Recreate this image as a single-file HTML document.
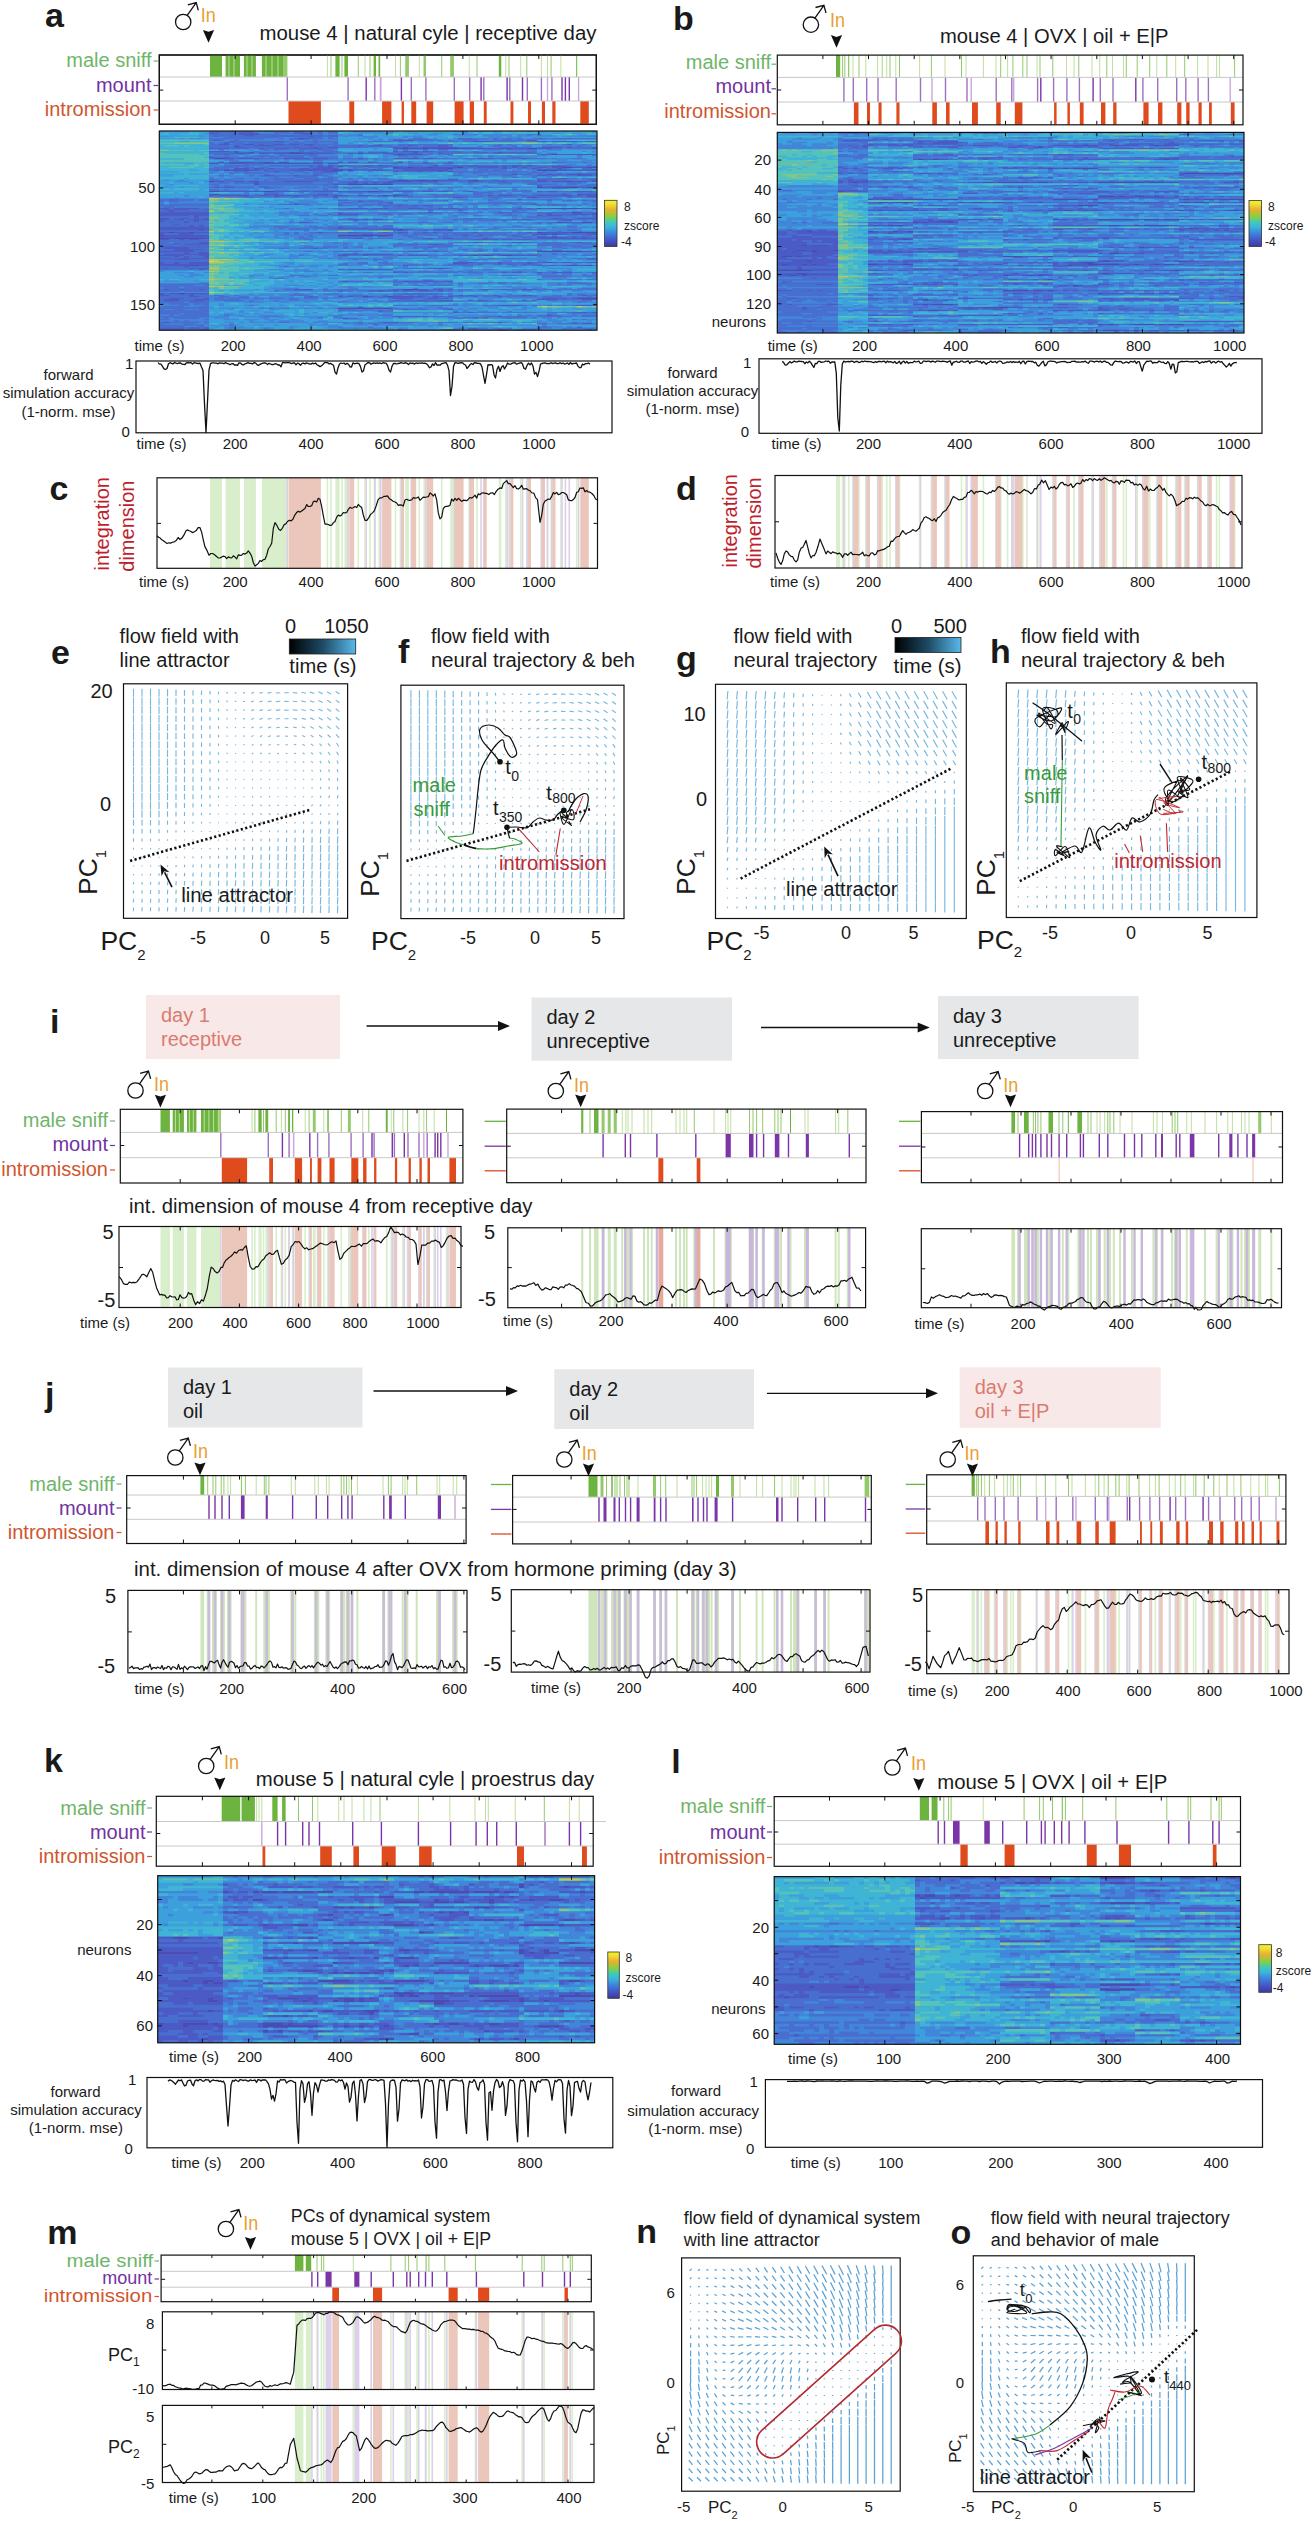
<!DOCTYPE html><html><head><meta charset="utf-8"><style>html,body{margin:0;padding:0;background:#fff;width:1316px;height:2521px;overflow:hidden}
svg{display:block;font-family:"Liberation Sans",sans-serif;fill:#1a1a1a}</style></head><body>
<svg width="1316" height="2521" viewBox="0 0 1316 2521"><defs><linearGradient id="parula" x1="0" y1="1" x2="0" y2="0">
<stop offset="0" stop-color="#3b3ba0"/><stop offset="0.15" stop-color="#4658c8"/><stop offset="0.3" stop-color="#3c88e0"/>
<stop offset="0.42" stop-color="#3cb4dc"/><stop offset="0.52" stop-color="#3ec8c0"/><stop offset="0.65" stop-color="#88d040"/>
<stop offset="0.8" stop-color="#e8b030"/><stop offset="0.92" stop-color="#f0e030"/><stop offset="1" stop-color="#f4f420"/></linearGradient>
<linearGradient id="tgrad" x1="0" y1="0" x2="1" y2="0"><stop offset="0" stop-color="#000"/><stop offset="0.5" stop-color="#1c4a64"/><stop offset="1" stop-color="#5ab8ec"/></linearGradient></defs><text x="45" y="27" font-size="34" font-weight="bold">a</text>
<circle cx="183.2" cy="22" r="7.7" fill="none" stroke="#111" stroke-width="1.3"/>
<path d="M187.2,15.4L196.2,2.6M187.8,4.8L196.2,2.6L198.3,10.3" fill="none" stroke="#111" stroke-width="1.3"/>
<text x="200.8" y="21.7" font-size="20" fill="#e8a030" textLength="15" lengthAdjust="spacingAndGlyphs">In</text>
<path d="M202.9,30L208.5,31.8L214.1,30L208.5,42.7z" fill="#111"/>
<text x="259.5" y="40" font-size="20" textLength="337" lengthAdjust="spacingAndGlyphs">mouse 4 | natural cyle | receptive day</text>
<rect x="159.3" y="55" width="437" height="69.3" fill="none" stroke="#111" stroke-width="1.2"/>
<path fill="#6cb33f" d="M210.0 55.0h12.0v22.0h-12.0zM225.6 55.0h14.4v22.0h-14.4zM243.9 55.0h12.0v22.0h-12.0zM261.9 55.0h25.4v22.0h-25.4zM335.4 55.0h4.2v22.0h-4.2zM344.4 55.0h3.6v22.0h-3.6zM373.6 55.0h2.4v22.0h-2.4zM378.5 55.0h1.7v22.0h-1.7zM498.8 55.0h2.5v22.0h-2.5zM576.2 55.0h1.0v22.0h-1.0z"/>
<path fill="#bfe0a0" d="M228.5 55.0h1.0v22.0h-1.0zM233.5 55.0h1.0v22.0h-1.0zM246.5 55.0h1.0v22.0h-1.0zM251.5 55.0h1.0v22.0h-1.0zM265.5 55.0h1.0v22.0h-1.0zM271.5 55.0h1.0v22.0h-1.0zM277.5 55.0h1.0v22.0h-1.0zM283.5 55.0h1.0v22.0h-1.0zM285.5 55.0h1.0v22.0h-1.0zM326.9 55.0h1.0v22.0h-1.0zM364.5 55.0h1.0v22.0h-1.0zM395.0 55.0h1.0v22.0h-1.0zM418.8 55.0h1.0v22.0h-1.0zM468.7 55.0h1.0v22.0h-1.0zM505.2 55.0h1.0v22.0h-1.0zM520.2 55.0h1.0v22.0h-1.0zM540.9 55.0h1.0v22.0h-1.0zM547.0 55.0h1.0v22.0h-1.0zM560.4 55.0h1.0v22.0h-1.0z"/>
<path fill="#93c96c" d="M330.5 55.0h1.0v22.0h-1.0zM341.5 55.0h1.0v22.0h-1.0zM357.8 55.0h1.0v22.0h-1.0zM369.5 55.0h1.0v22.0h-1.0zM399.9 55.0h1.0v22.0h-1.0zM405.2 55.0h3.7v22.0h-3.7zM423.5 55.0h2.5v22.0h-2.5zM441.2 55.0h1.0v22.0h-1.0zM450.2 55.0h3.7v22.0h-3.7zM476.5 55.0h1.0v22.0h-1.0zM508.5 55.0h1.0v22.0h-1.0zM526.3 55.0h1.0v22.0h-1.0zM550.6 55.0h1.0v22.0h-1.0z"/>
<path fill="#a070c0" d="M286.6 77.0h1.4v24.0h-1.4zM347.4 77.0h1.4v24.0h-1.4zM374.1 77.0h1.4v24.0h-1.4zM410.6 77.0h1.4v24.0h-1.4zM425.2 77.0h1.4v24.0h-1.4zM453.6 77.0h1.4v24.0h-1.4zM469.0 77.0h1.4v24.0h-1.4zM483.1 77.0h1.4v24.0h-1.4zM509.1 77.0h1.4v24.0h-1.4zM526.6 77.0h1.4v24.0h-1.4zM540.7 77.0h1.4v24.0h-1.4zM551.2 77.0h1.4v24.0h-1.4z"/>
<path fill="#7b35a8" d="M365.5 77.0h1.4v24.0h-1.4zM400.7 77.0h1.4v24.0h-1.4zM480.4 77.0h1.4v24.0h-1.4zM506.4 77.0h1.4v24.0h-1.4zM521.8 77.0h1.4v24.0h-1.4zM561.3 77.0h1.4v24.0h-1.4zM564.7 77.0h1.4v24.0h-1.4zM568.6 77.0h1.4v24.0h-1.4z"/>
<path fill="#c9a8dc" d="M379.7 77.0h1.9v24.0h-1.9zM546.8 77.0h1.4v24.0h-1.4zM577.9 77.0h1.4v24.0h-1.4z"/>
<path fill="#e04b1e" d="M288.5 101.0h32.4v23.3h-32.4zM349.3 101.0h4.9v23.3h-4.9zM382.1 101.0h9.3v23.3h-9.3zM401.6 101.0h2.4v23.3h-2.4zM411.3 101.0h4.9v23.3h-4.9zM426.6 101.0h6.6v23.3h-6.6zM454.6 101.0h9.0v23.3h-9.0zM469.7 101.0h4.3v23.3h-4.3zM483.8 101.0h2.9v23.3h-2.9zM510.5 101.0h2.9v23.3h-2.9zM528.0 101.0h3.0v23.3h-3.0zM541.9 101.0h3.1v23.3h-3.1zM552.3 101.0h3.2v23.3h-3.2zM580.3 101.0h8.5v23.3h-8.5z"/>
<line x1="159.3" y1="77" x2="596.3" y2="77" stroke="#c8c8c8" stroke-width="1" />
<line x1="159.3" y1="101" x2="596.3" y2="101" stroke="#c8c8c8" stroke-width="1" />
<rect x="159.3" y="55" width="437" height="69.3" fill="none" stroke="#111" stroke-width="1.2"/>
<path d="M235.2,55v4M235.2,124.3v-4M311.1,55v4M311.1,124.3v-4M387,55v4M387,124.3v-4M462.9,55v4M462.9,124.3v-4M538.8,55v4M538.8,124.3v-4" stroke="#111" stroke-width="1"/>
<path d="M159.3,90.1h4M596.3,90.1h-4" stroke="#111" stroke-width="1"/>
<text x="151.5" y="66.9" font-size="20" text-anchor="end" fill="#6fb56a">male sniff</text>
<text x="151.5" y="91.8" font-size="20" text-anchor="end" fill="#7232a2">mount</text>
<text x="151.5" y="116.4" font-size="20" text-anchor="end" fill="#d0552e">intromission</text>
<line x1="153.5" y1="61" x2="158" y2="61" stroke="#6fb56a" stroke-width="1.2" />
<line x1="153.5" y1="85.5" x2="158" y2="85.5" stroke="#7232a2" stroke-width="1.2" />
<line x1="153.5" y1="110" x2="158" y2="110" stroke="#d0552e" stroke-width="1.2" />
<g><rect x="159.3" y="131" width="437.7" height="199.2" fill="#4286da"/><path stroke="#4a4cb2" stroke-width="1.57" d="M304 133.1h5m283 2.9h5m-298 2.8h5m233 0h5m25 0h5m-174 10h30m10 0h45m19 0h10m15 0h10m-288 4.3h5m35 0h15m5 0h4m185 0h4m25 0h5m-134 1.4h5m149 0h5m25 0h5m-373 4.2h10m-15 4.3h15m5 0h25m5 0h50m4 0h60m5 0h15m5 0h5m-65 2.9h10m15 0h10m5 0h10m80 0h10m34 0h10m5 0h5m-139 1.4h5m10 0h5m15 0h5m25 0h5m99 0h10m15 0h10m-149 1.4h5m-229 1.4h5m5 0h5m5 0h5m60 0h4m20 0h10m5 0h5m20 0h15m149 0h30m5 0h25m-20 4.3h5m-184 5.7h10m5 0h15m5 0h5m35 0h5m-269 1.4h5m353 0h5m-224 2.9h45m144 2.8h5m10 0h30m5 0h5m-383 4.3h10m45 0h10m94 0h10m-164 2.8h5m164 1.4h5m5 0h5m134 1.5h5m0 11.3h5m10 0h30m10 0h5m-25 4.3h5m-20 10h5m20 0h10m-393 7.1h5m194 0h5m45 0h5m-284 2.8h5m15 0h5m343 0h5m30 0h25m-55 1.5h20m-403 1.4h5m174 0h50m159 1.4h10m-398 1.4h10m5 0h30m333 12.8h45m-109 4.3h5m5 0h10m9 0h10m35 7.1h5m-363 2.9h10m368 0h10m10 0h5m-189 24.1h15m-40 1.5h5m-204 2.8h5m179 2.9h5m20 0h5m184 1.4h20m-179 2.8h10m5 0h20m25 0h5m-145 7.1h55"/><path stroke="#4c5ac6" stroke-width="1.57" d="M209 133.1h10m20 0h20m35 0h10m5 0h4m-74 1.5h20m-45 1.4h5m10 0h5m10 0h10m15 0h54m5 0h10m249 0h5m-283 1.4h4m-19 1.4h5m5 0h5m149 0h15m69 0h5m5 0h15m5 0h25m-383 1.4h5m174 0h20m114 0h10m-308 1.5h5m40 0h10m189 0h20m44 0h10m5 0h25m10 0h10m-373 1.4h5m-10 1.4h10m15 0h10m5 0h5m10 0h10m5 0h10m5 0h9m254 0h5m-338 1.4h5m15 0h20m35 0h4m45 0h5m5 0h15m25 0h5m25 0h10m-214 1.5h10m50 0h5m14 0h5m10 0h10m55 0h5m5 0h5m15 0h35m84 0h20m5 0h5m20 0h5m-388 1.4h20m15 0h5m10 0h5m10 0h15m10 0h24m70 0h5m30 0h10m45 0h19m10 0h15m10 0h15m40 0h5m-388 2.8h20m5 0h5m154 0h5m5 0h15m5 0h10m-199 1.5h15m10 0h30m15 0h5m4 0h20m10 0h50m20 0h5m20 0h5m10 0h10m10 0h15m5 0h5m4 0h25m5 0h5m-313 1.4h5m164 0h5m5 0h20m119 0h10m5 0h25m5 0h10m-388 2.8h5m10 0h5m-5 1.4h10m5 0h20m25 0h25m4 0h15m30 0h5m30 0h25m5 0h10m45 0h15m29 0h5m-303 4.3h5m25 0h5m50 0h4m60 0h5m15 0h5m25 0h10m10 0h10m25 0h10m5 0h9m15 0h20m5 0h15m-248 2.9h4m5 0h5m5 0h5m15 0h15m10 0h5m10 0h5m40 0h5m15 0h15m10 0h34m10 0h5m5 0h5m10 0h20m-249 1.4h15m65 0h10m5 0h15m5 0h25m20 0h20m4 0h5m5 0h5m5 0h5m10 0h10m5 0h10m10 0h15m-353 1.4h15m5 0h10m5 0h5m25 0h10m4 0h25m55 0h55m54 0h5m25 0h5m20 0h5m-348 1.4h10m5 0h5m5 0h5m5 0h10m5 0h5m20 0h20m4 0h20m10 0h5m5 0h20m15 0h5m10 0h45m119 0h5m-298 1.5h5m44 0h15m55 0h5m20 0h5m15 0h5m5 0h5m59 2.8h5m30 0h5m5 0h5m5 0h10m5 0h10m-328 1.4h10m20 0h5m14 0h5m219 0h10m5 0h5m20 0h15m-35 2.9h10m-254 1.4h5m75 0h5m10 0h5m15 0h5m5 0h20m10 0h5m20 0h5m39 0h10m45 0h5m-383 1.4h10m10 0h10m5 0h10m25 0h29m40 0h5m30 0h25m5 0h20m30 0h15m15 0h9m30 0h10m5 0h15m5 0h15m5 0h5m-343 1.4h5m89 0h10m5 0h5m5 0h5m5 0h10m-139 1.5h5m74 0h15m189 1.4h5m-328 1.4h5m5 0h10m25 0h10m64 0h5m150 0h5m49 0h10m30 0h5m5 0h5m-378 4.3h45m10 0h35m4 0h55m10 0h35m10 0h10m5 0h10m20 0h5m64 0h5m5 0h10m15 0h20m-383 2.8h5m50 0h15m39 0h10m234 0h5m10 0h20m-388 1.4h5m5 0h30m10 0h10m5 0h30m9 0h5m5 0h5m5 0h15m10 0h15m5 0h5m5 0h5m5 0h10m80 0h5m5 0h14m10 0h5m10 0h35m5 0h5m5 0h10m-353 1.5h15m15 0h5m15 0h5m34 0h5m115 0h10m64 0h5m35 0h10m10 0h10m-428 2.8h5m164 0h10m95 0h5m69 0h10m20 0h5m15 0h5m5 0h10m-229 1.4h5m25 1.5h5m114 0h5m-218 1.4h5m233 0h5m15 0h5m-219 1.4h5m40 0h5m10 0h5m10 0h5m5 0h10m-274 2.8h10m5 0h25m149 0h20m5 0h15m20 0h15m15 0h20m59 0h5m5 0h5m10 0h10m30 0h10m-428 1.5h25m15 0h5m219 0h5m25 0h5m-294 1.4h5m-15 1.4h50m129 0h5m75 0h25m20 0h5m30 0h14m25 0h35m5 0h5m10 0h5m-438 1.4h50m129 0h20m25 0h5m159 0h5m20 0h25m-438 1.5h30m5 0h15m328 0h5m5 0h15m-368 1.4h5m-40 1.4h10m10 0h10m5 0h5m5 0h5m343 0h10m15 0h20m-438 1.4h10m5 0h10m5 0h20m129 0h5m5 0h40m110 0h34m30 0h10m-413 1.5h5m20 0h5m5 0h5m-30 1.4h5m10 0h5m110 0h10m84 0h5m139 0h5m5 0h10m5 0h20m-408 1.4h5m10 1.4h5m5 0h5m-45 1.4h50m129 0h5m-184 1.5h50m129 0h30m15 0h10m-234 1.4h40m5 0h5m159 0h30m5 0h10m10 0h25m-289 2.8h10m5 0h15m5 0h15m109 0h5m25 0h10m25 0h5m10 0h10m15 0h5m5 0h5m35 0h5m49 0h5m10 0h30m-413 1.5h5m15 0h15m169 0h10m15 0h5m139 0h10m20 0h5m20 0h10m-433 1.4h45m179 0h5m70 0h5m10 0h5m29 0h5m-358 1.4h50m328 0h10m10 0h10m5 0h5m5 0h5m-418 1.4h5m30 0h5m144 0h10m60 0h10m10 0h10m30 0h5m49 0h60m-438 1.4h10m10 0h5m5 0h10m274 0h25m4 0h10m5 0h15m-333 2.9h10m264 0h10m29 0h20m45 0h5m-408 1.4h5m5 0h25m199 0h5m15 0h15m-284 2.9h50m219 0h10m-274 1.4h25m124 0h5m-144 1.4h30m-45 1.4h35m214 0h15m10 0h5m144 0h15m-413 1.5h5m10 0h10m-45 1.4h45m134 0h15m5 0h30m100 0h9m-343 1.4h25m15 0h10m129 0h10m15 0h5m30 0h5m5 0h20m30 0h15m5 0h5m15 0h4m10 0h25m-363 1.4h5m5 0h5m15 0h5m-50 1.4h15m5 0h30m378 0h10m-423 1.5h15m-30 2.8h5m10 0h5m10 0h20m244 0h20m25 0h4m25 0h5m10 0h5m5 0h5m5 0h10m5 0h5m5 0h10m-438 1.4h50m244 0h15m10 0h5m15 0h4m5 0h5m10 0h15m-378 1.5h30m10 0h10m194 0h5m129 0h5m5 0h10m5 0h5m10 0h10m-403 1.4h5m-25 1.4h5m20 0h5m5 0h10m219 0h20m-249 1.4h5m134 0h5m5 0h45m0 2.9h5m5 0h5m94 0h5m5 0h10m15 0h5m10 0h20m20 0h5m-254 8.5h5m15 0h5m35 0h35m5 0h10m129 2.9h5m-423 5.6h5m10 0h5m15 0h5m90 0h19m80 0h10m15 0h10m5 0h10m5 0h5m30 0h5m14 0h5m15 0h15m-199 1.5h5m25 0h10m5 0h15m5 0h10m5 0h15m5 0h5m-284 2.8h5m5 0h10m5 0h25m194 0h35m-279 1.4h10m20 0h5m264 0h5m5 0h5m20 0h5m24 0h10m50 0h5m-398 1.5h10m110 0h4m25 0h5m5 0h5m15 0h5m10 0h5m5 0h30m10 0h10m5 0h5m20 0h5m20 0h4m-333 1.4h15m20 0h5m184 0h20m15 0h10m5 0h5m94 0h25m5 0h5m-413 1.4h15m15 0h15m328 0h20m25 0h15m-433 1.4h15m10 0h15m189 0h25m10 0h5m20 0h10m5 0h10m5 0h5m5 0h14m10 0h20m-39 4.3h24m55 0h20m-194 4.3h5m40 0h5m-115 1.4h5m10 0h5m20 0h5m70 1.4h5m10 0h5m99 0h15m5 0h5m-50 2.9h5m-159 1.4h35m70 0h4m-159 1.4h5m110 0h5m10 0h5m5 0h5m19 0h5m-348 4.3h5m214 0h15m100 0h4m70 1.4h5m5 0h10m-433 4.3h25m5 0h10m5 0h5m259 0h10m94 0h10"/><path stroke="#486ed0" stroke-width="1.57" d="M229 131.7h5m-15 1.4h20m35 0h20m19 0h10m5 0h10m50 0h5m-184 1.5h30m20 0h20m20 0h10m9 0h5m130 0h5m15 0h5m49 0h10m-328 1.4h5m5 0h10m5 0h10m10 0h15m54 0h5m15 0h5m10 0h5m174 0h20m10 0h20m-363 1.4h55m20 0h10m4 0h10m5 0h5m-124 1.4h55m15 0h5m5 0h5m15 0h14m5 0h10m75 0h15m45 0h15m5 0h5m4 0h10m5 0h5m25 0h5m-343 1.4h5m5 0h5m10 0h5m50 0h5m19 0h5m95 0h30m5 0h5m10 0h15m15 0h34m-293 1.5h40m10 0h5m5 0h5m5 0h34m30 0h25m5 0h5m45 0h10m5 0h10m20 0h24m10 0h10m10 0h5m25 0h10m-378 1.4h5m5 0h5m10 0h10m5 0h35m5 0h15m9 0h5m15 0h5m-129 1.4h10m10 0h15m10 0h5m5 0h10m10 0h5m10 0h5m9 0h25m40 0h5m15 0h55m45 0h4m5 0h5m35 0h5m10 0h5m15 0h5m-378 1.4h20m10 0h15m20 0h35m4 0h15m5 0h25m5 0h5m15 0h10m5 0h10m5 0h5m5 0h15m10 0h5m40 0h9m10 0h5m60 0h5m-373 1.5h25m10 0h50m5 0h14m5 0h10m10 0h30m20 0h5m5 0h5m5 0h15m35 0h25m15 0h34m5 0h5m20 0h5m5 0h20m-363 1.4h15m10 0h5m5 0h10m15 0h10m24 0h15m214 0h10m5 0h25m-328 1.4h5m5 0h5m20 0h5m14 0h15m-104 1.4h5m20 0h5m40 0h5m5 0h9m5 0h15m60 0h5m15 0h5m10 0h30m10 0h5m49 0h10m-328 1.5h25m20 0h5m74 0h10m50 0h20m5 0h5m5 0h5m10 0h10m10 0h10m15 0h5m-279 1.4h10m5 0h5m5 0h5m35 0h5m20 0h14m105 0h10m10 0h10m84 0h5m-288 1.4h20m5 0h25m5 0h9m80 0h10m65 0h5m10 0h5m14 0h5m-298 1.4h10m5 0h25m5 0h5m5 0h10m5 0h20m9 0h25m75 0h5m94 0h10m-313 1.4h5m20 0h5m20 0h25m25 0h4m15 0h10m5 0h15m5 0h5m5 0h5m40 0h5m10 0h25m5 0h15m15 0h29m5 0h20m5 0h5m15 0h10m-353 1.5h5m79 0h10m60 0h5m-154 1.4h5m164 1.4h20m10 0h10m10 0h25m10 0h5m9 0h15m20 0h5m15 0h10m15 0h5m5 0h5m-353 1.4h20m54 0h5m-99 1.5h25m20 0h40m4 0h5m5 0h5m5 0h5m60 0h5m5 0h15m5 0h5m5 0h15m84 0h10m20 0h5m15 0h5m-378 1.4h25m5 0h10m5 0h10m15 0h5m20 0h9m15 0h5m15 0h10m5 0h20m75 0h15m20 0h4m5 0h5m5 0h5m5 0h10m10 0h5m-343 1.4h20m20 0h5m10 0h5m5 0h25m10 0h4m40 0h5m5 0h5m10 0h5m70 0h15m5 0h29m5 0h5m5 0h15m5 0h5m5 0h10m5 0h5m15 0h10m-383 1.4h5m45 0h5m5 0h20m104 0h10m45 0h5m25 0h10m5 0h9m-268 1.5h15m15 0h10m5 0h10m5 0h10m9 0h10m75 0h20m5 0h15m5 0h5m5 0h74m5 0h5m5 0h5m-338 1.4h5m15 0h10m5 0h20m25 0h5m10 0h5m4 0h20m125 0h5m10 0h10m29 0h5m10 0h15m35 0h5m5 0h10m-333 1.4h5m44 0h10m165 0h24m5 0h15m5 0h10m5 0h5m5 0h5m25 0h5m-378 1.4h10m20 0h5m5 0h5m10 0h20m5 0h14m5 0h10m45 0h5m5 0h10m60 0h10m15 0h10m14 0h10m20 0h5m10 0h5m5 0h20m15 0h5m-323 1.4h5m15 0h24m10 0h10m174 0h5m15 0h5m-328 1.5h5m20 0h10m10 0h5m10 0h25m10 0h29m15 0h5m10 0h5m5 0h15m149 0h20m10 0h10m5 0h15m-388 1.4h10m5 0h10m30 0h5m5 0h39m5 0h20m120 0h10m10 0h15m5 0h34m15 0h20m20 0h5m-368 1.4h10m10 0h5m10 0h25m29 0h20m5 0h15m5 0h30m25 0h5m20 0h30m15 0h15m9 0h30m10 0h5m35 0h5m-373 1.4h10m5 0h20m5 0h54m15 0h5m5 0h10m10 0h5m5 0h5m5 0h5m10 0h30m5 0h10m30 0h5m15 0h24m10 0h15m30 0h15m-373 1.5h10m40 0h74m105 0h5m84 0h30m10 0h10m10 0h10m-383 1.4h5m5 0h5m94 0h5m229 0h5m20 0h15m-388 1.4h5m5 0h5m10 0h20m15 0h15m15 0h19m10 0h5m10 0h5m5 0h10m25 0h5m5 0h5m10 0h10m15 0h25m10 0h5m5 0h5m5 0h39m-268 1.4h10m20 0h5m24 0h5m20 0h5m20 0h5m174 0h15m-358 1.4h10m5 0h5m94 0h5m100 0h5m79 0h5m5 0h5m-218 1.5h4m100 0h10m10 0h5m10 0h5m10 0h5m5 0h5m10 0h19m5 0h20m10 0h5m10 0h15m20 0h5m-328 1.4h10m69 0h15m5 0h15m90 0h20m84 0h5m5 0h10m-378 1.4h30m5 0h5m20 0h5m20 0h14m10 0h10m55 0h15m20 0h10m5 0h15m15 0h10m5 0h5m5 0h24m10 0h30m5 0h5m-358 1.4h5m30 0h10m10 0h5m30 0h9m5 0h5m5 0h5m15 0h10m15 0h5m30 0h5m20 0h35m5 0h15m5 0h5m14 0h10m5 0h10m35 0h5m5 0h5m-373 1.5h5m5 0h20m15 0h15m5 0h15m5 0h10m4 0h20m70 0h50m10 0h20m5 0h29m5 0h5m10 0h20m20 0h10m-413 1.4h5m314 0h5m-339 1.4h10m5 0h20m5 0h10m139 0h5m15 0h10m15 0h30m5 0h15m5 0h5m5 0h15m15 0h5m14 0h10m10 0h20m5 0h15m5 0h5m10 0h10m-438 1.4h5m5 0h10m174 0h5m5 0h20m209 0h5m-259 1.5h15m25 0h10m90 0h29m5 0h20m-373 1.4h5m5 0h40m70 0h15m5 0h10m9 0h5m15 0h5m10 0h5m5 0h20m5 0h20m40 0h15m5 0h10m15 0h5m14 0h5m5 0h10m5 0h15m5 0h10m15 0h5m-428 1.4h50m134 0h10m5 0h15m5 0h5m5 0h10m5 0h10m5 0h5m10 0h20m84 0h5m5 0h20m10 0h5m10 0h5m-433 1.4h10m219 0h25m10 0h5m-264 1.4h5m25 0h10m75 0h5m29 0h10m5 0h15m20 0h5m15 0h20m15 0h15m20 0h59m5 0h5m5 0h5m-378 1.5h5m25 0h15m134 0h20m10 0h40m10 0h10m5 0h25m5 0h5m15 0h5m24 0h25m-378 1.4h10m5 0h35m303 0h5m-238 1.4h5m20 0h5m24 0h5m5 0h75m25 0h20m5 0h15m10 0h5m14 0h25m45 0h10m-279 1.4h5m10 0h5m25 0h5m15 0h5m5 0h5m5 0h15m94 0h5m25 0h10m5 0h20m-383 1.5h5m105 0h10m9 0h10m5 0h25m95 0h5m15 0h10m19 0h15m25 0h5m15 0h15m5 0h5m5 0h5m-438 1.4h35m5 0h10m318 0h10m5 0h5m45 0h5m-428 1.4h10m10 0h5m5 0h5m144 0h5m110 0h25m49 0h5m5 0h5m10 0h5m5 0h5m-408 1.4h5m10 0h5m154 0h5m40 0h5m60 0h45m34 0h5m5 0h20m10 0h15m5 0h5m-433 1.5h20m5 0h5m5 0h10m-50 1.4h10m5 0h10m5 0h20m80 0h10m10 0h9m25 0h10m5 0h10m5 0h20m5 0h35m10 0h10m10 0h5m49 0h10m5 0h5m5 0h5m45 0h5m-438 1.4h15m5 0h30m-50 1.4h30m5 0h5m5 0h5m174 0h10m-144 1.4h5m20 0h15m20 0h14m5 0h10m5 0h15m5 0h30m80 0h10m10 0h44m15 0h5m10 0h10m5 0h5m5 0h5m-318 1.5h5m5 0h20m4 0h25m30 0h15m10 0h5m95 0h5m-209 1.4h20m19 0h20m5 0h15m45 0h10m30 0h5m5 0h5m5 0h5m5 0h10m9 0h5m5 0h35m20 0h10m-418 1.4h50m348 0h5m15 0h5m-298 1.4h5m5 0h5m10 0h9m5 0h25m10 0h15m5 0h5m5 0h10m15 0h10m5 0h5m5 0h35m5 0h34m5 0h10m5 0h5m-373 1.5h15m15 0h15m75 0h5m5 0h5m5 0h5m39 0h15m10 0h15m10 0h10m5 0h20m10 0h5m5 0h20m5 0h29m10 0h10m40 0h20m-278 1.4h4m90 0h15m5 0h15m5 0h20m5 0h10m5 0h15m4 0h10m5 0h5m10 0h5m45 0h10m-333 1.4h5m35 0h5m5 0h4m25 0h15m5 0h5m45 0h5m25 0h10m15 0h5m5 0h5m39 0h15m35 0h5m5 0h5m5 0h10m-298 1.4h10m29 0h15m15 0h25m20 0h10m10 0h10m10 0h20m5 0h5m5 0h29m5 0h15m-368 1.4h10m5 0h5m10 0h10m95 0h9m85 0h5m25 0h5m20 0h20m25 0h4m10 0h5m15 0h5m45 0h5m-428 1.5h50m-50 1.4h10m5 0h25m134 0h5m115 0h20m10 0h15m4 0h10m20 0h5m5 0h20m5 0h10m5 0h10m-433 1.4h15m5 0h5m159 0h5m45 0h15m5 0h15m15 0h10m84 0h30m15 0h15m-438 1.4h15m5 0h30m184 0h25m15 0h25m10 0h5m5 0h5m19 0h10m25 0h45m-278 1.5h9m10 0h15m5 0h5m5 0h10m15 0h5m10 0h5m15 0h15m10 0h15m99 0h10m10 0h25m-438 1.4h5m25 0h20m70 0h10m10 0h14m5 0h10m15 0h5m20 0h5m40 0h5m5 0h5m134 0h5m15 0h5m-428 1.4h15m30 0h5m249 0h10m10 0h10m5 0h5m4 0h5m20 0h10m-343 1.4h15m95 0h9m20 0h30m20 0h5m5 0h15m15 0h10m5 0h10m25 0h10m10 0h5m9 0h20m-368 1.5h25m5 0h10m-40 1.4h5m174 0h5m15 0h5m45 0h5m40 0h10m15 0h15m9 0h20m5 0h15m10 0h5m5 0h5m25 0h5m-413 1.4h15m100 0h5m44 0h15m5 0h30m5 0h5m20 0h30m35 0h5m39 0h5m40 0h10m-433 1.4h15m5 0h5m5 0h15m-30 1.4h5m149 0h5m5 0h5m5 0h20m5 0h5m5 0h10m60 0h5m30 0h10m4 0h25m45 0h15m-428 1.5h15m15 0h20m144 0h5m15 0h10m90 0h15m99 0h10m-438 1.4h50m-45 1.4h10m5 0h10m169 0h10m10 0h10m85 0h25m4 0h25m5 0h10m15 0h5m10 0h5m5 0h5m-249 1.4h10m10 0h10m15 0h10m15 0h10m5 0h10m15 0h5m15 0h10m5 0h15m4 0h5m5 0h10m-184 1.5h10m30 0h5m25 0h20m15 0h10m5 0h15m39 0h5m5 0h5m5 0h5m5 0h5m10 0h5m30 0h5m-438 1.4h25m5 0h20m75 0h5m-130 1.4h5m5 0h20m5 0h5m194 0h5m5 0h25m20 0h5m-294 1.4h40m5 0h5m134 0h5m135 0h10m-189 1.5h9m80 0h10m15 0h15m10 0h10m5 0h5m5 0h5m44 0h5m-174 1.4h5m10 0h10m25 0h5m5 0h50m5 0h20m5 0h14m5 0h5m10 0h5m5 0h5m5 0h10m20 0h10m5 0h5m-55 1.4h5m-253 1.4h15m24 0h10m115 0h10m39 0h15m25 0h30m10 0h15m-293 1.4h5m44 0h5m10 0h5m5 0h15m149 0h25m20 0h5m-318 1.5h10m253 1.4h5m10 0h10m5 0h15m5 0h10m-259 1.4h5m5 0h15m5 0h5m5 0h25m35 0h5m-50 1.4h10m5 0h20m5 0h10m5 0h5m35 0h5m5 0h9m60 0h15m-423 1.5h50m249 0h5m15 0h10m10 0h9m5 0h15m30 0h5m5 0h15m5 0h10m-438 1.4h35m10 0h5m184 0h5m15 0h10m5 0h25m-294 1.4h20m5 0h25m134 0h10m10 0h10m134 0h5m-348 1.4h15m5 0h25m229 0h5m119 0h5m15 0h15m-438 1.4h5m5 0h10m5 0h15m5 0h5m75 0h10m29 0h5m5 0h25m30 0h5m35 0h5m10 0h5m10 0h15m5 0h5m5 0h14m5 0h15m15 0h60m-438 1.5h20m5 0h25m65 0h5m44 0h10m10 0h10m5 0h10m30 0h5m10 0h5m15 0h5m5 0h10m5 0h5m-299 2.8h5m125 0h10m19 0h15m55 0h10m35 0h15m114 0h5m5 0h5m-413 1.4h20m5 0h15m5 0h10m10 0h5m50 0h20m29 0h5m5 0h20m15 0h5m5 0h10m5 0h5m5 0h10m5 0h5m10 0h10m5 0h5m5 0h20m5 0h4m5 0h15m10 0h5m15 0h10m5 0h5m5 0h5m5 0h10m-438 1.5h30m10 0h10m10 0h10m10 0h10m55 0h5m4 0h5m25 0h5m5 0h10m10 0h10m40 0h10m10 0h5m5 0h20m10 0h15m4 0h35m5 0h20m25 0h5m-433 1.4h10m15 0h20m10 0h10m5 0h20m5 0h30m5 0h10m5 0h14m5 0h15m40 0h5m5 0h5m20 0h15m10 0h5m5 0h5m84 0h5m25 0h5m-413 1.4h5m15 0h15m20 0h25m50 0h10m99 0h15m10 0h20m114 0h25m-423 1.4h5m15 0h10m15 0h5m15 0h20m5 0h5m20 0h5m49 0h5m10 0h5m20 0h15m5 0h5m70 0h5m20 0h5m14 0h10m35 0h5m25 0h5m-428 1.5h25m5 0h20m129 0h5m234 0h5m-413 1.4h20m5 0h15m-30 1.4h10m15 0h5m40 0h5m139 0h25m10 0h30m25 0h15m24 0h5m5 0h5m10 0h5m5 0h10m5 0h5m-413 1.4h20m15 0h10m-50 1.4h50m50 0h15m5 0h10m15 0h5m9 0h5m10 0h5m55 0h5m20 0h5m15 0h10m-289 1.5h5m10 0h10m15 0h10m129 0h15m10 0h10m15 0h5m5 0h5m5 0h20m15 0h5m-289 1.4h50m134 0h10m5 0h5m10 0h5m5 0h10m-234 1.4h50m249 0h10m5 0h25m4 0h35m10 0h25m15 0h5m-433 1.4h20m5 0h25m-40 1.5h5m5 0h30m15 0h5m109 0h5m15 0h5m15 0h15m124 0h5m5 0h5m5 0h10m5 0h10m10 0h5m5 0h15m-438 1.4h50m55 0h15m54 0h5m90 0h25m30 0h15m4 0h25m10 0h35m10 0h15m-433 1.4h5m5 0h25m119 0h5m15 0h5m5 0h10m95 0h5m5 0h10m5 0h5m19 0h5m5 0h15m5 0h5m-378 1.4h10m35 0h5m363 0h5m5 0h5m-413 1.5h5m5 0h5m-30 1.4h5m5 0h30m5 0h5m70 0h10m24 0h5m25 0h5m5 0h10m15 0h5m15 0h20m20 0h20m5 0h15m5 0h15m4 0h5m65 0h5m-418 1.4h5m20 0h10m164 0h5m5 0h10m159 0h10m10 0h15m5 0h5m10 0h5m-438 1.4h45m25 0h5m139 0h5m10 0h5m45 0h5m-284 1.4h25m15 0h5m338 0h5m-363 1.5h5m10 0h5m25 0h10m25 0h5m69 0h45m75 0h5m15 0h10m5 0h9m5 0h5m25 0h15m10 0h10m10 0h15m-438 1.4h25m15 0h10m189 0h5m40 0h15m40 0h9m10 0h20m50 0h5"/><path stroke="#3ca0dc" stroke-width="1.57" d="M159 131.7h10m5 0h15m65 0h10m25 0h5m10 0h14m5 0h5m30 0h25m5 0h5m60 0h10m15 0h5m10 0h5m29 0h5m5 0h10m15 0h5m20 0h5m-433 1.4h5m5 0h20m10 0h5m139 0h15m35 0h15m10 0h15m10 0h20m5 0h5m5 0h5m10 0h9m10 0h5m20 0h15m10 0h10m10 0h5m5 0h5m-428 1.5h10m20 0h10m134 0h5m25 0h15m25 0h15m10 0h15m25 0h5m29 0h5m25 0h10m25 0h10m-418 1.4h10m5 0h15m5 0h5m169 0h5m10 0h10m20 0h20m10 0h5m15 0h10m29 0h5m15 0h5m20 0h5m-403 1.4h15m25 0h10m129 0h25m15 0h25m5 0h5m10 0h5m5 0h15m5 0h35m14 0h5m15 0h10m5 0h60m-438 1.4h20m5 0h5m15 0h5m129 0h20m5 0h5m5 0h5m5 0h5m15 0h5m30 0h15m-115 1.4h35m10 0h5m149 0h30m-388 1.5h10m149 0h15m60 0h5m15 0h5m-100 1.4h10m5 0h5m5 0h10m25 0h10m10 0h20m134 0h5m-209 1.4h5m80 0h5m20 0h5m-30 1.4h25m5 0h5m29 0h5m10 0h10m50 0h5m-259 2.9h35m5 0h10m-179 1.4h10m5 0h25m5 0h5m94 0h40m5 0h5m5 0h15m5 0h10m10 0h10m5 0h10m5 0h5m19 0h5m30 0h10m15 0h35m-254 1.4h15m5 0h5m20 0h5m144 0h5m5 0h35m5 0h5m-50 1.5h5m10 0h25m5 0h10m-348 1.4h10m10 0h5m64 0h10m5 0h5m5 0h20m-144 1.4h5m94 0h5m10 0h10m15 0h5m45 0h10m5 0h5m99 0h30m5 0h10m-254 1.4h5m10 0h5m5 0h5m10 0h5m5 0h10m25 0h5m10 0h5m5 0h10m5 0h5m5 0h5m5 0h5m49 0h40m5 0h15m-10 1.4h10m-388 1.5h15m15 0h15m25 0h5m5 0h5m74 0h5m50 0h5m25 0h5m5 0h5m5 0h29m5 0h50m10 0h15m-373 1.4h10m5 0h5m45 0h5m10 0h24m10 0h15m5 0h5m10 0h10m10 0h20m5 0h5m5 0h10m15 0h10m5 0h15m25 0h5m4 0h5m30 0h15m40 0h5m-433 1.4h30m25 1.4h5m99 0h5m50 0h15m5 0h10m30 0h5m10 0h5m5 0h5m5 0h25m4 0h20m5 0h5m25 0h10m10 0h10m5 0h5m-254 2.9h5m35 1.4h10m179 0h10m-393 1.4h10m269 0h5m34 0h5m10 0h5m-368 1.5h20m40 0h5m119 0h5m5 0h5m5 0h5m5 0h20m164 0h25m5 0h10m-254 1.4h35m10 0h15m5 0h25m-274 1.4h25m5 0h30m5 0h5m5 0h10m94 0h5m5 0h10m5 0h20m15 0h50m-289 1.4h15m159 0h5m25 0h5m60 0h10m5 0h5m69 0h5m-308 1.4h5m5 0h5m89 0h5m20 0h15m5 0h25m10 0h5m15 0h45m15 0h5m5 0h14m35 0h10m20 0h10m5 0h5m-403 1.5h5m149 0h5m50 0h10m35 0h10m10 0h10m34 0h5m25 0h5m-378 1.4h5m5 0h10m5 0h25m149 0h5m10 0h5m-219 1.4h15m15 0h15m-45 1.4h10m5 0h15m5 0h5m5 0h5m244 0h5m129 0h10m-438 1.5h10m5 0h35m219 0h5m20 0h10m15 0h20m14 0h15m-363 1.4h10m25 0h10m139 0h15m90 0h10m5 0h5m5 0h5m5 0h34m10 0h5m-378 1.4h5m5 0h10m5 0h25m-40 1.4h5m25 0h10m50 0h5m74 0h5m35 0h10m10 0h5m15 0h10m10 0h10m5 0h20m10 0h5m5 0h5m19 0h20m40 0h5m-383 1.4h5m45 0h5m5 0h15m15 0h10m49 0h30m5 0h10m45 0h5m10 0h5m10 0h30m34 0h5m-378 1.5h50m323 0h5m-363 1.4h5m5 0h30m15 0h15m5 0h15m20 0h5m5 0h5m5 0h5m24 0h5m60 0h5m10 0h5m35 0h20m29 0h5m5 0h10m-363 1.4h50m134 0h15m5 0h30m-234 1.4h25m5 0h20m-50 1.5h40m5 0h5m159 0h5m15 0h5m-104 1.4h5m10 0h9m5 0h15m5 0h10m5 0h15m10 0h10m20 0h15m10 0h5m10 0h5m15 0h15m19 0h15m5 0h5m35 0h10m10 0h15m-343 1.4h10m20 0h5m24 0h15m-59 1.4h10m15 0h5m19 0h5m5 0h10m55 0h10m5 0h10m30 0h5m10 0h10m5 0h10m19 0h15m5 0h20m5 0h10m15 0h5m-418 1.5h5m60 0h5m10 0h45m29 0h20m55 0h25m5 0h10m15 0h5m84 0h10m5 0h30m-348 1.4h10m5 0h10m10 1.4h35m9 0h25m115 0h5m10 0h5m5 0h10m14 0h15m5 0h15m45 0h5m-353 1.4h25m5 0h5m5 0h54m10 0h20m5 0h20m60 0h5m5 0h10m5 0h5m15 0h19m15 0h5m35 0h5m5 0h5m5 0h15m-353 1.4h30m20 0h15m-55 1.5h10m5 0h25m5 0h39m199 0h15m5 0h5m5 0h10m5 0h10m-313 1.4h10m10 0h14m5 0h5m45 0h10m10 0h10m45 0h5m5 0h5m5 0h5m5 0h5m5 0h5m14 0h10m15 0h10m15 0h20m20 0h5m-378 1.4h5m10 0h25m5 0h10m39 0h10m-74 1.4h30m30 0h4m130 0h5m5 0h5m20 0h15m29 0h5m-288 1.5h5m5 0h30m10 0h5m99 0h5m5 0h15m5 0h5m5 0h15m20 0h5m-219 1.4h5m5 0h15m5 0h5m10 0h34m5 0h20m15 0h10m45 0h15m15 0h10m5 0h10m5 0h24m-278 1.4h5m40 0h25m5 0h4m5 0h15m5 0h5m15 0h5m5 0h5m10 0h35m20 0h5m55 0h4m5 0h5m5 0h5m-283 1.4h20m5 0h5m10 0h10m5 0h10m29 0h5m60 0h5m-159 1.5h35m5 0h5m5 0h5m14 0h10m5 0h5m25 0h10m5 0h5m15 0h25m10 0h10m20 0h5m10 0h5m20 0h4m5 0h5m5 0h5m5 0h30m15 0h10m-348 1.4h20m10 0h10m49 0h5m-79 1.4h20m15 0h10m5 0h24m5 0h5m5 0h5m10 0h5m15 0h45m5 0h5m15 0h25m10 0h10m5 0h14m5 0h10m20 0h5m5 0h5m10 0h5m10 0h15m-348 1.4h5m45 0h5m14 0h5m55 0h5m70 0h10m15 0h34m10 0h10m15 0h20m10 0h20m-363 1.4h15m144 0h5m5 0h15m15 0h10m5 0h5m-214 1.5h5m5 0h5m5 0h10m154 0h10m15 0h5m5 0h5m5 0h20m14 0h25m5 0h5m10 0h5m30 0h15m-348 1.4h20m49 0h5m259 0h15m-328 1.4h5m5 0h25m5 0h29m70 0h5m15 0h5m104 0h10m-318 1.4h25m5 0h5m-35 1.5h5m5 0h10m5 0h5m5 0h10m-30 1.4h30m273 0h5m5 0h10m-343 1.4h5m5 0h5m5 0h10m25 0h5m34 0h5m50 0h5m45 0h15m55 0h14m-273 1.4h10m10 0h20m15 0h5m-25 1.4h5m10 0h10m19 0h25m10 0h15m10 0h20m-84 1.5h4m10 0h5m15 0h45m15 0h10m35 0h5m79 0h15m5 0h5m-313 1.4h15m5 0h10m5 0h5m5 0h10m10 0h4m40 0h5m5 0h20m5 0h10m5 0h5m10 0h30m-214 1.4h5m5 0h10m5 0h5m25 0h10m5 0h19m30 0h5m10 0h20m119 0h5m5 0h5m-263 1.4h25m10 0h5m14 0h10m30 0h5m5 0h30m-149 1.5h10m5 0h5m99 0h5m20 0h5m60 0h5m5 0h10m5 0h29m5 0h5m5 0h5m20 0h5m-328 1.4h20m10 0h5m134 0h10m30 0h5m10 0h10m25 0h10m9 0h15m5 0h15m55 0h5m-318 1.4h5m5 0h34m5 0h15m5 0h15m5 0h15m20 0h20m25 0h5m89 0h5m15 0h20m5 0h5m-353 1.4h15m5 0h15m5 0h5m89 0h5m80 0h5m25 0h5m-209 1.5h5m5 0h24m10 0h5m5 0h15m5 0h40m10 0h10m10 0h20m69 0h5m15 0h5m20 0h5m25 0h5m-353 1.4h10m5 0h5m10 0h10m10 0h5m10 0h4m5 0h10m110 0h5m134 0h5m-343 1.4h20m10 0h20m29 0h5m5 0h5m-84 1.4h15m5 0h20m10 0h14m15 0h5m15 0h15m5 0h15m15 0h30m10 0h15m5 0h5m5 0h5m5 0h5m24 0h30m20 0h5m5 0h20m5 0h5m-358 1.4h10m5 0h10m49 0h5m130 0h5m20 0h5m-189 1.5h5m19 0h25m60 0h15m10 0h5m5 0h20m99 0h5m5 0h5m5 0h5m-229 1.4h25m5 0h5m5 0h15m15 0h10m5 0h15m5 0h5m10 0h10m5 0h5m10 0h4m15 0h5m5 0h10m10 0h30m5 0h15m-323 1.4h10m10 0h39m5 0h5m25 0h10m30 0h5m10 0h5m10 0h15m-194 1.4h10m10 0h10m5 0h10m5 0h29m95 0h10m99 0h5m5 0h20m5 0h15m-333 1.5h10m20 0h10m24 0h5m155 0h10m9 0h5m-233 1.4h5m25 0h5m9 0h10m5 0h5m10 0h20m10 0h5m10 0h5m10 0h10m5 0h30m5 0h5m10 0h10m10 0h9m20 0h20m5 0h50m-318 1.4h5m10 0h5m5 0h64m5 0h5m5 0h10m60 0h20m10 0h10m29 0h5m5 0h15m25 0h25m-343 1.4h15m15 0h10m15 0h14m5 0h10m55 0h20m10 0h5m5 0h5m5 0h20m35 0h14m25 0h30m5 0h5m-413 1.5h25m5 0h15m45 0h15m10 0h5m49 0h5m5 0h10m5 0h35m144 0h10m10 0h5m10 0h25m-438 1.4h15m20 0h10m65 0h20m5 0h5m5 0h19m5 0h10m-179 1.4h30m10 0h10m45 0h10m5 0h44m5 0h20m5 0h5m30 0h5m15 0h15m25 0h10m5 0h15m15 0h15m4 0h20m5 0h10m20 0h5m10 0h10m5 0h5m-433 1.4h20m5 0h5m15 0h5m35 0h5m15 0h10m10 0h5m54 0h15m10 0h5m40 0h10m25 0h5m30 0h5m-329 1.4h25m10 0h15m20 0h5m5 0h5m10 0h15m5 0h5m15 0h5m19 0h25m65 0h10m30 0h10m5 0h25m5 0h5m4 0h10m5 0h10m10 0h5m-383 1.5h50m30 0h30m20 0h39m10 0h25m5 0h10m5 0h10m15 0h10m35 0h5m5 0h15m5 0h24m10 0h25m25 0h5m5 0h5m5 0h5m-428 1.4h5m10 0h20m85 0h39m5 0h10m10 0h15m35 0h25m10 0h20m-294 1.4h5m15 0h15m5 0h10m45 0h15m5 0h15m10 0h5m9 0h5m10 0h10m150 0h5m24 0h5m45 0h10m-418 1.4h40m50 0h5m20 0h35m4 0h5m5 0h5m5 0h5m25 0h5m5 0h5m5 0h10m60 0h5m5 0h5m54 0h25m45 0h5m-323 1.5h25m5 0h5m4 0h5m5 0h20m30 0h5m25 0h5m10 0h5m119 0h5m-323 1.4h5m5 0h10m10 0h5m10 0h15m20 0h5m4 0h20m120 0h5m5 0h20m5 0h5m9 0h10m5 0h30m25 0h15m5 0h5m-333 1.4h25m5 0h19m5 0h10m5 0h5m80 0h15m20 0h5m5 0h10m10 0h10m54 0h5m30 0h15m-333 1.4h5m30 0h14m5 0h5m5 0h20m10 0h55m5 0h15m40 0h10m5 0h24m15 0h5m15 0h10m15 0h5m-343 1.4h20m5 0h5m5 0h5m-55 1.5h5m5 0h25m10 0h5m219 0h19m10 0h5m10 0h5m10 0h5m10 0h10m10 0h15m-308 1.4h10m10 0h9m15 0h10m5 0h25m20 0h15m5 0h30m5 0h15m30 0h14m5 0h5m10 0h15m10 0h30m5 0h10m-373 1.4h5m10 0h10m5 0h5m104 0h5m85 0h10m10 0h10m5 0h14m10 0h15m10 0h30m-293 1.4h5m34 0h5m125 0h5m-199 1.5h5m5 0h10m25 0h10m24 0h5m15 1.4h5m100 0h5m5 0h15m24 0h5m-243 1.4h5m49 0h5m5 0h20m20 0h5m5 0h10m75 0h5m5 0h5m15 0h14m5 0h10m5 0h5m-174 1.4h5m174 0h10m45 0h5m-388 1.5h35m20 0h15m10 0h15m5 0h14m10 0h5m30 0h10m15 0h25m5 0h10m5 0h5m20 0h5m15 0h10m5 0h9m30 0h25m5 0h5m-363 1.4h10m5 0h5m10 0h74m10 0h10m10 0h35m5 0h5m10 0h5m5 0h20m20 0h5m5 0h5m10 0h5m5 0h5m5 0h59m10 0h35m-388 1.4h10m5 0h20m15 0h20m5 0h5m29 0h5m-114 1.4h5m5 0h35m5 0h5m5 0h20m10 0h5m5 0h14m5 0h30m5 0h5m5 0h10m5 0h35m20 0h20m5 0h15m15 0h4m15 0h5m5 0h5m-318 1.4h5m20 0h5m209 0h5m5 0h5m15 0h5m10 0h4m5 0h15m10 0h10m5 0h5m5 0h15m5 0h20m-388 1.5h20m10 0h25m15 0h20m5 0h34m140 0h20m9 0h5m15 0h15m5 0h30m5 0h15m-388 1.4h15m10 0h5m5 0h5m10 0h15m20 0h5m5 0h9m5 0h10m5 0h5m120 0h5m5 0h10m10 0h19m5 0h40m10 0h5m20 0h10m-383 1.4h5m5 0h15m5 0h5m5 0h10m10 0h25m5 0h9m15 0h15m5 0h5m5 0h20m-169 1.4h15m10 0h10m5 0h5m5 0h25m10 0h10m5 0h24m5 0h10m30 0h5m10 0h30m5 0h5m10 0h5m5 0h25m5 0h15m4 0h10m5 0h30m15 0h5m-358 1.5h10m25 0h15m25 0h5m5 0h5m5 0h24m65 0h45m5 0h10m49 0h5m5 0h5m-288 1.4h10m50 0h5m34 0h5m10 0h25m10 0h5m75 0h5m-254 1.4h5m15 0h10m5 0h15m10 0h10m5 0h10m5 0h10m14 0h5m35 0h5m25 0h5m5 0h15m5 0h5m5 0h15m89 0h5m10 0h5m5 0h35m-388 1.4h15m15 0h5m15 0h5m15 0h10m10 0h24m5 0h15m30 0h20m55 0h5m84 0h10m10 0h5m5 0h5m-363 1.5h40m5 0h15m5 0h5m25 0h14m10 0h15m15 0h5m10 0h20m70 0h10m25 0h14m20 0h5m5 0h5m20 0h20m5 0h5m-388 1.4h15m10 0h5m5 0h5m60 0h4m204 0h5m25 0h5m10 0h5m25 0h5m-378 1.4h10m5 0h75m4 0h10m15 0h5m70 0h5m10 0h10m5 0h20m35 0h4m10 0h5m-303 1.4h5m20 0h15m10 0h10m5 0h30m29 0h15m15 0h5m75 0h5m84 0h5m5 0h50m-388 1.4h5m5 0h5m10 0h5m5 0h10m5 0h30m10 0h14m5 0h10m15 0h25m5 0h15m5 0h15m5 0h15m5 0h35m10 0h15m24 0h20m25 0h5m5 0h5m5 0h15m-383 1.5h10m30 0h5m15 0h15m5 0h29m70 0h5m10 0h30m74 0h10m-298 1.4h10m30 0h10m5 0h15m59 0h5m15 0h20m15 0h10m15 0h5m104 0h20m10 0h10"/><path stroke="#40b4d4" stroke-width="1.57" d="M169 131.7h5m15 0h20m129 0h5m5 0h5m30 0h5m5 0h5m5 0h50m15 0h10m5 0h10m5 0h4m5 0h5m10 0h5m5 0h5m10 0h15m5 0h20m-423 1.4h5m20 0h10m139 0h5m130 0h5m5 0h10m9 0h10m5 0h20m50 0h5m-433 1.5h10m10 0h20m164 0h10m15 0h5m5 0h15m139 0h15m5 0h5m10 0h10m-154 1.4h10m-279 1.4h25m229 0h5m15 0h5m114 2.8h30m-438 1.5h20m10 0h20m149 1.4h5m10 0h25m10 0h10m20 0h10m5 0h10m5 0h15m59 0h5m5 0h5m10 0h5m5 0h5m-423 1.4h45m-45 1.4h5m15 0h5m5 0h20m-50 1.5h50m-50 1.4h50m179 0h5m-199 1.4h5m139 0h15m105 0h5m10 0h5m-319 1.4h50m-45 1.5h40m378 0h5m-388 1.4h10m254 0h5m5 0h10m5 0h10m19 0h10m5 0h5m-174 1.4h15m-174 1.4h5m159 0h10m90 0h5m-314 1.4h25m224 1.5h15m5 0h25m5 0h5m-35 1.4h10m30 0h25m5 0h4m5 0h15m5 0h10m-378 1.4h5m30 0h15m-25 1.4h10m5 0h5m134 0h40m80 0h5m5 0h5m25 0h4m20 0h5m5 0h15m5 0h5m-398 1.5h30m10 0h10m-50 1.4h10m25 0h10m-45 1.4h50m-50 1.4h30m10 0h10m-30 1.5h30m149 0h5m219 0h5m-428 1.4h50m129 0h5m35 0h10m15 0h5m25 0h20m-269 1.4h5m169 0h5m20 0h10m55 0h5m-279 1.4h35m184 0h10m5 0h20m10 0h5m-284 1.4h50m179 0h10m5 0h15m134 0h5m5 0h5m10 0h5m5 0h10m-438 1.5h25m5 0h20m194 0h35m30 0h10m5 0h19m5 0h25m-363 4.2h5m25 0h5m-45 2.9h5m10 0h25m139 0h10m15 0h60m10 0h20m10 0h5m5 0h5m44 0h10m-373 2.8h10m5 0h25m204 0h10m75 0h5m5 0h14m-353 1.4h40m5 0h5m129 0h10m189 0h25m15 0h15m-433 2.9h15m5 0h5m30 0h15m60 0h5m99 0h5m20 0h30m-249 4.3h5m45 1.4h5m5 0h30m5 0h10m44 0h5m15 0h10m10 0h20m15 0h10m5 0h10m124 0h10m-363 1.4h35m10 0h10m15 0h5m-55 1.4h25m15 0h5m174 0h5m10 0h5m44 0h5m-313 1.5h15m5 0h10m189 0h15m-234 1.4h15m5 1.4h35m-45 1.4h10m94 0h10m140 0h10m19 0h5m15 0h35m5 0h5m5 0h5m-348 1.4h10m0 1.5h10m10 0h5m25 0h5m253 0h5m20 0h5m-343 1.4h40m34 0h5m5 0h45m10 0h10m10 0h30m5 0h10m5 0h5m15 0h5m64 0h15m-343 1.4h10m5 0h10m5 1.4h10m-20 1.5h10m5 0h5m169 0h5m-194 1.4h25m5 0h5m15 0h5m5 0h10m34 0h5m20 0h15m15 0h5m75 0h5m10 0h5m-259 1.4h5m5 0h40m54 0h5m164 0h5m-293 1.4h5m5 0h15m-15 1.5h20m35 0h5m54 0h15m15 0h5m5 0h10m124 0h5m5 0h5m-298 1.4h5m5 1.4h5m25 0h15m10 0h5m44 0h10m15 0h5m184 0h10m-343 1.4h5m10 0h10m144 0h30m10 0h15m15 0h5m5 0h5m54 0h15m-333 1.4h20m164 0h5m15 0h15m-214 1.5h20m-30 1.4h5m15 0h20m-15 1.4h5m5 0h5m15 0h5m84 0h20m80 0h25m5 0h5m5 0h19m5 0h5m-308 1.4h15m-10 1.5h10m5 0h5m-15 1.4h20m-25 1.4h5m5 0h5m5 0h5m-25 1.4h15m10 0h10m-35 1.4h5m5 0h10m20 0h10m5 0h10m54 0h10m-69 1.5h15m19 0h10m5 0h15m45 0h15m10 0h15m5 0h15m5 0h10m5 0h15m10 0h39m15 0h5m5 0h40m-368 1.4h15m30 0h5m104 0h5m20 0h5m-189 1.4h10m5 0h5m10 0h5m40 0h5m149 0h25m10 0h19m5 0h5m5 0h15m-288 1.4h10m30 0h5m-75 1.5h15m5 0h5m229 0h5m39 0h5m5 0h10m-318 1.4h5m20 0h10m263 0h5m-298 1.4h5m10 0h5m15 0h10m5 0h5m5 0h5m34 0h5m15 0h5m15 0h5m15 0h20m144 0h5m30 0h5m5 0h5m-378 1.4h20m35 0h5m-35 1.5h5m15 0h20m5 0h5m104 0h5m15 0h10m25 0h15m20 0h29m5 0h10m-303 1.4h15m10 0h5m25 0h5m24 0h5m-89 1.4h5m0 1.4h15m15 0h5m94 0h5m85 0h5m5 0h5m5 0h5m5 0h10m5 0h9m80 0h5m-378 1.4h25m10 1.5h40m5 0h19m80 0h5m15 0h10m5 0h5m-159 1.4h25m14 0h35m55 0h15m30 0h5m25 0h5m5 0h10m14 0h5m5 0h5m50 0h5m-328 1.4h20m59 0h5m75 0h10m5 0h10m-194 1.4h15m10 0h10m25 0h5m238 0h5m40 0h5m-368 1.5h30m104 0h5m-144 1.4h5m10 0h35m64 0h10m20 0h5m10 0h5m30 0h5m-159 1.4h15m5 0h10m5 0h5m174 0h5m10 0h29m5 0h5m-293 1.4h15m159 0h10m5 0h5m144 0h20m-408 1.5h5m45 0h15m15 0h10m59 0h5m10 0h5m-139 1.4h5m5 0h40m20 0h5m5 0h5m19 0h5m-99 1.4h10m10 0h5m10 0h5m69 0h5m5 0h30m5 0h15m15 0h25m10 0h5m45 0h4m20 0h5m-293 1.4h10m30 0h10m-50 1.4h5m5 0h5m209 0h5m25 0h5m5 0h4m10 0h5m10 0h10m-308 1.5h10m124 0h5m25 0h15m10 0h35m5 0h5m109 0h5m5 0h5m-428 1.4h5m5 0h10m20 0h10m40 0h5m5 0h20m44 0h5m10 0h10m15 0h30m60 0h15m15 0h34m10 0h10m-308 1.4h5m15 0h5m15 0h5m20 0h5m5 0h9m140 0h35m5 0h24m5 0h45m10 0h20m-353 1.4h5m5 0h20m44 0h5m55 0h5m-134 1.5h25m25 0h5m5 0h4m30 0h15m5 0h10m5 0h15m-174 1.4h5m5 0h5m10 0h10m5 0h10m69 0h5m5 0h35m100 0h5m5 0h9m10 0h5m-273 1.4h20m25 0h5m99 0h25m15 0h20m89 0h5m5 0h30m-373 1.4h10m20 0h25m49 0h5m135 0h20m10 0h5m-274 1.4h20m-20 1.5h5m5 0h5m25 0h10m-30 1.4h55m10 0h10m9 0h15m10 0h5m25 0h20m15 0h5m30 0h5m15 0h30m14 0h5m5 0h10m15 0h10m-338 1.4h10m5 0h10m224 0h10m10 0h5m39 0h10m-84 5.7h10m44 0h5m-189 2.9h10m85 0h5m10 0h5m5 0h20m5 0h15m10 0h5m9 0h5m5 0h15m-303 1.4h10m74 0h10m10 0h10m35 0h5m5 0h10m5 0h5m20 0h20m30 0h5m5 0h5m59 0h10m-273 1.4h5m44 0h10m5 0h15m5 0h5m5 0h5m-174 1.4h5m35 0h5m5 0h5m20 0h10m5 0h5m14 0h5m40 0h5m10 0h5m114 1.4h5m35 0h5m5 0h5m-323 1.5h5m25 0h5m30 0h5m238 0h5m-323 1.4h10m40 0h20m5 0h5m9 0h5m10 0h5m70 0h35m5 0h10m99 0h10m5 0h10m5 0h5m-378 1.4h5m5 0h5m25 0h5m45 0h5m14 0h10m15 0h5m5 0h5m-74 1.4h10m39 0h5m140 0h5m15 0h4m10 0h5m40 0h5m-273 1.5h5m5 0h5m134 0h5m-204 2.8h5m50 0h5m29 0h5m85 0h5m5 0h5m-110 1.4h5m65 0h15m15 0h5m5 0h15m5 0h10m5 0h10m15 0h44m-194 1.5h15m5 0h10m20 0h10m45 0h15m10 0h25m14 0h5m5 0h10m-323 2.8h10m109 0h10m125 0h5m5 0h15m5 0h5m4 0h10m5 0h15m-278 2.8h5m54 0h5m70 0h5m15 0h5m55 0h10m15 0h5m4 0h15m-79 1.5h5m-234 1.4h15m10 0h30m10 0h5m15 0h29m5 0h25m5 0h15"/><path stroke="#54c3bc" stroke-width="1.57" d="M343 131.7h5m50 0h5m99 0h5m5 0h10m-129 2.9h5m169 0h5m-413 5.6h50m-50 2.9h15m274 0h5m10 0h5m15 0h39m15 0h5m5 0h5m5 0h10m15 0h15m-393 1.4h5m-45 1.4h15m5 0h5m-20 4.3h25m5 0h10m-50 2.9h5m40 0h5m-50 1.4h40m254 0h10m5 0h5m10 0h5m10 0h19m10 0h5m-373 1.4h50m-50 1.4h45m-20 1.4h25m-50 1.5h50m184 0h15m-249 1.4h50m313 0h5m-368 2.8h25m10 0h5m5 0h5m338 0h5m-363 1.5h10m-30 1.4h25m10 0h5m194 8.5h5m149 1.4h5m-84 1.5h5m-60 7.1h10m-20 2.8h5m144 1.4h15m15 0h5m-149 2.9h5m-214 5.7h10m5 0h5m-45 1.4h5m0 1.4h20m214 0h5m-249 1.5h5m-5 1.4h5m15 0h5m-5 1.4h5m-20 1.4h10m-15 1.4h5m10 0h10m-20 1.5h5m15 0h10m-30 1.4h25m-30 2.8h30m-30 1.5h20m-10 1.4h10m-10 1.4h10m-20 1.4h5m5 0h5m-10 1.5h10m164 0h5m-184 1.4h20m-15 1.4h25m5 0h5m-40 1.4h15m5 0h10m184 0h10m15 0h5m15 0h5m-264 2.9h10m-5 1.4h5m5 0h5m-15 1.4h5m5 0h10m5 0h5m5 0h15m84 0h5m20 0h5m10 0h5m85 0h5m5 0h5m19 0h5m5 0h15m-328 1.4h5m0 1.5h5m-10 1.4h15m-15 1.4h10m-10 1.4h10m-5 1.4h5m5 0h5m10 0h20m-25 1.5h10m5 0h30m15 0h15m119 0h5m30 0h5m15 0h10m-284 1.4h20m-15 1.4h10m254 0h10m-259 1.4h5m5 0h10m-40 1.5h10m15 0h5m-25 1.4h5m-10 1.4h10m15 0h5m5 0h15m10 0h5m-60 1.4h5m20 1.5h5m5 0h15m204 0h20m44 0h5m-328 1.4h20m-20 1.4h20m5 0h5m-25 1.4h20m259 0h5m-289 1.4h5m20 1.5h15m-10 1.4h10m5 0h20m25 0h14m-84 1.4h25m-40 1.4h15m5 0h10m-35 1.5h5m5 0h10m-10 1.4h5m5 0h10m134 0h5m10 0h5m-164 1.4h15m5 0h15m209 0h5m-259 1.4h20m-20 1.5h20m-30 1.4h10m5 0h5m-10 1.4h10m10 0h10m-40 1.4h25m-20 1.4h15m-10 1.5h10m5 1.4h15m5 0h5m20 0h5m184 0h15m34 0h10m-313 1.4h15m5 0h15m-30 1.4h10m5 0h10m-20 1.5h5m5 0h5m5 0h5m109 0h5m-154 1.4h10m124 0h5m35 0h10m-164 1.4h5m5 0h5m-20 1.4h15m-30 1.4h5m-5 1.5h5m10 1.4h10m-25 1.4h5m298 8.6h5m15 0h5m-189 2.8h5m15 0h5m5 0h5m5 0h5m169 1.4h15m10 0h5m-199 4.3h10m35 0h5m134 0h5m-174 8.5h15m5 0h5m30 0h5m10 0h15m-90 1.5h30m5 0h10m69 0h5m-54 2.8h5m15 0h5m39 0h5m-39 2.8h4m-59 1.5h10m-130 1.4h5"/><path stroke="#7dc891" stroke-width="1.57" d="M174 143.1h35m313 0h15m-378 7.1h10m50 48.4h5m5 0h10m-30 1.4h5m-5 1.4h10m-10 4.3h20m-20 1.4h5m0 1.4h10m-15 1.5h5m5 0h15m-25 7.1h10m-10 1.4h10m-10 2.9h5m-5 2.8h5m-5 2.8h5m5 2.9h5m-5 1.4h5m114 0h10m30 0h10m-179 2.9h5m-5 5.6h5m10 1.5h10m10 0h5m-40 2.8h5m-5 1.4h10m5 0h5m5 0h5m-30 2.9h5m5 1.4h5m5 0h5m-25 1.4h5m-5 1.5h10m5 0h15m-30 4.2h5m15 2.9h5m-15 1.4h20m10 0h5m-30 1.4h5m-20 1.4h5m15 0h5m-20 1.5h5m-10 1.4h10m0 1.4h10m15 0h5m-40 1.4h10m-5 1.5h5m-5 2.8h5m-10 2.8h5m-5 1.5h10m-5 1.4h20m-25 1.4h5m-5 1.4h10m10 0h5m-25 1.5h15m5 0h5m5 0h5m-30 2.8h5m5 0h5m5 0h5m-20 1.4h5m-10 4.3h10m313 14.2h5m5 0h15m20 0h5m5 0h5m-164 14.3h5"/><path stroke="#b4cd5a" stroke-width="1.57" d="M209 198.6h10m5 0h5m-20 12.8h5m-5 19.9h5m-5 10h15m-5 4.2h5m-5 7.2h5m-15 7.1h20m-15 1.4h5m-10 1.4h15m-15 5.7h10m-10 2.9h5m-5 2.8h5m-5 5.7h5m-5 7.1h5m5 0h5m-15 5.7h5m328 14.2h5m30 0h5"/><path stroke="#e8d73c" stroke-width="1.57" d="M209 261.2h5"/></g>
<rect x="159.3" y="131" width="437.7" height="199.2" fill="none" stroke="#111" stroke-width="1.2"/>
<path d="M235.2,131v4M235.2,330.2v-4M311.1,131v4M311.1,330.2v-4M387,131v4M387,330.2v-4M462.9,131v4M462.9,330.2v-4M538.8,131v4M538.8,330.2v-4" stroke="#111" stroke-width="1"/>
<path d="M159.3,188h4M597,188h-4M159.3,246.2h4M597,246.2h-4M159.3,304.4h4M597,304.4h-4" stroke="#111" stroke-width="1"/>
<text x="155" y="193.3" font-size="15" text-anchor="end">50</text>
<text x="155" y="251.5" font-size="15" text-anchor="end">100</text>
<text x="155" y="309.7" font-size="15" text-anchor="end">150</text>
<text x="134.6" y="350.8" font-size="15">time (s)</text>
<text x="233.2" y="350.8" font-size="15" text-anchor="middle">200</text>
<text x="309.1" y="350.8" font-size="15" text-anchor="middle">400</text>
<text x="385" y="350.8" font-size="15" text-anchor="middle">600</text>
<text x="460.9" y="350.8" font-size="15" text-anchor="middle">800</text>
<text x="536.8" y="350.8" font-size="15" text-anchor="middle">1000</text>
<rect x="604.6" y="200.3" width="12.4" height="46.2" fill="url(#parula)" stroke="#333" stroke-width="0.8"/>
<text x="624" y="210.7" font-size="12">8</text>
<text x="624" y="229.5" font-size="12">zscore</text>
<text x="621" y="246.2" font-size="12">-4</text>
<rect x="136" y="361" width="476" height="71.8" fill="none" stroke="#111" stroke-width="1.2"/>
<path d="M136,362.5h0M612,362.5h0" stroke="#111" stroke-width="1"/>
<text x="125" y="369" font-size="15">1</text>
<text x="121.5" y="437.4" font-size="15">0</text>
<text x="68.5" y="380" font-size="15" text-anchor="middle">forward</text>
<text x="68.5" y="398" font-size="15" text-anchor="middle">simulation accuracy</text>
<text x="68.5" y="417" font-size="15" text-anchor="middle">(1-norm. mse)</text>
<path d="M158.0 362.6l1.5 1.5 1.5 0.1 1.5 2.1 1.5 2.5 1.5 0.7 1.5-1 1.5-4.8 1.5-1 1.5 0.7 1.5 0.5 1.5-1.4 1.5 0.7 1.5 0.5 1.5-0.8 1.5 0.1 1.5 1.1 1.5 0.2 1.5 0.2 1.5-1.7 1.5-0.1 1.5 0.2 1.5-0.3 1.5 1.5 1.5-1.5 1.5 0.2 1.5 0.6 1.5 0.1 1.5-0.3 1.5 3.8 1.5 3.5 1.5 33.1 1.5 28.9 1.5-30.7 1.5-31.9 1.5-6.3 1.5-0.7 1.5 0 1.5 0.2 1.5 0 1.5 0.7 1.5-1 1.5 0.4 1.5 0 1.5 0.5 1.5-1.1 1.5 0.8 1.5 0.4 1.5 0.9 1.5-0.9 1.5-0.2 1.5 1.4 1.5-0.2 1.5 0.6 1.5-2.6 1.5 0.3 1.5 1.4 1.5 0.4 1.5-1.1 1.5-0.4 1.5-0.7 1.5 0.6 1.5 0 1.5 0.6 1.5-1.3 1.5 0.3 1.5 1.8 1.5 0.7 1.5-1.1 1.5-0.7 1.5-0.5 1.5-0.2 1.5 0.2 1.5 1.5 1.5-1.3 1.5 0.7 1.5 0.7 1.5-0.2 1.5-0.8 1.5 0.2 1.5 1.1 1.5-0.2 1.5 2 1.5-4.2 1.5 0.1 1.5 0.2 1.5-0.2 1.5 0 1.5 0.2 1.5 0.8 1.5-0.7 1.5-0.1 1.5 1.9 1.5-1.7 1.5 0.6 1.5 1.6 1.5-1.9 1.5-0.2 1.5 0.7 1.5-1 1.5 0.6 1.5 0.3 1.5 0.3 1.5-1 1.5 0.7 1.5-0.8 1.5 1.7 1.5 0.9 1.5 1 1.5-0.8 1.5-1.4 1.5-1.7 1.5 0 1.5-0.1 1.5 1.3 1.5-0.6 1.5 1.1 1.5 0.8 1.5 6.9 1.5 2 1.5-6.2 1.5-3.9 1.5-1 1.5 0.5 1.5-0.5 1.5 1.4 1.5-1.2 1.5 1.1 1.5 2.6 1.5 0.1 1.5-4.2 1.5 1 1.5-0.4 1.5-0.3 1.5 0.5 1.5 3 1.5 5.5 1.5-1.4 1.5-5.9 1.5-1 1.5-1.3 1.5 0.3 1.5 1.5 1.5-1 1.5-0.5 1.5 0.5 1.5-0.5 1.5 0.5 1.5-0.3 1.5 0.7 1.5-1 1.5 0.3 1.5 0.1 1.5 2.3 1.5 4.8 1.5 1.9 1.5-5.8 1.5-2.8 1.5-0.1 1.5 0.6 1.5-0.5 1.5-0.1 1.5-0.8 1.5 0.5 1.5 0.2 1.5-0.7 1.5 0.7 1.5 1.3 1.5-1.7 1.5 0.5 1.5-0.3 1.5 1 1.5-1.2 1.5 0.6 1.5-0.3 1.5 0 1.5-0.4 1.5 0.6 1.5-0.2 1.5 0.6 1.5 1.6 1.5 2.4 1.5-0.8 1.5-3.1 1.5 1.6 1.5-2.9 1.5 2.5 1.5-0.2 1.5 0.3 1.5-1.5 1.5-0.4 1.5-0.4 1.5-0.3 1.5 2.5 1.5 5.5 1.5 24.9 1.5-9.1 1.5-19.8 1.5-4 1.5 0.3 1.5 0.4 1.5-0.3 1.5-0.4 1.5 0.2 1.5 1.4 1.5 0.8 1.5 3.5 1.5-1.7 1.5-2.2 1.5-1.1 1.5 1 1.5-1.8 1.5 0.3 1.5 0.4 1.5-0.1 1.5 0.6 1.5 3.1 1.5 8.4 1.5 7.9 1.5-8.7 1.5-10 1.5 0.4 1.5-0.3 1.5 0.4 1.5 9.6 1.5 3.3 1.5-8.5 1.5-3.2 1.5 5.2 1.5-4.2 1.5-1.7 1.5 3.3 1.5-2.5 1.5-3.4 1.5 1.2 1.5 0 1.5-0.8 1.5-0.6 1.5-0.1 1.5 1.3 1.5-0.3 1.5-0.6 1.5-0.5 1.5 1.4 1.5 4.5 1.5 0.8 1.5-3.9 1.5-2.3 1.5 1.7 1.5-1.8 1.5 3.2 1.5 7.9 1.5-1.7 1.5 4.2 1.5-5.3 1.5-7.1 1.5-0.7 1.5-0.4 1.5-0.2 1.5 0.6 1.5 0.1 1.5 0 1.5-0.9 1.5 0.9 1.5-0.4 1.5-0.3 1.5 0.7 1.5 0.1 1.5-1 1.5 0.9 1.5-0.6 1.5 1.1 1.5-0.5 1.5-0.6 1.5 1.4 1.5-1.9 1.5 1.6 1.5-0.7 1.5 0 1.5-0.4 1.5 3.1 1.5 1.5 1.5-0.1 1.5-3.4 1.5 0.7 1.5-1.2 1.5 0 1.5-0.6 1.5 1.2" stroke="#111" stroke-width="1.3" fill="none" stroke-linejoin="round" />
<text x="136.5" y="449" font-size="15">time (s)</text>
<text x="235.2" y="449" font-size="15" text-anchor="middle">200</text>
<text x="311.1" y="449" font-size="15" text-anchor="middle">400</text>
<text x="387" y="449" font-size="15" text-anchor="middle">600</text>
<text x="462.9" y="449" font-size="15" text-anchor="middle">800</text>
<text x="538.8" y="449" font-size="15" text-anchor="middle">1000</text>
<text x="673" y="30" font-size="34" font-weight="bold">b</text>
<circle cx="810.9" cy="24.7" r="7.7" fill="none" stroke="#111" stroke-width="1.3"/>
<path d="M814.9,18.1L823.9,5.3M815.5,7.5L823.9,5.3L826,13" fill="none" stroke="#111" stroke-width="1.3"/>
<text x="829.9" y="26.9" font-size="20" fill="#e8a030" textLength="15" lengthAdjust="spacingAndGlyphs">In</text>
<path d="M830.9,35.1L836.5,36.9L842.1,35.1L836.5,47.8z" fill="#111"/>
<text x="940" y="43" font-size="20" textLength="228.5" lengthAdjust="spacingAndGlyphs">mouse 4 | OVX | oil + E|P</text>
<path fill="#6cb33f" d="M836.0 55.1h4.2v22.3h-4.2z"/>
<path fill="#93c96c" d="M842.1 55.1h1.0v22.3h-1.0zM844.3 55.1h1.0v22.3h-1.0zM848.0 55.1h1.3v22.3h-1.3zM858.5 55.1h1.0v22.3h-1.0zM889.5 55.1h1.0v22.3h-1.0zM899.0 55.1h1.0v22.3h-1.0zM930.9 55.1h1.0v22.3h-1.0zM961.0 55.1h1.0v22.3h-1.0zM1000.2 55.1h1.0v22.3h-1.0zM1012.4 55.1h1.0v22.3h-1.0zM1022.3 55.1h1.0v22.3h-1.0zM1026.5 55.1h1.0v22.3h-1.0zM1039.5 55.1h1.0v22.3h-1.0zM1052.3 55.1h1.0v22.3h-1.0zM1078.3 55.1h1.0v22.3h-1.0zM1106.3 55.1h1.0v22.3h-1.0zM1125.8 55.1h1.0v22.3h-1.0zM1136.7 55.1h1.0v22.3h-1.0zM1149.2 55.1h1.0v22.3h-1.0zM1166.3 55.1h1.0v22.3h-1.0zM1184.2 55.1h1.0v22.3h-1.0zM1234.1 55.1h1.0v22.3h-1.0z"/>
<path fill="#bfe0a0" d="M852.5 55.1h1.0v22.3h-1.0zM865.3 55.1h1.0v22.3h-1.0zM877.1 55.1h1.0v22.3h-1.0zM881.6 55.1h1.4v22.3h-1.4zM886.2 55.1h1.0v22.3h-1.0zM895.3 55.1h1.0v22.3h-1.0zM919.1 55.1h1.0v22.3h-1.0zM944.5 55.1h1.0v22.3h-1.0zM965.5 55.1h1.0v22.3h-1.0zM982.9 55.1h1.0v22.3h-1.0zM995.5 55.1h1.0v22.3h-1.0zM1007.1 55.1h1.0v22.3h-1.0zM1036.5 55.1h1.0v22.3h-1.0zM1066.0 55.1h1.0v22.3h-1.0zM1073.5 55.1h1.0v22.3h-1.0zM1091.5 55.1h1.0v22.3h-1.0zM1099.2 55.1h1.0v22.3h-1.0zM1112.0 55.1h1.0v22.3h-1.0zM1123.0 55.1h1.0v22.3h-1.0zM1156.2 55.1h1.0v22.3h-1.0zM1175.2 55.1h1.0v22.3h-1.0zM1197.1 55.1h1.0v22.3h-1.0zM1207.5 55.1h1.0v22.3h-1.0zM1216.1 55.1h1.0v22.3h-1.0zM1218.9 55.1h1.0v22.3h-1.0z"/>
<path fill="#a070c0" d="M843.2 77.4h1.4v24.6h-1.4zM852.6 77.4h1.4v24.6h-1.4zM866.0 77.4h1.4v24.6h-1.4zM877.3 77.4h1.4v24.6h-1.4zM895.5 77.4h1.4v24.6h-1.4zM919.8 77.4h1.4v24.6h-1.4zM944.8 77.4h1.4v24.6h-1.4zM966.3 77.4h1.4v24.6h-1.4zM995.5 77.4h1.4v24.6h-1.4zM1011.1 77.4h1.4v24.6h-1.4zM1036.9 77.4h1.4v24.6h-1.4zM1052.9 77.4h1.4v24.6h-1.4zM1066.2 77.4h1.4v24.6h-1.4zM1078.7 77.4h1.4v24.6h-1.4zM1099.6 77.4h1.4v24.6h-1.4zM1112.3 77.4h1.4v24.6h-1.4zM1142.2 77.4h1.4v24.6h-1.4zM1157.0 77.4h1.4v24.6h-1.4zM1176.0 77.4h1.4v24.6h-1.4zM1185.1 77.4h1.4v24.6h-1.4zM1197.4 77.4h1.4v24.6h-1.4zM1207.7 77.4h1.4v24.6h-1.4z"/>
<path fill="#c9a8dc" d="M931.3 77.4h1.4v24.6h-1.4zM970.5 77.4h1.4v24.6h-1.4zM1013.0 77.4h1.4v24.6h-1.4zM1229.5 77.4h1.4v24.6h-1.4z"/>
<path fill="#7b35a8" d="M1040.1 77.4h1.4v24.6h-1.4zM1092.4 77.4h1.4v24.6h-1.4zM1135.1 77.4h1.4v24.6h-1.4z"/>
<path fill="#e04b1e" d="M853.9 102.0h4.6v22.8h-4.6zM867.0 102.0h3.0v22.8h-3.0zM878.5 102.0h3.1v22.8h-3.1zM896.4 102.0h3.1v22.8h-3.1zM932.3 102.0h4.6v22.8h-4.6zM946.0 102.0h3.6v22.8h-3.6zM972.0 102.0h5.9v22.8h-5.9zM996.2 102.0h4.5v22.8h-4.5zM1014.8 102.0h7.6v22.8h-7.6zM1054.1 102.0h2.5v22.8h-2.5zM1067.4 102.0h2.5v22.8h-2.5zM1079.8 102.0h3.8v22.8h-3.8zM1101.0 102.0h4.4v22.8h-4.4zM1113.2 102.0h3.3v22.8h-3.3zM1143.4 102.0h5.2v22.8h-5.2zM1158.0 102.0h4.4v22.8h-4.4zM1177.2 102.0h4.2v22.8h-4.2zM1186.2 102.0h3.4v22.8h-3.4zM1198.5 102.0h3.2v22.8h-3.2zM1209.0 102.0h2.8v22.8h-2.8zM1230.8 102.0h3.8v22.8h-3.8z"/>
<line x1="777.3" y1="77.4" x2="1243" y2="77.4" stroke="#c8c8c8" stroke-width="1" />
<line x1="777.3" y1="102" x2="1243" y2="102" stroke="#c8c8c8" stroke-width="1" />
<rect x="777.3" y="55.1" width="465.7" height="69.7" fill="none" stroke="#111" stroke-width="1.2"/>
<path d="M822.9,55.1v4M822.9,124.8v-4M868.5,55.1v4M868.5,124.8v-4M914.2,55.1v4M914.2,124.8v-4M959.8,55.1v4M959.8,124.8v-4M1005.5,55.1v4M1005.5,124.8v-4M1051.1,55.1v4M1051.1,124.8v-4M1096.8,55.1v4M1096.8,124.8v-4M1142.4,55.1v4M1142.4,124.8v-4M1188.1,55.1v4M1188.1,124.8v-4M1233.7,55.1v4M1233.7,124.8v-4" stroke="#111" stroke-width="1"/>
<path d="M777.3,90h4M1243,90h-4" stroke="#111" stroke-width="1"/>
<text x="771" y="68.5" font-size="20" text-anchor="end" fill="#6fb56a">male sniff</text>
<text x="771" y="93" font-size="20" text-anchor="end" fill="#7232a2">mount</text>
<text x="771" y="118" font-size="20" text-anchor="end" fill="#d0552e">intromission</text>
<line x1="771.5" y1="64.2" x2="776" y2="64.2" stroke="#6fb56a" stroke-width="1.2" />
<line x1="771.5" y1="88.8" x2="776" y2="88.8" stroke="#7232a2" stroke-width="1.2" />
<line x1="771.5" y1="113.8" x2="776" y2="113.8" stroke="#d0552e" stroke-width="1.2" />
<g><rect x="777.3" y="132.4" width="466.7" height="200.6" fill="#4286da"/><path stroke="#4a4cb2" stroke-width="1.69" d="M1083 145.5h5m26 0h5m35 0h5m5 0h5m-131 1.6h5m-65 10.8h15m181 0h5m-261 1.5h5m10 0h5m226 0h5m-121 9.3h5m10 0h5m5 0h25m86 4.6h60m-381 7.7h5m-15 1.6h5m125 0h10m5 0h30m10 0h10m50 0h46m5 0h15m5 0h10m-341 9.2h5m255 4.6h16m5 0h5m10 0h10m10 0h5m-136 1.6h5m-160 1.5h5m10 0h15m5 0h55m95 0h25m15 0h5m86 0h5m15 0h10m5 0h25m-366 3.1h10m5 0h20m45 0h5m10 0h10m10 0h10m35 0h5m55 0h11m35 0h5m35 0h5m5 0h15m-131 3.1h20m-220 4.6h5m15 0h5m150 0h5m5 0h10m10 0h5m5 0h5m81 0h5m45 0h10m-186 9.3h5m40 0h36m10 0h15m5 0h15m-241 1.5h15m-40 1.6h5m5 0h5m20 0h5m-80 3.1h5m10 0h15m206 0h10m15 0h5m5 0h25m-116 3h20m15 0h10m86 0h15m10 0h5m-407 3.1h5m56 0h10m10 0h10m10 0h5m-80 3.1h5m265 3.1h6m-206 1.5h5m-106 6.2h5m5 0h15m312 1.6h5m-226 1.5h5m-126 1.5h10m5 0h5m16 0h5m-61 1.6h10m5 0h5m15 0h15m41 0h15m5 0h15m5 0h5m5 0h5m5 0h25m156 1.5h10m-337 3.1h10m5 0h5m201 0h20m25 0h5m-246 4.6h5m291 0h6m70 0h10m-106 1.6h10m-311 1.5h5m15 0h5m5 0h5m51 0h10m25 0h10m175 0h31m15 0h5m15 0h5m5 0h10m-106 1.6h5m-276 3.1h5m111 0h15m25 0h5m-181 1.5h35m362 0h5m-382 3.1h10m296 0h6m-322 1.5h10m5 0h5m196 0h10m15 0h5m5 0h10m161 0h5m-166 4.7h5m-50 3h5m30 0h5m30 3.1h5m-75 4.7h25m5 0h10m5 0h5m45 3.1h5m61 0h5m-246 6.1h5m90 0h5m25 0h5m106 0h5m5 0h10m-256 4.7h5m5 0h20m30 3h25m-40 1.6h5m-45 1.5h10m55 4.7h5m100 9.2h5m6 0h5m20 0h20m5 0h5m5 0h15m-81 6.2h16m15 0h5"/><path stroke="#4c5ac6" stroke-width="1.69" d="M848 133.2h10m125 0h5m5 0h5m50 4.6h5m-200 1.5h5m15 0h5m5 0h5m241 0h15m20 0h5m-326 1.6h30m25 0h5m15 0h15m5 0h20m95 0h5m25 0h10m16 0h5m85 0h25m15 0h5m-326 1.5h5m10 0h30m206 0h5m-306 1.6h30m5 0h55m35 0h5m85 0h5m10 0h16m10 0h30m10 0h20m5 0h5m5 0h20m10 0h15m-396 1.5h5m10 0h10m15 0h25m45 0h5m10 0h20m5 0h5m15 0h10m25 0h30m5 0h10m11 0h5m5 0h20m10 0h5m5 0h5m5 0h10m15 0h5m-346 1.6h5m5 0h5m45 0h10m15 0h20m50 0h15m10 0h5m10 0h5m20 0h10m5 0h10m5 1.5h31m5 0h15m5 0h20m-236 6.2h10m65 0h5m20 0h5m10 0h15m156 1.5h5m5 0h5m-286 1.6h5m5 0h5m20 0h10m80 0h5m46 0h10m15 0h15m-261 1.5h5m5 0h10m5 0h10m35 0h5m65 0h20m5 0h31m45 0h10m5 0h10m-341 7.7h5m25 0h5m15 0h10m5 0h5m10 0h5m80 0h5m5 0h15m10 0h5m96 0h25m-321 1.6h5m5 0h5m25 0h10m5 0h5m100 0h15m15 0h15m5 0h10m5 0h5m-180 3h5m-60 1.6h5m5 0h5m10 0h5m50 0h15m5 0h5m236 0h5m-201 1.5h5m191 0h5m40 0h10m-216 3.1h20m10 0h5m-205 1.6h5m-15 1.5h5m5 0h15m5 0h5m10 0h5m221 0h5m30 0h10m5 0h5m70 0h5m-401 1.6h5m5 0h5m5 0h10m100 0h15m10 0h5m30 0h10m10 0h5m20 0h15m5 0h5m46 0h5m15 0h5m55 0h15m-386 3h5m205 0h5m5 0h5m-210 1.6h5m5 0h10m5 0h5m5 0h10m95 0h5m5 0h5m171 0h5m5 0h5m5 0h15m5 0h5m-176 1.5h5m20 0h5m-255 1.6h20m-15 1.5h25m135 0h10m5 0h5m25 0h10m5 0h5m25 0h16m45 0h25m-216 1.6h15m80 0h5m15 0h15m21 3h5m5 0h10m10 0h10m5 0h5m10 0h5m5 0h5m10 0h5m15 0h5m-351 1.6h20m15 0h5m45 0h5m5 0h10m5 0h5m15 0h20m5 0h15m5 0h5m45 0h36m5 0h40m15 0h5m-326 1.5h10m15 0h5m100 0h10m5 0h5m55 0h15m86 0h5m5 0h15m10 0h5m-351 3.1h10m10 0h5m70 0h10m10 0h10m10 0h10m15 0h10m50 0h10m11 0h15m5 0h15m5 0h15m15 0h5m5 0h5m20 0h10m5 0h15m-316 3.1h20m105 0h25m101 0h5m55 0h5m-361 1.5h5m25 1.6h5m20 0h10m25 0h10m75 0h5m15 0h5m-215 1.5h10m5 0h15m5 0h25m10 0h10m60 0h5m20 0h10m5 0h5m5 0h5m10 0h10m5 0h5m5 0h5m66 0h10m5 0h15m25 0h5m10 0h5m-286 4.7h5m10 0h15m5 0h10m-80 4.6h10m25 0h25m5 0h15m55 0h10m5 0h5m5 0h5m5 0h5m36 0h10m15 0h5m15 0h5m5 0h5m5 0h5m5 0h35m-331 1.5h10m5 0h10m15 0h5m-90 1.6h15m5 0h20m10 0h5m5 0h20m5 0h5m-90 3.1h5m5 0h10m15 0h5m110 0h5m30 0h56m10 0h15m5 0h5m25 0h10m40 0h10m-261 3h5m55 0h5m40 0h15m10 0h5m11 0h25m5 0h5m10 0h25m15 0h10m5 0h30m-457 1.6h5m5 0h15m5 0h10m352 0h5m20 0h5m5 0h5m5 0h5m-452 1.5h10m5 0h15m5 0h26m40 0h10m10 0h10m10 0h10m30 0h55m186 0h5m25 0h10m-462 1.6h10m10 0h41m50 0h5m-116 1.5h20m15 0h21m80 0h15m10 0h15m-161 1.6h20m372 0h5m-412 1.5h61m35 0h5m20 0h15m140 0h5m15 0h30m11 0h15m35 0h15m-402 1.5h15m5 0h41m30 0h5m15 0h15m5 0h5m90 0h5m15 0h5m161 0h55m-467 1.6h25m10 0h5m5 0h16m-61 1.5h30m5 0h26m60 0h5m5 0h5m-136 1.6h30m26 0h5m-61 1.5h25m5 0h5m15 0h11m-61 1.6h61m271 0h5m5 0h10m15 0h35m10 0h5m-417 1.5h5m5 0h51m75 0h5m5 0h15m-161 1.5h20m10 0h5m5 0h16m35 0h15m5 0h5m65 0h10m10 0h5m25 0h5m15 0h10m10 0h55m-316 1.6h5m5 0h15m15 0h11m45 0h5m15 0h5m5 0h5m5 0h5m25 0h15m15 0h20m10 0h10m30 0h5m10 0h30m16 0h5m20 0h15m15 0h10m5 0h10m30 0h10m5 0h5m-467 1.5h25m10 0h26m45 0h5m210 0h5m16 0h10m5 0h10m45 0h5m15 0h5m-437 1.6h56m-56 1.5h5m10 0h5m5 0h25m6 0h5m185 0h25m25 0h5m10 0h10m-321 1.6h10m25 0h5m5 0h5m-50 1.5h61m-46 1.5h15m5 0h26m30 0h5m5 0h5m5 0h10m5 0h20m5 0h10m10 0h10m140 0h5m6 0h15m40 0h5m5 0h5m10 0h10m5 0h10m20 0h10m-467 1.6h61m65 0h5m95 0h5m20 0h10m10 0h10m5 0h20m10 0h5m126 0h5m-452 1.5h5m5 0h15m5 0h5m5 0h10m51 0h25m90 0h10m50 0h5m10 0h20m31 0h15m5 0h5m5 0h5m5 0h5m10 0h10m-407 1.6h61m115 0h15m50 0h5m10 0h5m10 0h20m5 0h25m26 0h5m70 0h10m-412 1.5h5m-25 1.6h20m5 0h36m90 0h25m40 0h5m10 0h30m5 0h15m-246 1.5h26m30 0h15m15 0h10m45 0h5m20 0h5m5 0h5m90 0h5m15 0h6m25 0h5m5 0h10m5 0h15m5 0h5m-407 3.1h20m10 0h31m35 0h5m135 0h5m80 0h5m6 0h25m5 0h5m10 0h5m-382 1.5h10m10 0h5m5 0h31m125 0h5m5 0h5m35 0h15m5 0h5m10 0h5m15 0h5m106 0h10m10 0h10m5 0h30m-432 3.1h5m191 1.6h10m15 0h5m5 0h5m131 0h5m5 0h5m25 0h5m-442 3h5m136 0h5m5 0h10m5 0h5m55 0h25m10 0h10m96 0h5m5 0h5m35 0h5m20 0h5m5 0h10m-427 1.6h16m40 0h45m5 0h15m5 0h5m5 0h5m55 0h5m25 0h5m50 0h11m75 0h5m20 0h5m-156 1.5h10m10 0h20m56 0h5m-382 4.7h15m15 0h5m5 0h5m61 0h15m40 0h10m80 0h5m10 0h5m5 0h5m5 0h5m5 0h5m10 0h10m16 0h10m10 0h5m5 0h5m70 0h5m-211 3.1h10m10 0h5m20 0h5m40 0h51m5 0h5m5 0h10m5 0h5m-321 1.5h5m40 0h30m10 0h5m271 1.5h15m-457 1.6h10m71 0h10m10 0h5m65 0h15m25 0h5m100 0h11m10 0h25m30 0h15m15 0h5m25 0h5m-331 1.5h10m5 0h5m10 0h10m50 0h10m10 0h15m5 0h5m61 0h10m5 0h35m5 0h5m-382 4.7h5m35 0h11m75 0h10m5 0h5m20 0h5m100 0h10m51 1.5h5m-322 1.5h5m10 0h5m136 0h25m25 0h15m15 0h5m5 0h5m5 0h10m30 0h5m-301 1.6h5m156 0h5m5 0h5m5 0h20m95 0h11m10 0h10m-211 1.5h10m10 0h10m5 0h5m95 0h10m5 0h15m5 0h21m25 0h5m10 0h5m10 0h5m-161 3.1h5m25 0h5m55 0h5m-235 1.6h35m35 0h10m10 0h35m5 0h5m-90 1.5h5m-5 3.1h5m155 0h5m10 0h5m-286 1.5h5m61 0h5m190 0h5m111 0h50m5 0h5m-186 1.6h5m25 0h5m-225 1.5h10m5 0h10m10 0h10m45 0h20m5 0h70m50 0h6m5 0h5m10 0h5m20 0h5m5 0h5m-111 3.1h10m-165 3.1h10m206 0h15m5 0h5m5 0h10m10 0h15m5 0h10m5 0h5m5 0h10m5 0h10"/><path stroke="#486ed0" stroke-width="1.69" d="M838 133.2h10m10 0h10m15 0h5m5 0h5m60 0h5m10 0h10m5 0h5m5 0h5m176 1.5h10m40 0h5m-361 3.1h40m5 0h5m90 0h20m5 0h10m-210 1.5h15m5 0h15m5 0h5m5 0h5m5 0h15m65 0h5m120 0h26m15 0h20m5 0h10m10 0h5m40 0h5m-401 1.6h5m30 0h10m5 0h10m5 0h15m15 0h5m85 0h5m10 0h15m5 0h25m10 0h5m5 0h6m5 0h25m5 0h30m5 0h20m25 0h15m-381 1.5h10m45 0h5m5 0h10m30 0h5m15 0h15m100 0h5m11 0h5m40 0h10m5 0h5m-341 1.6h20m5 0h5m30 0h5m55 0h10m5 0h20m5 0h5m5 0h5m40 0h15m5 0h10m5 0h10m16 0h5m35 0h10m20 0h5m5 0h5m20 0h10m-391 1.5h10m5 0h10m10 0h15m25 0h10m5 0h5m20 0h5m5 0h10m20 0h5m5 0h15m10 0h5m15 0h5m45 0h11m30 0h10m40 0h5m5 0h5m5 0h5m20 0h5m-401 1.6h15m5 0h5m45 0h5m10 0h15m40 0h10m15 0h5m15 0h10m10 0h5m10 0h15m10 0h5m10 0h5m11 0h15m65 0h5m10 0h25m5 0h5m-406 1.5h5m5 0h20m90 0h5m65 0h10m60 0h5m31 0h5m15 0h5m-321 3.1h5m5 0h10m225 0h5m-250 3.1h10m10 0h10m45 0h15m5 0h10m10 0h15m5 0h20m15 0h10m5 0h20m5 0h10m15 0h25m-260 1.5h30m45 0h35m5 0h5m95 0h5m10 0h5m106 0h50m5 0h5m-386 1.6h10m15 0h5m10 0h5m5 0h5m5 0h5m45 0h5m5 0h5m25 0h10m5 0h5m5 0h20m5 0h5m5 0h20m5 0h46m10 0h15m20 0h30m5 0h30m-296 1.5h10m5 0h5m10 0h5m5 0h15m5 0h5m5 0h10m5 0h20m20 0h5m31 0h45m25 0h60m-376 4.6h5m220 0h5m91 0h10m10 0h10m-281 1.6h10m-100 1.5h5m5 0h5m5 0h5m5 0h15m10 0h5m5 0h10m5 0h5m5 0h5m20 0h25m15 0h5m5 0h5m15 0h10m5 0h10m20 0h15m5 0h46m25 0h15m-341 1.6h5m5 0h5m5 0h5m10 0h10m10 0h5m5 0h10m35 0h5m35 0h5m25 0h15m166 0h5m-366 1.5h5m10 0h15m230 0h11m20 0h5m5 0h5m15 0h5m5 0h10m-341 1.5h10m10 0h5m20 0h10m5 0h15m105 0h10m20 0h5m-210 1.6h5m5 0h10m50 0h5m15 0h5m5 0h15m35 0h5m55 0h5m10 0h5m25 0h26m-186 1.5h5m10 0h5m5 0h5m5 0h10m5 0h5m65 0h5m121 0h40m10 0h10m-186 1.6h5m15 0h5m101 0h10m-351 1.5h10m120 0h5m15 0h5m5 0h15m20 0h10m131 0h25m-366 1.6h10m5 0h15m100 0h10m5 0h10m5 0h10m15 0h5m-185 1.5h5m25 0h10m5 0h30m15 0h10m50 0h25m5 0h65m5 0h16m5 0h5m5 0h20m10 0h5m5 0h5m10 0h30m10 0h15m5 0h5m-401 1.6h5m20 0h25m10 0h5m10 0h10m30 0h10m85 0h20m15 0h5m86 0h35m5 0h5m15 0h5m-396 1.5h10m5 0h5m326 0h5m5 0h10m-376 1.5h15m5 0h10m185 0h10m5 0h5m-235 1.6h30m5 0h5m10 0h5m5 0h5m10 0h10m15 0h5m5 0h5m40 0h15m5 0h5m5 0h15m5 0h10m45 0h5m6 0h25m45 0h15m5 0h5m5 0h5m15 0h5m-396 1.5h15m10 0h5m45 0h5m15 0h15m5 0h5m95 0h10m5 0h20m5 0h5m86 0h5m5 0h10m15 0h15m-452 1.6h10m66 0h10m50 0h5m5 0h5m15 0h5m25 0h10m5 0h5m85 0h5m41 0h10m5 0h10m15 0h10m35 0h15m-261 1.5h5m15 0h15m10 0h5m5 0h15m5 0h5m10 0h5m5 0h25m16 0h25m5 0h15m-161 1.6h5m55 0h5m10 0h10m15 0h5m11 0h5m10 0h5m50 0h5m5 0h40m-336 1.5h10m10 0h5m85 0h5m106 0h15m-236 1.5h10m85 0h5m5 0h5m15 0h5m15 0h5m121 0h10m5 0h5m10 0h5m5 0h5m5 0h5m5 0h20m-427 1.6h5m71 0h15m55 0h5m10 0h5m5 0h15m40 0h5m15 0h20m51 0h5m45 0h10m5 0h5m10 0h10m5 0h15m-462 1.5h5m20 0h5m21 0h5m120 0h45m10 0h5m5 0h30m56 0h5m125 1.6h5m-457 1.5h10m116 0h15m20 0h10m55 0h15m15 0h45m36 0h5m35 0h15m30 0h5m10 0h5m-151 1.6h5m5 0h5m10 0h11m10 0h5m10 0h35m-261 1.5h15m20 0h10m60 0h20m5 0h10m101 0h10m20 0h10m20 0h25m-366 1.5h10m5 0h10m5 0h10m95 0h5m45 0h5m10 0h5m25 0h31m15 0h25m10 0h5m5 0h5m10 0h15m-351 1.6h40m5 0h20m10 0h10m10 0h5m10 0h20m5 0h5m35 0h10m5 0h15m5 0h15m11 0h5m5 0h5m5 0h5m-206 1.5h10m10 0h10m25 0h15m5 0h5m10 0h15m10 0h5m55 0h66m30 0h25m-216 1.6h5m30 0h5m86 1.5h10m20 0h5m5 0h5m-311 1.6h5m5 0h5m80 0h10m15 0h5m131 0h15m40 1.5h10m-311 3.1h30m5 0h10m10 0h25m25 0h5m80 0h5m5 0h5m5 0h5m91 0h5m5 0h5m5 0h5m-286 1.5h5m145 0h10m31 0h10m30 0h5m-367 1.6h5m5 0h5m15 0h16m45 0h5m20 0h5m55 0h10m15 0h10m15 0h5m30 0h25m5 0h15m-230 1.5h5m5 0h5m5 0h5m10 0h10m10 0h35m95 0h20m5 0h5m-175 1.6h5m75 0h5m15 0h10m5 0h15m10 0h5m126 0h25m5 0h10m10 0h15m-331 1.5h5m10 0h10m256 0h15m-336 1.5h10m5 0h5m5 0h45m5 0h20m5 0h25m15 0h15m5 0h10m60 0h11m25 0h5m5 0h10m-382 1.6h10m5 0h5m15 0h5m10 0h11m60 0h5m105 0h5m10 0h15m45 0h5m66 0h10m20 0h20m5 0h5m5 0h5m5 0h15m-457 1.5h5m121 0h5m10 0h15m70 0h25m5 0h5m5 0h15m5 0h25m11 0h15m50 0h10m5 0h10m5 0h25m10 0h5m-457 1.6h10m71 0h10m5 0h5m5 0h10m115 0h5m-226 1.5h15m116 0h10m15 0h5m45 0h10m45 0h15m10 0h5m10 0h21m10 0h5m15 0h25m5 0h25m10 0h10m5 0h10m-462 1.6h15m20 0h26m75 0h5m5 0h10m5 0h15m50 0h5m15 0h20m15 0h5m35 0h16m55 0h5m5 0h5m30 0h20m5 0h5m-376 1.5h5m5 0h20m15 0h20m25 0h5m95 0h15m36 0h5m15 0h35m15 0h20m20 0h20m-447 1.5h5m76 0h15m120 0h15m5 0h25m15 0h5m10 0h15m81 0h5m-382 1.6h10m5 0h5m46 0h5m55 0h15m5 0h5m125 0h15m116 0h5m-407 1.5h5m56 0h30m5 0h5m100 0h5m15 0h20m86 0h5m40 0h5m5 0h10m-392 1.6h26m35 0h15m5 0h5m216 0h15m15 0h20m5 0h10m5 0h5m20 0h10m10 0h5m-296 1.5h5m165 0h16m-181 1.6h10m90 0h5m55 0h11m5 0h5m10 0h10m55 0h10m-422 1.5h5m111 0h5m5 0h5m25 0h55m5 0h5m50 0h10m5 0h5m106 0h5m30 0h10m5 0h15m-361 1.5h5m5 0h20m10 0h5m10 0h20m10 0h10m5 0h5m5 0h15m5 0h15m10 0h10m55 0h6m5 0h5m20 0h5m10 0h25m-206 1.6h10m20 0h10m25 0h10m10 0h10m30 0h5m6 0h5m5 0h20m15 0h15m10 0h5m10 0h30m10 0h5m-437 1.5h10m56 0h15m5 0h5m65 0h20m125 0h6m20 0h5m10 0h45m5 0h15m5 0h10m15 0h5m-411 1.6h5m65 0h10m45 0h45m171 0h5m-352 1.5h6m125 0h10m15 0h5m10 0h5m50 0h20m5 0h10m10 0h26m5 0h15m20 0h20m15 0h20m-432 1.6h25m5 0h5m5 0h11m271 0h5m50 0h5m10 0h5m15 0h10m30 0h5m-326 1.5h5m5 0h20m5 0h5m45 0h10m25 0h15m101 0h5m-382 1.5h15m81 0h5m5 0h5m10 0h5m20 0h5m10 0h10m10 0h10m156 0h5m5 0h30m5 0h5m25 0h5m10 0h20m-346 1.6h15m5 0h15m35 0h5m10 0h5m5 0h20m5 0h20m10 0h10m10 0h5m35 0h5m26 0h30m20 0h45m5 0h15m-417 1.5h11m120 0h10m5 0h20m65 0h10m76 0h5m35 0h10m10 0h40m-376 1.6h15m25 0h15m15 0h15m15 0h5m5 0h5m20 0h15m5 0h10m5 0h10m50 0h26m5 0h40m15 0h15m10 0h25m-457 1.5h20m5 0h36m35 1.6h5m10 0h5m5 0h15m50 0h30m5 0h10m30 0h5m15 0h40m5 0h6m40 0h10m20 0h15m5 0h10m10 0h10m10 0h5m-361 1.5h15m10 0h25m5 0h15m5 0h5m5 0h10m5 0h5m5 0h10m55 0h5m5 0h15m5 0h5m5 0h5m6 0h5m5 0h5m5 0h5m5 0h5m10 0h5m25 0h20m15 0h25m-467 1.5h61m185 0h10m10 0h5m61 0h5m25 0h5m-276 1.6h5m5 0h10m20 0h5m10 0h10m15 0h20m10 0h35m5 0h5m111 0h5m5 0h10m5 0h20m-311 1.5h15m5 0h5m65 0h5m5 0h5m5 0h25m50 0h15m5 0h5m5 0h15m61 0h10m20 0h10m-422 1.6h61m100 0h5m25 0h5m20 0h10m55 0h5m10 0h5m15 0h5m-296 1.5h10m5 0h21m50 0h5m70 0h5m25 0h5m5 0h5m50 0h5m25 0h10m-321 1.6h61m40 0h5m60 0h15m25 0h10m10 0h5m10 0h15m5 0h5m10 0h5m5 0h10m20 0h16m35 0h10m15 0h10m5 0h5m5 0h25m5 0h20m-462 1.5h10m111 0h5m301 0h5m-437 1.5h5m5 0h51m75 0h10m5 0h5m10 0h5m5 0h5m40 0h5m30 0h5m65 0h6m5 0h10m5 0h5m5 0h10m5 0h5m5 0h20m20 0h20m5 0h5m-457 1.6h40m16 0h5m30 0h5m45 0h5m15 0h5m5 0h5m25 0h5m20 0h10m5 0h15m5 0h5m5 0h5m15 0h5m36 0h5m5 0h5m30 0h30m10 0h15m5 0h10m5 0h15m-467 1.5h5m5 0h51m90 0h15m35 0h15m60 0h5m10 0h5m25 0h16m5 0h15m5 0h5m5 0h5m5 0h5m5 0h10m-296 1.6h5m5 0h5m10 0h5m140 0h5m25 0h15m-321 1.5h10m5 0h46m30 0h5m15 0h5m90 0h20m60 0h15m101 0h30m5 0h30m-452 1.6h15m5 0h5m5 0h16m35 0h10m15 0h10m15 0h15m10 0h10m25 0h10m65 0h5m5 0h5m5 0h10m10 0h16m10 0h10m5 0h5m5 0h30m5 0h5m25 0h5m5 0h5m5 0h5m-462 1.5h61m125 0h5m45 0h30m60 0h6m15 0h5m35 0h5m10 0h10m5 0h10m5 0h5m5 0h25m-467 1.6h50m6 0h5m35 0h5m40 0h5m80 0h10m10 0h10m5 0h20m5 0h20m5 0h10m56 0h5m20 0h5m5 0h35m5 0h15m-467 1.5h5m5 0h51m35 0h10m5 0h10m10 0h5m30 0h10m20 0h5m5 0h10m10 0h5m35 0h10m30 0h5m15 0h6m80 0h10m-417 1.5h5m226 0h10m10 0h5m5 0h10m15 0h5m106 0h20m10 0h5m10 0h5m-452 1.6h10m10 0h41m40 0h10m5 0h5m5 0h10m5 0h5m50 0h25m5 0h20m5 0h25m10 0h20m15 0h5m11 0h10m25 0h30m15 0h15m5 0h25m-462 1.5h15m5 0h10m5 0h26m30 0h15m20 0h5m25 0h10m10 0h5m55 0h5m20 0h5m55 0h11m10 0h5m105 0h10m-462 1.6h10m5 0h10m15 0h10m6 0h5m50 0h5m10 0h5m25 0h10m55 0h5m95 0h5m6 0h5m15 0h5m25 0h5m-387 1.5h10m40 0h6m45 0h5m20 0h5m5 0h5m85 0h45m-271 1.6h10m5 0h35m226 0h5m10 0h15m106 0h15m30 0h5m-462 1.5h20m25 0h11m35 0h5m50 0h5m85 0h5m80 0h11m5 0h5m45 0h15m-402 1.5h25m5 0h10m5 0h16m30 0h15m5 0h40m10 0h5m10 0h5m65 0h15m5 0h5m5 0h5m10 0h10m15 0h5m5 0h31m30 0h15m-402 1.6h25m5 0h10m5 0h16m80 0h5m25 0h5m5 0h5m15 0h5m126 0h10m10 0h25m10 0h15m60 0h5m-467 1.5h61m10 0h70m30 0h5m110 0h5m15 0h5m21 0h5m5 0h15m5 0h10m5 0h10m5 0h20m5 0h5m10 0h5m10 0h10m-452 1.6h45m61 0h10m10 0h5m115 0h5m151 0h5m10 0h15m5 0h10m10 0h5m-467 1.5h25m10 0h26m165 0h5m5 0h15m20 0h5m50 0h21m5 0h5m10 0h35m-402 1.6h61m65 0h35m10 0h10m50 0h10m161 0h5m-382 1.5h15m101 0h15m15 0h10m181 0h5m-327 1.5h5m46 0h5m170 0h10m-271 1.6h25m5 0h5m101 0h20m10 0h10m5 0h15m10 0h5m5 0h5m35 0h5m10 0h20m5 0h10m5 0h5m21 0h15m-357 1.5h30m5 0h26m5 0h10m15 0h5m5 0h5m15 0h25m15 0h20m15 0h5m35 0h5m35 0h15m5 0h5m5 0h15m81 0h5m50 0h5m-462 1.6h5m10 0h10m251 0h5m5 0h25m5 0h5m-321 1.5h61m40 0h5m10 0h10m10 0h10m5 0h10m40 0h5m95 0h5m5 0h5m26 0h10m55 0h35m10 0h15m-467 1.6h10m20 0h5m56 0h40m190 0h5m76 0h5m40 0h15m-462 1.5h61m170 0h5m5 0h5m15 0h20m10 0h30m36 0h5m35 0h5m-402 1.5h25m5 0h31m50 0h10m30 0h5m25 0h10m20 0h5m50 0h5m-271 1.6h5m20 0h5m15 0h11m35 0h5m5 0h10m10 0h5m15 0h25m35 0h30m55 0h10m5 0h25m41 0h5m10 0h10m15 0h5m10 0h5m5 0h5m10 0h5m10 0h5m-467 1.5h10m10 0h5m20 0h16m120 0h5m15 0h20m221 0h5"/><path stroke="#3ca0dc" stroke-width="1.69" d="M777 133.2h5m15 0h10m15 0h5m6 0h5m65 0h5m45 0h5m85 0h5m10 0h15m10 0h15m5 0h6m35 0h10m5 0h5m5 0h15m10 0h10m10 0h25m-462 1.5h35m5 0h21m10 0h5m35 0h5m20 0h10m5 0h25m5 0h5m10 0h5m5 0h15m10 0h15m5 0h10m45 0h5m5 0h5m-260 1.6h5m25 0h20m95 0h5m10 0h5m55 0h5m5 0h5m25 0h11m5 0h10m20 0h5m15 0h15m25 0h15m-442 1.5h20m5 0h15m5 0h16m5 0h25m65 0h10m5 0h5m5 0h15m25 0h5m55 0h15m5 0h20m5 0h6m10 0h10m5 0h30m5 0h5m25 0h5m5 0h5m20 0h10m-467 1.5h15m25 0h16m85 0h20m5 0h5m45 0h5m5 0h10m5 0h30m25 0h5m15 0h5m-321 1.6h10m5 0h46m120 0h45m-226 1.5h10m20 0h20m6 0h5m35 0h10m5 0h5m5 0h5m5 0h5m55 0h5m50 0h25m5 0h5m10 0h5m5 0h20m26 0h5m60 0h5m5 0h20m5 0h5m5 0h5m-457 1.6h10m10 0h10m21 0h5m190 0h5m-226 1.5h5m15 0h11m386 0h5m-361 1.6h5m5 0h10m15 0h5m236 0h5m25 0h5m-346 1.5h5m30 0h5m35 0h40m25 0h35m10 0h5m25 0h5m10 0h35m86 0h10m15 0h5m10 0h20m-326 1.5h5m5 0h5m5 0h5m5 0h10m5 0h10m5 0h30m15 0h5m5 0h20m5 0h10m5 0h10m10 0h5m101 0h5m-326 1.6h25m55 0h5m5 0h5m35 0h5m5 0h5m5 0h15m5 0h5m15 0h5m36 0h5m15 0h20m10 0h10m10 0h20m30 0h10m-401 1.5h15m25 0h5m5 0h10m20 0h5m5 0h5m5 0h5m10 0h5m5 0h5m5 0h20m10 0h10m20 0h15m50 0h11m25 0h35m10 0h5m5 0h5m5 0h15m5 0h25m-341 1.6h5m195 0h6m10 0h40m5 0h15m10 0h35m10 0h10m-371 1.5h25m5 0h10m50 0h10m20 0h5m15 0h15m5 0h20m61 0h5m10 0h20m20 0h10m-226 1.6h5m-95 1.5h5m25 0h20m-55 1.5h10m5 0h10m5 0h5m5 0h15m10 0h5m75 0h5m50 0h5m10 0h5m5 0h15m56 0h25m-336 1.6h25m15 0h5m20 0h5m5 0h40m5 0h25m5 0h5m15 0h5m5 0h5m5 0h35m5 0h5m46 0h10m5 0h10m25 0h20m15 0h5m5 0h5m-376 1.5h10m25 0h5m15 0h10m30 0h15m15 0h5m5 0h5m5 0h30m5 0h5m5 0h10m10 0h5m106 0h10m45 0h5m-341 1.6h15m15 0h10m25 0h5m10 0h30m30 0h10m15 0h20m5 0h15m5 0h81m20 0h5m15 0h5m5 0h5m-286 1.5h5m226 0h30m-296 1.6h5m10 0h15m10 0h5m15 0h10m126 0h25m10 0h5m20 0h30m20 0h10m10 0h5m-376 1.5h10m15 0h10m5 0h35m20 0h5m10 0h5m10 0h15m10 0h5m5 0h5m5 0h10m5 0h5m15 0h10m5 0h10m16 0h10m60 0h5m20 0h5m5 0h10m-316 1.5h5m5 0h5m5 0h20m30 0h5m5 0h10m30 0h5m15 0h20m20 0h5m46 0h5m50 0h35m-276 1.6h10m10 0h5m166 0h5m20 0h5m-331 1.5h10m20 0h5m5 0h10m25 0h5m110 0h10m30 0h5m5 0h5m5 0h5m11 0h5m5 0h5m5 0h40m-336 1.6h10m20 0h5m5 0h20m5 0h5m5 0h15m10 0h5m5 0h35m25 0h10m5 0h10m10 0h5m50 0h11m5 0h10m5 0h5m5 0h10m5 0h10m10 0h5m50 0h10m-371 1.5h45m10 0h5m5 0h15m10 0h5m90 0h5m5 0h5m5 0h5m5 0h15m5 0h6m35 0h5m5 0h5m65 0h5m-306 1.6h10m20 0h5m75 0h25m5 0h15m5 0h15m16 0h5m-156 1.5h30m-60 1.6h5m-161 1.5h10m25 0h15m56 0h20m10 0h5m5 0h10m10 0h10m115 0h5m5 0h10m10 0h16m15 0h5m105 0h5m-467 1.5h10m46 0h5m65 0h5m5 0h20m10 0h25m5 0h15m5 0h10m30 0h5m60 0h11m15 0h15m35 0h10m5 0h10m5 0h15m-261 1.6h5m5 0h5m90 0h5m5 0h15m-311 1.5h61m20 0h5m15 0h5m5 0h20m15 0h10m25 0h10m20 0h30m5 0h30m45 0h21m5 0h35m10 0h10m-286 1.6h15m25 0h5m65 0h15m10 0h5m15 0h10m126 0h15m-402 1.5h15m76 0h5m15 0h20m5 0h20m5 0h5m216 0h10m5 0h10m5 0h5m10 0h10m5 0h5m-467 1.6h35m15 0h11m30 0h20m15 0h10m5 0h5m20 0h5m55 0h5m5 0h5m5 0h10m10 0h5m101 0h5m5 0h5m5 0h5m-397 1.5h5m20 0h31m50 0h5m40 0h5m5 0h5m15 0h45m25 0h15m5 0h10m121 0h5m5 0h30m-422 1.5h5m56 0h5m5 0h5m40 0h20m15 0h10m95 0h10m25 0h10m-245 1.6h10m60 0h35m171 1.5h10m5 0h10m20 0h5m-402 1.6h10m5 0h5m10 0h31m20 0h10m55 0h15m5 0h5m5 0h10m40 0h20m45 0h10m10 0h5m5 0h31m5 0h25m15 0h5m25 0h5m5 0h5m10 0h10m-412 1.5h11m15 0h10m-76 1.6h30m5 0h5m56 0h5m5 0h10m5 0h10m5 0h5m5 0h15m15 0h40m15 0h20m5 0h15m146 0h5m-402 1.5h5m10 0h11m50 0h20m75 0h20m116 0h10m5 0h20m15 0h5m35 0h5m-422 1.5h10m36 0h5m20 0h5m55 0h5m20 0h15m25 0h15m15 0h5m30 0h5m30 0h5m5 0h5m-250 1.6h20m296 0h10m5 0h5m10 0h10m10 0h20m-427 1.5h5m51 0h5m-91 1.6h20m10 0h5m5 0h21m30 0h15m5 0h45m15 0h5m10 0h15m15 0h10m15 0h5m30 0h10m5 0h5m5 0h31m5 0h20m5 0h5m5 0h5m5 0h15m5 0h10m5 0h5m10 0h5m5 0h25m-467 1.5h61m30 0h5m5 0h20m5 0h5m5 0h5m20 0h15m10 0h5m15 0h15m30 0h15m50 0h5m5 0h11m80 0h5m15 0h20m-447 1.6h15m5 0h5m5 0h5m11 0h5m85 0h5m75 0h10m40 0h10m15 0h15m21 0h5m20 0h10m10 0h5m10 0h15m5 0h45m-462 1.5h35m10 0h16m75 0h15m15 0h15m45 0h10m15 0h15m40 0h5m10 0h26m5 0h5m5 0h5m60 0h10m10 0h20m-467 1.5h10m30 0h21m30 0h5m15 0h25m10 0h5m20 0h20m5 0h15m5 0h20m5 0h5m35 0h5m25 0h10m11 0h20m5 0h5m15 0h5m5 0h15m5 0h5m15 0h5m-432 1.6h10m40 0h11m180 0h15m5 0h15m-261 1.5h10m5 0h5m21 0h5m30 0h30m10 0h5m55 0h10m10 0h5m10 0h5m15 0h5m10 0h10m5 0h5m81 0h5m45 0h35m-376 1.6h10m185 0h10m45 0h5m6 0h30m5 0h25m5 0h5m10 0h5m30 0h5m5 0h5m-261 1.5h20m5 0h5m5 0h10m5 0h20m50 0h36m5 0h5m15 0h40m15 0h5m10 0h15m-437 1.6h5m36 0h10m55 0h10m5 0h20m5 0h5m-181 1.5h10m5 0h46m45 0h10m5 0h5m75 0h35m15 0h5m76 0h10m30 0h15m20 0h5m20 0h10m10 0h5m-437 1.5h5m201 0h5m-150 1.6h10m5 0h20m20 0h35m5 0h5m30 0h10m65 0h15m15 0h16m15 0h5m40 0h5m-15 1.5h5m-301 1.6h5m65 0h10m5 0h5m5 0h5m10 0h5m5 0h20m5 0h5m25 0h15m10 0h15m5 0h5m5 0h5m16 0h5m20 0h30m20 0h5m5 0h10m5 0h10m5 0h5m-331 1.5h10m105 0h5m5 0h10m-180 1.6h5m15 0h5m10 0h20m45 0h5m5 0h5m5 0h25m15 0h5m-170 1.5h10m120 0h5m20 0h25m10 0h10m146 0h5m-286 1.5h5m20 0h20m5 0h35m55 0h5m35 0h5m6 0h5m5 0h30m5 0h25m-296 1.6h10m5 0h20m135 0h10m35 0h16m5 0h60m10 0h5m-331 1.5h5m50 0h85m55 0h10m10 0h15m21 0h10m25 0h25m-276 1.6h5m10 0h10m10 0h25m20 0h10m5 0h10m126 0h5m-251 1.5h5m20 0h5m45 0h10m5 0h10m35 0h10m20 0h5m25 0h10m5 0h5m26 0h10m30 0h5m10 0h10m5 0h25m5 0h5m10 0h5m-376 1.6h5m10 0h5m5 0h10m10 0h15m25 0h5m75 0h5m15 0h15m10 0h15m131 0h10m-226 1.5h25m5 0h15m45 0h16m5 0h5m25 0h5m-301 1.5h5m5 0h5m311 0h5m5 0h10m5 0h10m5 0h5m5 0h15m-331 3.1h5m10 0h30m25 0h10m15 0h5m25 0h5m10 0h15m25 0h5m-230 1.6h5m45 0h10m5 0h5m5 0h5m5 0h5m45 0h10m55 0h5m15 0h15m11 0h20m30 0h10m10 0h15m5 0h15m5 0h20m-376 1.5h15m15 0h10m5 0h20m10 0h10m276 0h10m-371 1.6h25m5 0h15m45 0h20m5 0h30m15 0h15m5 0h25m41 0h10m25 0h5m-286 1.5h20m5 0h10m55 0h5m20 0h5m141 0h15m35 0h10m10 0h5m10 0h10m-361 1.5h5m160 0h5m5 0h5m5 0h5m5 0h10m5 0h5m-215 1.6h5m70 0h20m206 0h15m-316 1.5h5m45 0h15m5 0h5m10 0h5m55 0h10m15 0h5m5 0h10m-180 3.1h5m5 0h5m10 0h5m25 0h5m10 0h15m10 0h5m5 0h10m5 0h10m5 0h5m15 0h5m35 0h15m5 0h15m11 0h5m5 0h25m15 0h15m35 0h5m10 0h5m5 0h5m-146 1.6h5m16 0h5m10 0h5m-126 1.5h20m5 0h5m5 0h5m156 0h5m-331 1.5h25m10 0h5m5 0h15m10 0h5m5 0h15m10 0h10m156 0h15m10 0h5m10 0h5m-346 1.6h15m30 0h5m125 0h5m20 0h35m96 0h35m5 0h10m5 0h5m-351 1.5h10m5 0h15m5 0h10m176 0h20m-236 1.6h5m5 0h5m45 0h5m45 0h15m20 0h5m55 0h16m5 0h5m30 0h5m15 0h5m-316 1.5h10m20 0h10m25 0h5m10 0h5m75 0h10m30 0h5m25 0h16m15 0h5m5 0h5m25 0h10m15 0h5m20 0h5m15 0h5m-381 1.6h5m35 0h5m226 0h5m20 0h5m-286 1.5h20m15 0h15m20 0h25m5 0h25m50 0h5m5 0h10m5 0h20m11 0h5m5 0h10m5 0h5m10 0h15m10 0h5m40 0h15m-351 1.5h15m10 0h5m45 0h10m5 0h10m70 0h10m10 0h10m5 0h5m-10 1.6h10m41 0h5m5 0h5m-291 1.5h10m25 0h5m5 0h10m30 0h10m5 0h5m35 0h5m5 0h20m10 0h5m146 0h10m10 0h15m5 0h5m5 0h5m-226 1.6h5m86 0h10m5 0h5m15 0h5m5 0h10m15 0h40m20 0h5m-366 1.5h5m35 0h5m5 0h5m10 0h15m50 0h5m15 0h5m65 0h11m10 0h10m5 0h5m10 0h5m5 0h20m-266 1.6h5m55 0h5m-110 1.5h30m5 0h5m10 0h30m20 0h20m5 0h5m121 0h5m10 0h10m10 0h5m10 0h5m-336 1.6h5m50 0h5m10 0h5m20 0h10m15 0h15m10 0h20m-165 1.5h10m5 0h5m150 0h5m40 0h10m10 0h5m46 0h15m25 0h5m30 0h5m10 0h5m-346 1.5h20m5 0h5m10 0h10m15 0h10m5 0h10m5 0h35m25 0h5m20 0h10m15 0h5m10 0h5m-255 1.6h25m45 0h5m10 0h5m5 0h15m-110 1.5h10m105 0h5m5 0h35m85 0h5m86 0h10m5 0h15m-371 1.6h10m30 0h5m35 0h5m25 0h10m10 0h25m10 0h5m5 0h20m5 0h5m5 0h5m91 0h5m20 0h5m25 0h5m10 0h5m-376 1.5h15m85 0h15m5 0h5m5 0h30m75 0h10m5 0h5m31 0h5m35 0h5m-331 1.6h10m5 0h10m5 0h25m10 0h5m45 0h15m15 0h10m5 0h10m10 0h30m45 0h16m5 0h30m10 0h5m5 0h10m50 0h5m-396 1.5h15m10 0h5m10 0h5m85 0h5m20 0h5m25 0h10m5 0h15m40 0h5m61 0h5m15 0h10m5 0h5m5 0h5m5 0h20m5 0h5m-391 1.5h10m321 0h5m10 0h10m5 0h25m-401 1.6h5m5 0h5m30 0h10m5 0h10m100 0h10m5 0h5m55 0h5m91 0h5m5 0h5m5 0h5m-246 1.5h35m45 0h5m161 0h5m-371 1.6h10m5 0h5m5 0h5m45 0h5m10 0h10m20 0h35m15 0h15m25 0h5m5 0h10m5 0h15m5 0h21m5 0h5m5 0h20m5 0h15m60 0h5m-396 1.5h10m5 0h10m15 0h5m5 0h15m35 0h5m35 0h15m5 0h5m50 0h30m5 0h5m91 0h10m5 0h5m20 0h20m-406 1.6h30m150 0h5m50 0h20m10 0h6m15 0h30m5 0h15m35 0h15m10 0h10m-336 1.5h5m50 0h5m5 0h45m15 0h60m5 0h11m5 0h5m10 0h10m10 0h30m30 0h15m-371 1.5h5m25 0h30m5 0h10m10 0h25m30 0h15m5 0h25m15 0h5m5 0h20m61 0h5m40 0h10m20 0h5m-376 1.6h20m10 0h5m5 0h20m95 0h20m80 0h6m45 0h10m5 0h10m20 0h20m15 0h10m-406 1.5h5m20 0h5m261 0h30m-321 1.6h10m5 0h15m25 0h10m5 0h35m5 0h10m60 0h5m10 0h20m45 0h16m10 0h10m5 0h5m50 0h15m5 0h5m5 0h5m-386 1.5h10m205 0h5m5 0h10m5 0h5m-250 1.6h15m60 0h5m5 0h10m5 0h20m20 0h40m30 0h5m20 0h5m41 0h35m50 0h10m25 0h5m-406 1.5h10m5 0h5m10 0h20m5 0h10m5 0h5m20 0h10m5 0h5m5 0h40m5 0h5m136 0h5m5 0h5m10 0h5m5 0h45m5 0h10m-396 1.5h5m10 0h20m90 0h5m5 0h5m20 0h35m20 0h10m10 0h10m5 0h5m31 0h5m5 0h20m10 0h10m5 0h5m10 0h20m5 0h5m5 0h10m-406 1.6h5m5 0h5m10 0h5m85 0h5m55 0h35m-210 1.5h15m20 0h10m25 0h5m90 0h15m5 0h5m10 0h20m5 0h5m5 0h10m10 0h21m5 0h5m5 0h5m5 0h5m15 0h5m5 0h30m5 0h10"/><path stroke="#40b4d4" stroke-width="1.69" d="M1053 133.2h5m15 0h10m46 0h15m-266 1.5h10m5 0h20m10 0h5m25 0h5m5 0h10m5 0h5m15 0h10m30 0h40m10 0h5m5 0h5m41 0h10m-377 1.6h61m50 0h25m15 0h5m20 0h30m5 0h10m10 0h5m5 0h35m10 0h5m5 0h25m11 0h5m70 0h5m5 0h10m15 0h10m5 0h10m-271 1.5h25m75 0h5m20 0h5m6 0h10m10 0h5m30 0h5m35 0h5m-271 1.5h5m5 0h10m55 0h5m35 0h5m10 0h5m5 0h15m-225 3.1h5m10 0h5m5 0h5m5 0h5m145 6.2h10m116 0h5m10 0h15m5 0h10m-336 1.5h5m20 0h5m25 0h5m10 0h5m10 0h5m75 0h5m25 0h10m10 0h6m80 0h10m5 0h25m5 0h10m-442 1.6h10m56 0h10m95 0h15m5 0h10m50 0h15m81 0h10m40 0h30m10 0h5m-371 1.5h5m5 0h5m10 0h10m5 0h5m95 0h5m5 0h10m15 0h5m5 0h5m5 0h15m5 0h5m76 0h10m-387 1.6h5m10 0h5m56 0h35m5 0h5m185 0h5m6 0h10m40 0h5m-387 1.5h10m15 0h5m5 0h5m10 0h11m120 0h5m10 0h20m10 0h10m15 0h5m65 0h16m5 0h10m20 0h20m-387 1.6h51m-46 1.5h30m10 0h11m35 0h20m-25 1.5h5m10 0h5m5 0h5m15 0h10m5 0h35m15 0h5m5 0h15m50 0h5m40 0h21m10 0h5m15 0h5m25 0h5m5 0h10m15 0h10m15 0h5m-437 1.6h10m96 0h5m80 0h15m5 0h5m5 0h5m35 0h5m5 0h15m5 0h11m-196 1.5h10m5 0h15m155 0h21m10 0h5m5 0h30m-347 1.6h5m41 0h20m15 0h5m5 0h5m80 0h30m10 0h15m20 0h5m101 0h5m10 0h5m5 0h15m5 0h5m5 0h10m-462 1.5h15m5 0h5m26 0h5m-61 1.6h10m10 0h5m20 0h11m-56 1.5h5m5 0h5m111 0h5m100 0h10m15 0h5m20 0h15m106 0h5m5 0h10m5 0h5m5 0h5m10 0h15m-326 1.5h5m5 0h5m35 0h15m90 0h20m21 0h15m5 0h10m5 0h5m5 0h20m-362 1.6h21m30 1.5h10m5 0h5m10 0h5m5 0h5m90 0h20m25 0h5m66 0h5m5 0h5m-236 1.6h5m5 0h5m70 0h20m-90 1.5h10m5 0h5m15 0h10m100 0h5m15 0h5m15 0h5m6 0h10m5 0h20m5 0h5m5 0h10m-301 1.6h10m5 0h5m5 0h10m195 0h16m5 0h15m5 0h5m10 0h10m10 0h5m25 0h5m5 0h25m-462 1.5h56m125 0h5m-171 1.6h25m5 0h16m-51 1.5h25m15 0h11m80 0h5m10 0h10m10 0h5m5 0h20m20 0h60m10 0h5m10 0h10m16 0h5m5 0h5m5 0h40m-206 1.5h5m15 0h5m226 0h15m-366 3.1h10m90 0h5m5 0h10m131 0h5m-196 3.1h5m20 0h5m256 0h10m10 0h5m-381 1.6h10m45 0h5m30 0h10m50 0h5m5 0h5m20 1.5h5m136 0h5m30 0h25m-401 1.5h15m5 0h5m-25 1.6h10m10 0h5m-30 1.5h30m-20 1.6h10m60 0h5m25 0h5m10 0h25m5 0h10m166 0h5m-326 1.5h5m-10 1.6h15m5 0h5m90 0h5m75 0h5m136 0h25m15 0h25m-396 1.5h35m20 0h10m211 0h5m-286 1.5h15m5 0h5m45 0h5m5 0h20m-100 1.6h5m5 1.5h10m0 1.6h5m15 0h5m45 0h15m5 0h10m100 0h5m5 0h5m31 0h5m20 0h5m5 0h5m5 0h5m15 0h5m-321 1.5h10m5 0h5m20 0h5m5 0h5m85 0h30m20 0h15m-205 1.6h10m45 0h10m5 0h10m5 0h5m5 0h5m65 0h30m40 0h5m141 0h5m-381 1.5h5m30 0h15m50 0h20m70 0h30m5 0h5m-235 1.5h10m70 0h10m20 0h5m125 0h11m20 0h5m5 0h15m5 0h5m15 0h5m5 0h15m5 0h5m15 0h10m-236 1.6h5m-165 1.5h25m30 0h10m120 0h10m10 0h5m126 0h10m35 0h15m-396 1.6h5m255 0h6m60 0h5m55 0h5m-226 1.5h5m186 0h15m-371 1.6h5m100 0h5m-95 1.5h5m5 0h15m10 0h5m5 0h10m45 0h20m35 0h5m5 0h5m5 0h10m5 0h5m45 0h11m10 0h5m15 0h10m15 0h5m5 0h5m-331 1.5h20m-20 1.6h10m100 0h30m10 0h5m-160 1.5h25m-15 1.6h10m55 0h15m10 0h5m5 0h5m95 0h5m30 0h5m26 0h5m45 0h20m5 0h5m10 0h5m10 0h5m5 0h10m-396 1.5h5m10 0h40m-50 1.6h5m5 0h5m-25 1.5h10m150 0h5m-165 1.5h25m45 0h5m5 0h20m171 0h5m30 0h5m-301 1.6h15m90 0h10m20 0h15m111 0h5m-266 1.5h10m230 0h10m-80 1.6h10m50 0h10m-230 1.5h5m100 0h5m10 0h35m10 0h20m40 0h5m126 0h5m5 0h10m-146 1.6h5m-245 1.5h10m-25 1.5h15m5 0h5m321 0h5m25 0h5m-376 1.6h25m-10 1.5h10m50 0h10m75 0h5m5 0h10m5 0h10m5 0h10m-125 1.6h5m5 0h5m5 0h5m60 0h25m5 0h10m-200 1.5h15m15 0h15m35 0h10m-85 1.6h10m45 0h20m140 0h25m-135 1.5h20m5 0h15m50 0h15m10 0h20m96 0h5m5 0h10m10 0h5m-391 1.5h25m-25 1.6h10m5 0h10m-10 1.5h10m65 0h5m-85 1.6h5m5 0h10m-10 1.5h10m45 0h15m5 0h10m15 0h10m35 0h5m5 0h15m5 0h20m126 0h35m5 0h10m5 0h5m-391 1.6h5m5 0h5m-15 1.5h20m165 0h5m-165 1.5h10m30 0h5m5 0h5m70 0h5m181 0h10m5 0h5m10 0h10m5 0h15m-401 1.6h10m326 0h5m-326 1.5h10m0 1.6h10m5 0h15m5 0h5m45 0h5m161 0h5m5 0h5m50 0h5m20 0h5m15 0h15m-391 1.5h15m246 0h15m15 0h25m10 0h15m5 0h20m5 0h15m-396 1.6h5m10 0h5m-15 1.5h5m10 0h5m75 0h5m25 0h5m45 0h15m35 0h5m20 0h5m11 0h5m20 0h10m-306 1.5h40m210 0h5m-235 1.6h5m271 0h5m-296 1.5h10m40 0h5m10 1.6h10m5 0h10m5 0h40m15 0h20m5 0h30m76 0h15m5 0h5m10 0h15m-326 1.5h15m45 0h5m5 0h5m5 0h10m166 0h10m10 0h5m5 0h10m5 0h5m-311 1.6h10m0 1.5h10m40 0h10m30 0h5m20 1.6h10m-135 1.5h5m70 1.5h15m160 0h21m15 0h5m20 0h10m-216 1.6h5m-120 1.5h5m5 1.6h10m100 0h5m45 0h5m-175 1.5h5m15 0h10m90 0h5m5 0h5m115 0h5m5 0h31m5 0h20m5 0h10m5 0h35m25 0h10m-391 1.6h5m40 0h10m206 0h5m-161 1.5h10m5 0h20m40 0h5m151 0h5m40 0h5m-60 1.5h5m55 0h5m-386 4.7h5m55 0h10m10 0h10m5 0h5m35 0h15m80 0h5m-245 1.5h5m10 0h5m45 0h25m5 0h5m5 0h25m15 0h5m181 0h5m10 0h5m5 0h20m-126 1.6h5m6 0h15m30 0h5m-301 1.5h15m30 0h5m60 0h5m136 0h5m5 0h10m60 0h10m5 0h5m15 0h20m-406 1.5h15m5 0h10m45 0h5m10 0h10m25 0h30m15 0h5m45 0h5m20 0h15m11 0h10m5 0h20m5 0h40m10 0h20m5 0h20m-406 1.6h10m331 0h20m20 0h15m-125 1.5h20m-261 1.6h15m5 0h5m10 0h5m50 0h15m15 0h5m5 0h20m5 0h10m81 0h10m10 0h5m5 0h10m10 0h30m15 0h5m5 0h5m5 0h5m-381 3.1h15m50 0h5m10 0h5m80 0h30m5 0h20m5 0h20m-100 1.5h5m236 0h5m-396 1.5h10m195 0h5m121 0h5m-341 1.6h5m5 1.5h10m50 0h10m15 0h20m60 0h5m5 0h10m20 0h5"/><path stroke="#54c3bc" stroke-width="1.69" d="M868 134.7h10m200 0h5m20 0h11m5 0h5m5 0h15m10 0h5m10 0h10m-266 1.6h15m5 0h20m50 0h5m5 0h5m161 0h5m5 0h5m35 0h5m-176 3h10m-291 10.8h5m5 0h5m5 0h25m46 0h20m5 0h20m185 0h5m6 0h30m10 0h15m5 0h20m40 0h5m-457 1.6h25m10 0h26m75 0h45m30 0h5m-216 1.5h56m75 0h5m105 0h5m30 0h5m5 0h5m15 0h5m5 0h5m-321 1.6h15m5 0h10m5 0h26m-51 1.5h15m5 0h5m5 0h10m-50 1.6h5m51 0h5m-61 1.5h10m30 0h10m41 0h5m-96 1.5h30m5 0h26m125 0h15m5 0h5m131 0h10m5 0h15m35 0h5m10 0h15m10 0h15m-462 1.6h30m10 0h21m255 0h5m-281 1.5h21m85 0h5m191 0h10m5 0h5m-362 1.6h15m5 0h25m5 0h11m70 0h5m271 0h10m-417 1.5h5m15 0h5m5 0h26m-46 1.6h10m5 0h20m11 0h5m-56 1.5h5m5 0h46m361 0h5m-427 1.5h61m260 0h16m15 0h5m20 0h5m-382 1.6h40m-40 1.5h5m35 0h16m70 0h5m115 0h15m-261 1.6h10m10 0h30m6 0h5m-61 1.5h15m15 0h31m281 0h5m-347 1.6h45m5 0h11m40 0h5m5 0h5m10 0h10m221 0h5m5 0h10m10 0h10m5 0h25m5 0h5m-381 1.5h5m-61 1.6h15m25 0h5m136 1.5h5m20 0h20m60 0h5m51 0h5m50 0h5m-206 4.6h5m-125 4.7h5m0 1.5h10m-30 1.5h5m-5 1.6h5m-5 3.1h10m20 0h50m70 0h5m-155 1.5h10m-10 1.6h5m15 0h5m346 0h10m-376 1.5h5m-10 1.5h5m-5 1.6h5m-5 1.5h5m5 0h5m-10 1.6h20m-20 1.5h15m205 0h30m-155 1.6h5m5 0h5m-115 1.5h5m10 0h5m10 0h30m60 0h5m20 0h10m5 0h5m90 0h5m-255 1.5h15m356 0h15m10 0h5m-396 1.6h20m371 1.5h5m-406 1.6h5m15 1.5h10m-30 1.6h5m10 1.5h5m5 0h5m150 0h5m20 0h5m5 0h45m26 0h15m30 0h5m-336 1.5h10m-10 3.1h5m-5 1.6h15m60 0h5m-75 1.5h5m5 0h10m-20 1.6h10m-15 1.5h5m-5 3.1h5m5 0h5m115 0h20m-150 1.5h15m-5 1.6h20m135 0h20m10 0h50m10 0h5m-250 1.5h15m95 1.6h45m-155 1.5h5m10 0h5m-30 3.1h5m-5 1.5h20m165 0h5m-185 1.6h5m5 0h15m170 0h5m-195 1.5h5m0 1.6h5m75 0h25m-110 1.5h20m200 0h10m151 0h15m-396 3.1h5m-10 1.5h10m-10 1.6h5m5 0h5m-15 1.5h15m-20 1.6h10m5 0h5m5 0h5m-30 1.5h10m0 1.5h15m5 0h5m180 0h45m106 0h10m10 0h5m-391 1.6h5m-5 1.5h20m5 1.6h5m10 0h5m306 0h20m5 0h15m-386 1.5h10m-15 1.6h5m5 0h10m-15 1.5h5m5 0h10m140 0h20m15 0h15m-215 1.5h5m-5 1.6h25m-25 1.5h10m15 1.6h5m55 0h5m55 0h15m-160 1.5h15m-15 1.6h10m10 0h10m-30 1.5h5m5 0h10m-20 4.6h30m251 0h15m5 0h20m10 0h10m-321 4.7h10m185 0h25m15 0h5m56 1.5h5m50 0h10m10 0h5m-286 9.3h5m-5 1.5h5m-115 3.1h20m15 0h30m276 0h10m10 0h5m-106 1.5h11m10 0h5m-241 4.7h5m85 0h15m5 0h5m156 0h10m70 0h10m-381 9.2h5m55 0h15"/><path stroke="#7dc891" stroke-width="1.69" d="M1114 134.7h5m5 0h5m30 0h10m-387 15.4h5m5 0h5m25 0h16m301 0h10m15 0h5m-336 3.1h5m-31 7.7h5m-35 3.1h40m-25 1.6h5m-15 9.2h35m16 0h5m-51 1.6h10m30 0h6m-41 1.5h15m15 1.6h5m412 0h5m-406 13.9h15m-15 1.5h20m-20 10.8h5m0 4.6h5m-10 1.6h5m-5 1.5h5m0 1.6h15m-15 1.5h10m5 0h5m130 0h5m-160 1.5h5m-5 1.6h10m-10 1.5h5m5 3.1h10m-20 3.1h15m-15 3.1h10m-10 4.6h5m-5 1.6h5m-5 3h5m0 1.6h5m-10 3.1h10m-10 1.5h10m-10 1.6h30m-30 1.5h10m-10 6.2h5m5 0h5m-15 1.5h10m-5 1.6h10m-15 1.5h10m-10 4.6h5m-5 1.6h5m-5 1.5h5m-5 4.6h10m15 0h5m-20 4.7h15m-25 1.5h5m-5 3.1h5m-5 6.2h25m75 0h5m-100 4.6h5m230 9.3h15m126 1.5h10"/><path stroke="#b4cd5a" stroke-width="1.69" d="M838 215h5m-5 9.2h10m-10 34h5m-5 18.5h10"/></g>
<rect x="777.3" y="132.4" width="466.7" height="200.6" fill="none" stroke="#111" stroke-width="1.2"/>
<path d="M822.9,132.4v4M822.9,333v-4M868.5,132.4v4M868.5,333v-4M914.2,132.4v4M914.2,333v-4M959.8,132.4v4M959.8,333v-4M1005.5,132.4v4M1005.5,333v-4M1051.1,132.4v4M1051.1,333v-4M1096.8,132.4v4M1096.8,333v-4M1142.4,132.4v4M1142.4,333v-4M1188.1,132.4v4M1188.1,333v-4M1233.7,132.4v4M1233.7,333v-4" stroke="#111" stroke-width="1"/>
<path d="M777.3,160.1h4M1244,160.1h-4M777.3,189.3h4M1244,189.3h-4M777.3,217.4h4M1244,217.4h-4M777.3,246.5h4M1244,246.5h-4M777.3,274.6h4M1244,274.6h-4M777.3,303.8h4M1244,303.8h-4" stroke="#111" stroke-width="1"/>
<text x="771" y="165.4" font-size="15" text-anchor="end">20</text>
<text x="771" y="194.6" font-size="15" text-anchor="end">40</text>
<text x="771" y="222.7" font-size="15" text-anchor="end">60</text>
<text x="771" y="251.8" font-size="15" text-anchor="end">90</text>
<text x="771" y="279.9" font-size="15" text-anchor="end">100</text>
<text x="771" y="309.1" font-size="15" text-anchor="end">120</text>
<text x="766" y="326.9" font-size="15" text-anchor="end">neurons</text>
<rect x="1249" y="200.5" width="12.5" height="46" fill="url(#parula)" stroke="#333" stroke-width="0.8"/>
<text x="1268" y="210.7" font-size="12">8</text>
<text x="1268" y="229.5" font-size="12">zscore</text>
<text x="1265" y="246.2" font-size="12">-4</text>
<text x="767.7" y="351.3" font-size="15">time (s)</text>
<text x="864.5" y="351.3" font-size="15" text-anchor="middle">200</text>
<text x="955.8" y="351.3" font-size="15" text-anchor="middle">400</text>
<text x="1047.1" y="351.3" font-size="15" text-anchor="middle">600</text>
<text x="1138.4" y="351.3" font-size="15" text-anchor="middle">800</text>
<text x="1229.7" y="351.3" font-size="15" text-anchor="middle">1000</text>
<rect x="759" y="358.8" width="503" height="74.5" fill="none" stroke="#111" stroke-width="1.2"/>
<text x="743" y="368.4" font-size="15">1</text>
<text x="740.8" y="436.8" font-size="15">0</text>
<text x="692.5" y="377.5" font-size="15" text-anchor="middle">forward</text>
<text x="692.5" y="395.7" font-size="15" text-anchor="middle">simulation accuracy</text>
<text x="692.5" y="414" font-size="15" text-anchor="middle">(1-norm. mse)</text>
<path d="M782.3 361.2l1.5 1.6 1.5 2.3 1.5-0.3 1.5-1.6 1.5-1.6 1.5 1.3 1.5-0.8 1.5-1 1.5 0.7 1.5 0.1 1.5-0.7 1.5 0.1 1.5 0.2 1.5 0.1 1.5 2.1 1.5-1.7 1.5 0.9 1.5-1.6 1.5 1.3 1.5 2.5 1.5 2.4 1.5-4 1.5 0.2 1.5-2.3 1.5 0 1.5 1 1.5-0.3 1.5-0.3 1.5-0.8 1.5 0.5 1.5-0.4 1.5 2.1 1.5-1.2 1.5 0 1.5-0.2 1.5 11.6 1.5 44.3 1.5 13.3 1.5-46.3 1.5-20.7 1.5-2.9 1.5 0.9 1.5-0.3 1.5-0.2 1.5 0.4 1.5-0.8 1.5 0.2 1.5 1.3 1.5-1.1 1.5-0.2 1.5 1.2 1.5-0.4 1.5-0.9 1.5 0.6 1.5-0.8 1.5 0.7 1.5-0.3 1.5 0.2 1.5 0.1 1.5 0.5 1.5 0.4 1.5-0.9 1.5 0.7 1.5-0.9 1.5-0.2 1.5 0.5 1.5-0.5 1.5-0.1 1.5 1.5 1.5-1.6 1.5 1 1.5-0.5 1.5 0.6 1.5 0.6 1.5-1.3 1.5 1.9 1.5-0.6 1.5-1.5 1.5 2.7 1.5-2 1.5-0.9 1.5 1.9 1.5-1.6 1.5 2 1.5-0.9 1.5 0.1 1.5-0.1 1.5-1.3 1.5 0.6 1.5-0.2 1.5-0.4 1.5 2.1 1.5-0.2 1.5-2 1.5 0 1.5 0.6 1.5-0.5 1.5 0 1.5 0.9 1.5-1 1.5 0.4 1.5 0.8 1.5-1.2 1.5 0 1.5 0.3 1.5 0.3 1.5-0.5 1.5 0.1 1.5 0.3 1.5 0.7 1.5-0.9 1.5-0.4 1.5 4.2 1.5-3.1 1.5-0.1 1.5-0.8 1.5 1 1.5 0.2 1.5-1.3 1.5 0 1.5 1.1 1.5 0 1.5-0.9 1.5-0.3 1.5 2.5 1.5-1.8 1.5 0.5 1.5-0.3 1.5-0.7 1.5-0.2 1.5 0.8 1.5-0.5 1.5 2.1 1.5-1.8 1.5 1.1 1.5 1.6 1.5-1.7 1.5-0.3 1.5-1.2 1.5 1.3 1.5-0.4 1.5-0.5 1.5 1.4 1.5-1.4 1.5-0.5 1.5 0.6 1.5 1.8 1.5-0.2 1.5-0.6 1.5-0.7 1.5 0.6 1.5-1 1.5 1.1 1.5-1 1.5 0.8 1.5-0.4 1.5 0.5 1.5-1.2 1.5 2.4 1.5-2.2 1.5-0.4 1.5 2.9 1.5-2.4 1.5-0.4 1.5 0.1 1.5 0.2 1.5-0.1 1.5 1.4 1.5-0.6 1.5 3 1.5 1 1.5-1.9 1.5-1.8 1.5-1.3 1.5 4.7 1.5-1 1.5-2.9 1.5-0.8 1.5-0.1 1.5 0.3 1.5 0 1.5 0.4 1.5 1.2 1.5-0.9 1.5 0 1.5-0.5 1.5 0 1.5-0.1 1.5 0.4 1.5 0.7 1.5-0.3 1.5 0.1 1.5-1.1 1.5 0 1.5-0.2 1.5 1.1 1.5-0.4 1.5 0.3 1.5 0.1 1.5-0.5 1.5 0.2 1.5-0.7 1.5 1.3 1.5 0.8 1.5-2.1 1.5 0 1.5 0.2 1.5 0.7 1.5-0.8 1.5-0.1 1.5 0.8 1.5-0.9 1.5 1.3 1.5-0.9 1.5-0.4 1.5 1.2 1.5 0 1.5 1.2 1.5 1.4 1.5 0.2 1.5-2.7 1.5-1.3 1.5 0.3 1.5 0.2 1.5-0.1 1.5 0.2 1.5 1.5 1.5-0.3 1.5-0.9 1.5 0.2 1.5 0.9 1.5-1.8 1.5 0.3 1.5 0.5 1.5-1.1 1.5 2.5 1.5-1.8 1.5-0.1 1.5 5.2 1.5 4.4 1.5-6 1.5-2.2 1.5-1.8 1.5 0.3 1.5-0.5 1.5 0.1 1.5 2.2 1.5-1 1.5 0.3 1.5 0.1 1.5-1.5 1.5 0.5 1.5 0.8 1.5-0.5 1.5 1.4 1.5 0.2 1.5-2 1.5 1.9 1.5 5.7 1.5-5 1.5 0.2 1.5 8.5 1.5-1.1 1.5-9.3 1.5-0.3 1.5-0.9 1.5 0.2 1.5 0.1 1.5-0.3 1.5 0 1.5 0.4 1.5 0.2 1.5-0.2 1.5 0.3 1.5-0.5 1.5-0.1 1.5 0 1.5 1.9 1.5-0.7 1.5-0.9 1.5 0.9 1.5-1.1 1.5 0.4 1.5-0.7 1.5-0.2 1.5 2.1 1.5-1.4 1.5 0 1.5 1.4 1.5-1.4 1.5-0.5 1.5 1 1.5-0.5 1.5 2.1 1.5 1.6 1.5 1.6 1.5-1.4 1.5-2.2 1.5 2.7 1.5-2.3 1.5-0.9 1.5-0.2 1.5-0.2" stroke="#111" stroke-width="1.3" fill="none" stroke-linejoin="round" />
<text x="771.6" y="449.3" font-size="15">time (s)</text>
<text x="868.5" y="449.3" font-size="15" text-anchor="middle">200</text>
<text x="959.8" y="449.3" font-size="15" text-anchor="middle">400</text>
<text x="1051.1" y="449.3" font-size="15" text-anchor="middle">600</text>
<text x="1142.4" y="449.3" font-size="15" text-anchor="middle">800</text>
<text x="1233.7" y="449.3" font-size="15" text-anchor="middle">1000</text>
<text x="49.5" y="499.5" font-size="34" font-weight="bold">c</text>
<text x="109.3" y="570.5" font-size="20" fill="#be1e2d" transform="rotate(-90 109.3 570.5)">integration</text>
<text x="133.6" y="571.7" font-size="20" fill="#be1e2d" transform="rotate(-90 133.6 571.7)">dimension</text>
<path fill="#d9eecb" d="M210.0 477.8h12.0v90.5h-12.0zM225.6 477.8h14.4v90.5h-14.4zM243.9 477.8h12.0v90.5h-12.0zM261.9 477.8h25.4v90.5h-25.4zM228.2 477.8h1.6v90.5h-1.6zM233.2 477.8h1.6v90.5h-1.6zM246.2 477.8h1.6v90.5h-1.6zM251.2 477.8h1.6v90.5h-1.6zM265.2 477.8h1.6v90.5h-1.6zM271.2 477.8h1.6v90.5h-1.6zM277.2 477.8h1.6v90.5h-1.6zM283.2 477.8h1.6v90.5h-1.6zM285.2 477.8h1.6v90.5h-1.6zM326.6 477.8h1.6v90.5h-1.6zM330.2 477.8h1.6v90.5h-1.6zM335.4 477.8h4.2v90.5h-4.2zM341.2 477.8h1.6v90.5h-1.6zM344.4 477.8h3.6v90.5h-3.6zM357.5 477.8h1.6v90.5h-1.6zM364.2 477.8h1.6v90.5h-1.6zM369.2 477.8h1.6v90.5h-1.6zM373.6 477.8h2.4v90.5h-2.4zM378.5 477.8h1.7v90.5h-1.7zM394.7 477.8h1.6v90.5h-1.6zM399.6 477.8h1.6v90.5h-1.6zM405.2 477.8h3.7v90.5h-3.7zM418.5 477.8h1.6v90.5h-1.6zM423.5 477.8h2.5v90.5h-2.5zM440.9 477.8h1.6v90.5h-1.6zM450.2 477.8h3.7v90.5h-3.7zM468.4 477.8h1.6v90.5h-1.6zM476.2 477.8h1.6v90.5h-1.6zM498.8 477.8h2.5v90.5h-2.5zM504.9 477.8h1.6v90.5h-1.6zM508.2 477.8h1.6v90.5h-1.6zM519.9 477.8h1.6v90.5h-1.6zM526.0 477.8h1.6v90.5h-1.6zM540.6 477.8h1.6v90.5h-1.6zM546.7 477.8h1.6v90.5h-1.6zM550.3 477.8h1.6v90.5h-1.6zM560.1 477.8h1.6v90.5h-1.6zM575.9 477.8h1.6v90.5h-1.6z"/>
<path fill="#dccfe9" d="M286.5 477.8h1.6v90.5h-1.6zM347.3 477.8h1.6v90.5h-1.6zM365.4 477.8h1.6v90.5h-1.6zM374.0 477.8h1.6v90.5h-1.6zM379.7 477.8h1.9v90.5h-1.9zM400.6 477.8h1.6v90.5h-1.6zM410.5 477.8h1.6v90.5h-1.6zM425.1 477.8h1.6v90.5h-1.6zM453.5 477.8h1.6v90.5h-1.6zM468.9 477.8h1.6v90.5h-1.6zM480.3 477.8h1.6v90.5h-1.6zM483.0 477.8h1.6v90.5h-1.6zM506.3 477.8h1.6v90.5h-1.6zM509.0 477.8h1.6v90.5h-1.6zM521.7 477.8h1.6v90.5h-1.6zM526.5 477.8h1.6v90.5h-1.6zM540.6 477.8h1.6v90.5h-1.6zM546.7 477.8h1.6v90.5h-1.6zM551.1 477.8h1.6v90.5h-1.6zM561.2 477.8h1.6v90.5h-1.6zM564.6 477.8h1.6v90.5h-1.6zM568.5 477.8h1.6v90.5h-1.6zM577.8 477.8h1.6v90.5h-1.6z"/>
<path fill="#ebc7bb" d="M288.5 477.8h32.4v90.5h-32.4zM349.3 477.8h4.9v90.5h-4.9zM382.1 477.8h9.3v90.5h-9.3zM401.6 477.8h2.4v90.5h-2.4zM411.3 477.8h4.9v90.5h-4.9zM426.6 477.8h6.6v90.5h-6.6zM454.6 477.8h9.0v90.5h-9.0zM469.7 477.8h4.3v90.5h-4.3zM483.8 477.8h2.9v90.5h-2.9zM510.5 477.8h2.9v90.5h-2.9zM528.0 477.8h3.0v90.5h-3.0zM541.9 477.8h3.1v90.5h-3.1zM552.3 477.8h3.2v90.5h-3.2zM580.3 477.8h8.5v90.5h-8.5z"/>
<path d="M157.0 535.7l1.6 1.5 1.6 0.9 1.6 1.7 1.6 0.9 1.6 1.2 1.9 1.6 1.9-0.7 1.8 0.3 1.9-0.9 1.9-0.4 1.8-1.2 1.9-3.1 1.9 2.1 2-1.5 2-3.2 2-4.2 1.6-0.8 1.6 0.9 1.7 0.7 1.6 1.1 1.9-0.9 1.8-1.1 1.9-3 1.9 0.1 1.7 4.7 1.6 7.6 1.7 6.9 2 3.5 2 4.8 1.8-1.7 1.9 0 1.8 1.3 1.8 1.4 1.9 1.7 1.8 0.1 1.7-0.9 1.6-0.9 1.7 0.4 1.7 2.1 1.6-1.9 1.7 0.8 1.7 0.4 1.6-2.2 1.7 1.3 1.7 1.7 1.6-3.9 1.7 0.5 1.7-0.3 1.6-1.6 1.7 0.6 1.7-1 1.6-2.2 1.7 2.2 1.7 3.2 1.6 6.2 1.7 3.6 1.7-1.4 1.6-1.3 1.7-2.9 1.7 0.9 1.6-1.8 1.7-0.3 1.7-4.1 1.6-6.2 1.7-2.5 1.7-3.3 1.6-14.7 1.7-5.8 1.9 2.7 1.9 3.8 1.8 1.2 1.9-2.4 1.7-3.4 1.6-0.7 1.7-2.4 1.8-1.2 1.8 0.6 1.8-1.7 1.7-3.8 1.8-2.6 1.8-1.6 1.8 0.9 1.7-1.2 1.6-1.2 1.7-1.3 1.7-3.8 1.6 1.9 1.7-0.1 1.7-0.7 1.6-4.1 1.7-0.4 1.7 0.7 1.6-3.6 1.7 1 1.7 7.4 1.6 8.9 1.7 8.5 1.7 0.1 1.6 0.3 1.7 0.9 1.7-0.2 1.6-2.3 1.7-1.4 1.7-4.4 1.6-2 1.7 1 1.7-1.2 1.6-2.4 1.7 0.4 1.7-0.4 1.6-3.1 1.7-2.1 1.7 0.9 1.6-0.5 1.7-1.1 1.7 1 1.6-3.2 1.7 1.9 1.7 1.3 1.6 7.4 1.7 5.4 1.9 0 1.9-2.8 1.8-3.2 1.9-1.5 1.9-2.3 1.8-4.8 1.9-6.1 1.9-1.9 1.9 0.1 1.9-1.5 1.8-0.1 1.9-0.4 1.9 2.8 1.8 1.1 1.9 1.4 1.9 0.8 1.7 1 1.6 2.4 1.7-0.5 1.7 0.2 1.6 1 1.7-6.1 1.7-0.7 1.6 0.8 1.7 0.3 1.7-0.6 1.6-2.1 1.7 0.5 1.7-0.2 1.6-1 1.7 3.3 1.7-1.7 1.6-1.5 1.7 0.2 1.7-0.3 1.6-0.3 1.7-3.8 1.7 1.3 1.6 1.8 1.7-2.2 1.7 6.4 1.6 12.7 1.7 5.9 1.7-1.7 1.6-8.6 1.7-1.8 1.7-0.3 1.6-0.2 1.7-1 1.7-6.2 1.6 2.1 1.7-2.7 1.7 2 1.6-2.1 1.7 1.5 1.7 1.6 1.6-1.2 1.7 0.1 1.7 0.4 1.6-1.5 1.7-1.7 1.7 0.6 1.6-1 1.7-2 1.7 3 1.6-4.3 1.7 0.9 1.7-1.7 1.6-0.2 1.7 0.6 1.9 0 1.9 1.2 1.8-1.6 1.9-0.2 1.9 1.7 1.8-3.1 1.9-2.2 1.9-1.3 1.7 0.6 1.6-4.9 1.7-1.5 1.7-1.5 1.6 3 1.7 0 1.7 2.1 1.6 2 1.7-2 1.7 2.9 1.6 0.4 1.7-1.3 1.7-2.4 1.6 3.9 1.7-0.3 1.7-0.2 1.6 1.4 1.7 0.5 1.9 2.4 1.9 0 1.8 4.6 1.9 2 2.5 22.7 1.7-7 1.6-11.1 1.7-3.2 1.7-0.9 1.6-1.1 1.7 0.3 1.7-2.9 1.6-3.8 1.7 1.3 1.7-1.6 1.6 2.4 1.7-0.5 1.7-1.7 1.6 0 1.7 1 1.7 1.2 1.6 5.1 1.7 0.5 1.7 0.4 1.6-1.1 1.7-2.1 1.7-5.2 1.6-0.6 1.7-3.7 1.7 0.4 1.6-0.6 1.7 4 1.7-1.3 1.6 1.5 1.7 0.2 1.9 1.3 1.9 2 1.8 3.5 1.9 1" stroke="#111" stroke-width="1.2" fill="none" stroke-linejoin="round" />
<rect x="157" y="477.8" width="440.5" height="90.5" fill="none" stroke="#111" stroke-width="1.2"/>
<path d="M157,523.4h4M597.5,523.4h-4" stroke="#111" stroke-width="1"/>
<path d="M235.2,477.8v0M235.2,568.3v0M311.1,477.8v0M311.1,568.3v0M387,477.8v0M387,568.3v0M462.9,477.8v0M462.9,568.3v0M538.8,477.8v0M538.8,568.3v0" stroke="#111" stroke-width="1"/>
<text x="139.1" y="586.6" font-size="15">time (s)</text>
<text x="235.2" y="586.6" font-size="15" text-anchor="middle">200</text>
<text x="311.1" y="586.6" font-size="15" text-anchor="middle">400</text>
<text x="387" y="586.6" font-size="15" text-anchor="middle">600</text>
<text x="462.9" y="586.6" font-size="15" text-anchor="middle">800</text>
<text x="538.8" y="586.6" font-size="15" text-anchor="middle">1000</text>
<text x="676" y="499.5" font-size="34" font-weight="bold">d</text>
<text x="737" y="567.5" font-size="20" fill="#be1e2d" transform="rotate(-90 737 567.5)">integration</text>
<text x="761" y="568.5" font-size="20" fill="#be1e2d" transform="rotate(-90 761 568.5)">dimension</text>
<path fill="#d9eecb" d="M836.0 475.5h4.2v92.5h-4.2zM841.8 475.5h1.6v92.5h-1.6zM844.0 475.5h1.6v92.5h-1.6zM847.9 475.5h1.6v92.5h-1.6zM852.2 475.5h1.6v92.5h-1.6zM858.2 475.5h1.6v92.5h-1.6zM865.0 475.5h1.6v92.5h-1.6zM876.8 475.5h1.6v92.5h-1.6zM881.5 475.5h1.6v92.5h-1.6zM885.9 475.5h1.6v92.5h-1.6zM889.2 475.5h1.6v92.5h-1.6zM895.0 475.5h1.6v92.5h-1.6zM898.7 475.5h1.6v92.5h-1.6zM918.8 475.5h1.6v92.5h-1.6zM930.6 475.5h1.6v92.5h-1.6zM944.2 475.5h1.6v92.5h-1.6zM960.7 475.5h1.6v92.5h-1.6zM965.2 475.5h1.6v92.5h-1.6zM982.6 475.5h1.6v92.5h-1.6zM995.2 475.5h1.6v92.5h-1.6zM999.9 475.5h1.6v92.5h-1.6zM1006.8 475.5h1.6v92.5h-1.6zM1012.1 475.5h1.6v92.5h-1.6zM1022.0 475.5h1.6v92.5h-1.6zM1026.2 475.5h1.6v92.5h-1.6zM1036.2 475.5h1.6v92.5h-1.6zM1039.2 475.5h1.6v92.5h-1.6zM1052.0 475.5h1.6v92.5h-1.6zM1065.7 475.5h1.6v92.5h-1.6zM1073.2 475.5h1.6v92.5h-1.6zM1078.0 475.5h1.6v92.5h-1.6zM1091.2 475.5h1.6v92.5h-1.6zM1098.9 475.5h1.6v92.5h-1.6zM1106.0 475.5h1.6v92.5h-1.6zM1111.7 475.5h1.6v92.5h-1.6zM1122.7 475.5h1.6v92.5h-1.6zM1125.5 475.5h1.6v92.5h-1.6zM1136.4 475.5h1.6v92.5h-1.6zM1148.9 475.5h1.6v92.5h-1.6zM1155.9 475.5h1.6v92.5h-1.6zM1166.0 475.5h1.6v92.5h-1.6zM1174.9 475.5h1.6v92.5h-1.6zM1183.9 475.5h1.6v92.5h-1.6zM1196.8 475.5h1.6v92.5h-1.6zM1207.2 475.5h1.6v92.5h-1.6zM1215.8 475.5h1.6v92.5h-1.6zM1218.6 475.5h1.6v92.5h-1.6zM1233.8 475.5h1.6v92.5h-1.6z"/>
<path fill="#dccfe9" d="M843.1 475.5h1.6v92.5h-1.6zM852.5 475.5h1.6v92.5h-1.6zM865.9 475.5h1.6v92.5h-1.6zM877.2 475.5h1.6v92.5h-1.6zM895.4 475.5h1.6v92.5h-1.6zM919.7 475.5h1.6v92.5h-1.6zM931.2 475.5h1.6v92.5h-1.6zM944.7 475.5h1.6v92.5h-1.6zM966.2 475.5h1.6v92.5h-1.6zM970.4 475.5h1.6v92.5h-1.6zM995.4 475.5h1.6v92.5h-1.6zM1011.0 475.5h1.6v92.5h-1.6zM1012.9 475.5h1.6v92.5h-1.6zM1036.8 475.5h1.6v92.5h-1.6zM1040.0 475.5h1.6v92.5h-1.6zM1052.8 475.5h1.6v92.5h-1.6zM1066.1 475.5h1.6v92.5h-1.6zM1078.6 475.5h1.6v92.5h-1.6zM1092.3 475.5h1.6v92.5h-1.6zM1099.5 475.5h1.6v92.5h-1.6zM1112.2 475.5h1.6v92.5h-1.6zM1135.0 475.5h1.6v92.5h-1.6zM1142.1 475.5h1.6v92.5h-1.6zM1156.9 475.5h1.6v92.5h-1.6zM1175.9 475.5h1.6v92.5h-1.6zM1185.0 475.5h1.6v92.5h-1.6zM1197.3 475.5h1.6v92.5h-1.6zM1207.6 475.5h1.6v92.5h-1.6zM1229.4 475.5h1.6v92.5h-1.6z"/>
<path fill="#ebc7bb" d="M853.9 475.5h4.6v92.5h-4.6zM867.0 475.5h3.0v92.5h-3.0zM878.5 475.5h3.1v92.5h-3.1zM896.4 475.5h3.1v92.5h-3.1zM932.3 475.5h4.6v92.5h-4.6zM946.0 475.5h3.6v92.5h-3.6zM972.0 475.5h5.9v92.5h-5.9zM996.2 475.5h4.5v92.5h-4.5zM1014.8 475.5h7.6v92.5h-7.6zM1054.1 475.5h2.5v92.5h-2.5zM1067.4 475.5h2.5v92.5h-2.5zM1079.8 475.5h3.8v92.5h-3.8zM1101.0 475.5h4.4v92.5h-4.4zM1113.2 475.5h3.3v92.5h-3.3zM1143.4 475.5h5.2v92.5h-5.2zM1158.0 475.5h4.4v92.5h-4.4zM1177.2 475.5h4.2v92.5h-4.2zM1186.2 475.5h3.4v92.5h-3.4zM1198.5 475.5h3.2v92.5h-3.2zM1209.0 475.5h2.8v92.5h-2.8zM1230.8 475.5h3.8v92.5h-3.8z"/>
<path d="M776.0 552.9l1.7 5.3 1.6 3.9 1.7 2.3 1.7-3.8 1.6-6.7 1.7-2.9 1.7 1.1 1.6 2.8 1.7 1.4 1.7 0.4 1.6 3.4 1.7 1.7 1.7-1.9 1.6-7.7 1.7-3.9 1.7-0.9 1.6-3.2 1.7-3.8 1.7 6.8 1.6 6.3 1.7 4.4 1.7-2.4 1.6 0.1 1.7-3.1 2-6.2 2-7.3 2 5.1 2 4.6 2 5.2 1.7-2.8 1.6 1.1 1.7 1.5 1.7-1.8 1.6 0.7 1.7 0.3 1.7 1.2 1.6-1.1 1.7 1.7 1.7 2.6 1.6-3.4 1.7-0.1 1.7 1.5 1.6-1.5 1.7-1.7 1.7 2.5 1.6-0.2 1.7 0.1 1.7 0.2 1.6 0.2 1.7-1.1 1.7-1.6 1.6 3.6 1.7-1 1.7 0.9 1.6 0.1 1.7-2.8 1.7-0.2 1.6 2.1 1.7-0.7 1.7-3.5 1.6 0.1 1.7-0.7 1.7-0.5 1.6-0.4 1.7-1.3 1.7-1.1 1.6-0.6 1.7-5 1.7 0.1 1.6-2.2 1.7-1.8 1.7-0.8 1.6 0 1.7-3.1 1.7-2.8 1.6 2 1.7 1.8 1.7-1.7 1.6-0.5 1.7-0.8 1.7-1.8 1.6 0.9 1.7 0.7 1.7-1.6 1.6-1.4 1.7-5.3 1.7-2.1 1.6-3.3 1.7-0.7 1.7 1.1 1.6 0.6 1.7 1.5 1.7 0.6 1.6-1.9 1.7 2.7 1.7-3.6 1.6-0.7 1.7-1.8 1.7-2.8 1.6-1.2 1.7-1.1 1.9-3.2 1.9-2.5 1.8-5 1.9-3.1 1.9 1.3 1.8 1 1.9 1.3 1.9-0.6 1.7 0 1.6-2.1 1.7-0.4 1.7-4.4 1.6-0.2 1.7-2 1.7 1.3 1.6 2.2 1.7-2.2 1.7 0.5 1.6-0.8 1.7 0.1 1.7 0.1 1.6 0.9 1.7 1.2 1.7 0.3 1.6-1.7 1.7 0.4 1.7-2.2 1.6 1.1 1.7-1.7 1.7-2.4 1.6-0.8 1.7 1.3 1.7 0.3 1.6 2 1.7 0.7 1.7 2.3 1.6 1 1.7-1.1 1.7 0.9 1.6-0.6 1.7-1.8 1.7 0.4 1.6 1.1 1.7-0.7 1.7-1.6 1.6-1.4 1.7 1.3 1.7 0.3 1.6 1.3 1.7 1.6 1.8-1.7 1.8-3.7 1.8 0.4 1.7-3.7 1.8-1.1 1.8-4.1 1.8 2.9 1.9-2.2 1.8 4.3 1.9 4.5 1.9-2.4 1.7 0.9 1.6-1.6 1.7 2.6 1.7-1.5 1.6-3 1.7-1.8 1.7-0.3 1.6 2.4 1.7-0.4 1.7 1.5 1.6-0.6 1.7-1.5 1.7 3.7 1.6-1.2 1.7-2.4 1.7-0.9 1.6 0.9 1.7-1 1.7-3.4 1.6 2.2 1.7-2.1 1.7 1 1.6-1.9 1.7 0.1 1.7 1.9 1.6-2 1.7 1.1 1.7 0.5 1.6-1.6 1.7 1.6 1.7-1 1.6-1.5 1.7 1 1.7 1 1.6 1 1.7-0.4 1.7 1.9 1.6 0.6 1.7-1.6 1.7 0.3 1.6 2.6 1.7-3.3 1.7 0.2 1.6 1.3 1.7-2.3 1.7 0.2 1.6 0 1.7 2.6 1.7-0.5 1.6 2.5 1.7-0.9 1.8 1.4 1.8-1.5 1.8 1.2 1.7 3.6 1.8 1.2 1.8-3.6 1.8 4.7 1.8-1.9 1.8 1.3 1.8 0.1 1.7-1.9 1.8-1.1 1.8-2.3 1.8 2.2 1.7 2.9 1.6-1.9 1.7 4 1.7 1.9 1.6 1.6 1.7-1.8 1.9 2 1.9 4.1 1.8 5.5 1.9-1.3 1.9-0.9 1.8-2.1 1.9 0.1 1.9-3.3 1.7 0.9 1.6-1.5 1.7 0.3 1.7 0.9 1.6-1.6 1.7 1 1.7-0.6 1.6 1.6 1.7 1.8 1.7 1 1.6 2.7 1.7 1.1 1.7-1.6 1.6 1.4 1.7-0.3 1.7-0.8 1.6 0.6 1.7 0.9 1.7 0.8 1.6 2.8 1.7 1.2 1.7 2.1 1.6-0.3 1.7 1.3 1.9 1.2 1.9-2.6 1.8-1.1 1.9 2.9 1.9 0.4 1.8 2.8 1.9 2.8 1.9 4.7" stroke="#111" stroke-width="1.2" fill="none" stroke-linejoin="round" />
<rect x="775" y="475.5" width="467" height="92.5" fill="none" stroke="#111" stroke-width="1.2"/>
<path d="M775,521.8h4M1242,521.8h-4" stroke="#111" stroke-width="1"/>
<text x="770" y="586.6" font-size="15">time (s)</text>
<text x="868.5" y="586.6" font-size="15" text-anchor="middle">200</text>
<text x="959.8" y="586.6" font-size="15" text-anchor="middle">400</text>
<text x="1051.1" y="586.6" font-size="15" text-anchor="middle">600</text>
<text x="1142.4" y="586.6" font-size="15" text-anchor="middle">800</text>
<text x="1233.7" y="586.6" font-size="15" text-anchor="middle">1000</text>
<text x="50.9" y="664" font-size="34" font-weight="bold">e</text>
<text x="119.6" y="643.1" font-size="20" textLength="119.4" lengthAdjust="spacingAndGlyphs">flow field with</text>
<text x="119.6" y="667.4" font-size="20">line attractor</text>
<text x="285" y="632.7" font-size="20">0</text>
<text x="324.2" y="632.7" font-size="20">1050</text>
<rect x="289.3" y="639" width="66.4" height="15" fill="url(#tgrad)" stroke="#222" stroke-width="0.8"/>
<text x="289.3" y="673.3" font-size="20" textLength="67.2" lengthAdjust="spacingAndGlyphs">time (s)</text>
<path d="M133.5 688.8l0.0 8.0M133.5 697.5l0.0 8.0M133.5 706.1l0.0 8.0M133.5 714.8l0.0 8.0M133.5 723.4l0.0 8.0M133.5 732.1l0.0 8.0M133.5 740.8l0.0 8.0M133.5 749.4l0.0 8.0M133.5 758.1l0.0 8.0M133.5 766.7l0.0 8.0M133.5 775.4l0.0 8.0M133.5 784.1l0.0 8.0M133.5 792.7l0.0 8.0M133.5 801.4l0.0 8.0M133.5 810.1l0.0 7.8M133.5 819.5l0.0 6.3M133.5 828.9l0.0 4.9M133.5 838.3l0.0 3.4M133.5 847.7l0.0 1.9M133.5 856.5l0.0 1.6M133.5 865.5v1M133.3 875.4l0.3-1.4M133.3 884.4l0.3-2.2M133.3 893.5l0.3-3.0M133.3 902.5l0.3-3.7M133.3 911.2l0.3-3.7M142.0 688.8l0.0 8.0M142.0 697.5l0.0 8.0M142.0 706.1l0.0 8.0M142.0 714.8l0.0 8.0M142.0 723.4l0.0 8.0M142.0 732.1l0.0 8.0M142.0 740.8l0.0 8.0M142.0 749.4l0.0 8.0M142.0 758.1l0.0 8.0M142.0 766.7l0.0 8.0M142.0 775.4l0.0 8.0M142.0 784.1l0.0 8.0M142.0 792.7l0.0 8.0M142.0 801.4l0.0 8.0M142.0 810.3l0.0 7.4M142.0 819.7l0.0 5.9M142.0 829.1l0.0 4.5M142.0 838.5l0.0 3.0M142.0 847.9l0.0 1.6M142.0 856.5l0.0 1.6M142.0 865.5v1M141.9 875.5l0.3-1.7M141.9 884.6l0.3-2.6M141.9 893.7l0.3-3.4M141.9 902.6l0.3-3.9M141.9 911.2l0.3-3.9M150.5 688.8l0.0 8.0M150.5 697.5l0.0 8.0M150.5 706.1l0.0 8.0M150.5 714.8l0.0 8.0M150.5 723.4l0.0 8.0M150.5 732.1l0.0 8.0M150.5 740.8l0.0 8.0M150.5 749.4l0.0 8.0M150.5 758.1l0.0 8.0M150.5 766.7l0.0 8.0M150.5 775.4l0.0 8.0M150.5 784.1l0.0 8.0M150.5 792.7l0.0 8.0M150.5 801.4l0.0 8.0M150.5 810.5l0.0 7.0M150.5 819.9l0.0 5.5M150.5 829.3l0.0 4.0M150.5 838.7l0.0 2.6M150.5 847.9l0.0 1.6M150.5 856.8v1M150.4 866.6l0.3-1.1M150.4 875.7l0.3-2.0M150.4 884.8l0.3-2.9M150.4 893.9l0.3-3.8M150.4 902.7l0.3-4.0M150.4 911.3l0.3-4.0M159.0 688.9l0.0 7.8M159.0 697.5l0.0 7.8M159.0 706.2l0.0 7.8M159.0 714.9l0.0 7.8M159.0 723.5l0.0 7.8M159.0 732.2l0.0 7.8M159.0 740.8l0.0 7.8M159.0 749.5l0.0 7.8M159.0 758.2l0.0 7.8M159.0 766.8l0.0 7.8M159.0 775.5l0.0 7.8M159.0 784.1l0.0 7.8M159.0 792.8l0.0 7.8M159.0 801.5l0.0 7.8M159.0 810.8l0.0 6.5M159.0 820.2l0.0 5.0M159.0 829.6l0.0 3.6M159.0 839.0l0.0 2.1M159.0 847.9l0.0 1.6M159.0 856.8v1M158.9 866.7l0.3-1.4M158.9 875.8l0.3-2.4M158.9 885.0l0.3-3.3M158.9 894.1l0.3-4.2M158.9 902.7l0.3-4.2M158.9 911.4l0.3-4.2M167.5 689.2l0.0 7.2M167.5 697.9l0.0 7.2M167.5 706.5l0.0 7.2M167.5 715.2l0.0 7.2M167.5 723.9l0.0 7.2M167.5 732.5l0.0 7.2M167.5 741.2l0.0 7.2M167.5 749.8l0.0 7.2M167.5 758.5l0.0 7.2M167.5 767.2l0.0 7.2M167.5 775.8l0.0 7.2M167.5 784.5l0.0 7.2M167.5 793.1l0.0 7.2M167.5 801.9l0.0 6.9M167.5 811.3l0.0 5.5M167.5 820.6l0.0 4.2M167.5 829.9l0.0 2.9M167.5 839.2l0.0 1.6M167.5 848.0l0.0 1.4M167.5 856.8v1M167.4 866.9l0.3-1.8M167.4 876.0l0.3-2.7M167.4 885.2l0.3-3.7M167.4 894.2l0.3-4.4M167.4 902.8l0.3-4.4M167.4 911.5l0.3-4.4M176.0 689.5l0.0 6.5M176.0 698.2l0.0 6.5M176.0 706.9l0.0 6.5M176.0 715.5l0.0 6.5M176.0 724.2l0.0 6.5M176.0 732.8l0.0 6.5M176.0 741.5l0.0 6.5M176.0 750.2l0.0 6.5M176.0 758.8l0.0 6.5M176.0 767.5l0.0 6.5M176.0 776.1l0.0 6.5M176.0 784.8l0.0 6.5M176.0 793.5l0.0 6.5M176.0 802.4l0.0 5.9M176.0 811.7l0.0 4.7M176.0 821.0l0.0 3.5M176.0 830.2l0.0 2.3M176.0 839.4l0.0 1.3M176.0 848.2v1M175.9 857.9l0.3-1.1M175.9 867.1l0.3-2.1M175.9 876.2l0.3-3.1M175.9 885.4l0.3-4.1M175.9 894.3l0.3-4.6M175.9 902.9l0.3-4.6M175.9 911.6l0.3-4.6M184.5 689.9l0.0 5.8M184.5 698.5l0.0 5.8M184.5 707.2l0.0 5.8M184.5 715.9l0.0 5.8M184.5 724.5l0.0 5.8M184.5 733.2l0.0 5.8M184.5 741.8l0.0 5.8M184.5 750.5l0.0 5.8M184.5 759.2l0.0 5.8M184.5 767.8l0.0 5.8M184.5 776.5l0.0 5.8M184.5 785.1l0.0 5.8M184.5 793.8l0.0 5.8M184.5 802.9l0.0 5.0M184.5 812.1l0.0 3.9M184.5 821.3l0.0 2.8M184.5 830.5l0.0 1.7M184.5 839.4l0.0 1.2M184.5 848.2v1M184.4 858.1l0.3-1.4M184.4 867.2l0.3-2.5M184.4 876.4l0.3-3.5M184.4 885.6l0.3-4.6M184.4 894.3l0.3-4.7M184.4 903.0l0.3-4.7M184.4 911.7l0.3-4.7M193.0 690.2l0.0 5.2M193.0 698.9l0.0 5.2M193.0 707.5l0.0 5.2M193.0 716.2l0.0 5.2M193.0 724.9l0.0 5.2M193.0 733.5l0.0 5.2M193.0 742.2l0.0 5.2M193.0 750.8l0.0 5.2M193.0 759.5l0.0 5.2M193.0 768.2l0.0 5.2M193.0 776.8l0.0 5.2M193.0 785.5l0.0 5.2M193.0 794.2l0.0 5.1M193.0 803.3l0.0 4.1M193.0 812.5l0.0 3.2M193.0 821.6l0.0 2.2M193.0 830.7l0.0 1.3M193.0 839.5l0.0 1.0M192.9 849.2l0.3-1.0M192.9 858.2l0.3-1.8M192.9 867.4l0.3-2.9M192.9 876.6l0.3-4.0M192.9 885.8l0.3-4.9M192.9 894.4l0.3-4.9M192.9 903.1l0.3-4.9M192.9 911.7l0.3-4.9M201.5 690.6l0.0 4.5M201.5 699.2l0.0 4.5M201.5 707.9l0.0 4.5M201.5 716.5l0.0 4.5M201.5 725.2l0.0 4.5M201.5 733.9l0.0 4.5M201.5 742.5l0.0 4.5M201.5 751.2l0.0 4.5M201.5 759.8l0.0 4.5M201.5 768.5l0.0 4.5M201.5 777.2l0.0 4.5M201.5 785.8l0.0 4.5M201.5 794.6l0.0 4.2M201.5 803.7l0.0 3.4M201.5 812.8l0.0 2.5M201.5 821.8l0.0 1.7M201.5 830.9v1M201.5 839.5v1M201.4 849.2l0.3-1.1M201.4 858.4l0.3-2.2M201.4 867.6l0.3-3.3M201.4 876.9l0.3-4.4M201.4 885.9l0.3-5.1M201.4 894.5l0.3-5.1M201.4 903.2l0.3-5.1M201.4 911.8l0.3-5.1M210.0 690.9l0.1 3.7M210.0 699.6l0.1 3.7M210.0 708.3l0.1 3.7M210.0 716.9l0.1 3.7M210.0 725.6l0.0 3.7M210.0 734.2l0.0 3.7M210.0 742.9l0.0 3.7M210.0 751.6l0.0 3.7M210.0 760.2l0.0 3.7M210.0 768.9l0.0 3.7M210.0 777.5l0.0 3.7M210.0 786.2l-0.0 3.7M210.0 795.1l-0.0 3.3M210.0 804.1l-0.0 2.6M210.1 813.1l-0.0 1.9M210.1 822.1l-0.0 1.2M210.0 830.9v1M209.9 840.5l0.3-1.0M209.9 849.4l0.3-1.4M209.9 858.6l0.3-2.6M209.9 867.9l0.3-3.7M209.9 877.1l0.3-4.9M209.9 885.9l0.3-5.2M209.9 894.6l0.3-5.2M209.9 903.3l0.3-5.2M209.9 911.9l0.3-5.2M218.3 691.5l0.5 2.7M218.3 700.1l0.5 2.7M218.3 708.8l0.5 2.6M218.3 717.5l0.4 2.6M218.3 726.1l0.4 2.6M218.4 734.8l0.3 2.6M218.4 743.5l0.3 2.5M218.4 752.2l0.2 2.5M218.5 760.8l0.2 2.5M218.5 769.5l0.1 2.5M218.5 778.2l0.0 2.5M218.6 786.8l-0.0 2.5M218.6 795.7l-0.1 1.9M218.6 804.7l-0.2 1.4M218.5 813.5v1M218.5 822.2v1M218.5 830.9v1M218.4 840.6l0.3-1.1M218.4 849.6l0.3-1.8M218.4 858.8l0.3-3.0M218.4 868.1l0.3-4.2M218.4 877.4l0.3-5.4M218.4 886.0l0.3-5.4M218.4 894.7l0.3-5.4M218.4 903.3l0.3-5.4M218.4 912.0l0.3-5.4M226.6 691.9l1.0 1.7M226.6 700.6l0.9 1.7M226.6 709.3l0.9 1.6M226.6 718.0l0.8 1.6M226.7 726.7l0.8 1.5M226.7 735.4l0.7 1.4M226.7 744.1l0.6 1.4M226.8 752.8l0.5 1.3M226.9 761.4l0.4 1.3M226.9 770.1l0.2 1.3M227.0 778.8l0.1 1.3M227.1 787.5l-0.1 1.2M227.0 796.2v1M227.0 804.9v1M227.0 813.5v1M227.0 822.2v1M227.0 830.9v1M226.9 840.6l0.3-1.1M226.9 849.8l0.3-2.2M226.9 859.1l0.3-3.4M226.9 868.3l0.3-4.7M226.9 877.4l0.3-5.6M226.9 886.1l0.3-5.6M226.9 894.8l0.3-5.6M226.9 903.4l0.3-5.6M226.9 912.1l0.3-5.6M234.8 692.4l1.5 0.8M234.8 701.1l1.5 0.7M234.9 709.8l1.4 0.6M234.9 718.5l1.3 0.6M234.9 727.2l1.2 0.5M235.0 735.9l1.1 0.4M235.6 744.3v1M235.6 752.9v1M235.6 761.6v1M235.6 770.2v1M235.6 778.9v1M235.6 787.6v1M235.6 796.2v1M235.6 804.9v1M236.0 814.5l-0.8-0.9M236.1 823.3l-1.0-1.1M235.4 831.9l0.3-1.2M235.4 840.7l0.3-1.3M235.4 850.0l0.3-2.6M235.4 859.3l0.3-3.9M235.4 868.6l0.3-5.2M235.4 877.5l0.3-5.8M235.4 886.2l0.3-5.8M235.4 894.9l0.3-5.8M235.4 903.5l0.3-5.8M235.4 912.2l0.3-5.8M243.0 692.8l2.1-0.0M243.0 701.5l2.0-0.1M243.1 710.2l2.0-0.2M243.1 719.0l1.9-0.4M243.2 727.7l1.8-0.5M243.3 736.4l1.6-0.6M243.4 745.0l1.3-0.6M243.6 753.7l1.0-0.6M244.1 761.6v1M244.1 770.2v1M244.1 778.9v1M244.1 787.6v1M244.3 797.2l-0.5-0.9M244.4 805.9l-0.8-1.1M244.6 814.7l-1.1-1.3M244.7 823.4l-1.4-1.5M243.9 832.0l0.3-1.2M243.9 840.9l0.3-1.8M243.9 850.2l0.3-3.1M243.9 859.5l0.3-4.4M243.9 868.8l0.3-5.7M243.9 877.6l0.3-5.9M243.9 886.3l0.3-5.9M243.9 894.9l0.3-5.9M243.9 903.6l0.3-5.9M243.9 912.3l0.3-5.9M251.2 693.2l2.7-0.8M251.2 701.9l2.6-0.9M251.3 710.6l2.6-1.0M251.3 719.4l2.5-1.2M251.4 728.1l2.3-1.3M251.6 736.7l1.9-1.3M251.8 745.4l1.6-1.3M252.0 754.1l1.2-1.3M252.1 762.7l0.8-1.3M252.3 771.4l0.5-1.3M252.5 780.0l0.1-1.3M252.7 788.7l-0.2-1.4M252.9 797.4l-0.6-1.4M253.0 806.1l-1.0-1.5M253.2 814.8l-1.3-1.6M253.4 823.5l-1.7-1.6M252.4 832.0l0.3-1.2M252.4 841.1l0.3-2.2M252.4 850.4l0.3-3.5M252.4 859.8l0.3-4.9M252.4 869.0l0.3-6.1M252.4 877.7l0.3-6.1M252.4 886.4l0.3-6.1M252.4 895.0l0.3-6.1M252.4 903.7l0.3-6.1M252.4 912.3l0.3-6.1M259.4 693.2l3.3-0.8M259.4 701.9l3.3-0.9M259.5 710.6l3.2-1.0M259.5 719.4l3.1-1.2M259.7 728.0l2.7-1.2M259.9 736.7l2.3-1.2M260.1 745.4l1.9-1.2M260.3 754.0l1.4-1.2M260.6 762.7l1.0-1.2M260.8 771.3l0.6-1.2M261.0 780.0l0.1-1.2M261.2 788.7l-0.3-1.3M261.4 797.4l-0.7-1.4M261.6 806.1l-1.2-1.4M261.9 814.8l-1.6-1.5M262.1 823.5l-2.0-1.5M260.9 832.0l0.3-1.3M260.9 841.3l0.3-2.6M260.9 850.7l0.3-4.0M260.9 860.0l0.3-5.4M260.9 869.1l0.3-6.3M260.9 877.8l0.3-6.3M260.9 886.5l0.3-6.3M260.9 895.1l0.3-6.3M260.9 903.8l0.3-6.3M260.9 912.4l0.3-6.3M267.6 693.1l3.9-0.6M267.6 701.8l3.9-0.7M267.6 710.5l3.9-0.8M267.7 719.2l3.7-0.9M268.0 727.9l3.2-0.9M268.2 736.6l2.7-0.9M268.5 745.2l2.2-0.9M268.7 753.9l1.7-0.9M269.0 762.5l1.2-0.9M269.2 771.2l0.7-0.9M269.6 778.9v1M269.7 788.6l-0.3-1.1M270.0 797.3l-0.8-1.1M270.2 806.0l-1.3-1.2M270.5 814.7l-1.8-1.3M269.4 823.3l0.3-1.3M269.4 832.2l0.3-1.7M269.4 841.6l0.3-3.1M269.4 850.9l0.3-4.5M269.4 860.3l0.3-6.0M269.4 869.2l0.3-6.4M269.4 877.9l0.3-6.4M269.4 886.5l0.3-6.4M269.4 895.2l0.3-6.4M269.4 903.9l0.3-6.4M269.4 912.5l0.3-6.4M275.8 693.0l4.4-0.3M275.9 701.6l4.4-0.4M275.9 710.4l4.4-0.5M276.0 719.0l4.1-0.5M276.3 727.7l3.5-0.5M276.6 736.4l3.0-0.5M276.9 745.0l2.4-0.5M277.1 753.7l1.8-0.5M277.4 762.3l1.3-0.5M278.1 770.2v1M278.1 778.9v1M278.1 787.6v1M278.5 797.1l-0.9-0.7M278.8 805.8l-1.5-0.8M279.1 814.5l-2.0-0.8M277.9 823.4l0.3-1.3M277.9 832.4l0.3-2.1M277.9 841.8l0.3-3.6M277.9 851.2l0.3-5.1M277.9 860.6l0.3-6.5M277.9 869.3l0.3-6.6M277.9 878.0l0.3-6.6M277.9 886.6l0.3-6.6M277.9 895.3l0.3-6.6M277.9 903.9l0.3-6.6M277.9 912.6l0.3-6.6M284.3 692.7l4.5 0.1M284.3 701.4l4.5 0.1M284.3 710.1l4.5 0.1M284.5 718.7l4.1 0.1M284.8 727.4l3.5 0.1M285.1 736.1l3.0 0.1M285.4 744.7l2.4 0.1M285.7 753.4l1.8 0.1M285.9 762.0l1.3 0.1M286.6 770.2v1M286.6 778.9v1M286.6 787.6v1M286.6 796.2v1M287.3 805.5l-1.5-0.2M287.6 814.2l-2.0-0.3M286.4 823.4l0.3-1.4M286.4 832.7l0.3-2.6M286.4 842.1l0.3-4.1M286.4 851.5l0.3-5.6M286.4 860.7l0.3-6.8M286.4 869.4l0.3-6.8M286.4 878.0l0.3-6.8M286.4 886.7l0.3-6.8M286.4 895.4l0.3-6.8M286.4 904.0l0.3-6.8M286.4 912.7l0.3-6.8M292.8 692.5l4.5 0.6M292.8 701.2l4.5 0.6M292.8 709.8l4.5 0.6M293.0 718.5l4.1 0.6M293.3 727.1l3.5 0.6M293.6 735.8l3.0 0.6M293.9 744.4l2.4 0.6M294.2 753.1l1.8 0.6M294.4 761.8l1.3 0.6M295.1 770.2v1M295.1 778.9v1M295.1 787.6v1M295.1 796.2v1M295.8 805.2l-1.5 0.3M294.9 814.7l0.3-1.4M294.9 823.5l0.3-1.6M294.9 832.9l0.3-3.1M294.9 842.3l0.3-4.6M294.9 851.8l0.3-6.2M294.9 860.8l0.3-6.9M294.9 869.5l0.3-6.9M294.9 878.1l0.3-6.9M294.9 886.8l0.3-6.9M294.9 895.5l0.3-6.9M294.9 904.1l0.3-6.9M294.9 912.8l0.3-6.9M301.4 692.3l4.5 1.0M301.4 700.9l4.4 1.1M301.4 709.5l4.4 1.2M301.6 718.2l4.1 1.2M301.8 726.8l3.5 1.2M302.1 735.5l3.0 1.2M302.4 744.2l2.4 1.2M302.7 752.8l1.8 1.2M302.9 761.5l1.3 1.2M303.2 770.2l0.7 1.2M303.5 778.9l0.2 1.1M303.8 787.6l-0.4 1.0M304.0 796.3l-0.9 0.9M304.3 804.9l-1.5 0.9M303.4 814.8l0.3-1.4M303.4 823.7l0.3-2.0M303.4 833.2l0.3-3.6M303.4 842.6l0.3-5.2M303.4 852.1l0.3-6.8M303.4 860.9l0.3-7.1M303.4 869.6l0.3-7.1M303.4 878.2l0.3-7.1M303.4 886.9l0.3-7.1M303.4 895.5l0.3-7.1M303.4 904.2l0.3-7.1M303.4 912.9l0.3-7.1M309.9 692.1l4.4 1.4M309.9 700.7l4.3 1.6M309.9 709.3l4.3 1.7M310.1 717.9l4.1 1.8M310.3 726.6l3.5 1.8M310.6 735.2l3.0 1.8M310.9 743.9l2.4 1.8M311.2 752.5l1.8 1.8M311.4 761.2l1.3 1.8M311.7 769.9l0.7 1.7M312.0 778.6l0.2 1.6M312.3 787.3l-0.4 1.6M312.5 796.0l-0.9 1.5M312.8 804.7l-1.5 1.5M311.9 814.8l0.3-1.5M311.9 824.0l0.3-2.5M311.9 833.4l0.3-4.2M311.9 842.9l0.3-5.8M311.9 852.3l0.3-7.3M311.9 861.0l0.3-7.3M311.9 869.6l0.3-7.3M311.9 878.3l0.3-7.3M311.9 887.0l0.3-7.3M311.9 895.6l0.3-7.3M311.9 904.3l0.3-7.3M311.9 912.9l0.3-7.3M318.5 691.9l4.3 1.8M318.5 700.5l4.2 2.0M318.5 709.0l4.1 2.1M318.6 717.6l4.1 2.3M318.8 726.3l3.5 2.3M319.1 734.9l3.0 2.3M319.4 743.6l2.4 2.3M319.7 752.2l1.8 2.3M319.9 760.9l1.3 2.3M320.2 769.6l0.7 2.2M320.5 778.3l0.2 2.2M320.8 787.0l-0.4 2.1M321.1 795.7l-0.9 2.0M321.3 804.4l-1.5 2.0M320.4 814.8l0.3-1.5M320.4 824.2l0.3-3.1M320.4 833.7l0.3-4.7M320.4 843.2l0.3-6.4M320.4 852.4l0.3-7.5M320.4 861.1l0.3-7.5M320.4 869.7l0.3-7.5M320.4 878.4l0.3-7.5M320.4 887.0l0.3-7.5M320.4 895.7l0.3-7.5M320.4 904.4l0.3-7.5M320.4 913.0l0.3-7.5M327.0 691.7l4.1 2.2M327.1 700.3l4.0 2.4M327.1 708.8l4.0 2.6M327.2 717.4l3.8 2.8M327.3 726.0l3.5 2.9M327.6 734.6l3.0 2.9M327.9 743.3l2.4 2.9M328.2 752.0l1.8 2.9M328.4 760.6l1.3 2.9M328.7 769.3l0.7 2.8M329.0 778.0l0.2 2.7M329.3 786.7l-0.4 2.6M329.6 795.4l-0.9 2.6M328.9 806.1l0.3-1.5M328.9 815.0l0.3-1.9M328.9 824.5l0.3-3.6M328.9 834.0l0.3-5.3M328.9 843.5l0.3-7.0M328.9 852.5l0.3-7.6M328.9 861.2l0.3-7.6M328.9 869.8l0.3-7.6M328.9 878.5l0.3-7.6M328.9 887.1l0.3-7.6M328.9 895.8l0.3-7.6M328.9 904.5l0.3-7.6M328.9 913.1l0.3-7.6M335.6 691.5l4.0 2.5M335.7 700.1l3.9 2.7M335.7 708.7l3.7 2.9M335.8 717.2l3.6 3.1M335.9 725.8l3.4 3.4M336.1 734.4l3.0 3.5M336.4 743.0l2.4 3.5M336.7 751.7l1.8 3.5M337.0 760.4l1.3 3.4M337.2 769.1l0.7 3.3M337.5 777.8l0.2 3.3M337.8 786.5l-0.4 3.2M338.1 795.1l-0.9 3.2M337.5 806.2l0.3-1.6M337.5 815.3l0.3-2.4M337.5 824.8l0.3-4.2M337.5 834.3l0.3-5.9M337.5 843.8l0.3-7.6M337.5 852.6l0.3-7.8M337.5 861.2l0.3-7.8M337.5 869.9l0.3-7.8M337.5 878.6l0.3-7.8M337.5 887.2l0.3-7.8M337.5 895.9l0.3-7.8M337.5 904.5l0.3-7.8M337.5 913.2l0.3-7.8" stroke="#78b8e0" stroke-width="1.15" fill="none"/>
<rect x="123.5" y="683.8" width="224.1" height="234.5" fill="none" stroke="#111" stroke-width="1.2"/>
<line x1="130.1" y1="860.9" x2="310.5" y2="809.7" stroke="#111" stroke-width="2.6" stroke-dasharray="2.2 2.4"/>
<line x1="172" y1="887.1" x2="164.6" y2="872.4" stroke="#111" stroke-width="1.6"/>
<path d="M160.5,864.4L169.5,872.2L164,871.3L161.5,876.2z" fill="#111"/>
<text x="181.2" y="902" font-size="20" textLength="111.8" lengthAdjust="spacingAndGlyphs">line attractor</text>
<text x="90.4" y="697.8" font-size="20">20</text>
<text x="100" y="811" font-size="20">0</text>
<text x="96.7" y="895" font-size="15" transform="rotate(-90 96.7 895)"><tspan dy="0" font-size="26.5">PC</tspan><tspan dy="9.3" font-size="15">1</tspan></text>
<text x="100.4" y="950.4" font-size="15"><tspan dy="0" font-size="26.5">PC</tspan><tspan dy="9.2" font-size="15">2</tspan></text>
<text x="190.1" y="943.6" font-size="18">-5</text>
<text x="260" y="943.6" font-size="18">0</text>
<text x="320.1" y="943.6" font-size="18">5</text>
<text x="398" y="662.5" font-size="34" font-weight="bold">f</text>
<text x="431" y="643.1" font-size="20">flow field with</text>
<text x="431" y="667.4" font-size="20" textLength="204" lengthAdjust="spacingAndGlyphs">neural trajectory &amp; beh</text>
<path d="M410.9 690.2l0.0 8.0M410.9 698.8l0.0 8.0M410.9 707.4l0.0 8.0M410.9 716.0l0.0 8.0M410.9 724.7l0.0 8.0M410.9 733.3l0.0 8.0M410.9 741.9l0.0 8.0M410.9 750.5l0.0 8.0M410.9 759.1l0.0 8.0M410.9 767.7l0.0 8.0M410.9 776.4l0.0 8.0M410.9 785.0l0.0 8.0M410.9 793.6l0.0 8.0M410.9 802.2l0.0 8.0M410.9 810.9l0.0 7.8M410.9 820.3l0.0 6.3M410.9 829.6l0.0 4.8M410.9 839.0l0.0 3.3M410.9 848.4l0.0 1.9M410.9 857.1l0.0 1.6M410.9 866.0v1M410.8 875.8l0.3-1.4M410.8 884.9l0.3-2.2M410.8 893.9l0.3-3.1M410.8 902.8l0.3-3.7M410.8 911.5l0.3-3.7M419.4 690.2l0.0 8.0M419.4 698.8l0.0 8.0M419.4 707.4l0.0 8.0M419.4 716.0l0.0 8.0M419.4 724.7l0.0 8.0M419.4 733.3l0.0 8.0M419.4 741.9l0.0 8.0M419.4 750.5l0.0 8.0M419.4 759.1l0.0 8.0M419.4 767.7l0.0 8.0M419.4 776.4l0.0 8.0M419.4 785.0l0.0 8.0M419.4 793.6l0.0 8.0M419.4 802.2l0.0 8.0M419.4 811.1l0.0 7.4M419.4 820.5l0.0 5.9M419.4 829.9l0.0 4.4M419.4 839.2l0.0 2.9M419.4 848.5l0.0 1.6M419.4 857.4v1M419.4 866.0v1M419.2 876.0l0.3-1.7M419.2 885.0l0.3-2.6M419.2 894.1l0.3-3.4M419.2 902.9l0.3-3.9M419.2 911.5l0.3-3.9M427.8 690.2l0.0 8.0M427.8 698.8l0.0 8.0M427.8 707.4l0.0 8.0M427.8 716.0l0.0 8.0M427.8 724.7l0.0 8.0M427.8 733.3l0.0 8.0M427.8 741.9l0.0 8.0M427.8 750.5l0.0 8.0M427.8 759.1l0.0 8.0M427.8 767.7l0.0 8.0M427.8 776.4l0.0 8.0M427.8 785.0l0.0 8.0M427.8 793.6l0.0 8.0M427.8 802.2l0.0 8.0M427.8 811.3l0.0 7.0M427.8 820.7l0.0 5.5M427.8 830.1l0.0 4.0M427.8 839.4l0.0 2.5M427.8 848.5l0.0 1.6M427.8 857.4v1M427.7 867.1l0.3-1.2M427.7 876.2l0.3-2.1M427.7 885.2l0.3-2.9M427.7 894.3l0.3-3.8M427.7 903.0l0.3-4.0M427.7 911.6l0.3-4.0M436.3 690.3l0.0 7.8M436.3 698.9l0.0 7.8M436.3 707.5l0.0 7.8M436.3 716.1l0.0 7.8M436.3 724.7l0.0 7.8M436.3 733.4l0.0 7.8M436.3 742.0l0.0 7.8M436.3 750.6l0.0 7.8M436.3 759.2l0.0 7.8M436.3 767.8l0.0 7.8M436.3 776.4l0.0 7.8M436.3 785.1l0.0 7.8M436.3 793.7l0.0 7.8M436.3 802.3l0.0 7.8M436.3 811.6l0.0 6.4M436.3 821.0l0.0 5.0M436.3 830.3l0.0 3.5M436.3 839.6l0.0 2.1M436.3 848.5l0.0 1.6M436.3 857.4v1M436.1 867.3l0.3-1.5M436.1 876.3l0.3-2.4M436.1 885.4l0.3-3.3M436.1 894.5l0.3-4.2M436.1 903.1l0.3-4.2M436.1 911.7l0.3-4.2M444.8 690.6l0.0 7.2M444.8 699.2l0.0 7.2M444.8 707.8l0.0 7.2M444.8 716.5l0.0 7.2M444.8 725.1l0.0 7.2M444.8 733.7l0.0 7.2M444.8 742.3l0.0 7.2M444.8 750.9l0.0 7.2M444.8 759.5l0.0 7.2M444.8 768.2l0.0 7.2M444.8 776.8l0.0 7.2M444.8 785.4l0.0 7.2M444.8 794.0l0.0 7.2M444.8 802.8l0.0 6.8M444.8 812.1l0.0 5.5M444.8 821.4l0.0 4.2M444.8 830.6l0.0 2.8M444.8 839.9l0.0 1.5M444.8 848.6l0.0 1.4M444.8 857.4v1M444.6 867.4l0.3-1.8M444.6 876.5l0.3-2.8M444.6 885.6l0.3-3.7M444.6 894.6l0.3-4.4M444.6 903.2l0.3-4.4M444.6 911.8l0.3-4.4M453.2 691.0l0.0 6.5M453.2 699.6l0.0 6.5M453.2 708.2l0.0 6.5M453.2 716.8l0.0 6.5M453.2 725.4l0.0 6.5M453.2 734.0l0.0 6.5M453.2 742.6l0.0 6.5M453.2 751.3l0.0 6.5M453.2 759.9l0.0 6.5M453.2 768.5l0.0 6.5M453.2 777.1l0.0 6.5M453.2 785.7l0.0 6.5M453.2 794.3l0.0 6.5M453.2 803.3l0.0 5.8M453.2 812.5l0.0 4.6M453.2 821.7l0.0 3.4M453.2 830.9l0.0 2.2M453.2 840.0l0.0 1.3M453.2 848.8v1M453.1 858.5l0.3-1.1M453.1 867.6l0.3-2.1M453.1 876.7l0.3-3.2M453.1 885.8l0.3-4.2M453.1 894.6l0.3-4.6M453.1 903.3l0.3-4.6M453.1 911.9l0.3-4.6M461.7 691.3l0.0 5.8M461.7 699.9l0.0 5.8M461.7 708.5l0.0 5.8M461.7 717.1l0.0 5.8M461.7 725.8l0.0 5.8M461.7 734.4l0.0 5.8M461.7 743.0l0.0 5.8M461.7 751.6l0.0 5.8M461.7 760.2l0.0 5.8M461.7 768.8l0.0 5.8M461.7 777.4l0.0 5.8M461.7 786.1l0.0 5.8M461.7 794.7l0.0 5.8M461.7 803.7l0.0 4.9M461.7 812.9l0.0 3.9M461.7 822.0l0.0 2.8M461.7 831.2l0.0 1.7M461.7 840.1l0.0 1.2M461.7 848.8v1M461.5 858.6l0.3-1.5M461.5 867.8l0.3-2.5M461.5 876.9l0.3-3.6M461.5 886.1l0.3-4.6M461.5 894.7l0.3-4.7M461.5 903.3l0.3-4.7M461.5 912.0l0.3-4.7M470.1 691.6l0.0 5.1M470.1 700.2l0.0 5.1M470.1 708.9l0.0 5.1M470.1 717.5l0.0 5.1M470.1 726.1l0.0 5.1M470.1 734.7l0.0 5.1M470.1 743.3l0.0 5.1M470.1 751.9l0.0 5.1M470.1 760.6l0.0 5.1M470.1 769.2l0.0 5.1M470.1 777.8l0.0 5.1M470.1 786.4l0.0 5.1M470.1 795.1l0.0 5.1M470.1 804.2l0.0 4.1M470.1 813.2l0.0 3.2M470.1 822.3l0.0 2.2M470.1 831.4l0.0 1.3M470.1 840.2l0.0 1.0M470.0 849.8l0.3-1.0M470.0 858.8l0.3-1.8M470.0 868.0l0.3-2.9M470.0 877.1l0.3-4.0M470.0 886.2l0.3-4.9M470.0 894.8l0.3-4.9M470.0 903.4l0.3-4.9M470.0 912.0l0.3-4.9M478.6 692.0l0.0 4.5M478.6 700.6l0.0 4.5M478.6 709.2l0.0 4.5M478.6 717.8l0.0 4.5M478.6 726.4l0.0 4.5M478.6 735.0l0.0 4.5M478.6 743.7l0.0 4.5M478.6 752.3l0.0 4.5M478.6 760.9l0.0 4.5M478.6 769.5l0.0 4.5M478.6 778.1l0.0 4.5M478.6 786.7l0.0 4.5M478.6 795.5l0.0 4.2M478.6 804.5l0.0 3.3M478.6 813.6l0.0 2.5M478.6 822.6l0.0 1.7M478.6 831.6v1M478.6 840.2v1M478.4 849.8l0.3-1.1M478.4 859.0l0.3-2.2M478.4 868.2l0.3-3.3M478.4 877.4l0.3-4.4M478.4 886.3l0.3-5.1M478.4 894.9l0.3-5.1M478.4 903.5l0.3-5.1M478.4 912.1l0.3-5.1M487.0 692.3l0.1 3.7M487.0 700.9l0.1 3.7M487.0 709.6l0.1 3.7M487.0 718.2l0.1 3.7M487.0 726.8l0.1 3.7M487.0 735.4l0.0 3.7M487.0 744.0l0.0 3.7M487.0 752.7l0.0 3.7M487.1 761.3l0.0 3.7M487.1 769.9l0.0 3.7M487.1 778.5l0.0 3.7M487.1 787.1l-0.0 3.7M487.1 796.0l-0.0 3.2M487.1 804.9l-0.0 2.5M487.1 813.9l-0.0 1.9M487.1 822.9l-0.0 1.2M487.1 831.6v1M486.9 841.2l0.3-1.0M486.9 850.0l0.3-1.4M486.9 859.2l0.3-2.6M486.9 868.4l0.3-3.8M486.9 877.6l0.3-4.9M486.9 886.4l0.3-5.2M486.9 895.0l0.3-5.2M486.9 903.6l0.3-5.2M486.9 912.2l0.3-5.2M495.3 692.9l0.5 2.7M495.3 701.5l0.5 2.7M495.3 710.1l0.5 2.6M495.3 718.7l0.4 2.6M495.3 727.4l0.4 2.6M495.4 736.0l0.3 2.6M495.4 744.6l0.3 2.5M495.4 753.3l0.2 2.5M495.4 761.9l0.2 2.5M495.5 770.5l0.1 2.5M495.5 779.1l0.0 2.5M495.5 787.7l-0.0 2.5M495.6 796.6l-0.1 1.9M495.6 805.5l-0.2 1.4M495.5 814.3v1M495.5 822.9v1M495.5 831.6v1M495.4 841.2l0.3-1.1M495.4 850.2l0.3-1.8M495.4 859.4l0.3-3.0M495.4 868.6l0.3-4.2M495.4 877.8l0.3-5.4M495.4 886.5l0.3-5.4M495.4 895.1l0.3-5.4M495.4 903.7l0.3-5.4M495.4 912.3l0.3-5.4M503.5 693.3l1.0 1.7M503.5 702.0l0.9 1.7M503.5 710.6l0.9 1.6M503.6 719.3l0.8 1.6M503.6 727.9l0.8 1.5M503.6 736.6l0.7 1.4M503.7 745.2l0.6 1.4M503.7 753.9l0.5 1.3M503.8 762.5l0.4 1.3M503.9 771.1l0.2 1.3M504.0 779.7l0.1 1.3M504.0 788.4l-0.1 1.2M504.0 797.1v1M504.0 805.7v1M504.0 814.3v1M504.0 822.9v1M504.0 831.6v1M503.8 841.2l0.3-1.1M503.8 850.4l0.3-2.2M503.8 859.6l0.3-3.5M503.8 868.9l0.3-4.7M503.8 877.9l0.3-5.6M503.8 886.5l0.3-5.6M503.8 895.2l0.3-5.6M503.8 903.8l0.3-5.6M503.8 912.4l0.3-5.6M511.7 693.8l1.5 0.8M511.7 702.5l1.5 0.7M511.8 711.1l1.4 0.6M511.8 719.8l1.3 0.6M511.8 728.4l1.2 0.5M511.9 737.1l1.1 0.4M512.5 745.4v1M512.5 754.0v1M512.5 762.6v1M512.5 771.2v1M512.5 779.9v1M512.5 788.5v1M512.5 797.1v1M512.5 805.7v1M512.9 815.3l-0.8-0.9M513.0 824.0l-1.0-1.1M512.3 832.6l0.3-1.2M512.3 841.4l0.3-1.4M512.3 850.6l0.3-2.6M512.3 859.9l0.3-3.9M512.3 869.1l0.3-5.2M512.3 878.0l0.3-5.8M512.3 886.6l0.3-5.8M512.3 895.2l0.3-5.8M512.3 903.9l0.3-5.8M512.3 912.5l0.3-5.8M519.9 694.2l2.1-0.0M519.9 702.9l2.0-0.1M519.9 711.6l2.0-0.2M520.0 720.2l1.9-0.4M520.0 728.9l1.8-0.5M520.1 737.6l1.6-0.6M520.3 746.2l1.3-0.6M520.4 754.8l1.0-0.6M520.9 762.6v1M520.9 771.2v1M520.9 779.9v1M520.9 788.5v1M521.2 798.1l-0.5-0.9M521.3 806.8l-0.8-1.1M521.4 815.5l-1.1-1.3M521.6 824.2l-1.4-1.5M520.8 832.6l0.3-1.2M520.8 841.6l0.3-1.8M520.8 850.8l0.3-3.1M520.8 860.1l0.3-4.4M520.8 869.4l0.3-5.7M520.8 878.1l0.3-5.9M520.8 886.7l0.3-5.9M520.8 895.3l0.3-5.9M520.8 903.9l0.3-5.9M520.8 912.6l0.3-5.9M528.0 694.6l2.7-0.8M528.1 703.3l2.6-0.9M528.1 711.9l2.6-1.0M528.1 720.6l2.5-1.2M528.2 729.3l2.3-1.3M528.4 737.9l1.9-1.3M528.6 746.5l1.6-1.3M528.8 755.2l1.2-1.3M529.0 763.8l0.8-1.3M529.1 772.4l0.5-1.3M529.3 781.0l0.1-1.3M529.5 789.7l-0.2-1.4M529.7 798.3l-0.6-1.4M529.9 807.0l-1.0-1.5M530.0 815.6l-1.3-1.6M530.2 824.2l-1.7-1.6M529.2 832.7l0.3-1.2M529.2 841.8l0.3-2.2M529.2 851.1l0.3-3.5M529.2 860.3l0.3-4.9M529.2 869.6l0.3-6.1M529.2 878.2l0.3-6.1M529.2 886.8l0.3-6.1M529.2 895.4l0.3-6.1M529.2 904.0l0.3-6.1M529.2 912.6l0.3-6.1M536.2 694.6l3.3-0.8M536.2 703.3l3.3-0.9M536.2 711.9l3.2-1.0M536.3 720.6l3.1-1.2M536.5 729.3l2.7-1.2M536.7 737.9l2.3-1.2M536.9 746.5l1.9-1.2M537.1 755.1l1.4-1.2M537.3 763.7l1.0-1.2M537.5 772.3l0.6-1.2M537.8 781.0l0.1-1.2M538.0 789.6l-0.3-1.3M538.2 798.3l-0.7-1.4M538.4 806.9l-1.2-1.4M538.6 815.6l-1.6-1.5M538.8 824.2l-2.0-1.5M537.7 832.7l0.3-1.3M537.7 842.0l0.3-2.6M537.7 851.3l0.3-4.0M537.7 860.6l0.3-5.4M537.7 869.7l0.3-6.3M537.7 878.3l0.3-6.3M537.7 886.9l0.3-6.3M537.7 895.5l0.3-6.3M537.7 904.1l0.3-6.3M537.7 912.7l0.3-6.3M544.3 694.5l3.9-0.6M544.3 703.2l3.9-0.7M544.4 711.9l3.9-0.8M544.5 720.5l3.7-0.9M544.7 729.1l3.2-0.9M545.0 737.7l2.7-0.9M545.2 746.4l2.2-0.9M545.5 755.0l1.7-0.9M545.7 763.6l1.2-0.9M546.0 772.2l0.7-0.9M546.3 779.9v1M546.5 789.5l-0.3-1.1M546.7 798.2l-0.8-1.1M547.0 806.8l-1.3-1.2M547.2 815.5l-1.8-1.3M546.1 824.1l0.3-1.3M546.1 832.9l0.3-1.7M546.1 842.2l0.3-3.1M546.1 851.6l0.3-4.5M546.1 860.9l0.3-6.0M546.1 869.7l0.3-6.4M546.1 878.4l0.3-6.4M546.1 887.0l0.3-6.4M546.1 895.6l0.3-6.4M546.1 904.2l0.3-6.4M546.1 912.8l0.3-6.4M552.5 694.4l4.4-0.3M552.5 703.0l4.4-0.4M552.6 711.7l4.4-0.5M552.7 720.3l4.1-0.5M553.0 728.9l3.5-0.5M553.3 737.5l3.0-0.5M553.6 746.1l2.4-0.5M553.8 754.8l1.8-0.5M554.1 763.4l1.3-0.5M554.8 771.2v1M554.8 779.9v1M554.8 788.5v1M555.2 798.0l-0.9-0.7M555.5 806.6l-1.5-0.8M555.8 815.2l-2.0-0.8M554.6 824.1l0.3-1.3M554.6 833.1l0.3-2.1M554.6 842.5l0.3-3.6M554.6 851.8l0.3-5.1M554.6 861.2l0.3-6.5M554.6 869.8l0.3-6.6M554.6 878.4l0.3-6.6M554.6 887.1l0.3-6.6M554.6 895.7l0.3-6.6M554.6 904.3l0.3-6.6M554.6 912.9l0.3-6.6M561.0 694.1l4.5 0.1M561.0 702.8l4.5 0.1M561.0 711.4l4.5 0.1M561.2 720.0l4.1 0.1M561.5 728.6l3.5 0.1M561.7 737.2l3.0 0.1M562.0 745.9l2.4 0.1M562.3 754.5l1.8 0.1M562.6 763.1l1.3 0.1M563.2 771.2v1M563.2 779.9v1M563.2 788.5v1M563.2 797.1v1M564.0 806.3l-1.5-0.2M564.2 815.0l-2.0-0.3M563.1 824.1l0.3-1.4M563.1 833.4l0.3-2.6M563.1 842.7l0.3-4.1M563.1 852.1l0.3-5.6M563.1 861.3l0.3-6.8M563.1 869.9l0.3-6.8M563.1 878.5l0.3-6.8M563.1 887.1l0.3-6.8M563.1 895.8l0.3-6.8M563.1 904.4l0.3-6.8M563.1 913.0l0.3-6.8M569.4 693.9l4.5 0.6M569.4 702.5l4.5 0.6M569.4 711.1l4.5 0.6M569.7 719.7l4.1 0.6M569.9 728.3l3.5 0.6M570.2 737.0l3.0 0.6M570.5 745.6l2.4 0.6M570.8 754.2l1.8 0.6M571.0 762.8l1.3 0.6M571.7 771.2v1M571.7 779.9v1M571.7 788.5v1M571.7 797.1v1M572.4 806.1l-1.5 0.3M571.5 815.5l0.3-1.4M571.5 824.2l0.3-1.6M571.5 833.6l0.3-3.1M571.5 843.0l0.3-4.6M571.5 852.4l0.3-6.2M571.5 861.4l0.3-6.9M571.5 870.0l0.3-6.9M571.5 878.6l0.3-6.9M571.5 887.2l0.3-6.9M571.5 895.8l0.3-6.9M571.5 904.5l0.3-6.9M571.5 913.1l0.3-6.9M577.9 693.7l4.5 1.0M577.9 702.3l4.4 1.1M577.9 710.8l4.4 1.2M578.1 719.4l4.1 1.2M578.4 728.1l3.5 1.2M578.7 736.7l3.0 1.2M579.0 745.3l2.4 1.2M579.2 753.9l1.8 1.2M579.5 762.5l1.3 1.2M579.8 771.2l0.7 1.1M580.1 779.8l0.2 1.1M580.3 788.5l-0.4 1.0M580.6 797.1l-0.9 0.9M580.9 805.8l-1.5 0.9M580.0 815.5l0.3-1.4M580.0 824.5l0.3-2.0M580.0 833.9l0.3-3.6M580.0 843.3l0.3-5.2M580.0 852.7l0.3-6.8M580.0 861.5l0.3-7.1M580.0 870.1l0.3-7.1M580.0 878.7l0.3-7.1M580.0 887.3l0.3-7.1M580.0 895.9l0.3-7.1M580.0 904.5l0.3-7.1M580.0 913.2l0.3-7.1M586.4 693.5l4.4 1.4M586.4 702.0l4.3 1.6M586.5 710.6l4.3 1.7M586.6 719.2l4.1 1.8M586.9 727.8l3.5 1.8M587.1 736.4l3.0 1.8M587.4 745.0l2.4 1.8M587.7 753.6l1.8 1.8M588.0 762.2l1.3 1.8M588.2 770.9l0.7 1.7M588.5 779.5l0.2 1.6M588.8 788.2l-0.4 1.6M589.1 796.9l-0.9 1.5M589.4 805.5l-1.5 1.5M588.5 815.6l0.3-1.5M588.5 824.7l0.3-2.5M588.5 834.1l0.3-4.1M588.5 843.6l0.3-5.8M588.5 852.9l0.3-7.3M588.5 861.5l0.3-7.3M588.5 870.2l0.3-7.3M588.5 878.8l0.3-7.3M588.5 887.4l0.3-7.3M588.5 896.0l0.3-7.3M588.5 904.6l0.3-7.3M588.5 913.2l0.3-7.3M594.9 693.3l4.3 1.8M595.0 701.8l4.2 2.0M595.0 710.4l4.1 2.1M595.0 718.9l4.1 2.3M595.3 727.5l3.5 2.3M595.6 736.1l3.0 2.3M595.9 744.7l2.4 2.3M596.2 753.3l1.8 2.3M596.4 762.0l1.3 2.3M596.7 770.6l0.7 2.2M597.0 779.3l0.2 2.2M597.3 787.9l-0.4 2.1M597.5 796.6l-0.9 2.0M597.8 805.2l-1.5 2.0M596.9 815.6l0.3-1.5M596.9 825.0l0.3-3.1M596.9 834.4l0.3-4.7M596.9 843.8l0.3-6.4M596.9 853.0l0.3-7.5M596.9 861.6l0.3-7.5M596.9 870.2l0.3-7.5M596.9 878.9l0.3-7.5M596.9 887.5l0.3-7.5M596.9 896.1l0.3-7.5M596.9 904.7l0.3-7.5M596.9 913.3l0.3-7.5M603.5 693.1l4.1 2.2M603.5 701.6l4.0 2.4M603.6 710.2l4.0 2.5M603.6 718.7l3.8 2.8M603.8 727.2l3.5 2.9M604.1 735.8l3.0 2.9M604.3 744.4l2.4 2.9M604.6 753.1l1.8 2.9M604.9 761.7l1.3 2.9M605.2 770.3l0.7 2.8M605.4 779.0l0.2 2.7M605.7 787.7l-0.4 2.6M606.0 796.3l-0.9 2.6M605.4 807.0l0.3-1.5M605.4 815.8l0.3-1.9M605.4 825.2l0.3-3.6M605.4 834.7l0.3-5.3M605.4 844.2l0.3-7.0M605.4 853.1l0.3-7.6M605.4 861.7l0.3-7.6M605.4 870.3l0.3-7.6M605.4 878.9l0.3-7.6M605.4 887.6l0.3-7.6M605.4 896.2l0.3-7.6M605.4 904.8l0.3-7.6M605.4 913.4l0.3-7.6M612.0 692.9l4.0 2.5M612.1 701.5l3.9 2.7M612.1 710.0l3.7 2.9M612.2 718.5l3.6 3.1M612.3 727.0l3.4 3.4M612.5 735.5l3.0 3.5M612.8 744.2l2.4 3.5M613.1 752.8l1.8 3.5M613.4 761.4l1.3 3.4M613.6 770.1l0.7 3.3M613.9 778.7l0.2 3.3M614.2 787.4l-0.4 3.2M614.5 796.0l-0.9 3.2M613.9 807.0l0.3-1.6M613.9 816.0l0.3-2.4M613.9 825.5l0.3-4.2M613.9 835.0l0.3-5.9M613.9 844.5l0.3-7.6M613.9 853.2l0.3-7.8M613.9 861.8l0.3-7.8M613.9 870.4l0.3-7.8M613.9 879.0l0.3-7.8M613.9 887.7l0.3-7.8M613.9 896.3l0.3-7.8M613.9 904.9l0.3-7.8M613.9 913.5l0.3-7.8" stroke="#78b8e0" stroke-width="1.15" fill="none"/>
<rect x="400.9" y="685.2" width="223.1" height="233.4" fill="none" stroke="#111" stroke-width="1.2"/>
<line x1="406.5" y1="860.9" x2="590" y2="809.3" stroke="#111" stroke-width="2.6" stroke-dasharray="2.2 2.4"/>
<path d="M500,761.8C498.7,760.2 495,755.6 492,752C489,748.4 484,743.8 482,740C480,736.2 478.9,731.5 480,729C481.1,726.5 485.6,725.2 488.6,725C491.6,724.8 495.3,726.3 498,728C500.7,729.7 503.1,733.5 505,735C506.9,736.5 508.1,735.3 509.6,737C511.1,738.7 512.8,742.2 514,745C515.2,747.8 517.1,752 516.6,754C516.1,756 512.9,758 511,757C509.1,756 506.3,750.8 505,748C503.7,745.2 504.5,740.5 503,740C501.5,739.5 498.5,742.2 496,745C493.5,747.8 490.3,752.7 487.8,756.9C485.3,761.1 482.6,764.5 481,770C479.4,775.5 478.8,783.3 478,790C477.2,796.7 476.7,803.7 476,810C475.3,816.3 474.5,824 474,828C473.5,832 473.2,832.8 473,833.8" stroke="#111" stroke-width="1.2" fill="none" stroke-linejoin="round"/>
<path d="M473,833.8C471.2,834.2 466.1,835.4 462,836C457.9,836.6 449.6,836.3 448.4,837.3C447.2,838.3 452.4,840.7 455,842C457.6,843.3 462.5,844.5 464,845" stroke="#3a9a3a" stroke-width="1.2" fill="none" stroke-linejoin="round"/>
<path d="M464,845C465,845.3 467.9,846.4 470,847C472.1,847.6 475.3,848.3 476.4,848.6" stroke="#111" stroke-width="1.8" fill="none" stroke-linejoin="round"/>
<path d="M476.4,848.6C477.8,848.7 482.1,849 485,849C487.9,849 490.1,849.1 493.9,848.6C497.7,848.1 503.4,846.9 508,846C512.6,845.1 520.6,844.6 521.8,843.4C523,842.2 517,839.9 515,839C513,838.1 510.5,838.3 509.6,838.2" stroke="#3a9a3a" stroke-width="1.2" fill="none" stroke-linejoin="round"/>
<path d="M509.6,838.2C509.3,837.2 508.4,833.8 508,832C507.6,830.2 507.2,828.1 507,827.3" stroke="#111" stroke-width="1.2" fill="none" stroke-linejoin="round"/>
<path d="M507,827.3C508.7,827.2 513.7,826.9 517,827C520.3,827.1 524.3,828.5 527,827.7C529.7,826.9 531,823.6 533,822C535,820.4 537.1,818.3 539.3,818C541.5,817.7 543.7,819.7 546,820C548.3,820.3 551.3,820.8 553.3,819.8C555.3,818.8 556.2,815.6 558,814C559.8,812.4 562.8,810.8 563.8,810.2" stroke="#111" stroke-width="1.2" fill="none" stroke-linejoin="round"/>
<path d="M568.7,821.4C569.1,822 570.9,824.4 571.1,825C571.4,825.5 572.1,826 570.4,824.6C568.6,823.2 559.9,817.2 560.4,816.4C560.9,815.6 571.2,820.7 573.2,819.7C575.2,818.6 573.7,811.2 572.6,810C571.5,808.8 567.4,811.1 566.6,812.4C565.7,813.8 568.7,818.4 567.6,818.3C566.5,818.2 560.8,810.9 560.2,811.9C559.6,812.9 562.2,824.7 563.9,824.5C565.7,824.3 569.5,813.2 570.7,810.9C571.9,808.5 571.1,810.6 571.2,810.5" stroke="#111" stroke-width="1.1" fill="none" stroke-linejoin="round"/>
<path d="M568,812C569.2,810 572.3,803.1 575,800C577.7,796.9 581.8,794.1 584,793.6C586.2,793.1 587.9,794.3 588.2,797C588.5,799.7 587.4,805.8 586,810C584.6,814.2 581,820 580,822" stroke="#111" stroke-width="1.2" fill="none" stroke-linejoin="round"/>
<path d="M583,796C582.3,797.7 580.3,802.8 579,806C577.7,809.2 575.7,813.5 575,815" stroke="#c0282e" stroke-width="1.0" fill="none" stroke-linejoin="round"/>
<circle cx="500" cy="761.8" r="2.8" fill="#111"/>
<circle cx="507" cy="827.3" r="2.8" fill="#111"/>
<circle cx="563.8" cy="810.2" r="2.8" fill="#111"/>
<text x="505.2" y="773.5" font-size="20">t</text>
<text x="511.2" y="781.4" font-size="14">0</text>
<text x="493" y="815.4" font-size="20">t</text>
<text x="499" y="822.4" font-size="14">350</text>
<text x="546.3" y="800.2" font-size="20">t</text>
<text x="552.3" y="802.7" font-size="14">800</text>
<text x="412.6" y="791.8" font-size="20" fill="#3a9a3a">male</text>
<text x="413.5" y="816.3" font-size="20" fill="#3a9a3a">sniff</text>
<line x1="438" y1="826" x2="445" y2="835.5" stroke="#3a9a3a" stroke-width="1.1" />
<text x="499.1" y="869.6" font-size="20" fill="#c0282e" textLength="107.5" lengthAdjust="spacingAndGlyphs">intromission</text>
<line x1="539.3" y1="852" x2="519.2" y2="829.4" stroke="#c0282e" stroke-width="1.1" />
<line x1="555.9" y1="854.8" x2="560.3" y2="828.5" stroke="#c0282e" stroke-width="1.1" />
<text x="379.2" y="897" font-size="15" transform="rotate(-90 379.2 897)"><tspan dy="0" font-size="26.5">PC</tspan><tspan dy="9.3" font-size="15">1</tspan></text>
<text x="371" y="950.4" font-size="15"><tspan dy="0" font-size="26.5">PC</tspan><tspan dy="9.2" font-size="15">2</tspan></text>
<text x="460" y="943.6" font-size="18">-5</text>
<text x="530" y="943.6" font-size="18">0</text>
<text x="591" y="943.6" font-size="18">5</text>
<text x="676" y="670" font-size="34" font-weight="bold">g</text>
<text x="733.5" y="643.1" font-size="20">flow field with</text>
<text x="733.5" y="667.4" font-size="20">neural trajectory</text>
<text x="891" y="632.7" font-size="20">0</text>
<text x="933.5" y="632.7" font-size="20">500</text>
<rect x="895" y="637.5" width="66" height="15" fill="url(#tgrad)" stroke="#222" stroke-width="0.8"/>
<text x="893.5" y="673.3" font-size="20" textLength="68" lengthAdjust="spacingAndGlyphs">time (s)</text>
<path d="M727.9 691.0l-0.8 8.5M727.9 700.7l-0.8 8.5M727.9 710.3l-0.8 8.5M727.9 720.0l-0.8 8.5M727.9 729.6l-0.8 8.5M727.9 739.3l-0.8 8.5M727.9 748.9l-0.8 8.5M727.9 758.6l-0.8 8.5M727.9 768.2l-0.8 8.5M727.9 777.9l-0.8 8.5M727.9 787.5l-0.8 8.5M727.9 797.1l-0.8 8.5M727.9 806.8l-0.8 8.5M727.9 816.4l-0.8 8.5M727.9 826.3l-0.8 8.1M727.9 836.6l-0.8 6.7M727.9 847.0l-0.8 5.3M727.9 857.3l-0.8 3.9M727.9 867.7l-0.8 2.5M727.9 877.7l-0.8 1.7M727.5 887.7v1M727.5 897.4v1M727.5 908.3l0.0-1.5M737.4 691.0l-0.8 8.5M737.4 700.7l-0.8 8.5M737.4 710.3l-0.8 8.5M737.4 720.0l-0.8 8.5M737.4 729.6l-0.8 8.5M737.4 739.3l-0.8 8.5M737.4 748.9l-0.8 8.5M737.4 758.6l-0.8 8.5M737.4 768.2l-0.8 8.5M737.4 777.9l-0.8 8.5M737.4 787.5l-0.8 8.5M737.4 797.1l-0.8 8.5M737.4 806.8l-0.8 8.5M737.4 816.4l-0.8 8.5M737.4 826.6l-0.8 7.4M737.4 837.0l-0.8 6.0M737.4 847.3l-0.8 4.6M737.4 857.7l-0.8 3.2M737.4 868.0l-0.8 1.8M737.4 877.7l-0.8 1.7M737.0 887.7v1M737.0 898.5l0.0-1.3M737.0 908.5l0.0-2.0M746.8 691.0l-0.8 8.5M746.8 700.7l-0.8 8.5M746.8 710.3l-0.8 8.5M746.8 720.0l-0.8 8.5M746.8 729.6l-0.8 8.5M746.8 739.3l-0.8 8.5M746.8 748.9l-0.8 8.5M746.8 758.6l-0.8 8.5M746.8 768.2l-0.8 8.5M746.8 777.9l-0.8 8.5M746.8 787.5l-0.8 8.5M746.8 797.1l-0.8 8.5M746.8 806.8l-0.8 8.5M746.8 816.7l-0.8 8.1M746.8 827.0l-0.8 6.7M746.8 837.3l-0.8 5.3M746.8 847.7l-0.8 3.9M746.8 858.0l-0.8 2.5M746.8 868.1l-0.8 1.7M746.4 878.1v1M746.4 887.7v1M746.4 898.8l0.0-1.8M746.4 908.8l0.0-2.6M756.2 691.0l-0.8 8.5M756.2 700.7l-0.8 8.5M756.2 710.3l-0.8 8.5M756.2 720.0l-0.8 8.5M756.2 729.6l-0.8 8.5M756.2 739.3l-0.8 8.5M756.2 748.9l-0.8 8.5M756.2 758.6l-0.8 8.5M756.2 768.2l-0.8 8.5M756.2 777.9l-0.8 8.5M756.2 787.5l-0.8 8.5M756.2 797.1l-0.8 8.5M756.2 806.8l-0.8 8.5M756.2 817.0l-0.8 7.4M756.2 827.4l-0.8 6.0M756.2 837.7l-0.8 4.6M756.2 848.0l-0.8 3.2M756.2 858.4l-0.8 1.8M756.2 868.1l-0.8 1.7M755.9 878.1v1M755.9 889.0l0.0-1.5M755.9 899.0l0.0-2.4M755.9 909.1l0.0-3.2M765.7 691.0l-0.8 8.5M765.7 700.7l-0.8 8.5M765.7 710.3l-0.8 8.5M765.7 720.0l-0.8 8.5M765.7 729.6l-0.8 8.5M765.7 739.3l-0.8 8.5M765.7 748.9l-0.8 8.5M765.7 758.6l-0.8 8.5M765.7 768.2l-0.8 8.5M765.7 777.9l-0.8 8.5M765.7 787.5l-0.8 8.5M765.7 797.1l-0.8 8.5M765.7 807.0l-0.8 8.0M765.7 817.4l-0.8 6.6M765.7 827.7l-0.8 5.2M765.7 838.1l-0.8 3.8M765.7 848.4l-0.8 2.4M765.7 858.4l-0.8 1.7M765.3 868.4v1M765.3 879.1l0.0-1.2M765.3 889.3l0.0-2.1M765.3 899.4l0.0-3.0M765.3 909.5l0.0-3.9M775.1 691.7l-0.7 7.3M775.1 701.3l-0.7 7.3M775.1 711.0l-0.7 7.3M775.1 720.6l-0.7 7.3M775.1 730.2l-0.7 7.3M775.1 739.9l-0.7 7.3M775.1 749.5l-0.7 7.3M775.1 759.2l-0.7 7.3M775.1 768.8l-0.7 7.3M775.1 778.5l-0.7 7.3M775.1 788.1l-0.7 7.3M775.1 797.8l-0.7 7.3M775.1 807.9l-0.7 6.3M775.1 818.2l-0.7 5.1M775.1 828.4l-0.7 3.9M775.1 838.6l-0.7 2.7M775.1 848.9l-0.7 1.5M775.1 858.5l-0.7 1.5M774.8 868.4v1M774.8 879.4l0.0-1.7M774.8 889.6l0.0-2.7M774.8 899.7l0.0-3.7M774.8 909.8l0.0-4.7M784.5 692.3l-0.6 6.0M784.5 702.0l-0.6 6.0M784.5 711.6l-0.6 6.0M784.5 721.2l-0.6 6.0M784.5 730.9l-0.6 6.0M784.5 740.5l-0.6 6.0M784.5 750.2l-0.6 6.0M784.5 759.8l-0.6 6.0M784.5 769.5l-0.6 6.0M784.5 779.1l-0.6 6.0M784.5 788.8l-0.6 6.0M784.5 798.6l-0.6 5.6M784.5 808.7l-0.6 4.7M784.5 818.9l-0.6 3.7M784.5 829.0l-0.6 2.7M784.5 839.1l-0.6 1.7M784.5 849.0l-0.6 1.2M784.2 858.8v1M784.2 869.6l0.0-1.3M784.2 879.8l0.0-2.4M784.2 889.9l0.0-3.4M784.2 900.1l0.0-4.5M784.2 910.0l0.0-5.1M793.9 692.9l-0.4 4.7M793.9 702.6l-0.4 4.7M793.9 712.2l-0.4 4.7M793.9 721.9l-0.4 4.7M793.9 731.5l-0.4 4.7M793.9 741.2l-0.4 4.7M793.9 750.8l-0.4 4.7M793.9 760.5l-0.4 4.7M793.9 770.1l-0.4 4.7M793.9 779.8l-0.4 4.7M793.9 789.4l-0.4 4.7M793.9 799.4l-0.4 4.0M793.9 809.4l-0.4 3.3M793.9 819.4l-0.4 2.5M793.9 829.5l-0.4 1.7M793.6 839.5v1M793.6 849.1v1M793.6 858.8v1M793.6 869.9l0.0-2.0M793.6 880.1l0.0-3.1M793.6 890.3l0.0-4.2M793.6 900.5l0.0-5.3M793.6 910.2l0.0-5.3M803.3 693.6l-0.3 3.4M803.3 703.2l-0.3 3.4M803.3 712.9l-0.3 3.4M803.3 722.5l-0.3 3.4M803.3 732.2l-0.3 3.4M803.3 741.8l-0.3 3.4M803.3 751.5l-0.3 3.4M803.3 761.1l-0.3 3.4M803.3 770.8l-0.3 3.4M803.3 780.4l-0.3 3.4M803.3 790.1l-0.3 3.2M803.3 800.1l-0.3 2.6M803.3 810.0l-0.3 2.1M803.3 819.9l-0.3 1.5M803.1 829.8v1M803.1 839.5v1M803.1 849.1v1M803.1 860.0l0.0-1.5M803.1 870.3l0.0-2.7M803.1 880.5l0.0-3.8M803.1 890.7l0.0-5.0M803.1 900.7l0.0-5.6M803.1 910.3l0.0-5.6M812.7 694.2l-0.2 2.1M812.7 703.9l-0.2 2.1M812.7 713.5l-0.2 2.1M812.7 723.2l-0.2 2.1M812.7 732.8l-0.2 2.1M812.7 742.5l-0.2 2.1M812.7 752.1l-0.2 2.1M812.7 761.7l-0.2 2.1M812.7 771.4l-0.2 2.1M812.7 781.0l-0.2 2.1M812.7 790.8l-0.2 1.8M812.7 800.7l-0.2 1.5M812.7 810.5l-0.2 1.1M812.5 820.2v1M812.5 829.8v1M812.5 839.5v1M812.5 849.1v1M812.5 860.4l0.0-2.2M812.5 870.6l0.0-3.4M812.5 880.9l0.0-4.6M812.5 891.1l0.0-5.9M812.5 900.8l0.0-5.9M812.5 910.5l0.0-5.9M822.0 694.8v1M822.0 704.4v1M822.0 714.1v1M822.0 723.7v1M822.0 733.4v1M822.0 743.0v1M822.0 752.7v1M822.0 762.3v1M822.0 772.0v1M822.0 781.6v1M822.0 791.3v1M822.0 800.9v1M822.0 810.5v1M822.0 820.2v1M822.0 829.8v1M822.0 839.5v1M822.0 850.5l0.0-1.7M822.0 860.8l0.0-3.0M822.0 871.0l0.0-4.2M822.0 881.3l0.0-5.5M822.0 891.3l0.0-6.2M822.0 900.9l0.0-6.2M822.0 910.6l0.0-6.2M831.4 694.8v1M831.4 704.4v1M831.4 714.1v1M831.4 723.7v1M831.4 733.4v1M831.4 743.0v1M831.4 752.7v1M831.4 762.3v1M831.4 772.0v1M831.4 781.6v1M831.4 791.3v1M831.4 800.9v1M831.4 810.5v1M831.4 820.2v1M831.4 829.8v1M831.4 840.5l0.0-1.1M831.4 850.9l0.0-2.5M831.4 861.2l0.0-3.8M831.4 871.5l0.0-5.1M831.4 881.8l0.0-6.5M831.4 891.4l0.0-6.5M831.4 901.1l0.0-6.5M831.4 910.7l0.0-6.5M840.3 694.3l1.1 2.0M840.3 703.9l1.1 2.0M840.3 713.6l1.1 2.0M840.3 723.2l1.1 2.0M840.3 732.9l1.1 2.0M840.3 742.5l1.1 2.0M840.5 752.4l0.9 1.6M840.6 762.2l0.6 1.1M840.9 772.0v1M840.9 781.6v1M840.9 791.3v1M840.9 800.9v1M840.9 810.5v1M840.9 820.2v1M840.9 830.8l0.0-1.0M840.9 840.9l0.0-1.9M840.9 851.3l0.0-3.3M840.9 861.6l0.0-4.7M840.9 871.9l0.0-6.1M840.9 881.9l0.0-6.8M840.9 891.6l0.0-6.8M840.9 901.2l0.0-6.8M840.9 910.9l0.0-6.8M849.4 693.5l2.0 3.5M849.4 703.2l2.0 3.5M849.4 712.8l2.0 3.5M849.4 722.5l2.0 3.5M849.4 732.1l2.0 3.5M849.4 741.8l1.9 3.5M849.6 751.8l1.5 2.7M849.8 761.8l1.1 2.0M850.0 771.8l0.7 1.3M850.4 781.6v1M850.4 791.3v1M850.4 800.9v1M850.4 810.5v1M850.4 820.2v1M850.4 831.0l0.0-1.3M850.4 841.3l0.0-2.7M850.4 851.7l0.0-4.2M850.4 862.1l0.0-5.6M850.4 872.4l0.0-7.0M850.4 882.1l0.0-7.0M850.4 891.7l0.0-7.0M850.4 901.4l0.0-7.0M850.4 911.0l0.0-7.0M858.4 692.8l2.8 5.0M858.4 702.4l2.8 5.0M858.4 712.1l2.8 5.0M858.4 721.7l2.8 5.0M858.4 731.4l2.8 5.0M858.4 741.1l2.8 4.9M858.7 751.2l2.2 3.9M859.0 761.4l1.6 2.9M859.3 771.5l1.0 1.8M859.8 781.6v1M859.8 791.3v1M859.8 800.9v1M859.8 810.5v1M859.8 821.2l0.0-1.1M859.8 831.4l0.0-2.1M859.8 841.8l0.0-3.6M859.8 852.2l0.0-5.1M859.8 862.6l0.0-6.6M859.8 872.6l0.0-7.3M859.8 882.2l0.0-7.3M859.8 891.9l0.0-7.3M859.8 901.5l0.0-7.3M859.8 911.2l0.0-7.3M867.4 692.0l3.7 6.5M867.4 701.7l3.7 6.5M867.4 711.3l3.7 6.5M867.4 721.0l3.7 6.5M867.4 730.6l3.7 6.5M867.4 740.3l3.6 6.4M867.8 750.6l2.9 5.1M868.2 760.9l2.1 3.7M868.6 771.3l1.3 2.4M869.0 781.6l0.6 1.1M869.2 791.3v1M869.2 800.9v1M869.2 810.5v1M869.2 821.4l0.0-1.4M869.2 831.8l0.0-3.0M869.2 842.2l0.0-4.5M869.2 852.7l0.0-6.1M869.2 863.1l0.0-7.6M869.2 872.7l0.0-7.6M869.2 882.4l0.0-7.6M869.2 892.0l0.0-7.6M869.2 901.7l0.0-7.6M869.2 911.3l0.0-7.6M876.4 691.3l4.5 8.0M876.4 700.9l4.5 8.0M876.4 710.6l4.5 8.0M876.4 720.2l4.5 8.0M876.4 729.9l4.5 8.0M876.5 739.6l4.4 7.9M876.9 750.1l3.5 6.2M877.4 760.5l2.6 4.6M877.9 771.0l1.7 2.9M878.3 781.5l0.7 1.3M878.7 791.3v1M878.7 800.9v1M878.7 811.6l0.0-1.2M878.7 821.8l0.0-2.3M878.7 832.3l0.0-3.9M878.7 842.8l0.0-5.5M878.7 853.2l0.0-7.2M878.7 863.2l0.0-7.9M878.7 872.9l0.0-7.9M878.7 882.5l0.0-7.9M878.7 892.1l0.0-7.9M878.7 901.8l0.0-7.9M878.7 911.4l0.0-7.9M885.9 691.3l4.5 8.0M885.9 700.9l4.5 8.0M885.9 710.6l4.5 8.0M885.9 720.2l4.5 8.0M885.9 729.9l4.5 8.0M885.9 739.6l4.4 7.9M886.4 750.1l3.5 6.2M886.9 760.5l2.6 4.6M887.3 771.0l1.7 2.9M887.8 781.5l0.7 1.3M888.1 791.3v1M888.1 800.9v1M888.1 811.8l0.0-1.6M888.1 822.3l0.0-3.2M888.1 832.8l0.0-4.9M888.1 843.3l0.0-6.6M888.1 853.7l0.0-8.2M888.1 863.4l0.0-8.2M888.1 873.0l0.0-8.2M888.1 882.6l0.0-8.2M888.1 892.3l0.0-8.2M888.1 901.9l0.0-8.2M888.1 911.6l0.0-8.2M895.3 691.3l4.5 8.0M895.3 700.9l4.5 8.0M895.3 710.6l4.5 8.0M895.3 720.2l4.5 8.0M895.3 729.9l4.5 8.0M895.4 739.6l4.4 7.9M895.8 750.1l3.5 6.2M896.3 760.5l2.6 4.6M896.8 771.0l1.7 2.9M897.2 781.5l0.7 1.3M897.6 791.3v1M897.6 802.0l0.0-1.3M897.6 812.3l0.0-2.5M897.6 822.8l0.0-4.2M897.6 833.3l0.0-6.0M897.6 843.8l0.0-7.7M897.6 853.9l0.0-8.4M897.6 863.5l0.0-8.4M897.6 873.1l0.0-8.4M897.6 882.8l0.0-8.4M897.6 892.4l0.0-8.4M897.6 902.1l0.0-8.4M897.6 911.7l0.0-8.4M904.8 691.3l4.5 8.0M904.8 700.9l4.5 8.0M904.8 710.6l4.5 8.0M904.8 720.2l4.5 8.0M904.8 729.9l4.5 8.0M904.8 739.6l4.4 7.9M905.3 750.1l3.5 6.2M905.8 760.5l2.6 4.6M906.2 771.0l1.7 2.9M906.7 781.5l0.7 1.3M907.0 791.3v1M907.0 802.3l0.0-1.7M907.0 812.8l0.0-3.5M907.0 823.3l0.0-5.3M907.0 833.9l0.0-7.1M907.0 844.3l0.0-8.7M907.0 854.0l0.0-8.7M907.0 863.6l0.0-8.7M907.0 873.3l0.0-8.7M907.0 882.9l0.0-8.7M907.0 892.6l0.0-8.7M907.0 902.2l0.0-8.7M907.0 911.9l0.0-8.7M914.2 691.3l4.5 8.0M914.2 700.9l4.5 8.0M914.2 710.6l4.5 8.0M914.2 720.2l4.5 8.0M914.2 729.9l4.5 8.0M914.3 739.6l4.4 7.9M914.7 750.1l3.5 6.2M915.2 760.5l2.6 4.6M915.7 771.0l1.7 2.9M916.1 781.5l0.7 1.3M916.5 792.4l0.0-1.4M916.5 802.8l0.0-2.7M916.5 813.3l0.0-4.6M916.5 823.9l0.0-6.4M916.5 834.5l0.0-8.3M916.5 844.5l0.0-9.0M916.5 854.1l0.0-9.0M916.5 863.8l0.0-9.0M916.5 873.4l0.0-9.0M916.5 883.1l0.0-9.0M916.5 892.7l0.0-9.0M916.5 902.4l0.0-9.0M916.5 912.0l0.0-9.0M923.7 691.3l4.5 8.0M923.7 700.9l4.5 8.0M923.7 710.6l4.5 8.0M923.7 720.2l4.5 8.0M923.7 729.9l4.5 8.0M923.7 739.6l4.4 7.9M924.2 750.1l3.5 6.2M924.7 760.5l2.6 4.6M925.1 771.0l1.7 2.9M925.6 781.5l0.7 1.3M925.9 792.7l0.0-1.9M925.9 803.3l0.0-3.8M925.9 813.9l0.0-5.7M925.9 824.5l0.0-7.6M925.9 835.0l0.0-9.3M925.9 844.6l0.0-9.3M925.9 854.3l0.0-9.3M925.9 863.9l0.0-9.3M925.9 873.6l0.0-9.3M925.9 883.2l0.0-9.3M925.9 892.9l0.0-9.3M925.9 902.5l0.0-9.3M925.9 912.1l0.0-9.3M933.1 691.3l4.5 8.0M933.1 700.9l4.5 8.0M933.1 710.6l4.5 8.0M933.1 720.2l4.5 8.0M933.1 729.9l4.5 8.0M933.2 739.6l4.4 7.9M933.6 750.1l3.5 6.2M934.1 760.5l2.6 4.6M934.6 771.0l1.7 2.9M935.4 782.8l0.0-1.4M935.4 793.2l0.0-2.9M935.4 803.9l0.0-4.9M935.4 814.5l0.0-6.9M935.4 825.1l0.0-8.9M935.4 835.1l0.0-9.6M935.4 844.8l0.0-9.6M935.4 854.4l0.0-9.6M935.4 864.1l0.0-9.6M935.4 873.7l0.0-9.6M935.4 883.4l0.0-9.6M935.4 893.0l0.0-9.6M935.4 902.6l0.0-9.6M935.4 912.3l0.0-9.6M942.6 691.3l4.5 8.0M942.6 700.9l4.5 8.0M942.6 710.6l4.5 8.0M942.6 720.2l4.5 8.0M942.6 729.9l4.5 8.0M942.6 739.6l4.4 7.9M943.1 750.1l3.5 6.2M943.6 760.5l2.6 4.6M944.8 773.2l0.0-1.5M944.8 783.1l0.0-2.0M944.8 793.8l0.0-4.1M944.8 804.4l0.0-6.1M944.8 815.1l0.0-8.1M944.8 825.6l0.0-9.9M944.8 835.3l0.0-9.9M944.8 844.9l0.0-9.9M944.8 854.6l0.0-9.9M944.8 864.2l0.0-9.9M944.8 873.8l0.0-9.9M944.8 883.5l0.0-9.9M944.8 893.1l0.0-9.9M944.8 902.8l0.0-9.9M944.8 912.4l0.0-9.9M952.0 691.3l4.5 8.0M952.0 700.9l4.5 8.0M952.0 710.6l4.5 8.0M952.0 720.2l4.5 8.0M952.0 729.9l4.5 8.0M952.1 739.6l4.4 7.9M952.5 750.1l3.5 6.2M953.0 760.5l2.6 4.6M954.3 773.2l0.0-1.5M954.3 783.7l0.0-3.2M954.3 794.4l0.0-5.3M954.3 805.1l0.0-7.3M954.3 815.8l0.0-9.4M954.3 825.8l0.0-10.1M954.3 835.4l0.0-10.1M954.3 845.1l0.0-10.1M954.3 854.7l0.0-10.1M954.3 864.3l0.0-10.1M954.3 874.0l0.0-10.1M954.3 883.6l0.0-10.1M954.3 893.3l0.0-10.1M954.3 902.9l0.0-10.1M954.3 912.6l0.0-10.1" stroke="#78b8e0" stroke-width="1.15" fill="none"/>
<rect x="715.5" y="684.3" width="250.8" height="234.2" fill="none" stroke="#111" stroke-width="1.2"/>
<line x1="740.6" y1="878.6" x2="951.1" y2="768.5" stroke="#111" stroke-width="2.6" stroke-dasharray="2.2 2.4"/>
<line x1="838" y1="876.2" x2="828" y2="854.6" stroke="#111" stroke-width="1.6"/>
<path d="M824.2,846.4L832.9,854.5L827.4,853.4L824.7,858.3z" fill="#111"/>
<text x="786" y="896.4" font-size="20" textLength="111.4" lengthAdjust="spacingAndGlyphs">line attractor</text>
<text x="683.5" y="721" font-size="20">10</text>
<text x="696" y="806" font-size="20">0</text>
<text x="695.2" y="895" font-size="15" transform="rotate(-90 695.2 895)"><tspan dy="0" font-size="26.5">PC</tspan><tspan dy="9.3" font-size="15">1</tspan></text>
<text x="706.5" y="950.4" font-size="15"><tspan dy="0" font-size="26.5">PC</tspan><tspan dy="9.2" font-size="15">2</tspan></text>
<text x="753.5" y="939" font-size="18">-5</text>
<text x="841" y="939" font-size="18">0</text>
<text x="908.5" y="939" font-size="18">5</text>
<text x="990" y="662.5" font-size="34" font-weight="bold">h</text>
<text x="1021" y="643.1" font-size="20">flow field with</text>
<text x="1021" y="667.4" font-size="20" textLength="204" lengthAdjust="spacingAndGlyphs">neural trajectory &amp; beh</text>
<path d="M1018.7 689.6l-0.8 8.5M1018.7 699.3l-0.8 8.5M1018.7 709.0l-0.8 8.5M1018.7 718.6l-0.8 8.5M1018.7 728.3l-0.8 8.5M1018.7 738.0l-0.8 8.5M1018.7 747.6l-0.8 8.5M1018.7 757.3l-0.8 8.5M1018.7 767.0l-0.8 8.5M1018.7 776.6l-0.8 8.5M1018.7 786.3l-0.8 8.5M1018.7 796.0l-0.8 8.5M1018.7 805.6l-0.8 8.5M1018.7 815.3l-0.8 8.5M1018.7 825.4l-0.8 7.5M1018.7 835.8l-0.8 6.1M1018.7 846.1l-0.8 4.7M1018.7 856.5l-0.8 3.3M1018.7 866.9l-0.8 1.9M1018.7 876.7l-0.8 1.7M1018.3 886.7v1M1018.3 897.4l0.0-1.1M1018.3 907.4l0.0-1.8M1028.1 689.6l-0.8 8.5M1028.1 699.3l-0.8 8.5M1028.1 709.0l-0.8 8.5M1028.1 718.6l-0.8 8.5M1028.1 728.3l-0.8 8.5M1028.1 738.0l-0.8 8.5M1028.1 747.6l-0.8 8.5M1028.1 757.3l-0.8 8.5M1028.1 767.0l-0.8 8.5M1028.1 776.6l-0.8 8.5M1028.1 786.3l-0.8 8.5M1028.1 796.0l-0.8 8.5M1028.1 805.6l-0.8 8.5M1028.1 815.4l-0.8 8.2M1028.1 825.8l-0.8 6.8M1028.1 836.1l-0.8 5.4M1028.1 846.5l-0.8 4.0M1028.1 856.9l-0.8 2.6M1028.1 867.0l-0.8 1.7M1027.7 877.0v1M1027.7 886.7v1M1027.7 897.6l0.0-1.6M1027.7 907.7l0.0-2.3M1037.6 689.6l-0.8 8.5M1037.6 699.3l-0.8 8.5M1037.6 709.0l-0.8 8.5M1037.6 718.6l-0.8 8.5M1037.6 728.3l-0.8 8.5M1037.6 738.0l-0.8 8.5M1037.6 747.6l-0.8 8.5M1037.6 757.3l-0.8 8.5M1037.6 767.0l-0.8 8.5M1037.6 776.6l-0.8 8.5M1037.6 786.3l-0.8 8.5M1037.6 796.0l-0.8 8.5M1037.6 805.6l-0.8 8.5M1037.6 815.8l-0.8 7.5M1037.6 826.1l-0.8 6.1M1037.6 836.5l-0.8 4.7M1037.6 846.9l-0.8 3.3M1037.6 857.2l-0.8 1.9M1037.6 867.0l-0.8 1.7M1037.2 877.0v1M1037.2 887.8l0.0-1.3M1037.2 897.9l0.0-2.1M1037.2 908.0l0.0-2.9M1047.0 689.6l-0.8 8.5M1047.0 699.3l-0.8 8.5M1047.0 709.0l-0.8 8.5M1047.0 718.6l-0.8 8.5M1047.0 728.3l-0.8 8.5M1047.0 738.0l-0.8 8.5M1047.0 747.6l-0.8 8.5M1047.0 757.3l-0.8 8.5M1047.0 767.0l-0.8 8.5M1047.0 776.6l-0.8 8.5M1047.0 786.3l-0.8 8.5M1047.0 796.0l-0.8 8.5M1047.0 805.8l-0.8 8.2M1047.0 816.1l-0.8 6.8M1047.0 826.5l-0.8 5.4M1047.0 836.8l-0.8 4.0M1047.0 847.2l-0.8 2.6M1047.0 857.3l-0.8 1.7M1046.6 867.3v1M1046.6 877.0v1M1046.6 888.1l0.0-1.8M1046.6 898.2l0.0-2.7M1046.6 908.3l0.0-3.6M1056.5 689.6l-0.8 8.5M1056.5 699.3l-0.8 8.5M1056.5 709.0l-0.8 8.5M1056.5 718.6l-0.8 8.5M1056.5 728.3l-0.8 8.5M1056.5 738.0l-0.8 8.5M1056.5 747.6l-0.8 8.5M1056.5 757.3l-0.8 8.5M1056.5 767.0l-0.8 8.5M1056.5 776.6l-0.8 8.5M1056.5 786.3l-0.8 8.5M1056.5 796.0l-0.8 8.5M1056.5 806.1l-0.8 7.5M1056.5 816.5l-0.8 6.1M1056.5 826.8l-0.8 4.7M1056.5 837.2l-0.8 3.3M1056.5 847.6l-0.8 1.9M1056.5 857.3l-0.8 1.7M1056.1 867.3v1M1056.1 878.3l0.0-1.5M1056.1 888.4l0.0-2.4M1056.1 898.5l0.0-3.4M1056.1 908.6l0.0-4.3M1065.9 690.3l-0.7 7.3M1065.9 699.9l-0.7 7.3M1065.9 709.6l-0.7 7.3M1065.9 719.3l-0.7 7.3M1065.9 728.9l-0.7 7.3M1065.9 738.6l-0.7 7.3M1065.9 748.2l-0.7 7.3M1065.9 757.9l-0.7 7.3M1065.9 767.6l-0.7 7.3M1065.9 777.2l-0.7 7.3M1065.9 786.9l-0.7 7.3M1065.9 796.7l-0.7 7.0M1065.9 807.0l-0.7 5.8M1065.9 817.2l-0.7 4.6M1065.9 827.5l-0.7 3.4M1065.9 837.7l-0.7 2.2M1065.9 847.8l-0.7 1.5M1065.5 857.7v1M1065.5 868.4l0.0-1.1M1065.5 878.6l0.0-2.1M1065.5 888.7l0.0-3.1M1065.5 898.9l0.0-4.1M1065.5 908.9l0.0-4.8M1075.2 690.9l-0.6 6.0M1075.2 700.6l-0.6 6.0M1075.2 710.2l-0.6 6.0M1075.2 719.9l-0.6 6.0M1075.2 729.6l-0.6 6.0M1075.2 739.2l-0.6 6.0M1075.2 748.9l-0.6 6.0M1075.2 758.6l-0.6 6.0M1075.2 768.2l-0.6 6.0M1075.2 777.9l-0.6 6.0M1075.2 787.5l-0.6 6.0M1075.2 797.6l-0.6 5.3M1075.2 807.7l-0.6 4.3M1075.2 817.9l-0.6 3.3M1075.2 828.0l-0.6 2.3M1075.2 838.2l-0.6 1.3M1075.2 847.9l-0.6 1.2M1075.0 857.7v1M1075.0 868.7l0.0-1.7M1075.0 878.9l0.0-2.8M1075.0 889.1l0.0-3.8M1075.0 899.3l0.0-4.8M1075.0 909.0l0.0-5.1M1084.6 691.5l-0.4 4.7M1084.6 701.2l-0.4 4.7M1084.6 710.9l-0.4 4.7M1084.6 720.5l-0.4 4.7M1084.6 730.2l-0.4 4.7M1084.6 739.9l-0.4 4.7M1084.6 749.5l-0.4 4.7M1084.6 759.2l-0.4 4.7M1084.6 768.9l-0.4 4.7M1084.6 778.5l-0.4 4.7M1084.6 788.3l-0.4 4.5M1084.6 798.3l-0.4 3.8M1084.6 808.4l-0.4 3.0M1084.6 818.4l-0.4 2.2M1084.6 828.5l-0.4 1.4M1084.4 838.4v1M1084.4 848.0v1M1084.4 858.8l0.0-1.3M1084.4 869.0l0.0-2.4M1084.4 879.2l0.0-3.5M1084.4 889.5l0.0-4.6M1084.4 899.5l0.0-5.3M1084.4 909.2l0.0-5.3M1094.0 692.2l-0.3 3.4M1094.0 701.9l-0.3 3.4M1094.0 711.5l-0.3 3.4M1094.0 721.2l-0.3 3.4M1094.0 730.8l-0.3 3.4M1094.0 740.5l-0.3 3.4M1094.0 750.2l-0.3 3.4M1094.0 759.8l-0.3 3.4M1094.0 769.5l-0.3 3.4M1094.0 779.2l-0.3 3.4M1094.0 789.0l-0.3 3.0M1094.0 799.0l-0.3 2.4M1094.0 808.9l-0.3 1.9M1094.0 818.9l-0.3 1.3M1093.8 828.7v1M1093.8 838.4v1M1093.8 848.0v1M1093.8 859.1l0.0-1.9M1093.8 869.4l0.0-3.1M1093.8 879.6l0.0-4.2M1093.8 889.9l0.0-5.4M1093.8 899.6l0.0-5.6M1093.8 909.3l0.0-5.6M1103.4 692.8l-0.2 2.1M1103.4 702.5l-0.2 2.1M1103.4 712.2l-0.2 2.1M1103.4 721.8l-0.2 2.1M1103.4 731.5l-0.2 2.1M1103.4 741.1l-0.2 2.1M1103.4 750.8l-0.2 2.1M1103.4 760.5l-0.2 2.1M1103.4 770.1l-0.2 2.1M1103.4 779.8l-0.2 2.1M1103.4 789.7l-0.2 1.7M1103.4 799.5l-0.2 1.4M1103.3 809.4v1M1103.3 819.0v1M1103.3 828.7v1M1103.3 838.4v1M1103.3 849.2l0.0-1.4M1103.3 859.5l0.0-2.6M1103.3 869.8l0.0-3.9M1103.3 880.0l0.0-5.1M1103.3 890.1l0.0-5.9M1103.3 899.8l0.0-5.9M1103.3 909.5l0.0-5.9M1112.7 693.4v1M1112.7 703.1v1M1112.7 712.7v1M1112.7 722.4v1M1112.7 732.1v1M1112.7 741.7v1M1112.7 751.4v1M1112.7 761.0v1M1112.7 770.7v1M1112.7 780.4v1M1112.7 790.0v1M1112.7 799.7v1M1112.7 809.4v1M1112.7 819.0v1M1112.7 828.7v1M1112.7 838.4v1M1112.7 849.6l0.0-2.1M1112.7 859.9l0.0-3.4M1112.7 870.2l0.0-4.7M1112.7 880.5l0.0-6.0M1112.7 890.3l0.0-6.2M1112.7 899.9l0.0-6.2M1112.7 909.6l0.0-6.2M1122.2 693.4v1M1122.2 703.1v1M1122.2 712.7v1M1122.2 722.4v1M1122.2 732.1v1M1122.2 741.7v1M1122.2 751.4v1M1122.2 761.0v1M1122.2 770.7v1M1122.2 780.4v1M1122.2 790.0v1M1122.2 799.7v1M1122.2 809.4v1M1122.2 819.0v1M1122.2 828.7v1M1122.2 839.6l0.0-1.6M1122.2 850.0l0.0-2.9M1122.2 860.3l0.0-4.2M1122.2 870.6l0.0-5.6M1122.2 880.7l0.0-6.5M1122.2 890.4l0.0-6.5M1122.2 900.1l0.0-6.5M1122.2 909.7l0.0-6.5M1131.0 692.9l1.1 2.0M1131.0 702.6l1.1 2.0M1131.0 712.2l1.1 2.0M1131.0 721.9l1.1 2.0M1131.0 731.6l1.1 2.0M1131.0 741.2l1.1 2.0M1131.2 751.1l0.9 1.6M1131.3 761.0l0.6 1.1M1131.6 770.7v1M1131.6 780.4v1M1131.6 790.0v1M1131.6 799.7v1M1131.6 809.4v1M1131.6 819.0v1M1131.6 829.7l0.0-1.0M1131.6 840.0l0.0-2.4M1131.6 850.4l0.0-3.7M1131.6 860.7l0.0-5.1M1131.6 871.1l0.0-6.5M1131.6 880.9l0.0-6.7M1131.6 890.5l0.0-6.7M1131.6 900.2l0.0-6.7M1131.6 909.9l0.0-6.7M1140.1 692.1l2.0 3.5M1140.1 701.8l2.0 3.5M1140.1 711.5l2.0 3.5M1140.1 721.1l2.0 3.5M1140.1 730.8l2.0 3.5M1140.1 740.5l1.9 3.5M1140.3 750.5l1.5 2.7M1140.5 760.5l1.1 2.0M1140.7 770.6l0.7 1.3M1141.0 780.4v1M1141.0 790.0v1M1141.0 799.7v1M1141.0 809.4v1M1141.0 820.1l0.0-1.1M1141.0 830.1l0.0-1.7M1141.0 840.4l0.0-3.2M1141.0 850.8l0.0-4.6M1141.0 861.2l0.0-6.1M1141.0 871.4l0.0-7.0M1141.0 881.0l0.0-7.0M1141.0 890.7l0.0-7.0M1141.0 900.4l0.0-7.0M1141.0 910.0l0.0-7.0M1149.1 691.4l2.8 5.0M1149.1 701.1l2.8 5.0M1149.1 710.7l2.8 5.0M1149.1 720.4l2.8 5.0M1149.1 730.0l2.8 5.0M1149.1 739.7l2.8 4.9M1149.4 749.9l2.2 3.9M1149.7 760.1l1.6 2.9M1150.0 770.3l1.0 1.8M1150.5 780.4v1M1150.5 790.0v1M1150.5 799.7v1M1150.5 809.4v1M1150.5 820.1l0.0-1.1M1150.5 830.5l0.0-2.6M1150.5 840.9l0.0-4.1M1150.5 851.3l0.0-5.6M1150.5 861.7l0.0-7.1M1150.5 871.5l0.0-7.3M1150.5 881.2l0.0-7.3M1150.5 890.8l0.0-7.3M1150.5 900.5l0.0-7.3M1150.5 910.2l0.0-7.3M1158.1 690.6l3.7 6.5M1158.1 700.3l3.7 6.5M1158.1 710.0l3.7 6.5M1158.1 719.6l3.7 6.5M1158.1 729.3l3.7 6.5M1158.1 739.0l3.6 6.4M1158.5 749.3l2.9 5.1M1158.9 759.7l2.1 3.7M1159.3 770.0l1.3 2.4M1159.6 780.3l0.6 1.1M1159.9 790.0v1M1159.9 799.7v1M1159.9 810.4l0.0-1.1M1159.9 820.5l0.0-1.9M1159.9 830.9l0.0-3.5M1159.9 841.4l0.0-5.0M1159.9 851.8l0.0-6.6M1159.9 862.0l0.0-7.6M1159.9 871.6l0.0-7.6M1159.9 881.3l0.0-7.6M1159.9 891.0l0.0-7.6M1159.9 900.6l0.0-7.6M1159.9 910.3l0.0-7.6M1167.1 689.9l4.5 8.0M1167.1 699.6l4.5 8.0M1167.1 709.2l4.5 8.0M1167.1 718.9l4.5 8.0M1167.1 728.6l4.5 8.0M1167.1 738.3l4.4 7.9M1167.6 748.8l3.5 6.2M1168.1 759.3l2.6 4.6M1168.5 769.7l1.7 2.9M1169.0 780.2l0.7 1.3M1169.4 790.0v1M1169.4 799.7v1M1169.4 810.5l0.0-1.2M1169.4 820.9l0.0-2.8M1169.4 831.4l0.0-4.4M1169.4 841.9l0.0-6.0M1169.4 852.3l0.0-7.7M1169.4 862.1l0.0-7.9M1169.4 871.8l0.0-7.9M1169.4 881.4l0.0-7.9M1169.4 891.1l0.0-7.9M1169.4 900.8l0.0-7.9M1169.4 910.4l0.0-7.9M1176.6 689.9l4.5 8.0M1176.6 699.6l4.5 8.0M1176.6 709.2l4.5 8.0M1176.6 718.9l4.5 8.0M1176.6 728.6l4.5 8.0M1176.6 738.3l4.4 7.9M1177.1 748.8l3.5 6.2M1177.5 759.3l2.6 4.6M1178.0 769.7l1.7 2.9M1178.4 780.2l0.7 1.3M1178.8 790.0v1M1178.8 800.8l0.0-1.2M1178.8 810.9l0.0-2.1M1178.8 821.4l0.0-3.7M1178.8 831.9l0.0-5.4M1178.8 842.4l0.0-7.1M1178.8 852.6l0.0-8.2M1178.8 862.3l0.0-8.2M1178.8 871.9l0.0-8.2M1178.8 881.6l0.0-8.2M1178.8 891.3l0.0-8.2M1178.8 900.9l0.0-8.2M1178.8 910.6l0.0-8.2M1186.0 689.9l4.5 8.0M1186.0 699.6l4.5 8.0M1186.0 709.2l4.5 8.0M1186.0 718.9l4.5 8.0M1186.0 728.6l4.5 8.0M1186.0 738.3l4.4 7.9M1186.5 748.8l3.5 6.2M1187.0 759.3l2.6 4.6M1187.4 769.7l1.7 2.9M1187.9 780.2l0.7 1.3M1188.2 790.0v1M1188.2 800.8l0.0-1.3M1188.2 811.4l0.0-3.0M1188.2 821.9l0.0-4.7M1188.2 832.4l0.0-6.5M1188.2 843.0l0.0-8.2M1188.2 852.7l0.0-8.4M1188.2 862.4l0.0-8.4M1188.2 872.1l0.0-8.4M1188.2 881.7l0.0-8.4M1188.2 891.4l0.0-8.4M1188.2 901.1l0.0-8.4M1188.2 910.7l0.0-8.4M1195.4 689.9l4.5 8.0M1195.4 699.6l4.5 8.0M1195.4 709.2l4.5 8.0M1195.4 718.9l4.5 8.0M1195.4 728.6l4.5 8.0M1195.5 738.3l4.4 7.9M1195.9 748.8l3.5 6.2M1196.4 759.3l2.6 4.6M1196.9 769.7l1.7 2.9M1197.3 780.2l0.7 1.3M1197.7 791.2l0.0-1.3M1197.7 801.3l0.0-2.2M1197.7 811.9l0.0-4.0M1197.7 822.4l0.0-5.8M1197.7 833.0l0.0-7.6M1197.7 843.2l0.0-8.7M1197.7 852.9l0.0-8.7M1197.7 862.5l0.0-8.7M1197.7 872.2l0.0-8.7M1197.7 881.9l0.0-8.7M1197.7 891.5l0.0-8.7M1197.7 901.2l0.0-8.7M1197.7 910.9l0.0-8.7M1204.9 689.9l4.5 8.0M1204.9 699.6l4.5 8.0M1204.9 709.2l4.5 8.0M1204.9 718.9l4.5 8.0M1204.9 728.6l4.5 8.0M1204.9 738.3l4.4 7.9M1205.4 748.8l3.5 6.2M1205.8 759.3l2.6 4.6M1206.3 769.7l1.7 2.9M1206.8 780.2l0.7 1.3M1207.1 791.2l0.0-1.4M1207.1 801.8l0.0-3.2M1207.1 812.4l0.0-5.1M1207.1 823.0l0.0-6.9M1207.1 833.6l0.0-8.8M1207.1 843.4l0.0-9.0M1207.1 853.0l0.0-9.0M1207.1 862.7l0.0-9.0M1207.1 872.4l0.0-9.0M1207.1 882.0l0.0-9.0M1207.1 891.7l0.0-9.0M1207.1 901.3l0.0-9.0M1207.1 911.0l0.0-9.0M1214.3 689.9l4.5 8.0M1214.3 699.6l4.5 8.0M1214.3 709.2l4.5 8.0M1214.3 718.9l4.5 8.0M1214.3 728.6l4.5 8.0M1214.4 738.3l4.4 7.9M1214.8 748.8l3.5 6.2M1215.3 759.3l2.6 4.6M1215.7 769.7l1.7 2.9M1216.6 781.6l0.0-1.4M1216.6 791.7l0.0-2.4M1216.6 802.4l0.0-4.3M1216.6 813.0l0.0-6.2M1216.6 823.6l0.0-8.1M1216.6 833.8l0.0-9.3M1216.6 843.5l0.0-9.3M1216.6 853.2l0.0-9.3M1216.6 862.8l0.0-9.3M1216.6 872.5l0.0-9.3M1216.6 882.2l0.0-9.3M1216.6 891.8l0.0-9.3M1216.6 901.5l0.0-9.3M1216.6 911.1l0.0-9.3M1223.8 689.9l4.5 8.0M1223.8 699.6l4.5 8.0M1223.8 709.2l4.5 8.0M1223.8 718.9l4.5 8.0M1223.8 728.6l4.5 8.0M1223.8 738.3l4.4 7.9M1224.3 748.8l3.5 6.2M1224.7 759.3l2.6 4.6M1225.2 769.7l1.7 2.9M1226.0 781.6l0.0-1.5M1226.0 792.3l0.0-3.5M1226.0 802.9l0.0-5.4M1226.0 813.6l0.0-7.4M1226.0 824.2l0.0-9.4M1226.0 834.0l0.0-9.6M1226.0 843.6l0.0-9.6M1226.0 853.3l0.0-9.6M1226.0 863.0l0.0-9.6M1226.0 872.6l0.0-9.6M1226.0 882.3l0.0-9.6M1226.0 892.0l0.0-9.6M1226.0 901.6l0.0-9.6M1226.0 911.3l0.0-9.6M1233.2 689.9l4.5 8.0M1233.2 699.6l4.5 8.0M1233.2 709.2l4.5 8.0M1233.2 718.9l4.5 8.0M1233.2 728.6l4.5 8.0M1233.2 738.3l4.4 7.9M1233.7 748.8l3.5 6.2M1234.2 759.3l2.6 4.6M1235.5 771.9l0.0-1.5M1235.5 782.2l0.0-2.6M1235.5 792.8l0.0-4.6M1235.5 803.5l0.0-6.6M1235.5 814.2l0.0-8.7M1235.5 824.5l0.0-9.9M1235.5 834.1l0.0-9.9M1235.5 843.8l0.0-9.9M1235.5 853.4l0.0-9.9M1235.5 863.1l0.0-9.9M1235.5 872.8l0.0-9.9M1235.5 882.4l0.0-9.9M1235.5 892.1l0.0-9.9M1235.5 901.8l0.0-9.9M1235.5 911.4l0.0-9.9M1242.7 689.9l4.5 8.0M1242.7 699.6l4.5 8.0M1242.7 709.2l4.5 8.0M1242.7 718.9l4.5 8.0M1242.7 728.6l4.5 8.0M1242.7 738.3l4.4 7.9M1243.1 748.8l3.5 6.2M1243.6 759.3l2.6 4.6M1244.9 772.0l0.0-1.6M1244.9 782.7l0.0-3.7M1244.9 793.4l0.0-5.8M1244.9 804.1l0.0-7.9M1244.9 814.8l0.0-10.0M1244.9 824.6l0.0-10.1M1244.9 834.3l0.0-10.1M1244.9 843.9l0.0-10.1M1244.9 853.6l0.0-10.1M1244.9 863.3l0.0-10.1M1244.9 872.9l0.0-10.1M1244.9 882.6l0.0-10.1M1244.9 892.2l0.0-10.1M1244.9 901.9l0.0-10.1M1244.9 911.6l0.0-10.1" stroke="#78b8e0" stroke-width="1.15" fill="none"/>
<rect x="1006.3" y="682.9" width="250.6" height="234.6" fill="none" stroke="#111" stroke-width="1.2"/>
<line x1="1019.8" y1="881.1" x2="1230.2" y2="771.8" stroke="#111" stroke-width="2.6" stroke-dasharray="2.2 2.4"/>
<path d="M1032.6,702.7C1035.5,704.8 1041.8,708.6 1050,715C1058.2,721.4 1076.7,736.8 1082,741.2" stroke="#111" stroke-width="1.3" fill="none" stroke-linejoin="round"/>
<path d="M1049,715C1047.5,716.9 1042,726.3 1039.9,726.8C1037.7,727.3 1032.6,721.2 1036.2,718.1C1039.7,714.9 1058.6,707.5 1061.2,707.9C1063.7,708.4 1055.5,719.6 1051.5,720.8C1047.5,722 1036.4,715.8 1037.1,715.1C1037.8,714.4 1052.5,717.7 1055.7,716.8C1058.9,716 1058.5,711.1 1056.3,709.8C1054.1,708.4 1043.7,705.6 1042.7,708.7C1041.6,711.7 1048.5,725.5 1050.2,728.2C1051.8,730.8 1053.1,725.3 1052.5,724.6C1052,723.9 1049,725.8 1046.7,723.9C1044.5,722 1037.5,713.1 1038.8,713C1040.2,712.9 1053.4,724.2 1054.9,723.4C1056.4,722.6 1049.7,710.2 1047.8,708.1C1045.9,706 1044.2,710.5 1043.5,711" stroke="#111" stroke-width="1.1" fill="none" stroke-linejoin="round"/>
<path d="M1061.1,727C1061.2,726.5 1060.6,723 1061.2,723.9C1061.9,724.8 1064.8,732.6 1065,732.5C1065.2,732.4 1063.2,724.4 1062.5,723.2C1061.7,722.1 1061.4,723.7 1060.3,725.6C1059.3,727.4 1054.7,735 1056,734.3C1057.3,733.7 1066.3,722.4 1067.9,721.6C1069.6,720.8 1066.1,728.1 1065.8,729.4" stroke="#111" stroke-width="1.1" fill="none" stroke-linejoin="round"/>
<path d="M1062.0 735.0l0.3 25" stroke="#111" stroke-width="1.2" fill="none" stroke-linejoin="round" />
<path d="M1062.3 760.0l-1.3 86" stroke="#3a9a3a" stroke-width="1.1" fill="none" stroke-linejoin="round" />
<path d="M1061.2,852.7C1062.5,852.5 1068.6,851.5 1068.8,851.6C1068.9,851.6 1064.1,853 1062.1,853C1060.2,853.1 1056.6,851.7 1057,852.1C1057.3,852.6 1064.3,855.9 1064.1,855.5C1063.8,855.1 1056.9,849.6 1055.5,849.6C1054.1,849.7 1053.9,856.2 1055.5,855.7C1057,855.2 1062.7,846.2 1065.1,846.5C1067.5,846.8 1069.8,856.4 1069.7,857.6C1069.6,858.7 1066.7,855.3 1064.5,853.4C1062.3,851.5 1056.9,847.3 1056.5,846.2C1056.2,845.1 1061.5,846.6 1062.5,846.7" stroke="#111" stroke-width="1.1" fill="none" stroke-linejoin="round"/>
<path d="M1062,852C1064.2,851 1071.7,846 1075,846C1078.3,846 1079.7,855 1082,852C1084.3,849 1086.8,829.7 1089,828C1091.2,826.3 1093,838.3 1095,842C1097,845.7 1100.6,851.2 1100.8,850C1101,848.8 1095.7,839 1096,835C1096.3,831 1100.5,827 1102.8,826.2C1105.1,825.4 1107.4,830.5 1110,830C1112.6,829.5 1115.8,823.2 1118.6,823.2C1121.3,823.2 1124.3,831.1 1126.5,830.2C1128.7,829.3 1129.8,819.4 1132,818C1134.2,816.6 1137,822.6 1140,822C1143,821.4 1147.9,818 1150.2,814.3C1152.5,810.6 1152.7,803.3 1154,800C1155.3,796.7 1157.4,795.5 1158.1,794.6" stroke="#111" stroke-width="1.2" fill="none" stroke-linejoin="round"/>
<path d="M1177.3,797C1178.2,794.3 1184.8,782.1 1182.7,780.6C1180.5,779.1 1166.1,784.4 1164.3,788C1162.5,791.6 1168.5,800.7 1171.7,801.9C1174.8,803.1 1182,796 1183.3,795.2C1184.7,794.5 1182.2,798 1179.6,797.2C1177.1,796.3 1169.9,788.8 1168.1,790.1C1166.2,791.4 1168.9,803 1168.5,805C1168.1,807 1166.1,803.4 1165.6,802.2C1165.2,801 1164.8,800.2 1166.1,798C1167.4,795.8 1169.9,792.5 1173.4,788.9C1177,785.4 1188.9,773.9 1187.6,776.6C1186.3,779.3 1167.3,804.9 1165.7,805.3C1164.1,805.7 1176.2,783.3 1178.2,778.9" stroke="#111" stroke-width="1.1" fill="none" stroke-linejoin="round"/>
<path d="M1163.3,809.4C1165.2,810.1 1175.5,815.2 1175.2,813.4C1174.8,811.6 1163.7,801 1161.2,798.5C1158.7,796 1157.6,798.8 1160.1,798.4C1162.7,798 1174.8,796.2 1176.6,796.1C1178.3,796.1 1172.9,796.9 1170.9,798.1C1168.8,799.3 1162.8,801.8 1164.3,803.4C1165.7,804.9 1180.8,808.2 1179.5,807.6C1178.1,807 1159.6,798.6 1156.4,799.6C1153.2,800.7 1156.4,811.8 1160.1,813.9C1163.8,816 1175.5,812.9 1178.7,812.3C1181.8,811.8 1178.5,810.9 1179.1,810.9C1179.8,810.8 1185.2,811.6 1182.6,812.1C1179.9,812.5 1166.4,813.2 1163.2,813.4" stroke="#c0282e" stroke-width="1.0" fill="none" stroke-linejoin="round"/>
<path d="M1177.1,790.7C1179,791.8 1187.5,799.4 1188,797.3C1188.6,795.2 1180.1,779.5 1180.4,778.2C1180.7,776.8 1189.6,787.4 1189.7,789.4C1189.8,791.4 1182.2,789.6 1181.1,790.2C1179.9,790.7 1183.5,794.9 1182.9,792.8C1182.3,790.6 1175.7,779.2 1177.4,777.3C1179.1,775.3 1192.6,778.3 1193,781C1193.5,783.7 1181.1,794.5 1180.2,793.5C1179.3,792.5 1186.4,778.2 1187.6,775.2" stroke="#111" stroke-width="1.1" fill="none" stroke-linejoin="round"/>
<line x1="1160" y1="764" x2="1172" y2="782.7" stroke="#111" stroke-width="1.4" />
<circle cx="1198.6" cy="779.2" r="2.8" fill="#111"/>
<text x="1067.2" y="717.5" font-size="20">t</text>
<text x="1073.2" y="724.4" font-size="14">0</text>
<text x="1201.6" y="768.9" font-size="20">t</text>
<text x="1207.6" y="772.8" font-size="14">800</text>
<text x="1024.1" y="779.8" font-size="20" fill="#3a9a3a">male</text>
<text x="1024.1" y="802.5" font-size="20" fill="#3a9a3a">sniff</text>
<text x="1114.2" y="867.7" font-size="20" fill="#c0282e" textLength="107.5" lengthAdjust="spacingAndGlyphs">intromission</text>
<line x1="1129.4" y1="852.9" x2="1124.5" y2="844" stroke="#c0282e" stroke-width="1.1" />
<line x1="1142.7" y1="851.9" x2="1140.3" y2="835.7" stroke="#c0282e" stroke-width="1.1" />
<line x1="1167.6" y1="851.9" x2="1166.4" y2="823.2" stroke="#c0282e" stroke-width="1.1" />
<text x="994.8" y="896" font-size="15" transform="rotate(-90 994.8 896)"><tspan dy="0" font-size="26.5">PC</tspan><tspan dy="9.3" font-size="15">1</tspan></text>
<text x="977" y="949" font-size="15"><tspan dy="0" font-size="26.5">PC</tspan><tspan dy="8" font-size="15">2</tspan></text>
<text x="1042" y="939" font-size="18">-5</text>
<text x="1126" y="939" font-size="18">0</text>
<text x="1202.5" y="939" font-size="18">5</text>
<text x="50" y="1032.5" font-size="34" font-weight="bold">i</text>
<rect x="146" y="995" width="194" height="64" fill="#f8e9e8"/>
<text x="161" y="1021.8" font-size="20" fill="#da7b70">day 1</text>
<text x="161" y="1045.8" font-size="20" fill="#da7b70">receptive</text>
<line x1="366.5" y1="1026" x2="500" y2="1026" stroke="#111" stroke-width="1.3" />
<path d="M510,1026L498,1021L498,1031z" fill="#111"/>
<rect x="531.5" y="997.5" width="200.5" height="63.2" fill="#e6e7e8"/>
<text x="546.5" y="1024.3" font-size="20" fill="#1a1a1a">day 2</text>
<text x="546.5" y="1048.3" font-size="20" fill="#1a1a1a">unreceptive</text>
<line x1="761" y1="1027.5" x2="919.7" y2="1027.5" stroke="#111" stroke-width="1.3" />
<path d="M929.7,1027.5L917.7,1022.5L917.7,1032.5z" fill="#111"/>
<rect x="938" y="996" width="200.6" height="63" fill="#e6e7e8"/>
<text x="953" y="1022.8" font-size="20" fill="#1a1a1a">day 3</text>
<text x="953" y="1046.8" font-size="20" fill="#1a1a1a">unreceptive</text>
<path fill="#6cb33f" d="M160.5 1109.3h9.4v23.1h-9.4zM172.7 1109.3h11.2v23.1h-11.2zM187.0 1109.3h9.4v23.1h-9.4zM201.0 1109.3h19.8v23.1h-19.8zM258.4 1109.3h3.3v23.1h-3.3zM265.4 1109.3h2.8v23.1h-2.8zM288.1 1109.3h1.9v23.1h-1.9zM292.0 1109.3h1.3v23.1h-1.3zM385.8 1109.3h1.9v23.1h-1.9zM446.0 1109.3h1.0v23.1h-1.0z"/>
<path fill="#bfe0a0" d="M174.9 1109.3h1.0v23.1h-1.0zM178.8 1109.3h1.0v23.1h-1.0zM188.9 1109.3h1.0v23.1h-1.0zM192.8 1109.3h1.0v23.1h-1.0zM203.7 1109.3h1.0v23.1h-1.0zM208.4 1109.3h1.0v23.1h-1.0zM213.1 1109.3h1.0v23.1h-1.0zM217.8 1109.3h1.0v23.1h-1.0zM219.3 1109.3h1.0v23.1h-1.0zM251.6 1109.3h1.0v23.1h-1.0zM280.9 1109.3h1.0v23.1h-1.0zM304.7 1109.3h1.0v23.1h-1.0zM323.3 1109.3h1.0v23.1h-1.0zM362.2 1109.3h1.0v23.1h-1.0zM390.7 1109.3h1.0v23.1h-1.0zM402.4 1109.3h1.0v23.1h-1.0zM418.5 1109.3h1.0v23.1h-1.0zM423.3 1109.3h1.0v23.1h-1.0zM433.7 1109.3h1.0v23.1h-1.0z"/>
<path fill="#93c96c" d="M254.4 1109.3h1.0v23.1h-1.0zM263.0 1109.3h1.0v23.1h-1.0zM275.7 1109.3h1.0v23.1h-1.0zM284.8 1109.3h1.0v23.1h-1.0zM308.6 1109.3h1.0v23.1h-1.0zM312.8 1109.3h2.9v23.1h-2.9zM327.1 1109.3h1.9v23.1h-1.9zM340.8 1109.3h1.0v23.1h-1.0zM347.9 1109.3h2.9v23.1h-2.9zM368.3 1109.3h1.0v23.1h-1.0zM393.3 1109.3h1.0v23.1h-1.0zM407.1 1109.3h1.0v23.1h-1.0zM426.1 1109.3h1.0v23.1h-1.0z"/>
<path fill="#a070c0" d="M220.1 1132.4h1.4v25.3h-1.4zM267.6 1132.4h1.4v25.3h-1.4zM288.4 1132.4h1.4v25.3h-1.4zM316.9 1132.4h1.4v25.3h-1.4zM328.2 1132.4h1.4v25.3h-1.4zM350.4 1132.4h1.4v25.3h-1.4zM362.4 1132.4h1.4v25.3h-1.4zM373.4 1132.4h1.4v25.3h-1.4zM393.7 1132.4h1.4v25.3h-1.4zM407.3 1132.4h1.4v25.3h-1.4zM418.3 1132.4h1.4v25.3h-1.4zM426.5 1132.4h1.4v25.3h-1.4z"/>
<path fill="#7b35a8" d="M281.7 1132.4h1.4v25.3h-1.4zM309.1 1132.4h1.4v25.3h-1.4zM371.3 1132.4h1.4v25.3h-1.4zM391.6 1132.4h1.4v25.3h-1.4zM403.6 1132.4h1.4v25.3h-1.4zM434.4 1132.4h1.4v25.3h-1.4zM437.0 1132.4h1.4v25.3h-1.4zM440.1 1132.4h1.4v25.3h-1.4z"/>
<path fill="#c9a8dc" d="M292.9 1132.4h1.5v25.3h-1.5zM423.1 1132.4h1.4v25.3h-1.4zM447.3 1132.4h1.4v25.3h-1.4z"/>
<path fill="#e04b1e" d="M221.8 1157.7h25.3v25.3h-25.3zM269.2 1157.7h3.8v25.3h-3.8zM294.8 1157.7h7.3v25.3h-7.3zM310.0 1157.7h1.9v25.3h-1.9zM317.6 1157.7h3.8v25.3h-3.8zM329.5 1157.7h5.1v25.3h-5.1zM351.3 1157.7h7.0v25.3h-7.0zM363.1 1157.7h3.4v25.3h-3.4zM374.1 1157.7h2.3v25.3h-2.3zM394.9 1157.7h2.3v25.3h-2.3zM408.6 1157.7h2.3v25.3h-2.3zM419.4 1157.7h2.4v25.3h-2.4zM427.5 1157.7h2.5v25.3h-2.5zM449.4 1157.7h6.6v25.3h-6.6z"/>
<line x1="120.3" y1="1132.4" x2="462.9" y2="1132.4" stroke="#c8c8c8" stroke-width="1" />
<line x1="120.3" y1="1157.7" x2="462.9" y2="1157.7" stroke="#c8c8c8" stroke-width="1" />
<rect x="120.3" y="1109.3" width="342.6" height="73.7" fill="none" stroke="#111" stroke-width="1.2"/>
<path d="M180.2,1109.3v4M180.2,1183v-4M239.4,1109.3v4M239.4,1183v-4M298.6,1109.3v4M298.6,1183v-4M357.8,1109.3v4M357.8,1183v-4M417,1109.3v4M417,1183v-4" stroke="#111" stroke-width="1"/>
<path d="M120.3,1145.5h4M462.9,1145.5h-4" stroke="#111" stroke-width="1"/>
<circle cx="135.5" cy="1090.5" r="7.7" fill="none" stroke="#111" stroke-width="1.3"/>
<path d="M139.5,1083.9L148.5,1071.1M140.1,1073.3L148.5,1071.1L150.6,1078.8" fill="none" stroke="#111" stroke-width="1.3"/>
<text x="154" y="1091.1" font-size="20" fill="#e8a030" textLength="15" lengthAdjust="spacingAndGlyphs">In</text>
<path d="M154.8,1094.8L160.4,1096.6L166,1094.8L160.4,1107.5z" fill="#111"/>
<text x="108" y="1126.5" font-size="20" text-anchor="end" fill="#6fb56a">male sniff</text>
<text x="108" y="1151" font-size="20" text-anchor="end" fill="#7232a2">mount</text>
<text x="108" y="1175.5" font-size="20" text-anchor="end" fill="#d0552e">intromission</text>
<line x1="110" y1="1121" x2="115" y2="1121" stroke="#6fb56a" stroke-width="1.2" />
<line x1="110" y1="1145.5" x2="115" y2="1145.5" stroke="#7232a2" stroke-width="1.2" />
<line x1="110" y1="1170" x2="115" y2="1170" stroke="#d0552e" stroke-width="1.2" />
<text x="129" y="1213" font-size="20" textLength="403.5" lengthAdjust="spacingAndGlyphs">int. dimension of mouse 4 from receptive day</text>
<path fill="#d9eecb" d="M160.5 1226.5h9.4v81.0h-9.4zM172.7 1226.5h11.2v81.0h-11.2zM187.0 1226.5h9.4v81.0h-9.4zM201.0 1226.5h19.8v81.0h-19.8zM174.6 1226.5h1.6v81.0h-1.6zM178.5 1226.5h1.6v81.0h-1.6zM188.6 1226.5h1.6v81.0h-1.6zM192.5 1226.5h1.6v81.0h-1.6zM203.4 1226.5h1.6v81.0h-1.6zM208.1 1226.5h1.6v81.0h-1.6zM212.8 1226.5h1.6v81.0h-1.6zM217.5 1226.5h1.6v81.0h-1.6zM219.0 1226.5h1.6v81.0h-1.6zM251.3 1226.5h1.6v81.0h-1.6zM254.1 1226.5h1.6v81.0h-1.6zM258.4 1226.5h3.3v81.0h-3.3zM262.7 1226.5h1.6v81.0h-1.6zM265.4 1226.5h2.8v81.0h-2.8zM275.4 1226.5h1.6v81.0h-1.6zM280.6 1226.5h1.6v81.0h-1.6zM284.5 1226.5h1.6v81.0h-1.6zM288.1 1226.5h1.9v81.0h-1.9zM291.8 1226.5h1.6v81.0h-1.6zM304.4 1226.5h1.6v81.0h-1.6zM308.3 1226.5h1.6v81.0h-1.6zM312.8 1226.5h2.9v81.0h-2.9zM323.0 1226.5h1.6v81.0h-1.6zM327.1 1226.5h1.9v81.0h-1.9zM340.5 1226.5h1.6v81.0h-1.6zM347.9 1226.5h2.9v81.0h-2.9zM361.9 1226.5h1.6v81.0h-1.6zM368.0 1226.5h1.6v81.0h-1.6zM385.8 1226.5h1.9v81.0h-1.9zM390.4 1226.5h1.6v81.0h-1.6zM393.0 1226.5h1.6v81.0h-1.6zM402.1 1226.5h1.6v81.0h-1.6zM406.8 1226.5h1.6v81.0h-1.6zM418.2 1226.5h1.6v81.0h-1.6zM423.0 1226.5h1.6v81.0h-1.6zM425.8 1226.5h1.6v81.0h-1.6zM433.4 1226.5h1.6v81.0h-1.6zM445.7 1226.5h1.6v81.0h-1.6z"/>
<path fill="#dccfe9" d="M220.0 1226.5h1.6v81.0h-1.6zM267.5 1226.5h1.6v81.0h-1.6zM281.6 1226.5h1.6v81.0h-1.6zM288.3 1226.5h1.6v81.0h-1.6zM292.8 1226.5h1.6v81.0h-1.6zM309.0 1226.5h1.6v81.0h-1.6zM316.8 1226.5h1.6v81.0h-1.6zM328.1 1226.5h1.6v81.0h-1.6zM350.3 1226.5h1.6v81.0h-1.6zM362.3 1226.5h1.6v81.0h-1.6zM371.2 1226.5h1.6v81.0h-1.6zM373.3 1226.5h1.6v81.0h-1.6zM391.5 1226.5h1.6v81.0h-1.6zM393.6 1226.5h1.6v81.0h-1.6zM403.5 1226.5h1.6v81.0h-1.6zM407.2 1226.5h1.6v81.0h-1.6zM418.2 1226.5h1.6v81.0h-1.6zM423.0 1226.5h1.6v81.0h-1.6zM426.4 1226.5h1.6v81.0h-1.6zM434.3 1226.5h1.6v81.0h-1.6zM436.9 1226.5h1.6v81.0h-1.6zM440.0 1226.5h1.6v81.0h-1.6zM447.2 1226.5h1.6v81.0h-1.6z"/>
<path fill="#ebc7bb" d="M221.8 1226.5h25.3v81.0h-25.3zM269.2 1226.5h3.8v81.0h-3.8zM294.8 1226.5h7.3v81.0h-7.3zM310.0 1226.5h1.9v81.0h-1.9zM317.6 1226.5h3.8v81.0h-3.8zM329.5 1226.5h5.1v81.0h-5.1zM351.3 1226.5h7.0v81.0h-7.0zM363.1 1226.5h3.4v81.0h-3.4zM374.1 1226.5h2.3v81.0h-2.3zM394.9 1226.5h2.3v81.0h-2.3zM408.6 1226.5h2.3v81.0h-2.3zM419.4 1226.5h2.4v81.0h-2.4zM427.5 1226.5h2.5v81.0h-2.5zM449.4 1226.5h6.6v81.0h-6.6z"/>
<path d="M119.2 1276.7l2.1 2.6 2.1 4.3 2 0.8 2-0.1 1.9-2.2 2 0.7 1.9-0.4 2 0.3 1.9-1 2.4-3.3 2.3-3.7 1.7-0.4 1.7 0.9 1.7 1.6 1.9-4.2 2-4 1.9 3.7 2 8.6 1.9 7 3.2 7.1 1.7-0.6 1.7 0.7 1.7 0.1 1.7 2.6 1.7-0.1 1.7-2 1.7 1.1 1.7 0.2 1.6-0.1 1.7 2.9 1.7-0.3 1.6-4.7 1.7 2.6 1.7 0.8 1.7-0.3 1.6-1.4 1.7-4.1 1.7 1.7 1.6-0.5 2 6.6 1.9 4.4 2-2.9 1.9 1.9 2-3.8 1.9 1.3 2-5.8 1.9-6.8 2-12.3 1.9-9 2 1.3 1.9 3.1 2 1.3 1.9-1.3 2-4.2 1.6-0.1 1.6-4.4 1.7-2.7 1.6-1.2 1.6-1.6 1.6-0.9 2-2 1.9-2.6 2 1.3 1.9-2.7 2-0.8 1.9 0.5 2-2.7 1.9-1.7 2 11.5 1.9 9.2 2 2.6 1.9-0.1 2-2.4 1.9 0.2 2-3.7 1.9-2.6 2-1.4 1.9-3.4 2-1.5 1.9-1.4 2 1.7 1.9-0.4 2-2.7 1.9-1.1 2 7.6 1.9 6.4 2-1.1 1.9-3.3 2-1.7 1.9-3.1 2-8.5 1.9-1.9 2-3.2 1.9 0.6 2-0.6 1.9 2.4 2 2.9 1.9 2 2-1 1.9 2 2-0.8 1.9-0.3 2-1.4 1.9-1.4 2-1.4 1.9-1.4 2 0.6 1.9 0.8 2 0.5 1.9-0.8 2-1.6 1.9-0.8 2 0.9 1.9-1.9 2 10.5 1.9 8 2-1.5 1.9-4.6 2-1.8 1.9-2.1 2-1.4 1.9-1.6 2 0.2 1.9-0.1 2-1.4 1.9-0.9 2 2.1 1.9-2.6 2 0 1.9-0.2 2-2 1.9-1.4 2-0.9 1.9 2.1 2-0.6 1.9 0.5 2 1.7 1.9-2.9 2-2.3 1.9-1.1 2-3.9 1.9-5.7 2 2.7 1.9 3.2 2-0.7 1.9 0.5 2 2.3 1.9-0.9 2 1 1.9 2 2 0.3 1.9 2.1 2 0.1 1.9 1.3 2 3.3 1.9 20.4 2-8.3 1.9-11.2 2 0.2 1.9 0 2-2.2 1.9 0.2 2-2.1 1.9 0 2-1 1.9 1.3 2 1 1.9 5.1 2-1.9 1.9-3.5 2-4.1 1.9-2 2-0.3 1.9 2.6 2-0.1 1.9 2.4 2 1.4 1.9 3.4 2 1" stroke="#111" stroke-width="1.2" fill="none" stroke-linejoin="round" />
<rect x="119" y="1226.5" width="342" height="81" fill="none" stroke="#111" stroke-width="1.2"/>
<path d="M119,1267.5h4M461,1267.5h-4" stroke="#111" stroke-width="1"/>
<path d="M180.2,1226.5v4M180.2,1307.5v-4M239.4,1226.5v4M239.4,1307.5v-4M298.6,1226.5v4M298.6,1307.5v-4M357.8,1226.5v4M357.8,1307.5v-4M417,1226.5v4M417,1307.5v-4" stroke="#111" stroke-width="1"/>
<text x="102.5" y="1238.5" font-size="20">5</text>
<text x="97.5" y="1306.5" font-size="20">-5</text>
<text x="80" y="1327.5" font-size="15">time (s)</text>
<text x="180.5" y="1327.5" font-size="15" text-anchor="middle">200</text>
<text x="235" y="1327.5" font-size="15" text-anchor="middle">400</text>
<text x="298.5" y="1327.5" font-size="15" text-anchor="middle">600</text>
<text x="355" y="1327.5" font-size="15" text-anchor="middle">800</text>
<text x="423" y="1327.5" font-size="15" text-anchor="middle">1000</text>
<path fill="#6cb33f" d="M581.2 1109.1h2.1v24.3h-2.1zM594.0 1109.1h4.5v24.3h-4.5zM790.0 1109.1h1.0v24.3h-1.0z"/>
<path fill="#93c96c" d="M589.5 1109.1h1.0v24.3h-1.0zM601.6 1109.1h3.0v24.3h-3.0zM607.7 1109.1h3.0v24.3h-3.0zM613.7 1109.1h3.1v24.3h-3.1zM693.8 1109.1h1.0v24.3h-1.0zM749.0 1109.1h1.0v24.3h-1.0zM752.5 1109.1h1.0v24.3h-1.0zM756.1 1109.1h1.0v24.3h-1.0zM762.2 1109.1h1.0v24.3h-1.0zM774.3 1109.1h1.0v24.3h-1.0zM777.5 1109.1h1.0v24.3h-1.0zM780.5 1109.1h1.0v24.3h-1.0zM847.3 1109.1h1.0v24.3h-1.0z"/>
<path fill="#bfe0a0" d="M621.7 1109.1h1.0v24.3h-1.0zM625.4 1109.1h1.0v24.3h-1.0zM627.5 1109.1h1.0v24.3h-1.0zM631.5 1109.1h1.0v24.3h-1.0zM643.5 1109.1h1.0v24.3h-1.0zM647.5 1109.1h1.0v24.3h-1.0zM651.2 1109.1h1.0v24.3h-1.0zM675.5 1109.1h1.0v24.3h-1.0zM679.5 1109.1h1.0v24.3h-1.0zM683.5 1109.1h1.0v24.3h-1.0zM686.2 1109.1h1.0v24.3h-1.0zM713.5 1109.1h1.0v24.3h-1.0zM725.1 1109.1h1.0v24.3h-1.0zM727.5 1109.1h1.0v24.3h-1.0zM730.3 1109.1h1.0v24.3h-1.0zM804.5 1109.1h1.0v24.3h-1.0zM807.5 1109.1h1.0v24.3h-1.0zM835.1 1109.1h1.0v24.3h-1.0zM838.2 1109.1h1.0v24.3h-1.0z"/>
<path fill="#7b35a8" d="M602.4 1133.4h1.4v24.4h-1.4zM624.6 1133.4h1.4v24.4h-1.4zM629.8 1133.4h1.4v24.4h-1.4zM656.2 1133.4h1.4v24.4h-1.4zM695.1 1133.4h1.4v24.4h-1.4zM725.6 1133.4h5.2v24.4h-5.2zM749.0 1133.4h4.5v24.4h-4.5zM755.9 1133.4h1.4v24.4h-1.4zM762.9 1133.4h1.4v24.4h-1.4zM774.8 1133.4h4.6v24.4h-4.6zM787.8 1133.4h1.4v24.4h-1.4zM805.8 1133.4h3.1v24.4h-3.1zM848.6 1133.4h1.4v24.4h-1.4z"/>
<path fill="#e04b1e" d="M658.4 1157.8h4.9v24.9h-4.9zM696.7 1157.8h3.7v24.9h-3.7z"/>
<line x1="506.7" y1="1133.4" x2="866" y2="1133.4" stroke="#c8c8c8" stroke-width="1" />
<line x1="506.7" y1="1157.8" x2="866" y2="1157.8" stroke="#c8c8c8" stroke-width="1" />
<rect x="506.7" y="1109.1" width="359.3" height="73.6" fill="none" stroke="#111" stroke-width="1.2"/>
<path d="M561.6,1109.1v4M561.6,1182.7v-4M616.8,1109.1v4M616.8,1182.7v-4M672,1109.1v4M672,1182.7v-4M727.2,1109.1v4M727.2,1182.7v-4M782.4,1109.1v4M782.4,1182.7v-4M837.6,1109.1v4M837.6,1182.7v-4" stroke="#111" stroke-width="1"/>
<path d="M506.7,1146.2h4M866,1146.2h-4" stroke="#111" stroke-width="1"/>
<line x1="484.6" y1="1121.3" x2="505.8" y2="1121.3" stroke="#6cb33f" stroke-width="1.3" />
<line x1="484.6" y1="1146.2" x2="505.8" y2="1146.2" stroke="#7b35a8" stroke-width="1.3" />
<line x1="484.6" y1="1170.8" x2="505.8" y2="1170.8" stroke="#e04b1e" stroke-width="1.3" />
<circle cx="555.8" cy="1091" r="7.7" fill="none" stroke="#111" stroke-width="1.3"/>
<path d="M559.8,1084.4L568.8,1071.6M560.4,1073.8L568.8,1071.6L570.9,1079.3" fill="none" stroke="#111" stroke-width="1.3"/>
<text x="574" y="1091.5" font-size="20" fill="#e8a030" textLength="15" lengthAdjust="spacingAndGlyphs">In</text>
<path d="M575.1,1094.5L580.7,1096.3L586.3,1094.5L580.7,1107.2z" fill="#111"/>
<path fill="#cfe6bd" d="M581.2 1227.8h2.1v79.9h-2.1zM589.0 1227.8h2.0v79.9h-2.0zM594.0 1227.8h4.5v79.9h-4.5zM601.6 1227.8h3.0v79.9h-3.0zM607.7 1227.8h3.0v79.9h-3.0zM613.7 1227.8h3.1v79.9h-3.1zM621.2 1227.8h2.0v79.9h-2.0zM624.9 1227.8h2.0v79.9h-2.0zM627.0 1227.8h2.0v79.9h-2.0zM631.0 1227.8h2.0v79.9h-2.0zM643.0 1227.8h2.0v79.9h-2.0zM647.0 1227.8h2.0v79.9h-2.0zM650.7 1227.8h2.0v79.9h-2.0zM675.0 1227.8h2.0v79.9h-2.0zM679.0 1227.8h2.0v79.9h-2.0zM683.0 1227.8h2.0v79.9h-2.0zM685.7 1227.8h2.0v79.9h-2.0zM693.3 1227.8h2.0v79.9h-2.0zM713.0 1227.8h2.0v79.9h-2.0zM724.6 1227.8h2.0v79.9h-2.0zM727.0 1227.8h2.0v79.9h-2.0zM729.8 1227.8h2.0v79.9h-2.0zM748.5 1227.8h2.0v79.9h-2.0zM752.0 1227.8h2.0v79.9h-2.0zM755.6 1227.8h2.0v79.9h-2.0zM761.7 1227.8h2.0v79.9h-2.0zM773.8 1227.8h2.0v79.9h-2.0zM777.0 1227.8h2.0v79.9h-2.0zM780.0 1227.8h2.0v79.9h-2.0zM789.5 1227.8h2.0v79.9h-2.0zM804.0 1227.8h2.0v79.9h-2.0zM807.0 1227.8h2.0v79.9h-2.0zM834.6 1227.8h2.0v79.9h-2.0zM837.7 1227.8h2.0v79.9h-2.0zM846.8 1227.8h2.0v79.9h-2.0z"/>
<path fill="#c9b6dc" d="M601.9 1227.8h2.4v79.9h-2.4zM624.1 1227.8h2.4v79.9h-2.4zM629.3 1227.8h2.4v79.9h-2.4zM655.7 1227.8h2.4v79.9h-2.4zM694.6 1227.8h2.4v79.9h-2.4zM725.6 1227.8h5.2v79.9h-5.2zM749.0 1227.8h4.5v79.9h-4.5zM755.4 1227.8h2.4v79.9h-2.4zM762.4 1227.8h2.4v79.9h-2.4zM774.8 1227.8h4.6v79.9h-4.6zM787.3 1227.8h2.4v79.9h-2.4zM805.8 1227.8h3.1v79.9h-3.1zM848.1 1227.8h2.4v79.9h-2.4z"/>
<path fill="#e6aa9a" d="M658.4 1227.8h4.9v79.9h-4.9zM696.7 1227.8h3.7v79.9h-3.7z"/>
<path d="M510.0 1288.6l1.8 0.7 1.7-1.7 1.8 0.2 1.8-2 1.7 0.5 1.8-1 1.8 0.8 1.8-0.3 1.9 0.3 1.8-1.2 1.8-0.8 2-0.3 2.1-1.1 2 2.7 2-1.3 2.1 3.8 2 2.2 1.8-0.7 1.8-1.7 1.9 0.9 1.8 1 1.8 0.1 1.8-2.8 1.8 0.5 1.9 0.3 1.8 1.7 1.8-2.2 1.8-0.4 1.8 1 1.9-2.8 1.8 0.1 1.8-1.5 1.8 1.4 1.8 0.5 1.9 0.9 1.8 2 1.8 0.5 3.1 2.8 2.2 5.3 2.3 5.5 2.3 0.7 2.3 3 2-0.2 2.1-2.4 2-1.5 1.8-0.9 1.8-0.4 1.9-1.4 1.8-1.9 1.8-2.7 2-0.3 2.1-0.8 2 2.1 2 1.4 2.1 1.8 2 2.8 1.8-0.1 1.8-0.8 1.9-0.9 1.8-1.7 1.8-0.8 2 0.9 2.1 0.8 2-3.4 1.9 0.5 1.9 4.6 1.9 1.3 1.9-0.6 1.8 1.7 1.7 1.7 1.8 0.2 1.8-0.5 1.7-1.9 1.8 0.4 2-1.4 2.1-1.8 2 0.3 2.2-8.7 2.3-5.5 2.3 1.4 2.3 1.4 2 1.7 2.1 2.5 2 4.5 3-5.3 1.7-2.2 1.8-0.2 1.7-0.3 1.8 0.5 1.7 1.4 1.8 1 1.7-1.7 1.9-0.9 1.9-1.1 1.9 0.4 1.9-0.3 2.2-4.8 2.3-5.1 2.3 1.2 2.3 3.4 2.3 6.7 2.2 4.4 1.8-0.5 1.9-2.2 1.8 1.1 1.9-1.1 1.8-1.2 1.8 0.5 1.8-0.2 1.9-1.2 1.8-3 1.8-0.6 2.3-2.1 2.2-1.8 3.1 8.4 1.9 1.8 1.9-0.3 1.9 3.5 1.9-0.3 1.8 0.1 1.8-2.3 1.9-0.1 1.8-1.9 1.8-2 2 0.4 2.1 5.6 2 2.4 1.8-1 1.8-0.9 1.9-1.4 1.8 0.9 1.8 0.4 1.8-2.7 1.7-2.7 1.8-1.7 1.8-4.7 1.7-1.1 1.8-0.3 2.3 4.3 2.3 5.8 1.8-1.6 1.8 2.2 1.9 1.1 1.8 0.8 1.8 1.1 2-0.6 2.1-0.7 2-1.2 1.8-1.2 1.7 0.8 1.8-1.6 1.8-2.6 1.7-2.7 1.8 0.7 2 0 2.1 4.7 2 2.5 1.9-0.8 1.9-2.8 1.9 2.1 1.9-3 2.3-1.1 2.2-1.9 1.8-0.7 1.9 0.3 1.8-0.8 1.9 1.4 1.8-1.2 1.9 0.4 1.9-1.2 1.9-4.1 1.9 0 1.8-0.6 1.8 1.1 1.9-2.1 1.8-0.9 1.8-1.2 2.3 5.6 2.3 5.2 2.3 0.2 2.2 2.8" stroke="#111" stroke-width="1.2" fill="none" stroke-linejoin="round" />
<rect x="507.8" y="1227.8" width="357.8" height="79.9" fill="none" stroke="#111" stroke-width="1.2"/>
<path d="M507.8,1267.6h4M865.6,1267.6h-4" stroke="#111" stroke-width="1"/>
<path d="M561.6,1227.8v4M561.6,1307.7v-4M616.8,1227.8v4M616.8,1307.7v-4M672,1227.8v4M672,1307.7v-4M727.2,1227.8v4M727.2,1307.7v-4M782.4,1227.8v4M782.4,1307.7v-4M837.6,1227.8v4M837.6,1307.7v-4" stroke="#111" stroke-width="1"/>
<text x="484" y="1238.7" font-size="20">5</text>
<text x="478" y="1306.2" font-size="20">-5</text>
<text x="503" y="1326" font-size="15">time (s)</text>
<text x="611" y="1326" font-size="15" text-anchor="middle">200</text>
<text x="726" y="1326" font-size="15" text-anchor="middle">400</text>
<text x="836" y="1326" font-size="15" text-anchor="middle">600</text>
<path fill="#6cb33f" d="M1011.4 1111.6h3.6v21.8h-3.6zM1024.0 1111.6h4.7v21.8h-4.7zM1048.5 1111.6h4.5v21.8h-4.5zM1067.8 1111.6h1.0v21.8h-1.0zM1077.4 1111.6h4.6v21.8h-4.6z"/>
<path fill="#93c96c" d="M1017.5 1111.6h1.0v21.8h-1.0zM1032.8 1111.6h1.0v21.8h-1.0zM1035.0 1111.6h1.0v21.8h-1.0zM1037.4 1111.6h1.0v21.8h-1.0zM1040.4 1111.6h1.0v21.8h-1.0zM1058.5 1111.6h1.0v21.8h-1.0zM1062.3 1111.6h1.0v21.8h-1.0zM1087.5 1111.6h1.0v21.8h-1.0zM1090.5 1111.6h1.0v21.8h-1.0zM1107.3 1111.6h1.0v21.8h-1.0zM1109.5 1111.6h1.0v21.8h-1.0zM1113.3 1111.6h1.0v21.8h-1.0zM1171.7 1111.6h1.0v21.8h-1.0zM1174.5 1111.6h1.0v21.8h-1.0zM1177.2 1111.6h1.0v21.8h-1.0zM1258.2 1111.6h3.1v21.8h-3.1z"/>
<path fill="#bfe0a0" d="M1096.5 1111.6h1.0v21.8h-1.0zM1099.5 1111.6h1.0v21.8h-1.0zM1104.2 1111.6h1.0v21.8h-1.0zM1119.5 1111.6h1.0v21.8h-1.0zM1131.5 1111.6h1.0v21.8h-1.0zM1152.9 1111.6h1.0v21.8h-1.0zM1156.5 1111.6h1.0v21.8h-1.0zM1162.0 1111.6h1.0v21.8h-1.0zM1186.3 1111.6h1.0v21.8h-1.0zM1190.8 1111.6h1.0v21.8h-1.0zM1204.5 1111.6h1.0v21.8h-1.0zM1216.1 1111.6h1.0v21.8h-1.0zM1227.3 1111.6h1.0v21.8h-1.0zM1231.9 1111.6h1.0v21.8h-1.0zM1241.0 1111.6h1.0v21.8h-1.0zM1244.5 1111.6h1.0v21.8h-1.0zM1248.5 1111.6h1.0v21.8h-1.0zM1270.8 1111.6h1.0v21.8h-1.0z"/>
<path fill="#7b35a8" d="M1018.9 1133.4h1.4v24.4h-1.4zM1028.0 1133.4h1.4v24.4h-1.4zM1031.7 1133.4h1.4v24.4h-1.4zM1035.0 1133.4h1.4v24.4h-1.4zM1040.2 1133.4h1.4v24.4h-1.4zM1046.3 1133.4h1.4v24.4h-1.4zM1050.8 1133.4h1.4v24.4h-1.4zM1058.4 1133.4h1.4v24.4h-1.4zM1066.0 1133.4h1.4v24.4h-1.4zM1079.7 1133.4h1.4v24.4h-1.4zM1082.7 1133.4h1.4v24.4h-1.4zM1098.6 1133.4h1.4v24.4h-1.4zM1107.1 1133.4h1.4v24.4h-1.4zM1123.8 1133.4h1.4v24.4h-1.4zM1133.8 1133.4h1.4v24.4h-1.4zM1141.1 1133.4h1.4v24.4h-1.4zM1155.1 1133.4h1.4v24.4h-1.4zM1161.0 1133.4h2.0v24.4h-2.0zM1175.5 1133.4h1.4v24.4h-1.4zM1179.1 1133.4h1.4v24.4h-1.4zM1189.8 1133.4h4.6v24.4h-4.6zM1218.0 1133.4h1.4v24.4h-1.4zM1229.3 1133.4h3.1v24.4h-3.1zM1237.2 1133.4h1.4v24.4h-1.4zM1246.3 1133.4h1.4v24.4h-1.4zM1252.1 1133.4h3.1v24.4h-3.1z"/>
<line x1="921.4" y1="1133.4" x2="1282.5" y2="1133.4" stroke="#c8c8c8" stroke-width="1" />
<line x1="921.4" y1="1157.8" x2="1282.5" y2="1157.8" stroke="#c8c8c8" stroke-width="1" />
<rect x="1058.6" y="1157.8" width="1" height="24.9" fill="#f2b8a0"/>
<rect x="1252.5" y="1157.8" width="1" height="24.9" fill="#f2b8a0"/>
<rect x="921.4" y="1111.6" width="361.1" height="71.1" fill="none" stroke="#111" stroke-width="1.2"/>
<path d="M971,1111.6v4M971,1182.7v-4M1021,1111.6v4M1021,1182.7v-4M1071,1111.6v4M1071,1182.7v-4M1121,1111.6v4M1121,1182.7v-4M1171,1111.6v4M1171,1182.7v-4M1221,1111.6v4M1221,1182.7v-4M1271,1111.6v4M1271,1182.7v-4" stroke="#111" stroke-width="1"/>
<path d="M921.4,1147h4M1282.5,1147h-4" stroke="#111" stroke-width="1"/>
<line x1="899" y1="1121.3" x2="920.6" y2="1121.3" stroke="#6cb33f" stroke-width="1.3" />
<line x1="899" y1="1146.2" x2="920.6" y2="1146.2" stroke="#7b35a8" stroke-width="1.3" />
<line x1="899" y1="1170.8" x2="920.6" y2="1170.8" stroke="#e04b1e" stroke-width="1.3" />
<circle cx="985.2" cy="1091" r="7.7" fill="none" stroke="#111" stroke-width="1.3"/>
<path d="M989.2,1084.4L998.2,1071.6M989.8,1073.8L998.2,1071.6L1000.3,1079.3" fill="none" stroke="#111" stroke-width="1.3"/>
<text x="1003.3" y="1091.5" font-size="20" fill="#e8a030" textLength="15" lengthAdjust="spacingAndGlyphs">In</text>
<path d="M1004.9,1094.5L1010.5,1096.3L1016.1,1094.5L1010.5,1107.2z" fill="#111"/>
<path fill="#cfe6bd" d="M1011.4 1228.7h3.6v79.0h-3.6zM1017.0 1228.7h2.0v79.0h-2.0zM1024.0 1228.7h4.7v79.0h-4.7zM1032.3 1228.7h2.0v79.0h-2.0zM1034.5 1228.7h2.0v79.0h-2.0zM1036.9 1228.7h2.0v79.0h-2.0zM1039.9 1228.7h2.0v79.0h-2.0zM1048.5 1228.7h4.5v79.0h-4.5zM1058.0 1228.7h2.0v79.0h-2.0zM1061.8 1228.7h2.0v79.0h-2.0zM1067.3 1228.7h2.0v79.0h-2.0zM1077.4 1228.7h4.6v79.0h-4.6zM1087.0 1228.7h2.0v79.0h-2.0zM1090.0 1228.7h2.0v79.0h-2.0zM1096.0 1228.7h2.0v79.0h-2.0zM1099.0 1228.7h2.0v79.0h-2.0zM1103.7 1228.7h2.0v79.0h-2.0zM1106.8 1228.7h2.0v79.0h-2.0zM1109.0 1228.7h2.0v79.0h-2.0zM1112.8 1228.7h2.0v79.0h-2.0zM1119.0 1228.7h2.0v79.0h-2.0zM1131.0 1228.7h2.0v79.0h-2.0zM1152.4 1228.7h2.0v79.0h-2.0zM1156.0 1228.7h2.0v79.0h-2.0zM1161.5 1228.7h2.0v79.0h-2.0zM1171.2 1228.7h2.0v79.0h-2.0zM1174.0 1228.7h2.0v79.0h-2.0zM1176.7 1228.7h2.0v79.0h-2.0zM1185.8 1228.7h2.0v79.0h-2.0zM1190.3 1228.7h2.0v79.0h-2.0zM1204.0 1228.7h2.0v79.0h-2.0zM1215.6 1228.7h2.0v79.0h-2.0zM1226.8 1228.7h2.0v79.0h-2.0zM1231.4 1228.7h2.0v79.0h-2.0zM1240.5 1228.7h2.0v79.0h-2.0zM1244.0 1228.7h2.0v79.0h-2.0zM1248.0 1228.7h2.0v79.0h-2.0zM1258.2 1228.7h3.1v79.0h-3.1zM1270.3 1228.7h2.0v79.0h-2.0z"/>
<path fill="#c9b6dc" d="M1018.4 1228.7h2.4v79.0h-2.4zM1027.5 1228.7h2.4v79.0h-2.4zM1031.2 1228.7h2.4v79.0h-2.4zM1034.5 1228.7h2.4v79.0h-2.4zM1039.7 1228.7h2.4v79.0h-2.4zM1045.8 1228.7h2.4v79.0h-2.4zM1050.3 1228.7h2.4v79.0h-2.4zM1057.9 1228.7h2.4v79.0h-2.4zM1065.5 1228.7h2.4v79.0h-2.4zM1079.2 1228.7h2.4v79.0h-2.4zM1082.2 1228.7h2.4v79.0h-2.4zM1098.1 1228.7h2.4v79.0h-2.4zM1106.6 1228.7h2.4v79.0h-2.4zM1123.3 1228.7h2.4v79.0h-2.4zM1133.3 1228.7h2.4v79.0h-2.4zM1140.6 1228.7h2.4v79.0h-2.4zM1154.6 1228.7h2.4v79.0h-2.4zM1160.8 1228.7h2.4v79.0h-2.4zM1175.0 1228.7h2.4v79.0h-2.4zM1178.6 1228.7h2.4v79.0h-2.4zM1189.8 1228.7h4.6v79.0h-4.6zM1217.5 1228.7h2.4v79.0h-2.4zM1229.3 1228.7h3.1v79.0h-3.1zM1236.7 1228.7h2.4v79.0h-2.4zM1245.8 1228.7h2.4v79.0h-2.4zM1252.1 1228.7h3.1v79.0h-3.1z"/>
<path d="M922.8 1302.5l2.3 0.1 2.3 0.9 2-1.1 2-5.5 2 1.3 2-1.6 2.1-0.9 2-1 2 1.1 2.1 0.5 2 1.3 1.9-0.1 1.9-0.6 1.9-1.4 1.9 0.8 1.9-0.3 1.9 0.6 1.9 0.6 1.9 0.9 1.9-2.2 1.9 0 1.9-1.6 1.9-1.5 1.9 1.7 1.9 0.9 1.9 0 1.9-0.6 1.9 0 1.9-0.7 1.9 1.2 1.9-1.8 1.9 1.2 1.9-1.2 1.9 2.3 1.9 1.6 1.8-0.9 1.8-1.7 1.9 0.4 1.8 0.5 1.8-0.4 2 0.3 2.1 1 2 0.4 3 8.3 1.8 1 1.8 0.7 1.9 0.3 1.8-1.1 1.8 0.5 2 0.7 2.1-2.8 2 0.4 2-1.4 2.1-0.6 2-1.1 1.8 1.1 1.8 1.2 1.9 0.6 1.8 1.4 1.8 0 2.3 2.6 2.3 1.3 1.9-1.7 1.9-1.6 1.9-0.4 1.9-1 1.8 0.1 1.8 0.4 1.9 0.5 1.8 2.3 1.8 0.6 1.8-1.7 1.8-0.8 1.9-0.9 1.8-2 1.8-0.8 1.8 0 1.8-0.8 1.8-0.8 1.7-2 1.8-0.6 1.8-1.4 1.9 0.4 1.8 2.5 1.9 1.7 1.9 0.3 1.9 0.6 1.9 3.9 1.9 2.1 1.9-0.2 1.9-1.7 1.9-0.2 1.9-3.1 1.9-2.4 1.8 0.6 1.9 2.2 1.8 2.2 1.9 1.5 1.8-0.3 1.7-1 1.8-0.6 1.7 0.2 1.7 0.2 1.7-1.1 1.8-0.8 1.7-0.3 1.8 0.9 1.8-1.4 1.9 0.5 1.8-2.2 1.8-2.2 1.8 0.4 1.9-0.5 1.8 0 1.9 0.7 1.8-1.5 1.8 1.2 1.8 2.3 1.9 0.8 1.8 0.9 1.8 0.6 1.8-0.1 1.8-1.7 1.9-0.2 1.8-1.2 1.8-0.7 1.7 0.6 1.8-0.5 1.7 0.4 1.8-2.2 1.7 1 1.8-0.1 1.7-0.5 1.7-0.3 1.8 0.1 1.7 1.2 1.7 1.2 1.7 0.3 1.8 1.3 1.7-0.8 1.7 1.4 1.7-0.2 1.7 1.7 1.8 0.5 1.7 3.4 1.7-2.1 1.7 2.8 1.7 0 1.9-0.5 1.9-4.2 1.9-1.9 1.9-2 1.7 1.3 1.8 0.6 1.7 0.8 1.7 0.4 1.7 0.1 1.8 1.2 1.7 1.6 1.7-1 1.8-2 1.7-0.9 1.8-1.4 1.7-2.6 1.8-1.1 1.7 0.8 1.8-0.3 1.8-1.8 1.9-0.4 1.8-0.9 1.8 1.5 1.8-0.6 1.8 0.3 1.9 0.4 1.8 2.9 1.8-0.4 1.7 0.7 1.8-0.5 1.7 1.7 1.8 0.2 1.7 0.1 1.8 0.8 1.7 0.5 1.8 0.1 1.8-0.6 1.9-3.4 1.8 0.6 1.8-0.9 1.9 1.4 1.9 1.5 1.9 0.8 1.9 0.2" stroke="#111" stroke-width="1.2" fill="none" stroke-linejoin="round" />
<rect x="921.3" y="1228.7" width="360.2" height="79" fill="none" stroke="#111" stroke-width="1.2"/>
<path d="M921.3,1268.8h4M1281.5,1268.8h-4" stroke="#111" stroke-width="1"/>
<path d="M971,1228.7v4M971,1307.7v-4M1021,1228.7v4M1021,1307.7v-4M1071,1228.7v4M1071,1307.7v-4M1121,1228.7v4M1121,1307.7v-4M1171,1228.7v4M1171,1307.7v-4M1221,1228.7v4M1221,1307.7v-4M1271,1228.7v4M1271,1307.7v-4" stroke="#111" stroke-width="1"/>
<text x="914.6" y="1329" font-size="15">time (s)</text>
<text x="1023.1" y="1329" font-size="15" text-anchor="middle">200</text>
<text x="1121.3" y="1329" font-size="15" text-anchor="middle">400</text>
<text x="1219.1" y="1329" font-size="15" text-anchor="middle">600</text>
<text x="45" y="1406" font-size="34" font-weight="bold">j</text>
<rect x="168" y="1367.5" width="194.5" height="60" fill="#e6e7e8"/>
<text x="183" y="1394.3" font-size="20" fill="#1a1a1a">day 1</text>
<text x="183" y="1418.3" font-size="20" fill="#1a1a1a">oil</text>
<line x1="373.5" y1="1391" x2="508" y2="1391" stroke="#111" stroke-width="1.3" />
<path d="M518,1391L506,1386L506,1396z" fill="#111"/>
<rect x="554.3" y="1369.3" width="199.7" height="59.7" fill="#e6e7e8"/>
<text x="569.3" y="1396.1" font-size="20" fill="#1a1a1a">day 2</text>
<text x="569.3" y="1420.1" font-size="20" fill="#1a1a1a">oil</text>
<line x1="767" y1="1393.3" x2="928" y2="1393.3" stroke="#111" stroke-width="1.3" />
<path d="M938,1393.3L926,1388.3L926,1398.3z" fill="#111"/>
<rect x="959.7" y="1367.3" width="201" height="60.5" fill="#f8e9e8"/>
<text x="974.7" y="1394.1" font-size="20" fill="#da7b70">day 3</text>
<text x="974.7" y="1418.1" font-size="20" fill="#da7b70">oil + E|P</text>
<path fill="#6cb33f" d="M200.4 1475.6h3.8v19.4h-3.8z"/>
<path fill="#93c96c" d="M207.2 1475.6h1.0v19.4h-1.0zM212.5 1475.6h1.0v19.4h-1.0zM215.3 1475.6h1.0v19.4h-1.0zM220.7 1475.6h1.0v19.4h-1.0zM223.4 1475.6h1.0v19.4h-1.0zM240.9 1475.6h1.1v19.4h-1.1zM244.9 1475.6h1.0v19.4h-1.0zM263.8 1475.6h1.0v19.4h-1.0zM265.5 1475.6h1.0v19.4h-1.0zM268.4 1475.6h1.0v19.4h-1.0zM340.7 1475.6h1.0v19.4h-1.0zM343.4 1475.6h1.0v19.4h-1.0zM346.1 1475.6h1.0v19.4h-1.0zM351.0 1475.6h1.0v19.4h-1.0zM387.9 1475.6h1.0v19.4h-1.0zM390.6 1475.6h1.0v19.4h-1.0zM416.2 1475.6h1.0v19.4h-1.0z"/>
<path fill="#bfe0a0" d="M227.4 1475.6h1.0v19.4h-1.0zM230.1 1475.6h1.0v19.4h-1.0zM255.7 1475.6h1.0v19.4h-1.0zM290.8 1475.6h1.0v19.4h-1.0zM294.8 1475.6h1.0v19.4h-1.0zM314.3 1475.6h1.0v19.4h-1.0zM317.8 1475.6h1.0v19.4h-1.0zM325.9 1475.6h1.0v19.4h-1.0zM328.6 1475.6h1.0v19.4h-1.0zM348.5 1475.6h1.0v19.4h-1.0zM356.9 1475.6h1.0v19.4h-1.0zM382.5 1475.6h1.0v19.4h-1.0zM402.2 1475.6h1.0v19.4h-1.0zM404.5 1475.6h1.0v19.4h-1.0zM406.8 1475.6h1.0v19.4h-1.0zM436.5 1475.6h1.0v19.4h-1.0zM439.2 1475.6h1.0v19.4h-1.0zM452.7 1475.6h1.0v19.4h-1.0zM456.2 1475.6h1.0v19.4h-1.0z"/>
<path fill="#7b35a8" d="M208.3 1495.0h1.4v24.3h-1.4zM214.3 1495.0h1.4v24.3h-1.4zM221.3 1495.0h1.4v24.3h-1.4zM228.6 1495.0h1.4v24.3h-1.4zM240.9 1495.0h3.7v24.3h-3.7zM265.7 1495.0h2.1v24.3h-2.1zM291.9 1495.0h1.4v24.3h-1.4zM315.6 1495.0h1.4v24.3h-1.4zM327.0 1495.0h1.4v24.3h-1.4zM341.0 1495.0h1.4v24.3h-1.4zM347.2 1495.0h1.4v24.3h-1.4zM351.4 1495.0h1.4v24.3h-1.4zM383.1 1495.0h1.4v24.3h-1.4zM389.1 1495.0h1.4v24.3h-1.4zM390.4 1495.0h1.4v24.3h-1.4zM404.6 1495.0h1.4v24.3h-1.4zM437.8 1495.0h3.2v24.3h-3.2z"/>
<path fill="#c9a8dc" d="M454.3 1495.0h1.4v24.3h-1.4z"/>
<line x1="126.7" y1="1495" x2="466.1" y2="1495" stroke="#c8c8c8" stroke-width="1" />
<line x1="126.7" y1="1519.3" x2="466.1" y2="1519.3" stroke="#c8c8c8" stroke-width="1" />
<rect x="126.7" y="1475.6" width="339.4" height="67.9" fill="none" stroke="#111" stroke-width="1.2"/>
<path d="M183.4,1475.6v4M183.4,1543.5v-4M239.5,1475.6v4M239.5,1543.5v-4M295.6,1475.6v4M295.6,1543.5v-4M351.7,1475.6v4M351.7,1543.5v-4M407.8,1475.6v4M407.8,1543.5v-4M463.9,1475.6v4M463.9,1543.5v-4" stroke="#111" stroke-width="1"/>
<path d="M126.7,1508h4M466.1,1508h-4" stroke="#111" stroke-width="1"/>
<circle cx="175.3" cy="1457.5" r="7.7" fill="none" stroke="#111" stroke-width="1.3"/>
<path d="M179.3,1450.9L188.3,1438.1M179.9,1440.3L188.3,1438.1L190.4,1445.8" fill="none" stroke="#111" stroke-width="1.3"/>
<text x="193" y="1458" font-size="20" fill="#e8a030" textLength="15" lengthAdjust="spacingAndGlyphs">In</text>
<path d="M194.4,1462.5L200,1464.3L205.6,1462.5L200,1475.2z" fill="#111"/>
<text x="114.5" y="1490.5" font-size="20" text-anchor="end" fill="#6fb56a">male sniff</text>
<text x="114.5" y="1514.5" font-size="20" text-anchor="end" fill="#7232a2">mount</text>
<text x="114.5" y="1539" font-size="20" text-anchor="end" fill="#d0552e">intromission</text>
<line x1="116.5" y1="1484" x2="121.5" y2="1484" stroke="#6fb56a" stroke-width="1.2" />
<line x1="116.5" y1="1508" x2="121.5" y2="1508" stroke="#7232a2" stroke-width="1.2" />
<line x1="116.5" y1="1532.5" x2="121.5" y2="1532.5" stroke="#d0552e" stroke-width="1.2" />
<text x="134" y="1576" font-size="20" textLength="602.5" lengthAdjust="spacingAndGlyphs">int. dimension of mouse 4 after OVX from hormone priming (day 3)</text>
<path fill="#cfe6bd" d="M200.4 1590.4h3.8v82.4h-3.8zM206.7 1590.4h2.0v82.4h-2.0zM212.0 1590.4h2.0v82.4h-2.0zM214.8 1590.4h2.0v82.4h-2.0zM220.2 1590.4h2.0v82.4h-2.0zM222.9 1590.4h2.0v82.4h-2.0zM226.9 1590.4h2.0v82.4h-2.0zM229.6 1590.4h2.0v82.4h-2.0zM240.4 1590.4h2.0v82.4h-2.0zM244.4 1590.4h2.0v82.4h-2.0zM255.2 1590.4h2.0v82.4h-2.0zM263.3 1590.4h2.0v82.4h-2.0zM265.0 1590.4h2.0v82.4h-2.0zM267.9 1590.4h2.0v82.4h-2.0zM290.3 1590.4h2.0v82.4h-2.0zM294.3 1590.4h2.0v82.4h-2.0zM313.8 1590.4h2.0v82.4h-2.0zM317.3 1590.4h2.0v82.4h-2.0zM325.4 1590.4h2.0v82.4h-2.0zM328.1 1590.4h2.0v82.4h-2.0zM340.2 1590.4h2.0v82.4h-2.0zM342.9 1590.4h2.0v82.4h-2.0zM345.6 1590.4h2.0v82.4h-2.0zM348.0 1590.4h2.0v82.4h-2.0zM350.5 1590.4h2.0v82.4h-2.0zM356.4 1590.4h2.0v82.4h-2.0zM382.0 1590.4h2.0v82.4h-2.0zM387.4 1590.4h2.0v82.4h-2.0zM390.1 1590.4h2.0v82.4h-2.0zM401.7 1590.4h2.0v82.4h-2.0zM404.0 1590.4h2.0v82.4h-2.0zM406.3 1590.4h2.0v82.4h-2.0zM415.7 1590.4h2.0v82.4h-2.0zM436.0 1590.4h2.0v82.4h-2.0zM438.7 1590.4h2.0v82.4h-2.0zM452.2 1590.4h2.0v82.4h-2.0zM455.7 1590.4h2.0v82.4h-2.0z"/>
<path fill="#c8bcd6" d="M207.7 1590.4h2.6v82.4h-2.6zM213.7 1590.4h2.6v82.4h-2.6zM220.7 1590.4h2.6v82.4h-2.6zM228.0 1590.4h2.6v82.4h-2.6zM240.9 1590.4h3.7v82.4h-3.7zM265.4 1590.4h2.6v82.4h-2.6zM291.3 1590.4h2.6v82.4h-2.6zM315.0 1590.4h2.6v82.4h-2.6zM326.4 1590.4h2.6v82.4h-2.6zM340.4 1590.4h2.6v82.4h-2.6zM346.6 1590.4h2.6v82.4h-2.6zM350.8 1590.4h2.6v82.4h-2.6zM382.5 1590.4h2.6v82.4h-2.6zM388.5 1590.4h2.6v82.4h-2.6zM389.8 1590.4h2.6v82.4h-2.6zM404.0 1590.4h2.6v82.4h-2.6zM437.8 1590.4h3.2v82.4h-3.2zM453.7 1590.4h2.6v82.4h-2.6z"/>
<path d="M129.0 1668.1l1.5-0.6 1.5-1.4 1.5 2.5 1.5-0.7 1.5 0 1.5-0.2 1.5 1.8 1.5-0.8 1.5 0.4 1.5-1.9 1.5-0.3 1.5-0.7 1.5 1 1.5-3.1 1.5 5.5 1.5-1.9 1.5-0.1 1.5 1 1.5-1.6 1.5 0.8 1.5 0.7 1.5-3 1.5 4.2 1.5-2 1.5 0.6 1.5-2.1 1.5 0.5 1.5 3 1.5-2.9 1.5 0.2 1.5 1.1 1.5 1.3 1.5-5 1.5 5 1.5-1.5 1.5 0.8 1.5-2.5 1.5 1.7 1.5 1.7 1.5-2.2 1.5-0.7 1.5 0.3 1.5-0.2 1.5 1.7 1.5-0.7 1.5-0.9 1.5 1.6 1.5-2.4 1.5-0.4 1.5 5 1.5-4 1.5 2.4 1.5-4.3 1.5-3.5 1.5 0.1 1.5 0.8 1.5 0.7 1.5-1.7 1.5-0.9 1.5 4.3 1.5 3.5 1.5-5.9 1.5-2.5 1.5 2.8 1.5 2.9 1.5 1.8 1.5-4.9 1.5-0.9 1.5 0.5 1.5 1.4 1.5 4.4 1.5-2.2 1.5 2.7 1.5-1.4 1.5-0.8 1.5 0 1.5-3.4 1.5 0 1.5 3.3 1.5 0.2 1.5 3 1.5-0.8 1.5-1.9 1.5-1 1.5 2.1 1.5-0.2 1.5 1.3 1.5-2.4 1.5 0.2 1.5 1.5 1.5-1.6 1.5-1.8 1.5-2.5 1.5-1.1 1.5 1.5 1.5 4.8 1.5-0.6 1.5 1.2 1.5-3.8 1.5 3.4 1.5 0.2 1.5-0.8 1.5 1.4 1.5-0.5 1.5 0.1 1.5 1.4 1.5-0.1 1.5-0.9 1.5-3.6 1.5-3.5 1.5 1 1.5 3 1.5 0.9 1.5 2 1.5 0.7 1.5-1.7 1.5-0.9 1.5 2.2 1.5-1.7 1.5-1 1.5 1.6 1.5-1.6 1.5 2.2 1.5-2.2 1.5-2.1 1.5-1.4 1.5 1.3 1.5 1.8 1.5-1 1.5 2.6 1.5-1.2 1.5 0.9 1.5-2.5 1.5-2.5 1.5 2.7 1.5 2.8 1.5 1.2 1.5-1.2 1.5 1.7 1.5-1.8 1.5-2.2 1.5-1.5 1.5-0.6 1.5-0.8 1.5 0.4 1.5 2.6 1.5-4 1.5 0.2 1.5-1 1.5 0.7 1.5 3.6 1.5 0.5 1.5 3.3 1.5-0.1 1.5-1.6 1.5 1.4 1.5 0.5 1.5-1.8 1.5 2.5 1.5-2.9 1.5 2.9 1.5-0.7 1.5-0.4 1.5-1.4 1.5 0 1.5-1.8 1.5 2.8 1.5-0.3 1.5-0.2 1.5-2.3 1.5-3.8 1.5 0.4 1.5 3.9 1.5-3.8 1.5-5.5 1.5-2.4 1.5 8.1 1.5 2.8 1.5 5.3 1.5-3.3 1.5 0.5 1.5 0.7 1.5-1.7 1.5-3.2 1.5-2.9 1.5 0.2 1.5 4 1.5 4 1.5 0.3 1.5-0.4 1.5 0.7 1.5-3.9 1.5 2 1.5 0.1 1.5-0.6 1.5 1.9 1.5-1.4 1.5-0.6 1.5 2.6 1.5-2 1.5 0.5 1.5-1.6 1.5 3.1 1.5-1.1 1.5 1.6 1.5 0 1.5-4.7 1.5-4.3 1.5 0.6 1.5 6.5 1.5-0.5 1.5 1.5 1.5-0.5 1.5-4.6 1.5 4.5 1.5-0.5 1.5-2 1.5-3.8 1.5-0.3 1.5 1.5 1.5 4.7 1.5-0.5 1.5 0.9 1.5 1.9" stroke="#111" stroke-width="1.2" fill="none" stroke-linejoin="round" />
<rect x="127.9" y="1590.4" width="339.1" height="82.4" fill="none" stroke="#111" stroke-width="1.2"/>
<path d="M127.9,1631.9h4M467,1631.9h-4" stroke="#111" stroke-width="1"/>
<path d="M183.4,1590.4v4M183.4,1672.8v-4M239.5,1590.4v4M239.5,1672.8v-4M295.6,1590.4v4M295.6,1672.8v-4M351.7,1590.4v4M351.7,1672.8v-4M407.8,1590.4v4M407.8,1672.8v-4M463.9,1590.4v4M463.9,1672.8v-4" stroke="#111" stroke-width="1"/>
<text x="105" y="1603.1" font-size="20">5</text>
<text x="97.4" y="1672.5" font-size="20">-5</text>
<text x="134.5" y="1694.1" font-size="15">time (s)</text>
<text x="231.7" y="1694.1" font-size="15" text-anchor="middle">200</text>
<text x="342.5" y="1694.1" font-size="15" text-anchor="middle">400</text>
<text x="454.6" y="1694.1" font-size="15" text-anchor="middle">600</text>
<path fill="#6cb33f" d="M588.5 1475.5h9.0v21.6h-9.0zM716.0 1475.5h3.0v21.6h-3.0z"/>
<path fill="#93c96c" d="M600.5 1475.5h3.0v21.6h-3.0zM606.0 1475.5h1.0v21.6h-1.0zM611.0 1475.5h2.0v21.6h-2.0zM614.5 1475.5h1.0v21.6h-1.0zM616.5 1475.5h1.0v21.6h-1.0zM619.5 1475.5h1.0v21.6h-1.0zM624.0 1475.5h1.0v21.6h-1.0zM626.5 1475.5h1.0v21.6h-1.0zM628.5 1475.5h1.0v21.6h-1.0zM653.0 1475.5h3.0v21.6h-3.0zM660.1 1475.5h1.0v21.6h-1.0zM665.2 1475.5h1.0v21.6h-1.0zM691.5 1475.5h1.0v21.6h-1.0zM693.5 1475.5h1.0v21.6h-1.0zM696.1 1475.5h1.0v21.6h-1.0zM731.0 1475.5h3.0v21.6h-3.0zM774.1 1475.5h1.0v21.6h-1.0zM864.6 1475.5h4.6v21.6h-4.6z"/>
<path fill="#bfe0a0" d="M637.5 1475.5h1.0v21.6h-1.0zM676.5 1475.5h1.0v21.6h-1.0zM702.1 1475.5h1.0v21.6h-1.0zM705.5 1475.5h1.0v21.6h-1.0zM708.5 1475.5h1.0v21.6h-1.0zM711.1 1475.5h1.0v21.6h-1.0zM739.5 1475.5h1.0v21.6h-1.0zM756.1 1475.5h1.0v21.6h-1.0zM762.1 1475.5h1.0v21.6h-1.0zM781.5 1475.5h1.0v21.6h-1.0zM790.5 1475.5h1.0v21.6h-1.0zM793.5 1475.5h1.0v21.6h-1.0zM795.5 1475.5h1.0v21.6h-1.0zM798.1 1475.5h1.0v21.6h-1.0zM814.5 1475.5h1.0v21.6h-1.0zM823.5 1475.5h1.0v21.6h-1.0zM828.1 1475.5h1.0v21.6h-1.0z"/>
<path fill="#7b35a8" d="M598.3 1497.1h1.4v24.9h-1.4zM603.5 1497.1h3.0v24.9h-3.0zM613.5 1497.1h2.0v24.9h-2.0zM618.6 1497.1h1.4v24.9h-1.4zM624.8 1497.1h1.4v24.9h-1.4zM629.9 1497.1h1.4v24.9h-1.4zM636.6 1497.1h3.0v24.9h-3.0zM653.7 1497.1h1.8v24.9h-1.8zM659.9 1497.1h1.4v24.9h-1.4zM665.3 1497.1h1.4v24.9h-1.4zM692.0 1497.1h1.6v24.9h-1.6zM697.3 1497.1h1.4v24.9h-1.4zM702.8 1497.1h1.4v24.9h-1.4zM706.3 1497.1h1.4v24.9h-1.4zM714.6 1497.1h3.0v24.9h-3.0zM731.9 1497.1h1.4v24.9h-1.4zM776.0 1497.1h2.5v24.9h-2.5zM781.3 1497.1h1.4v24.9h-1.4zM797.0 1497.1h1.4v24.9h-1.4zM815.0 1497.1h1.4v24.9h-1.4zM824.0 1497.1h1.4v24.9h-1.4zM864.8 1497.1h1.4v24.9h-1.4z"/>
<line x1="512.6" y1="1497.1" x2="871.3" y2="1497.1" stroke="#c8c8c8" stroke-width="1" />
<line x1="512.6" y1="1522" x2="871.3" y2="1522" stroke="#c8c8c8" stroke-width="1" />
<rect x="512.6" y="1475.5" width="358.7" height="68.4" fill="none" stroke="#111" stroke-width="1.2"/>
<path d="M571.1,1475.5v4M571.1,1543.9v-4M629.1,1475.5v4M629.1,1543.9v-4M687.1,1475.5v4M687.1,1543.9v-4M745.1,1475.5v4M745.1,1543.9v-4M803.1,1475.5v4M803.1,1543.9v-4M861.1,1475.5v4M861.1,1543.9v-4" stroke="#111" stroke-width="1"/>
<path d="M512.6,1509.4h4M871.3,1509.4h-4" stroke="#111" stroke-width="1"/>
<line x1="491" y1="1484.5" x2="511.4" y2="1484.5" stroke="#6cb33f" stroke-width="1.3" />
<line x1="491" y1="1509.4" x2="511.4" y2="1509.4" stroke="#7b35a8" stroke-width="1.3" />
<line x1="491" y1="1534" x2="511.4" y2="1534" stroke="#e04b1e" stroke-width="1.3" />
<circle cx="564.3" cy="1459.5" r="7.7" fill="none" stroke="#111" stroke-width="1.3"/>
<path d="M568.3,1452.9L577.3,1440.1M568.9,1442.3L577.3,1440.1L579.4,1447.8" fill="none" stroke="#111" stroke-width="1.3"/>
<text x="581.7" y="1460" font-size="20" fill="#e8a030" textLength="15" lengthAdjust="spacingAndGlyphs">In</text>
<path d="M582.9,1463.6L588.5,1465.4L594.1,1463.6L588.5,1476.3z" fill="#111"/>
<path fill="#cfe6bd" d="M588.5 1589.7h9.0v82.4h-9.0zM600.5 1589.7h3.0v82.4h-3.0zM605.5 1589.7h2.0v82.4h-2.0zM611.0 1589.7h2.0v82.4h-2.0zM614.0 1589.7h2.0v82.4h-2.0zM616.0 1589.7h2.0v82.4h-2.0zM619.0 1589.7h2.0v82.4h-2.0zM623.5 1589.7h2.0v82.4h-2.0zM626.0 1589.7h2.0v82.4h-2.0zM628.0 1589.7h2.0v82.4h-2.0zM637.0 1589.7h2.0v82.4h-2.0zM653.0 1589.7h3.0v82.4h-3.0zM659.6 1589.7h2.0v82.4h-2.0zM664.7 1589.7h2.0v82.4h-2.0zM676.0 1589.7h2.0v82.4h-2.0zM691.0 1589.7h2.0v82.4h-2.0zM693.0 1589.7h2.0v82.4h-2.0zM695.6 1589.7h2.0v82.4h-2.0zM701.6 1589.7h2.0v82.4h-2.0zM705.0 1589.7h2.0v82.4h-2.0zM708.0 1589.7h2.0v82.4h-2.0zM710.6 1589.7h2.0v82.4h-2.0zM716.0 1589.7h3.0v82.4h-3.0zM731.0 1589.7h3.0v82.4h-3.0zM739.0 1589.7h2.0v82.4h-2.0zM755.6 1589.7h2.0v82.4h-2.0zM761.6 1589.7h2.0v82.4h-2.0zM773.6 1589.7h2.0v82.4h-2.0zM781.0 1589.7h2.0v82.4h-2.0zM790.0 1589.7h2.0v82.4h-2.0zM793.0 1589.7h2.0v82.4h-2.0zM795.0 1589.7h2.0v82.4h-2.0zM797.6 1589.7h2.0v82.4h-2.0zM814.0 1589.7h2.0v82.4h-2.0zM823.0 1589.7h2.0v82.4h-2.0zM827.6 1589.7h2.0v82.4h-2.0zM864.6 1589.7h4.6v82.4h-4.6z"/>
<path fill="#c8bcd6" d="M597.7 1589.7h2.6v82.4h-2.6zM603.5 1589.7h3.0v82.4h-3.0zM613.2 1589.7h2.6v82.4h-2.6zM618.0 1589.7h2.6v82.4h-2.6zM624.2 1589.7h2.6v82.4h-2.6zM629.3 1589.7h2.6v82.4h-2.6zM636.6 1589.7h3.0v82.4h-3.0zM653.3 1589.7h2.6v82.4h-2.6zM659.3 1589.7h2.6v82.4h-2.6zM664.7 1589.7h2.6v82.4h-2.6zM691.5 1589.7h2.6v82.4h-2.6zM696.7 1589.7h2.6v82.4h-2.6zM702.2 1589.7h2.6v82.4h-2.6zM705.7 1589.7h2.6v82.4h-2.6zM714.6 1589.7h3.0v82.4h-3.0zM731.3 1589.7h2.6v82.4h-2.6zM776.0 1589.7h2.6v82.4h-2.6zM780.7 1589.7h2.6v82.4h-2.6zM796.4 1589.7h2.6v82.4h-2.6zM814.4 1589.7h2.6v82.4h-2.6zM823.4 1589.7h2.6v82.4h-2.6zM864.2 1589.7h2.6v82.4h-2.6z"/>
<path d="M512.8 1662.6l1.7-0.3 1.7 4 1.6-1.5 1.7-0.7 1.8 0.2 1.8-0.6 1.9 0.1 1.8 1.5 1.8-0.6 1.9 0.8 1.9-1.6 1.9-2.7 1.9-0.3 1.9 1 1.9 0.4 1.9 3.1 1.9 0.7 1.8 1.5 1.9-1.2 1.8 0.8 1.9 1.2 1.8 0.6 1.8-5.9 1.8-6.2 1.8-5.8 1.8 6 1.9 3.4 2 1.1 2 2.1 2 2.4 1.8 3.2 1.9-1.4 1.8 2.9 1.9 1.2 1.8-1.4 1.8 0.8 1.8-0.5 1.9-2.8 1.8-1.6 1.8 1.1 1.8-0.1 1.8 2.5 1.9-0.3 1.8-1.2 1.8 0.9 1.7-1.1 1.8 1.6 1.7 0 1.8-1.4 1.7-1.1 1.8 1.5 1.7-1 1.7 1.4 1.8-1.9 1.7 0.2 1.7-0.2 1.7-0.5 1.8 3.7 1.7-0.2 1.8-2.5 1.8 0.5 1.9-2.9 1.8 2.1 1.8 0.3 1.8-1.5 1.9-0.7 1.8 0.1 1.9 0 1.8-0.9 1.8 0.5 1.8 3.6 1.9 3.9 1.8 4.4 1.8 0.9 2-2.4 2.1-6.9 2-1.6 1.8-0.2 1.8-1.2 1.9-1 1.8-1.2 1.8-1.7 1.8 1.8 1.8-0.5 1.9-2.6 1.8-0.1 1.8-1.8 1.8 0.1 1.8 3.1 1.9 4.6 1.8 1 1.8-1 1.8 1.7 1.8 0.3 1.9 0.7 1.8 1.8 1.8-1.6 3.1-9.6 1.8 0.3 1.8 3.1 1.9 0.1 1.8-0.5 1.8-0.1 1.8 1.4 1.8 1.2 1.9-1.6 1.8 0.8 1.8 2.4 1.8-1.9 1.8-3 1.9-1.8 1.8-1.9 1.8-0.1 1.8 0 1.8-0.4 1.9 0.8 1.8 1.1 1.8-0.8 1.8 0.8 1.9-0.4 1.8 2.5 1.9 1.3 1.8-2.1 1.8 2.1 1.8 1.9 1.9 2.6 1.8 1.9 1.8 1.3 1.8 0.2 1.8-3.8 1.9-0.4 1.8-2.6 1.8-1.8 1.8 0.8 1.8 0.6 1.9-0.8 1.8 0.1 1.8-0.7 2-1.4 2.1-0.7 2-2.7 1.9 1 1.9-1.6 1.9-2.1 1.9-0.7 1.9 0.9 1.9 2.7 1.9 2.6 1.9 0.9 1.8-2.5 1.8-2.4 1.9 0.2 1.8-2.2 1.8-0.7 1.8 1.1 1.8 1.1 1.9 4.8 1.8 1 1.8 0.3 1.8-1.9 1.8-0.5 1.9-2.6 1.8-1.4 1.8-1.3 1.9-2.2 1.9-1.8 1.9 1.6 1.9-1.9 1.9 1.7 1.9 3.6 1.9 4.2 1.9 1.6 1.8-1.3 1.9 0.4 1.8-0.6 1.9 2.4 1.8-0.1 1.7-1.5 1.8 2.6 1.7-0.2 1.7-0.8 1.7 0.6 1.8 0.1 1.7 0.8 1.9 0.7 1.9 0.3 1.9 1.9 1.9-2.4 2.3-8.3 2.3-8.4 3-1 2.4 9.6" stroke="#111" stroke-width="1.2" fill="none" stroke-linejoin="round" />
<rect x="511.3" y="1589.7" width="358.7" height="82.4" fill="none" stroke="#111" stroke-width="1.2"/>
<path d="M511.3,1631.1h4M870,1631.1h-4" stroke="#111" stroke-width="1"/>
<path d="M571.1,1589.7v4M571.1,1672.1v-4M629.1,1589.7v4M629.1,1672.1v-4M687.1,1589.7v4M687.1,1672.1v-4M745.1,1589.7v4M745.1,1672.1v-4M803.1,1589.7v4M803.1,1672.1v-4M861.1,1589.7v4M861.1,1672.1v-4" stroke="#111" stroke-width="1"/>
<text x="490.6" y="1600.7" font-size="20">5</text>
<text x="483.6" y="1671.2" font-size="20">-5</text>
<text x="531" y="1693" font-size="15">time (s)</text>
<text x="629" y="1693" font-size="15" text-anchor="middle">200</text>
<text x="744.4" y="1693" font-size="15" text-anchor="middle">400</text>
<text x="856.9" y="1693" font-size="15" text-anchor="middle">600</text>
<path fill="#6cb33f" d="M971.6 1474.8h3.2v21.6h-3.2z"/>
<path fill="#93c96c" d="M976.2 1474.8h1.0v21.6h-1.0zM977.9 1474.8h1.0v21.6h-1.0zM980.9 1474.8h1.0v21.6h-1.0zM988.9 1474.8h1.0v21.6h-1.0zM1012.8 1474.8h1.0v21.6h-1.0zM1020.1 1474.8h1.0v21.6h-1.0zM1044.8 1474.8h1.0v21.6h-1.0zM1068.0 1474.8h1.0v21.6h-1.0zM1098.3 1474.8h1.0v21.6h-1.0zM1107.7 1474.8h1.0v21.6h-1.0zM1115.3 1474.8h1.0v21.6h-1.0zM1118.6 1474.8h1.0v21.6h-1.0zM1128.6 1474.8h1.0v21.6h-1.0zM1138.5 1474.8h1.0v21.6h-1.0zM1158.6 1474.8h1.0v21.6h-1.0zM1180.2 1474.8h1.0v21.6h-1.0zM1195.3 1474.8h1.0v21.6h-1.0zM1203.7 1474.8h1.0v21.6h-1.0zM1213.3 1474.8h1.0v21.6h-1.0zM1226.5 1474.8h1.0v21.6h-1.0zM1240.4 1474.8h1.0v21.6h-1.0zM1278.9 1474.8h1.0v21.6h-1.0z"/>
<path fill="#bfe0a0" d="M984.2 1474.8h1.0v21.6h-1.0zM994.1 1474.8h1.0v21.6h-1.0zM1003.2 1474.8h1.0v21.6h-1.0zM1006.8 1474.8h1.1v21.6h-1.1zM1010.3 1474.8h1.0v21.6h-1.0zM1017.3 1474.8h1.0v21.6h-1.0zM1035.7 1474.8h1.0v21.6h-1.0zM1055.3 1474.8h1.0v21.6h-1.0zM1071.5 1474.8h1.0v21.6h-1.0zM1084.9 1474.8h1.0v21.6h-1.0zM1094.7 1474.8h1.0v21.6h-1.0zM1103.6 1474.8h1.0v21.6h-1.0zM1126.3 1474.8h1.0v21.6h-1.0zM1149.1 1474.8h1.0v21.6h-1.0zM1154.9 1474.8h1.0v21.6h-1.0zM1168.8 1474.8h1.0v21.6h-1.0zM1174.7 1474.8h1.0v21.6h-1.0zM1184.6 1474.8h1.0v21.6h-1.0zM1193.1 1474.8h1.0v21.6h-1.0zM1218.7 1474.8h1.0v21.6h-1.0zM1233.4 1474.8h1.0v21.6h-1.0zM1250.3 1474.8h1.0v21.6h-1.0zM1258.4 1474.8h1.0v21.6h-1.0zM1265.0 1474.8h1.0v21.6h-1.0zM1267.2 1474.8h1.0v21.6h-1.0z"/>
<path fill="#a070c0" d="M977.0 1496.4h1.4v24.6h-1.4zM984.3 1496.4h1.4v24.6h-1.4zM994.6 1496.4h1.4v24.6h-1.4zM1003.3 1496.4h1.4v24.6h-1.4zM1017.4 1496.4h1.4v24.6h-1.4zM1036.2 1496.4h1.4v24.6h-1.4zM1055.5 1496.4h1.4v24.6h-1.4zM1072.1 1496.4h1.4v24.6h-1.4zM1094.6 1496.4h1.4v24.6h-1.4zM1106.7 1496.4h1.4v24.6h-1.4zM1126.6 1496.4h1.4v24.6h-1.4zM1138.9 1496.4h1.4v24.6h-1.4zM1149.2 1496.4h1.4v24.6h-1.4zM1158.9 1496.4h1.4v24.6h-1.4zM1175.0 1496.4h1.4v24.6h-1.4zM1184.8 1496.4h1.4v24.6h-1.4zM1207.9 1496.4h1.4v24.6h-1.4zM1219.3 1496.4h1.4v24.6h-1.4zM1234.0 1496.4h1.4v24.6h-1.4zM1241.0 1496.4h1.4v24.6h-1.4zM1250.5 1496.4h1.4v24.6h-1.4zM1258.5 1496.4h1.4v24.6h-1.4z"/>
<path fill="#c9a8dc" d="M1045.0 1496.4h1.4v24.6h-1.4zM1075.3 1496.4h1.4v24.6h-1.4zM1108.1 1496.4h1.4v24.6h-1.4zM1275.3 1496.4h1.4v24.6h-1.4z"/>
<path fill="#7b35a8" d="M1129.0 1496.4h1.4v24.6h-1.4zM1169.4 1496.4h1.4v24.6h-1.4zM1202.4 1496.4h1.4v24.6h-1.4z"/>
<path fill="#e04b1e" d="M985.4 1521.0h3.6v23.1h-3.6zM995.5 1521.0h2.3v23.1h-2.3zM1004.4 1521.0h2.4v23.1h-2.4zM1018.2 1521.0h2.4v23.1h-2.4zM1046.0 1521.0h3.6v23.1h-3.6zM1056.5 1521.0h2.8v23.1h-2.8zM1076.6 1521.0h4.6v23.1h-4.6zM1095.3 1521.0h3.5v23.1h-3.5zM1109.7 1521.0h5.9v23.1h-5.9zM1140.0 1521.0h1.9v23.1h-1.9zM1150.3 1521.0h1.9v23.1h-1.9zM1159.9 1521.0h2.9v23.1h-2.9zM1176.2 1521.0h3.4v23.1h-3.4zM1185.7 1521.0h2.5v23.1h-2.5zM1209.0 1521.0h4.0v23.1h-4.0zM1220.2 1521.0h3.4v23.1h-3.4zM1235.1 1521.0h3.2v23.1h-3.2zM1242.0 1521.0h2.6v23.1h-2.6zM1251.5 1521.0h2.5v23.1h-2.5zM1259.6 1521.0h2.2v23.1h-2.2zM1276.5 1521.0h2.9v23.1h-2.9z"/>
<line x1="926.7" y1="1496.4" x2="1285.9" y2="1496.4" stroke="#c8c8c8" stroke-width="1" />
<line x1="926.7" y1="1521" x2="1285.9" y2="1521" stroke="#c8c8c8" stroke-width="1" />
<rect x="926.7" y="1474.8" width="359.2" height="69.3" fill="none" stroke="#111" stroke-width="1.2"/>
<path d="M996.7,1474.8v4M996.7,1544.1v-4M1067.2,1474.8v4M1067.2,1544.1v-4M1137.7,1474.8v4M1137.7,1544.1v-4M1208.2,1474.8v4M1208.2,1544.1v-4M1278.7,1474.8v4M1278.7,1544.1v-4" stroke="#111" stroke-width="1"/>
<path d="M926.7,1509h4M1285.9,1509h-4" stroke="#111" stroke-width="1"/>
<line x1="905.7" y1="1484.4" x2="925.2" y2="1484.4" stroke="#6cb33f" stroke-width="1.3" />
<line x1="905.7" y1="1509" x2="925.2" y2="1509" stroke="#7b35a8" stroke-width="1.3" />
<line x1="905.7" y1="1533.2" x2="925.2" y2="1533.2" stroke="#e04b1e" stroke-width="1.3" />
<circle cx="947.7" cy="1459.5" r="7.7" fill="none" stroke="#111" stroke-width="1.3"/>
<path d="M951.7,1452.9L960.7,1440.1M952.3,1442.3L960.7,1440.1L962.8,1447.8" fill="none" stroke="#111" stroke-width="1.3"/>
<text x="964.5" y="1460" font-size="20" fill="#e8a030" textLength="15" lengthAdjust="spacingAndGlyphs">In</text>
<path d="M966.8,1463.6L972.4,1465.4L978,1463.6L972.4,1476.3z" fill="#111"/>
<path fill="#d9eecb" d="M971.6 1589.7h3.2v84.0h-3.2zM975.9 1589.7h1.6v84.0h-1.6zM977.6 1589.7h1.6v84.0h-1.6zM980.6 1589.7h1.6v84.0h-1.6zM983.9 1589.7h1.6v84.0h-1.6zM988.6 1589.7h1.6v84.0h-1.6zM993.8 1589.7h1.6v84.0h-1.6zM1002.9 1589.7h1.6v84.0h-1.6zM1006.6 1589.7h1.6v84.0h-1.6zM1010.0 1589.7h1.6v84.0h-1.6zM1012.5 1589.7h1.6v84.0h-1.6zM1017.0 1589.7h1.6v84.0h-1.6zM1019.8 1589.7h1.6v84.0h-1.6zM1035.4 1589.7h1.6v84.0h-1.6zM1044.5 1589.7h1.6v84.0h-1.6zM1055.0 1589.7h1.6v84.0h-1.6zM1067.7 1589.7h1.6v84.0h-1.6zM1071.2 1589.7h1.6v84.0h-1.6zM1084.6 1589.7h1.6v84.0h-1.6zM1094.4 1589.7h1.6v84.0h-1.6zM1098.0 1589.7h1.6v84.0h-1.6zM1103.3 1589.7h1.6v84.0h-1.6zM1107.4 1589.7h1.6v84.0h-1.6zM1115.0 1589.7h1.6v84.0h-1.6zM1118.3 1589.7h1.6v84.0h-1.6zM1126.0 1589.7h1.6v84.0h-1.6zM1128.3 1589.7h1.6v84.0h-1.6zM1138.2 1589.7h1.6v84.0h-1.6zM1148.8 1589.7h1.6v84.0h-1.6zM1154.6 1589.7h1.6v84.0h-1.6zM1158.3 1589.7h1.6v84.0h-1.6zM1168.5 1589.7h1.6v84.0h-1.6zM1174.4 1589.7h1.6v84.0h-1.6zM1179.9 1589.7h1.6v84.0h-1.6zM1184.3 1589.7h1.6v84.0h-1.6zM1192.8 1589.7h1.6v84.0h-1.6zM1195.0 1589.7h1.6v84.0h-1.6zM1203.4 1589.7h1.6v84.0h-1.6zM1213.0 1589.7h1.6v84.0h-1.6zM1218.4 1589.7h1.6v84.0h-1.6zM1226.2 1589.7h1.6v84.0h-1.6zM1233.1 1589.7h1.6v84.0h-1.6zM1240.1 1589.7h1.6v84.0h-1.6zM1250.0 1589.7h1.6v84.0h-1.6zM1258.1 1589.7h1.6v84.0h-1.6zM1264.7 1589.7h1.6v84.0h-1.6zM1266.9 1589.7h1.6v84.0h-1.6zM1278.6 1589.7h1.6v84.0h-1.6z"/>
<path fill="#dccfe9" d="M976.9 1589.7h1.6v84.0h-1.6zM984.2 1589.7h1.6v84.0h-1.6zM994.5 1589.7h1.6v84.0h-1.6zM1003.2 1589.7h1.6v84.0h-1.6zM1017.3 1589.7h1.6v84.0h-1.6zM1036.1 1589.7h1.6v84.0h-1.6zM1044.9 1589.7h1.6v84.0h-1.6zM1055.4 1589.7h1.6v84.0h-1.6zM1072.0 1589.7h1.6v84.0h-1.6zM1075.2 1589.7h1.6v84.0h-1.6zM1094.5 1589.7h1.6v84.0h-1.6zM1106.6 1589.7h1.6v84.0h-1.6zM1108.0 1589.7h1.6v84.0h-1.6zM1126.5 1589.7h1.6v84.0h-1.6zM1128.9 1589.7h1.6v84.0h-1.6zM1138.8 1589.7h1.6v84.0h-1.6zM1149.1 1589.7h1.6v84.0h-1.6zM1158.8 1589.7h1.6v84.0h-1.6zM1169.3 1589.7h1.6v84.0h-1.6zM1174.9 1589.7h1.6v84.0h-1.6zM1184.7 1589.7h1.6v84.0h-1.6zM1202.3 1589.7h1.6v84.0h-1.6zM1207.8 1589.7h1.6v84.0h-1.6zM1219.2 1589.7h1.6v84.0h-1.6zM1233.9 1589.7h1.6v84.0h-1.6zM1240.9 1589.7h1.6v84.0h-1.6zM1250.4 1589.7h1.6v84.0h-1.6zM1258.4 1589.7h1.6v84.0h-1.6zM1275.2 1589.7h1.6v84.0h-1.6z"/>
<path fill="#ebc7bb" d="M985.4 1589.7h3.6v84.0h-3.6zM995.5 1589.7h2.3v84.0h-2.3zM1004.4 1589.7h2.4v84.0h-2.4zM1018.2 1589.7h2.4v84.0h-2.4zM1046.0 1589.7h3.6v84.0h-3.6zM1056.5 1589.7h2.8v84.0h-2.8zM1076.6 1589.7h4.6v84.0h-4.6zM1095.3 1589.7h3.5v84.0h-3.5zM1109.7 1589.7h5.9v84.0h-5.9zM1140.0 1589.7h1.9v84.0h-1.9zM1150.3 1589.7h1.9v84.0h-1.9zM1159.9 1589.7h2.9v84.0h-2.9zM1176.2 1589.7h3.4v84.0h-3.4zM1185.7 1589.7h2.5v84.0h-2.5zM1209.0 1589.7h4.0v84.0h-4.0zM1220.2 1589.7h3.4v84.0h-3.4zM1235.1 1589.7h3.2v84.0h-3.2zM1242.0 1589.7h2.6v84.0h-2.6zM1251.5 1589.7h2.5v84.0h-2.5zM1259.6 1589.7h2.2v84.0h-2.2zM1276.5 1589.7h2.9v84.0h-2.9z"/>
<path d="M925.3 1661.9l1.9 1.7 1.9 5.3 2-6.1 1.9-6.4 1.9 3.5 2 3.5 1.9 2.1 1.9 2.2 1.9-5.3 2-6.8 1.9-1.5 1.9-2.8 2 6.3 1.9 6.4 1.9-4.4 2-4.2 3-7.8 2.4 6 2.3 6.2 1.9 0.2 1.9-1.7 2 0.2 1.9-0.4 1.9 2.5 2 0.1 1.9 0.9 1.9-0.7 2-1 1.9-0.2 1.9-0.2 1.9 0.4 2-1.4 1.9 2.6 1.9 0.2 2 0.6 1.9-0.2 1.9-1.2 2-0.2 1.9 0.2 1.9-1 2-2.7 1.9-0.8 1.9-0.5 1.9-0.8 2-3.7 1.9-5.3 1.9-1 2-0.2 1.9-0.1 1.9-2.3 2 0.2 1.9-0.7 1.9-2.5 1.9 0.1 2 0.4 1.9-1.6 1.9-6 2-2.5 1.9-2.3 1.9-1.5 2 2 1.9-0.4 1.9 0.8 2 1.6 1.9-1.4 1.9-4.2 1.9-2.3 2-1.5 1.9-7 1.9-4.5 2-1.4 1.9 4.1 1.9-1.9 2-2.6 1.9-1.3 1.9-1.9 1.9-2 2 2.1 1.9 0.1 1.9 1 2 0.6 1.9-1 1.9 0.5 2 2.4 1.9-2.8 1.9-0.2 2-1.2 1.9-2.5 1.9-0.4 1.9-0.7 2 3.3 1.9 3.1 1.9 2.3 2-0.5 1.9-3.1 1.9-2.6 2 2.2 1.9 0.1 1.9-2.2 1.9 1.7 2-0.1 1.6-0.5 1.6-3.2 1.6-1.8 1.6-2.6 1.6-1.8 1.6 0.7 2 1.8 1.9 2.9 1.9 1.3 2 0.4 1.9 0.4 1.9-1.4 1.9-2.2 2 1.6 1.9 0 1.9-0.9 2 0.9 1.6-0.6 1.7-1.9 1.6-0.7 1.7-0.5 1.6 0.3 1.7-2.8 1.6 0.5 2 0 1.9-0.1 1.9-1.3 2 2.3 1.9 0.3 1.9-0.3 2-1.9 1.9 0.5 1.9-0.1 2 1.8 1.9 0.3 1.9 0.9 1.9-0.8 2-1.7 1.9-0.4 1.9-0.9 2 0.5 1.9 2.3 1.9 1.6 2 3.5 1.6 0.7 1.6 0.2 1.6 0.6 1.6-0.7 1.6 1.6 1.6-1.4 1.6 0.3 1.6-0.1 1.6-0.4 1.6 0.8 1.7-1.8 1.6 2.8 1.9-1.3 1.9 3.3 2 0 1.9 3.1 1.9 0.5 1.9 5.6 2 2.3 1.9-0.2 1.9-2.3 2-1.4 1.9-0.9 1.9 1.3 2-2.9 1.9-0.3 1.9 0.5 1.9 2.9 2 1.4 1.9 1.3 1.9 1 2-0.9 1.9 0.9 1.9-0.9 2 3.3 1.9 2 1.9 4.9 2 0.4 1.9-1.4 1.9-0.2 1.9-0.1 2 3.3 1.9 5.7 1.9 0.9" stroke="#111" stroke-width="1.2" fill="none" stroke-linejoin="round" />
<rect x="926.7" y="1589.7" width="362.3" height="84" fill="none" stroke="#111" stroke-width="1.2"/>
<path d="M926.7,1631.2h4M1289,1631.2h-4" stroke="#111" stroke-width="1"/>
<path d="M996.7,1589.7v4M996.7,1673.7v-4M1067.2,1589.7v4M1067.2,1673.7v-4M1137.7,1589.7v4M1137.7,1673.7v-4M1208.2,1589.7v4M1208.2,1673.7v-4M1278.7,1589.7v4M1278.7,1673.7v-4" stroke="#111" stroke-width="1"/>
<text x="912" y="1602" font-size="20">5</text>
<text x="904.2" y="1671.2" font-size="20">-5</text>
<text x="908" y="1695.8" font-size="15">time (s)</text>
<text x="997.2" y="1695.8" font-size="15" text-anchor="middle">200</text>
<text x="1068" y="1695.8" font-size="15" text-anchor="middle">400</text>
<text x="1139" y="1695.8" font-size="15" text-anchor="middle">600</text>
<text x="1209.6" y="1695.8" font-size="15" text-anchor="middle">800</text>
<text x="1285.9" y="1695.8" font-size="15" text-anchor="middle">1000</text>
<text x="44" y="1771.5" font-size="34" font-weight="bold">k</text>
<circle cx="206.2" cy="1766" r="7.7" fill="none" stroke="#111" stroke-width="1.3"/>
<path d="M210.2,1759.4L219.2,1746.6M210.8,1748.8L219.2,1746.6L221.3,1754.3" fill="none" stroke="#111" stroke-width="1.3"/>
<text x="224" y="1769" font-size="20" fill="#e8a030" textLength="15" lengthAdjust="spacingAndGlyphs">In</text>
<path d="M214.2,1777.5L219.8,1779.3L225.4,1777.5L219.8,1790.2z" fill="#111"/>
<text x="255.7" y="1785.5" font-size="20" textLength="338.6" lengthAdjust="spacingAndGlyphs">mouse 5 | natural cyle | proestrus day</text>
<path fill="#6cb33f" d="M221.7 1796.3h18.5v25.2h-18.5zM241.6 1796.3h13.3v25.2h-13.3zM272.3 1796.3h5.3v25.2h-5.3zM282.1 1796.3h3.5v25.2h-3.5z"/>
<path fill="#bfe0a0" d="M256.1 1796.3h1.0v25.2h-1.0zM258.5 1796.3h1.0v25.2h-1.0zM261.3 1796.3h1.0v25.2h-1.0zM317.3 1796.3h1.0v25.2h-1.0zM338.2 1796.3h1.0v25.2h-1.0zM343.5 1796.3h1.0v25.2h-1.0zM351.5 1796.3h1.0v25.2h-1.0zM363.4 1796.3h1.0v25.2h-1.0zM370.4 1796.3h1.0v25.2h-1.0zM417.9 1796.3h1.0v25.2h-1.0zM449.4 1796.3h1.0v25.2h-1.0zM474.5 1796.3h1.0v25.2h-1.0zM485.0 1796.3h1.0v25.2h-1.0zM487.8 1796.3h1.0v25.2h-1.0zM514.8 1796.3h1.0v25.2h-1.0zM568.9 1796.3h1.0v25.2h-1.0zM578.7 1796.3h1.0v25.2h-1.0z"/>
<path fill="#93c96c" d="M298.0 1796.3h1.0v25.2h-1.0zM312.0 1796.3h1.0v25.2h-1.0zM379.5 1796.3h1.0v25.2h-1.0zM543.8 1796.3h1.0v25.2h-1.0z"/>
<path fill="#c9a8dc" d="M261.1 1821.5h1.4v24.5h-1.4z"/>
<path fill="#7b35a8" d="M276.9 1821.5h1.4v24.5h-1.4zM284.9 1821.5h1.4v24.5h-1.4zM302.0 1821.5h1.4v24.5h-1.4zM308.3 1821.5h1.4v24.5h-1.4zM318.8 1821.5h1.4v24.5h-1.4zM352.0 1821.5h1.4v24.5h-1.4zM380.7 1821.5h1.4v24.5h-1.4zM417.7 1821.5h1.4v24.5h-1.4zM449.9 1821.5h1.4v24.5h-1.4zM475.4 1821.5h1.4v24.5h-1.4zM486.6 1821.5h1.4v24.5h-1.4zM496.0 1821.5h1.4v24.5h-1.4zM515.6 1821.5h1.4v24.5h-1.4zM568.7 1821.5h1.4v24.5h-1.4zM579.9 1821.5h1.4v24.5h-1.4z"/>
<path fill="#a070c0" d="M544.3 1821.5h1.4v24.5h-1.4z"/>
<path fill="#e04b1e" d="M262.5 1846.0h2.8v20.2h-2.8zM320.2 1846.0h11.6v20.2h-11.6zM353.4 1846.0h5.6v20.2h-5.6zM381.7 1846.0h14.0v20.2h-14.0zM419.1 1846.0h12.6v20.2h-12.6zM517.0 1846.0h7.0v20.2h-7.0zM582.0 1846.0h4.9v20.2h-4.9z"/>
<line x1="156.3" y1="1821.5" x2="593.2" y2="1821.5" stroke="#c8c8c8" stroke-width="1" />
<line x1="156.3" y1="1846" x2="593.2" y2="1846" stroke="#c8c8c8" stroke-width="1" />
<line x1="593.2" y1="1821.5" x2="606" y2="1821.5" stroke="#c8c8c8" stroke-width="1" />
<rect x="156.3" y="1796.3" width="436.9" height="69.9" fill="none" stroke="#111" stroke-width="1.2"/>
<path d="M202.4,1796.3v4M202.4,1866.2v-4M248.6,1796.3v4M248.6,1866.2v-4M294.7,1796.3v4M294.7,1866.2v-4M340.8,1796.3v4M340.8,1866.2v-4M387,1796.3v4M387,1866.2v-4M433.1,1796.3v4M433.1,1866.2v-4M479.2,1796.3v4M479.2,1866.2v-4M525.3,1796.3v4M525.3,1866.2v-4M571.5,1796.3v4M571.5,1866.2v-4" stroke="#111" stroke-width="1"/>
<path d="M156.3,1833.5h4M593.2,1833.5h-4" stroke="#111" stroke-width="1"/>
<text x="145.5" y="1814.5" font-size="20" text-anchor="end" fill="#6fb56a">male sniff</text>
<text x="145.5" y="1838.5" font-size="20" text-anchor="end" fill="#7232a2">mount</text>
<text x="145.5" y="1863" font-size="20" text-anchor="end" fill="#d0552e">intromission</text>
<line x1="147" y1="1808" x2="152" y2="1808" stroke="#6fb56a" stroke-width="1.2" />
<line x1="147" y1="1832" x2="152" y2="1832" stroke="#7232a2" stroke-width="1.2" />
<line x1="147" y1="1856.5" x2="152" y2="1856.5" stroke="#d0552e" stroke-width="1.2" />
<g><rect x="157.7" y="1875.7" width="436.9" height="167.1" fill="#4286da"/><path stroke="#4a4cb2" stroke-width="2.68" d="M519 1884.6h5m-5 2.5h5m40 0h5m-346 5.1h5m25 0h5m5 0h15m5 0h30m5 0h15m81 0h10m5 0h40m5 0h25m5 0h10m66 0h5m-206 5h15m105 0h5m5 0h5m-261 2.6h10m171 0h5m50 0h5m35 0h5m15 0h15m-170 2.5h25m15 0h15m5 0h10m25 0h5m-161 5h11m5 0h5m15 0h5m100 0h15m-256 5.1h5m201 0h5m5 0h5m10 0h5m-141 2.5h5m51 0h5m-66 5.1h10m151 0h10m5 0h5m60 0h11m-312 5.1h5m25 0h15m86 0h20m15 0h5m90 0h30m5 0h5m-145 7.6h5m-251 5h15m30 0h5m85 0h5m-20 5.1h5m35 0h46m190 0h6m-287 7.6h5m15 0h10m81 0h10m110 0h5m20 0h5m26 0h20m-437 2.5h40m321 0h5m5 0h5m10 0h15m-296 5.1h15m5 0h5m25 0h5m31 0h5m20 0h5m20 0h15m-226 5h5m15 0h10m115 0h5m96 0h35m90 0h36m-191 2.6h5m5 0h5m55 0h5m10 0h20m5 0h5m-216 5h15m61 0h5m5 0h5m-61 2.6h5m6 0h10m5 0h10m5 0h5m55 0h5m-256 7.6h5m15 0h10m105 0h31m45 0h30m145 0h11m-377 2.5h5m5 0h10m45 0h5m121 10.1h20m5 0h5m5 0h25m121 0h5m-181 2.6h5m5 0h10m50 0h5m5 0h40m40 0h36m-412 2.5h5m20 0h5m65 0h20m10 0h5m25 0h16m5 0h5m5 0h5m145 0h5m-366 2.5h5m45 0h10m85 0h5m25 0h5m6 0h10m5 0h5m55 0h30m35 0h25m10 0h5m20 0h5m-115 2.6h10m-236 7.6h5m95 0h5m10 0h10m31 0h15m180 0h5m-195 2.5h5m-91 2.5h5m-130 7.6h5m20 0h25m5 0h5m45 0h20m5 0h5m141 0h5m10 0h10m30 0h10m-316 2.5h5m30 0h5m40 0h55m26 0h5m10 0h5m20 0h5m150 0h20m-296 5.1h5m10 0h5m35 0h5m161 0h5m-80 2.5h10m-216 5.1h5m171 0h15m120 0h5"/><path stroke="#4c5ac6" stroke-width="2.68" d="M529 1877h10m5 0h10m-15 5h5m-321 2.6h5m45 0h5m121 0h5m25 0h5m35 0h5m55 0h5m-266 2.5h25m5 0h15m20 0h26m5 0h5m5 0h10m45 0h10m5 0h5m15 0h5m90 0h5m5 0h16m5 0h5m-161 2.5h25m5 0h5m25 0h5m-271 2.6h5m5 0h10m10 0h5m15 0h5m30 0h5m56 0h5m15 0h20m10 0h5m40 0h5m25 0h5m10 0h5m40 0h21m5 0h10m-367 5h10m5 0h10m75 0h5m16 0h25m85 0h10m15 0h15m5 0h5m5 0h5m10 0h30m-336 2.6h5m5 0h15m15 0h5m70 0h6m10 0h10m20 0h35m20 0h10m5 0h10m5 0h20m5 0h10m15 0h10m5 0h15m15 0h5m6 0h5m-221 2.5h5m20 0h10m25 0h15m15 0h5m10 0h5m10 0h10m5 0h15m5 0h5m45 0h5m-271 2.5h5m126 0h5m-201 2.5h5m40 0h5m30 0h5m26 0h5m5 0h15m5 0h5m15 0h15m15 0h30m10 0h10m15 0h20m35 0h5m-30 2.6h5m-301 2.5h10m5 0h10m85 0h5m6 0h5m5 0h10m55 0h5m10 0h5m5 0h5m5 0h10m-146 2.5h10m51 0h5m5 0h5m35 0h5m15 0h20m75 0h15m-226 2.6h5m96 0h25m10 0h5m-156 2.5h5m116 0h15m15 0h15m10 0h5m5 0h15m40 0h5m11 0h10m5 0h5m-246 2.5h20m10 0h25m5 0h5m-181 2.6h15m10 0h5m5 0h25m20 0h5m20 0h6m5 0h5m30 0h10m20 0h5m5 0h5m90 0h5m30 0h5m5 0h31m-332 2.5h15m25 5.1h10m111 0h10m-276 5h15m15 0h15m5 0h10m45 0h10m15 0h5m5 0h10m5 0h5m131 0h10m60 0h5m-346 2.6h5m-25 2.5h60m45 0h5m10 0h15m5 0h25m56 0h15m40 0h5m15 0h15m10 0h5m25 0h10m5 0h10m10 0h10m5 0h10m6 0h5m-61 2.5h5m-366 2.6h65m306 0h5m41 0h10m-427 2.5h65m40 0h25m5 0h15m25 0h5m26 0h15m30 0h25m65 0h5m20 0h5m10 0h5m15 0h16m-377 2.5h25m60 0h5m35 0h26m15 0h10m30 0h5m15 0h5m95 0h5m5 0h10m46 0h5m-437 2.6h65m161 0h10m130 0h25m15 0h11m-417 2.5h35m5 0h15m5 0h5m55 0h5m5 0h25m20 0h16m5 0h15m25 0h5m15 0h5m115 0h10m-386 2.5h60m176 0h5m50 0h5m5 0h5m-306 2.5h20m5 0h5m5 0h15m10 0h5m60 0h10m45 0h16m30 0h5m5 0h25m95 0h10m-366 2.6h5m10 0h5m5 0h15m15 0h5m95 0h20m66 0h5m5 0h5m15 0h5m35 0h5m5 0h10m20 0h5m-356 2.5h10m25 0h15m5 0h10m-65 2.5h10m5 0h50m45 0h5m15 0h15m15 0h5m10 0h5m31 0h10m5 0h5m50 0h5m75 0h5m-366 2.6h45m15 0h5m95 0h5m5 0h5m5 0h6m10 0h5m10 0h5m5 0h5m55 0h30m40 0h5m-356 5h10m20 0h35m-65 2.6h25m5 0h15m10 0h10m5 0h10m111 0h5m5 0h5m5 0h15m40 0h5m40 0h10m10 0h10m60 0h10m11 0h5m-427 2.5h45m5 0h5m50 0h5m5 0h10m5 0h5m5 0h20m15 0h21m25 0h20m30 0h5m35 0h10m10 0h5m15 0h10m40 0h5m-396 2.5h25m10 0h20m-65 2.6h5m35 0h5m181 0h10m-231 2.5h60m281 0h5m-351 2.5h5m10 0h40m201 0h5m5 0h5m25 0h65m30 0h5m5 0h16m5 0h15m-437 2.6h65m40 0h15m10 0h30m61 0h5m5 0h10m5 0h5m25 0h10m5 0h15m10 0h5m-311 2.5h15m5 0h20m5 0h10m5 0h5m35 0h10m20 0h10m5 0h25m16 0h5m5 0h5m5 0h5m55 0h15m40 0h30m5 0h5m10 0h25m-401 2.5h45m10 0h5m40 0h5m25 0h10m5 0h10m20 0h6m10 0h5m5 0h15m30 0h10m30 0h20m10 0h5m25 0h10m5 0h20m5 0h41m-417 2.6h15m5 0h30m90 0h5m126 0h10m-296 5h35m70 0h5m-110 2.6h50m5 0h10m50 0h5m5 0h25m10 0h5m10 0h31m20 0h5m5 0h5m15 0h5m15 0h5m30 0h25m5 0h20m5 0h25m5 0h5m5 0h11m-412 2.5h15m15 0h5m140 0h11m10 0h10m-211 2.5h10m10 0h25m65 0h15m5 0h5m5 0h10m-130 5.1h30m356 0h5m-406 2.5h20m25 0h5m5 0h5m35 0h5m20 0h5m5 0h25m15 0h5m6 0h5m10 0h10m5 0h15m35 0h10m5 0h10m10 0h10m5 0h15m10 0h20m-361 2.5h25m5 0h30m40 0h5m55 0h5m10 0h11m5 0h10m5 0h10m5 0h5m5 0h5m35 0h5m10 0h5m15 0h20m5 0h30m15 0h5m20 0h5m26 0h5m-437 2.6h55m5 0h5m156 0h15m85 0h5m75 0h10m16 0h10m-437 2.5h10m15 0h10m20 0h10m45 0h10m10 0h15m5 0h10m5 0h10m156 0h25m5 0h5m45 0h11m5 0h5m-412 2.5h20m5 0h5m191 0h10m-251 2.6h20m10 0h10m10 0h15m50 0h15m25 0h5m241 0h5m11 0h5m-422 2.5h45m5 0h15m141 0h15m95 0h10m5 0h15m5 0h5m-356 2.5h5m15 0h10m10 0h5m5 0h5"/><path stroke="#486ed0" stroke-width="2.68" d="M233 1877h5m25 0h10m40 0h5m101 0h5m5 0h5m50 0h5m35 0h5m10 0h5m10 0h36m-332 5h5m45 0h5m15 0h16m5 0h10m5 0h25m10 0h10m10 0h10m50 0h15m5 0h10m15 0h15m5 0h5m5 0h5m5 0h26m-362 2.6h10m5 0h5m5 0h20m5 0h25m15 0h20m46 0h5m15 0h25m5 0h5m35 0h15m10 0h20m5 0h5m5 0h5m5 0h15m-331 2.5h15m50 0h5m15 0h20m26 0h5m5 0h5m10 0h10m5 0h5m5 0h20m10 0h5m5 0h15m10 0h5m5 0h5m35 0h5m10 0h20m26 0h5m-367 2.5h10m5 0h20m75 0h5m16 0h5m5 0h10m5 0h10m30 0h15m25 0h5m5 0h25m5 0h20m30 0h20m-336 2.6h5m10 0h5m91 0h30m5 0h5m5 0h5m125 0h5m5 0h10m-306 2.5h15m5 0h10m126 0h5m125 0h5m56 0h5m-362 2.5h5m10 0h5m10 0h25m15 0h5m5 0h25m5 0h16m25 0h5m50 0h20m5 0h5m10 0h15m35 0h10m40 0h26m-367 2.6h5m15 0h5m15 0h35m15 0h20m6 0h10m10 0h10m5 0h5m35 0h15m15 0h5m10 0h5m35 0h10m55 0h6m5 0h15m-362 2.5h10m5 0h5m5 0h15m15 0h30m20 0h16m10 0h10m5 0h5m85 0h10m30 0h5m5 0h30m10 0h5m5 0h16m-292 2.5h5m5 0h15m101 0h10m105 0h10m-321 2.5h10m5 0h15m15 0h10m10 0h25m5 0h15m46 0h5m25 0h15m30 0h10m45 0h10m10 0h10m10 0h20m6 0h10m5 0h5m-277 2.6h20m61 0h5m5 0h5m-166 2.5h15m65 0h5m5 0h6m5 0h5m10 0h15m20 0h15m10 0h10m60 0h5m86 0h10m-357 2.5h30m10 0h5m5 0h10m5 0h15m15 0h11m5 0h5m5 0h5m55 0h10m5 0h15m80 0h5m5 0h5m25 0h6m-352 2.6h5m5 0h5m10 0h5m5 0h15m5 0h30m5 0h10m5 0h5m5 0h6m10 0h5m5 0h30m25 0h10m30 0h10m5 0h30m10 0h5m15 0h5m5 0h5m5 0h10m5 0h6m15 0h5m-372 2.5h10m5 0h5m10 0h10m5 0h5m40 0h5m15 0h5m6 0h15m25 0h5m15 0h5m25 0h5m15 0h15m50 0h5m61 0h5m-362 2.5h5m25 0h5m75 0h11m20 0h10m25 0h5m5 0h10m100 0h35m-336 2.6h10m15 0h10m50 0h5m20 0h5m6 0h5m5 0h30m35 0h5m10 0h5m5 0h15m5 0h5m35 0h10m-236 2.5h15m216 0h5m61 0h5m-317 2.5h5m5 0h10m15 0h15m5 0h5m5 0h5m46 0h10m75 0h5m75 0h5m26 0h10m-357 2.6h5m55 0h5m20 0h5m61 0h15m-76 2.5h5m71 0h5m-196 2.5h5m65 0h15m5 0h5m66 0h5m35 0h15m20 0h10m10 0h15m35 0h10m25 0h15m31 0h5m-437 2.6h20m5 0h40m105 0h5m46 0h10m5 0h5m25 0h10m55 0h30m15 0h25m-341 2.5h5m45 0h10m45 0h10m76 0h15m5 0h5m5 0h15m15 0h10m5 0h25m10 0h5m10 0h10m10 0h5m21 0h5m5 0h5m-437 2.5h65m161 0h10m25 0h10m70 0h5m20 0h5m-185 2.6h5m50 0h5m10 0h5m100 0h10m5 0h25m10 0h6m10 0h10m-257 2.5h26m30 0h5m35 0h5m30 0h30m5 0h15m10 0h10m10 0h10m-296 2.5h20m5 0h35m26 0h15m10 0h5m15 0h10m5 0h15m5 0h35m105 0h21m-267 2.6h5m10 0h11m25 0h10m85 0h25m55 0h15m11 0h20m-402 2.5h5m15 0h5m100 0h15m36 0h5m60 0h5m15 0h5m25 0h5m35 0h10m10 0h20m16 0h10m-372 2.5h5m55 0h5m76 0h15m25 0h20m15 0h15m5 0h5m5 0h5m100 0h26m-417 2.5h5m95 0h5m10 0h25m36 0h30m5 0h5m25 0h15m35 0h35m5 0h5m25 0h15m-391 2.6h10m5 0h5m15 0h15m5 0h5m60 0h10m5 0h15m81 0h5m20 0h10m5 0h5m15 0h15m50 0h5m35 0h36m-427 2.5h25m15 0h5m55 0h5m20 0h5m5 0h15m15 0h5m6 0h5m15 0h10m130 0h5m-341 2.5h5m90 0h5m5 0h15m35 0h10m5 0h6m5 0h20m25 0h5m20 0h20m5 0h25m45 0h5m15 0h5m5 0h5m-346 2.6h15m95 0h5m5 0h5m61 0h5m75 0h10m5 0h25m5 0h10m35 0h36m-437 2.5h65m286 0h5m61 0h10m-417 2.5h20m100 0h5m5 0h5m61 0h15m40 0h5m45 0h10m35 0h5m-296 2.6h5m10 0h5m5 0h15m45 0h5m41 0h5m5 0h5m15 0h10m35 0h5m5 0h5m10 0h15m10 0h10m10 0h5m5 0h5m15 0h20m36 0h10m-372 2.5h5m55 0h5m5 0h5m30 0h5m21 0h25m20 0h25m55 0h10m5 0h15m10 0h5m40 0h5m-411 2.5h10m25 0h10m20 0h5m20 0h15m-100 2.6h35m5 0h20m65 0h5m5 0h20m61 0h5m80 0h5m5 0h5m-321 2.5h5m100 0h10m20 0h5m20 0h15m76 0h5m55 0h35m5 0h10m20 0h15m-391 2.5h10m40 0h10m5 0h25m5 0h5m55 0h15m51 0h10m125 0h30m5 0h5m-316 2.6h5m5 0h10m15 0h10m96 0h5m30 0h15m10 0h5m15 0h5m50 0h5m5 0h5m5 0h5m5 0h5m-396 2.5h10m55 0h5m5 0h15m15 0h5m126 0h40m15 0h30m5 0h5m40 0h10m25 0h26m-367 2.5h10m20 0h10m5 0h25m25 0h15m61 0h15m60 0h10m111 0h5m-437 2.6h15m15 0h5m35 0h5m5 0h10m15 0h10m5 0h5m10 0h20m5 0h5m131 0h35m5 0h30m35 0h16m-417 2.5h65m115 0h26m20 0h5m45 0h50m5 0h10m10 0h50m-366 2.5h30m15 0h15m15 0h10m35 0h5m206 0h25m5 0h5m-331 2.6h5m5 0h10m15 0h10m5 0h5m30 0h5m61 0h5m5 0h5m5 0h15m5 0h15m5 0h30m25 0h5m50 0h5m21 0h20m-437 2.5h5m15 0h15m5 0h25m25 0h5m80 0h5m11 0h10m15 0h5m30 0h5m5 0h25m5 0h5m5 0h10m15 0h5m5 0h5m10 0h15m-356 2.5h10m25 0h20m40 0h5m25 0h5m10 0h10m51 0h10m15 0h15m25 0h5m35 0h45m10 0h15m5 0h15m26 0h5m-437 2.5h65m136 0h5m5 0h5m-216 2.6h20m30 0h15m65 0h5m15 0h10m61 0h15m45 0h5m75 0h5m25 0h5m5 0h5m5 0h6m5 0h10m-367 2.5h5m10 0h20m60 0h15m5 0h6m5 0h10m10 0h5m15 0h5m10 0h20m45 0h5m45 0h5m15 0h20m-336 2.5h35m65 0h5m46 0h5m15 0h5m5 0h25m5 0h10m5 0h15m20 0h5m30 0h15m30 0h5m11 0h10m-377 2.6h5m176 0h10m10 0h5m30 0h30m5 0h20m5 0h15m10 0h5m10 0h5m15 0h16m-417 2.5h15m10 0h20m25 0h5m15 0h5m20 0h5m15 0h5m25 0h11m10 0h35m35 0h5m5 0h5m5 0h10m5 0h5m5 0h15m30 0h5m5 0h5m10 0h10m5 0h15m11 0h5m5 0h5m-437 2.5h20m20 0h5m5 0h15m80 0h5m71 0h20m25 0h10m-256 2.6h10m10 0h10m15 0h5m40 0h5m15 0h10m20 0h5m15 0h6m25 0h15m35 0h5m70 0h5m15 0h45m5 0h11m5 0h15m-372 2.5h5m15 0h20m5 0h5m40 0h5m15 0h5m16 0h10m70 0h5m5 0h5m20 0h5m10 0h5m15 0h5m10 0h5m35 0h10m16 0h5m-427 2.5h15m10 0h10m5 0h5m5 0h10m110 0h5m6 0h20m55 0h5"/><path stroke="#3ca0dc" stroke-width="2.68" d="M158 1877h55m120 0h11m5 0h50m45 0h25m45 0h5m-291 2.5h10m5 0h10m10 0h5m15 0h5m30 0h15m61 0h25m5 0h5m25 0h10m70 0h5m10 0h10m-366 2.5h5m55 0h5m20 0h5m5 0h5m66 0h5m75 0h10m65 0h10m-366 2.6h25m10 0h25m126 0h15m85 0h10m126 0h10m-432 2.5h10m85 0h10m241 0h5m-326 2.5h40m45 0h20m5 0h5m5 0h20m76 0h5m5 0h5m105 0h5m51 0h5m5 0h5m-392 2.6h10m-40 2.5h50m110 0h26m5 0h15m20 0h20m5 0h20m5 0h5m20 0h20m5 0h5m10 0h10m15 0h10m15 0h10m-396 2.5h5m20 0h15m5 0h5m75 0h5m101 0h10m-246 2.6h10m25 0h5m10 0h5m-55 2.5h50m100 0h10m-165 2.5h20m5 0h10m15 0h10m10 0h5m15 0h5m75 0h5m56 0h5m35 0h20m15 0h20m5 0h5m10 0h10m40 0h21m-422 2.5h5m5 0h25m20 0h5m-60 2.6h15m5 0h10m5 0h30m5 0h10m10 0h15m15 0h10m15 0h5m66 0h15m30 0h15m5 0h20m5 0h10m5 0h5m10 0h20m30 0h15m-401 2.5h45m10 0h5m50 0h5m15 0h25m66 0h10m135 0h10m15 0h5m-396 2.5h10m5 0h40m5 0h5m141 0h5m25 0h5m70 0h5m5 0h5m96 0h5m-427 2.6h65m181 0h5m110 0h5m-366 2.5h65m70 0h10m116 0h5m110 0h20m-396 2.5h10m20 0h5m5 0h5m10 0h5m5 0h5m35 0h5m5 0h10m10 0h5m20 0h15m91 0h5m5 0h10m5 0h10m5 0h30m5 0h10m5 0h10m35 0h5m16 0h15m-437 2.6h5m5 0h45m5 0h5m251 0h5m-256 2.5h10m5 0h15m40 0h5m20 0h10m5 0h26m5 0h5m5 0h5m50 0h5m15 0h5m5 0h25m5 0h10m20 0h5m5 0h5m5 0h20m-401 2.5h5m5 0h15m5 0h5m5 0h5m20 0h5m15 0h5m161 0h5m65 0h5m35 0h5m5 0h5m-336 2.6h5m60 0h5m60 0h10m6 0h10m15 0h10m20 0h10m35 0h10m15 0h5m10 0h15m10 0h25m15 0h5m5 0h10m16 0h10m-397 2.5h15m50 0h5m10 0h5m15 0h20m15 0h16m5 0h15m10 0h5m5 0h5m5 0h20m45 0h10m5 0h5m10 0h5m10 0h20m-286 2.5h10m65 0h15m11 0h5m5 0h5m135 0h5m81 0h5m-332 2.6h5m5 0h5m10 0h20m10 0h5m20 0h16m5 0h15m115 0h5m30 0h5m40 0h31m-357 2.5h25m-10 2.5h10m5 0h10m5 0h20m20 0h5m16 0h5m10 0h10m65 0h35m20 0h5m75 0h26m-342 2.6h5m10 0h5m15 0h15m5 0h15m5 0h5m36 0h15m5 0h5m35 0h5m5 0h5m25 0h5m5 0h5m10 0h25m-281 2.5h5m10 0h10m186 0h5m-75 2.5h10m80 0h15m5 0h5m5 0h15m-276 2.6h15m15 0h5m5 0h5m5 0h20m91 0h10m5 0h5m10 0h5m5 0h15m-216 2.5h20m126 0h5m40 0h5m141 0h5m-327 2.5h10m20 0h25m5 0h15m5 0h5m51 0h5m30 0h5m40 0h10m5 0h5m5 0h5m5 0h15m5 0h10m5 0h5m5 0h5m5 0h5m-336 2.5h10m25 0h10m-15 2.6h5m10 0h5m55 0h5m16 0h5m25 0h10m130 0h5m20 0h5m-231 2.5h5m51 0h5m10 0h5m10 0h10m10 0h10m15 0h10m20 0h10m65 0h5m5 0h6m5 0h10m-342 2.5h10m146 0h5m60 0h5m5 0h15m5 0h5m50 0h21m10 0h5m-347 2.6h5m5 0h10m20 0h15m96 0h15m115 0h10m5 0h5m5 0h10m-241 2.5h5m5 0h5m26 0h10m5 0h5m5 0h10m35 0h25m5 0h10m50 0h40m5 0h5m-296 2.5h5m101 0h5m5 0h15m5 0h10m15 0h20m40 0h5m20 0h30m5 0h5m21 0h10m-322 2.6h15m5 0h10m-55 2.5h15m176 0h5m10 0h20m55 0h5m5 0h25m16 0h5m-277 2.5h20m71 0h5m5 0h10m5 0h15m5 0h25m121 0h10m-362 2.6h25m15 0h10m71 0h5m40 0h20m5 0h10m50 0h5m10 0h5m5 0h5m20 0h25m5 0h16m-357 2.5h5m10 0h5m136 0h15m5 0h5m25 0h15m5 0h10m60 0h5m35 0h10m6 0h5m5 0h10m-302 2.5h10m41 0h5m5 0h5m15 0h5m-151 2.6h10m80 0h15m11 0h5m10 0h5m5 0h5m-116 2.5h5m116 0h5m5 0h5m-10 2.5h5m-61 2.6h16m5 0h20m25 0h10m5 0h10m105 0h15m5 0h5m-316 2.5h5m25 0h5m5 0h5m5 0h10m10 0h20m5 0h5m36 0h5m20 0h25m-196 2.5h5m60 0h5m40 0h11m5 0h25m20 0h5m25 0h5m10 0h15m10 0h10m5 0h5m5 0h15m15 0h5m40 0h5m-266 5.1h5m71 0h15m10 0h5m120 0h10m5 0h5m15 0h11m5 0h10m-362 2.5h5m15 0h10m70 0h5m111 0h5m5 0h15m50 0h5m40 0h11m-347 2.5h10m30 0h25m5 0h5m10 0h10m5 0h10m6 0h5m30 0h5m10 0h5m75 0h15m5 0h25m56 0h5m5 0h5m-362 2.6h5m25 0h5m35 0h5m25 0h10m6 0h5m25 0h5m35 0h15m50 0h5m5 0h15m-276 2.5h5m331 0h5m-301 5.1h5m15 0h20m5 0h5m20 0h6m10 0h5m5 0h5m5 0h5m15 2.5h20m-191 2.5h15m10 0h15m20 0h15m66 0h5m5 0h5m55 0h25m5 0h10m10 0h10m10 0h15m10 0h5m10 0h25m6 0h15m-337 2.6h10m146 0h5m50 0h15m5 0h5m-191 2.5h10m106 0h20m-211 2.5h5m5 0h10m10 0h5m25 0h5m5 0h20m5 0h15m36 0h5m25 0h20m10 0h5m35 0h5m5 0h15m5 0h20m20 0h10m15 0h5m11 0h5m5 0h5"/><path stroke="#40b4d4" stroke-width="2.68" d="M213 1877h10m296 0h5m-366 2.5h5m25 0h5m30 0h5m25 0h10m5 0h15m5 0h5m5 0h20m15 0h21m15 0h10m40 0h5m5 0h10m5 0h10m10 0h10m5 0h40m5 0h10m5 0h10m-391 2.5h35m5 0h25m211 0h5m15 2.6h5m-291 2.5h55m-65 2.5h25m80 0h5m20 0h5m5 0h5m101 0h5m-251 5.1h10m50 0h5m95 0h10m46 0h5m-161 7.6h5m-65 2.5h5m20 0h5m10 0h15m45 0h5m75 0h26m5 0h5m5 0h5m15 0h20m35 0h15m30 0h10m-336 5.1h5m10 0h5m70 0h15m10 0h15m5 0h10m71 0h5m40 0h5m141 0h5m5 0h5m-382 5h5m266 0h40m-356 7.6h20m5 0h5m5 0h10m5 0h5m341 0h16m-422 5.1h65m10 0h5m90 0h5m26 0h5m5 0h5m5 0h15m60 0h5m75 0h5m-376 2.5h5m15 0h5m5 0h5m5 0h20m5 0h5m161 0h15m5 0h5m-261 2.6h40m5 0h20m35 0h5m271 0h15m5 0h5m-401 2.5h15m5 0h5m5 0h10m15 0h10m45 0h10m71 0h5m15 0h10m40 0h20m15 0h10m35 0h5m25 0h20m5 0h5m-336 2.5h20m106 0h5m-106 2.6h5m5 0h5m5 0h10m25 0h5m5 0h5m241 0h5m-336 2.5h10m-15 2.5h10m5 0h15m25 0h5m86 0h5m-131 2.6h10m5 0h5m20 0h5m35 0h5m56 0h5m-166 2.5h15m5 0h10m-20 2.5h5m10 0h15m231 0h5m-276 2.6h15m196 0h5m-216 2.5h15m0 2.5h10m80 0h5m46 0h10m145 0h5m5 0h5m5 0h5m-336 2.5h5m10 0h15m5 0h5m-10 2.6h5m-15 2.5h5m5 0h10m261 0h35m5 0h5m6 0h5m-357 2.5h10m10 0h5m10 0h5m-40 2.6h5m10 0h5m5 0h5m291 0h5m-306 2.5h75m15 0h11m5 0h10m10 0h5m40 0h15m25 0h5m-226 2.5h5m5 0h20m55 0h10m76 0h5m45 0h15m90 0h21m10 0h5m-332 2.6h5m171 2.5h5m-181 2.5h5m5 0h10m10 0h10m56 0h10m5 0h20m75 0h5m15 0h10m10 0h5m5 0h20m10 0h5m5 2.6h5m21 0h10m-262 2.5h21m5 0h5m55 0h10m15 0h5m10 0h5m-131 5.1h11m5 0h10m5 0h5m15 2.5h5m-20 5.1h10m-111 2.5h5m20 0h10m20 0h5m101 0h5m-35 2.5h5m5 0h10m15 0h5m45 0h5m-226 5.1h5m5 0h30m5 0h10m206 0h5m46 0h5m-357 2.5h5m90 0h10m-105 2.5h5m10 0h30m25 0h5m5 0h10m86 0h15m5 0h15m55 0h5m30 0h30m5 0h16m5 0h5m5 0h5m-272 2.6h5m10 0h6m5 0h25m55 0h10m-121 7.6h15m-95 5h10m85 0h21m5 0h5m5 0h5m195 0h6m-317 7.6h25m30 0h5m61 0h20m125 0h15m10 0h15m5 0h11m5 0h5"/><path stroke="#54c3bc" stroke-width="2.68" d="M163 1879.5h25m5 0h30m70 0h5m56 0h15m10 0h5m5 0h5m45 0h5m30 0h5m106 0h5m-226 25.3h5m5 0h5m190 5.1h11m5 0h5m-417 25.3h5m5 0h5m251 0h15m95 0h5m-316 5.1h10m50 0h5m-80 2.5h5m5 2.5h5m-5 2.6h10m-15 5h5m5 0h10m-25 7.6h15m15 2.5h5m-35 2.6h30m-30 2.5h20m5 0h5m-20 2.5h10m-15 2.6h10m-10 2.5h5m5 0h5m101 0h5m45 0h20m-191 2.5h10m5 0h5m85 0h5m-65 7.6h5m10 0h10m30 0h10m11 0h15m10 0h5m100 0h15m10 0h10m5 0h5m20 0h10m5 0h5m21 2.6h5m-231 2.5h5m5 0h15m40 15.2h10m-25 2.5h5m-141 5.1h5m141 5h5m100 0h5m30 0h5m-241 15.2h15m21 0h5"/><path stroke="#7dc891" stroke-width="2.68" d="M384 1879.5h5m191 0h5m5 0h5m-36 30.4h10m-346 30.4h5m5 0h5m-15 7.6h10m-10 5h5m-5 22.8h5m5 0h5m95 10.1h11"/><path stroke="#b4cd5a" stroke-width="2.68" d="M559 1879.5h21m-352 60.8h5"/></g>
<rect x="157.7" y="1875.7" width="436.9" height="167.1" fill="none" stroke="#111" stroke-width="1.2"/>
<path d="M202.4,1875.7v4M202.4,2042.8v-4M248.6,1875.7v4M248.6,2042.8v-4M294.7,1875.7v4M294.7,2042.8v-4M340.8,1875.7v4M340.8,2042.8v-4M387,1875.7v4M387,2042.8v-4M433.1,1875.7v4M433.1,2042.8v-4M479.2,1875.7v4M479.2,2042.8v-4M525.3,1875.7v4M525.3,2042.8v-4M571.5,1875.7v4M571.5,2042.8v-4" stroke="#111" stroke-width="1"/>
<path d="M157.7,1899.5h4M594.6,1899.5h-4M157.7,1924.6h4M594.6,1924.6h-4M157.7,1950h4M594.6,1950h-4M157.7,1975.7h4M594.6,1975.7h-4M157.7,2000.5h4M594.6,2000.5h-4M157.7,2025.9h4M594.6,2025.9h-4" stroke="#111" stroke-width="1"/>
<text x="153" y="1929.9" font-size="15" text-anchor="end">20</text>
<text x="153" y="1981" font-size="15" text-anchor="end">40</text>
<text x="153" y="2031.2" font-size="15" text-anchor="end">60</text>
<text x="131.4" y="1954.5" font-size="15" text-anchor="end">neurons</text>
<rect x="607.8" y="1952" width="11.5" height="46.3" fill="url(#parula)" stroke="#333" stroke-width="0.8"/>
<text x="625.5" y="1962" font-size="12">8</text>
<text x="625.5" y="1981.5" font-size="12">zscore</text>
<text x="622.5" y="1998.5" font-size="12">-4</text>
<text x="169" y="2062" font-size="15">time (s)</text>
<text x="249.7" y="2062" font-size="15" text-anchor="middle">200</text>
<text x="340" y="2062" font-size="15" text-anchor="middle">400</text>
<text x="432.8" y="2062" font-size="15" text-anchor="middle">600</text>
<text x="527.6" y="2062" font-size="15" text-anchor="middle">800</text>
<rect x="147" y="2077.5" width="465.8" height="70.3" fill="none" stroke="#111" stroke-width="1.2"/>
<text x="128" y="2085" font-size="15">1</text>
<text x="124.5" y="2154" font-size="15">0</text>
<text x="75.5" y="2096.5" font-size="15" text-anchor="middle">forward</text>
<text x="76" y="2114.5" font-size="15" text-anchor="middle">simulation accuracy</text>
<text x="75.8" y="2132.5" font-size="15" text-anchor="middle">(1-norm. mse)</text>
<path d="M168.0 2081.3l1.5-1.4 1.5 0.5 1.5 0.8 1.5 1.6 1.5 1.4 1.5-2.2 1.5-2 1.5 0.8 1.5-0.9 1.5 3.1 1.5 2.9 1.5-0.6 1.5-4.2 1.5-0.8 1.5-0.2 1.5 3.9 1.5 1.8 1.5-5.1 1.5-0.8 1.5 1 1.5-1.3 1.5 0.1 1.5 1.4 1.5 0 1.5-1.5 1.5 0.2 1.5 0 1.5 2.4 1.5-1.6 1.5-0.6 1.5 0.4 1.5 0.2 1.5-0.2 1.5 1 1.5-0.5 1.5 1 1.5-0.7 1.5 3.3 1.5 21.1 1.5 20.4 1.5-19.4 1.5-21.5 1.5-4.7 1.5 0.9 1.5-1.5 1.5 0.9 1.5 0.8 1.5-1.9 1.5 0.3 1.5 0.6 1.5-0.4 1.5 0 1.5 0.9 1.5 0 1.5-1.2 1.5 0.8 1.5-0.2 1.5-0.4 1.5 2.4 1.5-2.8 1.5 0.2 1.5 1.3 1.5-1.3 1.5 0.2 1.5-0.1 1.5 1.8 1.5 2.2 1.5 5.5 1.5 9.7 1.5-3.8 1.5 5.9 1.5-7.3 1.5-12.9 1.5 1.1 1.5-2.6 1.5 0.6 1.5-0.5 1.5 0.2 1.5 3.3 1.5-1.5 1.5-0.7 1.5-0.4 1.5 0.6 1.5 1.2 1.5 0.1 1.5 39.8 1.5 21.1 1.5-54 1.5-8.6 1.5 3.1 1.5 18.6 1.5-6.1 1.5-12.5 1.5-2.1 1.5 11.7 1.5 21.9 1.5-22.5 1.5-10.2 1.5 2.7 1.5 6.7 1.5-7.1 1.5-4.9 1.5 0.2 1.5 0.2 1.5 0.8 1.5 0 1.5-1.3 1.5 0.4 1.5-0.6 1.5 0.1 1.5 0.5 1.5 1.9 1.5-0.3 1.5-2.2 1.5 1.1 1.5-0.9 1.5 2.6 1.5 6.6 1.5-6.1 1.5 3.5 1.5 15.6 1.5-4.7 1.5-14.1 1.5-2.2 1.5 13.6 1.5 26.2 1.5-25.2 1.5-15.4 1.5-0.6 1.5 4.2 1.5 18.6 1.5-6.4 1.5-14.5 1.5-1.9 1.5-0.1 1.5 0.7 1.5 0 1.5-0.8 1.5 0.6 1.5 1 1.5-0.8 1.5-0.7 1.5 0.2 1.5 0.6 1.5 23.2 1.5 43.4 1.5-43.6 1.5-21.5 1.5-1.6 1.5-0.3 1.5 0.4 1.5 6.9 1.5 33.8 1.5-12.1 1.5-25.9 1.5-3.1 1.5 0.4 1.5 0.4 1.5-1.1 1.5 1.5 1.5-0.6 1.5 1.1 1.5-1.5 1.5 0.8 1.5-0.3 1.5 0.4 1.5-1.2 1.5 7 1.5 31.1 1.5-11.4 1.5-22.9 1.5-4 1.5 0 1.5 1.7 1.5-0.3 1.5-0.7 1.5 5.6 1.5 35.9 1.5 16.3 1.5-46.1 1.5-12.2 1.5-0.2 1.5 1.2 1.5-0.8 1.5 11.8 1.5 18.6 1.5-19.7 1.5-10 1.5-0.2 1.5-1 1.5 0.6 1.5-0.3 1.5 0.7 1.5 0.3 1.5 0.2 1.5-1.1 1.5 4.3 1.5 33.2 1.5 15.9 1.5-44 1.5-8.3 1.5 1.1 1.5 0.1 1.5-2.7 1.5 2.3 1.5 5.7 1.5 2.7 1.5-7.7 1.5-0.8 1.5-2 1.5 4.5 1.5 38.1 1.5 17.8 1.5-47.5 1.5-0.9 1.5 18.5 1.5-19.2 1.5-8.4 1.5-3.2 1.5 1.7 1.5 6.3 1.5-1.2 1.5-4.6 1.5 5.2 1.5 28.5 1.5-9.7 1.5-22.8 1.5-3.3 1.5 0.8 1.5 0.2 1.5 3.3 1.5 38.5 1.5 19.4 1.5-52 1.5-9.7 1.5 1.1 1.5-1.4 1.5 2.1 1.5 19 1.5 35.8 1.5-36.8 1.5-19 1.5 1.1 1.5 5.7 1.5 4.3 1.5-9.8 1.5-1.3 1.5 1.5 1.5-2.5 1.5-0.1 1.5 0.1 1.5-0.2 1.5 0.1 1.5 1.8 1.5 6.7 1.5 11.9 1.5-11.8 1.5-7.9 1.5 1.3 1.5-1.9 1.5-0.2 1.5 0.2 1.5 3.6 1.5 35.4 1.5 14.2 1.5-43.1 1.5-9.5 1.5 5.8 1.5 29.3 1.5-9.7 1.5-23.3 1.5-0.9 1.5-0.4 1.5 7 1.5 3.8 1.5-10.1 1.5-1.6 1.5 1.5 1.5 10.6 1.5 7.4 1.5-7.4 1.5-10" stroke="#111" stroke-width="1.3" fill="none" stroke-linejoin="round" />
<text x="171.5" y="2167.5" font-size="15">time (s)</text>
<text x="252.3" y="2167.5" font-size="15" text-anchor="middle">200</text>
<text x="342.5" y="2167.5" font-size="15" text-anchor="middle">400</text>
<text x="435.3" y="2167.5" font-size="15" text-anchor="middle">600</text>
<text x="530" y="2167.5" font-size="15" text-anchor="middle">800</text>
<text x="671.3" y="1772.9" font-size="34" font-weight="bold">l</text>
<circle cx="892.4" cy="1767.5" r="7.7" fill="none" stroke="#111" stroke-width="1.3"/>
<path d="M896.4,1760.9L905.4,1748.1M897,1750.3L905.4,1748.1L907.5,1755.8" fill="none" stroke="#111" stroke-width="1.3"/>
<text x="910.9" y="1770" font-size="20" fill="#e8a030" textLength="15" lengthAdjust="spacingAndGlyphs">In</text>
<path d="M913.2,1778L918.8,1779.8L924.4,1778L918.8,1790.7z" fill="#111"/>
<text x="937.3" y="1789" font-size="20" textLength="230" lengthAdjust="spacingAndGlyphs">mouse 5 | OVX | oil + E|P</text>
<path fill="#6cb33f" d="M919.8 1796.6h9.2v24.0h-9.2zM931.6 1796.6h5.9v24.0h-5.9z"/>
<path fill="#93c96c" d="M943.3 1796.6h1.0v24.0h-1.0zM948.1 1796.6h1.0v24.0h-1.0zM950.6 1796.6h1.0v24.0h-1.0zM1023.6 1796.6h1.0v24.0h-1.0zM1039.1 1796.6h1.0v24.0h-1.0zM1042.8 1796.6h1.0v24.0h-1.0zM1052.0 1796.6h1.0v24.0h-1.0zM1061.7 1796.6h1.3v24.0h-1.3zM1064.9 1796.6h1.0v24.0h-1.0zM1082.2 1796.6h1.0v24.0h-1.0zM1115.4 1796.6h1.0v24.0h-1.0zM1166.3 1796.6h1.0v24.0h-1.0zM1187.6 1796.6h1.0v24.0h-1.0zM1190.2 1796.6h1.0v24.0h-1.0zM1210.5 1796.6h1.0v24.0h-1.0zM1218.6 1796.6h1.0v24.0h-1.0zM1220.8 1796.6h1.0v24.0h-1.0z"/>
<path fill="#bfe0a0" d="M982.7 1796.6h1.0v24.0h-1.0z"/>
<path fill="#7b35a8" d="M937.5 1820.6h1.4v23.6h-1.4zM943.8 1820.6h1.4v23.6h-1.4zM953.0 1820.6h6.6v23.6h-6.6zM984.3 1820.6h5.5v23.6h-5.5zM1002.0 1820.6h1.4v23.6h-1.4zM1026.0 1820.6h1.4v23.6h-1.4zM1040.7 1820.6h1.4v23.6h-1.4zM1044.4 1820.6h1.4v23.6h-1.4zM1053.6 1820.6h1.4v23.6h-1.4zM1061.0 1820.6h1.4v23.6h-1.4zM1068.4 1820.6h1.4v23.6h-1.4zM1084.2 1820.6h1.4v23.6h-1.4zM1116.3 1820.6h1.4v23.6h-1.4zM1167.9 1820.6h1.4v23.6h-1.4zM1188.2 1820.6h1.4v23.6h-1.4zM1212.1 1820.6h1.4v23.6h-1.4zM1218.4 1820.6h1.4v23.6h-1.4z"/>
<path fill="#e04b1e" d="M960.4 1844.2h7.3v22.1h-7.3zM1004.6 1844.2h9.9v22.1h-9.9zM1086.8 1844.2h9.9v22.1h-9.9zM1118.9 1844.2h12.1v22.1h-12.1zM1212.8 1844.2h3.7v22.1h-3.7z"/>
<line x1="774.2" y1="1820.6" x2="1240.5" y2="1820.6" stroke="#c8c8c8" stroke-width="1" />
<line x1="774.2" y1="1844.2" x2="1240.5" y2="1844.2" stroke="#c8c8c8" stroke-width="1" />
<rect x="774.2" y="1796.6" width="466.3" height="69.7" fill="none" stroke="#111" stroke-width="1.2"/>
<path d="M829.5,1796.6v4M829.5,1866.3v-4M884.8,1796.6v4M884.8,1866.3v-4M940.1,1796.6v4M940.1,1866.3v-4M995.4,1796.6v4M995.4,1866.3v-4M1050.7,1796.6v4M1050.7,1866.3v-4M1106,1796.6v4M1106,1866.3v-4M1161.3,1796.6v4M1161.3,1866.3v-4M1216.6,1796.6v4M1216.6,1866.3v-4" stroke="#111" stroke-width="1"/>
<path d="M774.2,1832h4M1240.5,1832h-4" stroke="#111" stroke-width="1"/>
<text x="765.4" y="1813" font-size="20" text-anchor="end" fill="#6fb56a">male sniff</text>
<text x="765.4" y="1838.5" font-size="20" text-anchor="end" fill="#7232a2">mount</text>
<text x="765.4" y="1864" font-size="20" text-anchor="end" fill="#d0552e">intromission</text>
<line x1="767" y1="1806.5" x2="772" y2="1806.5" stroke="#6fb56a" stroke-width="1.2" />
<line x1="767" y1="1832" x2="772" y2="1832" stroke="#7232a2" stroke-width="1.2" />
<line x1="767" y1="1857.5" x2="772" y2="1857.5" stroke="#d0552e" stroke-width="1.2" />
<g><rect x="774.2" y="1876.6" width="466.3" height="167.7" fill="#4286da"/><path stroke="#4a4cb2" stroke-width="2.69" d="M1100 1877.9h25m105 0h5m-220 5.1h10m5 0h5m75 0h15m25 7.6h5m-240 5.1h5m5 0h10m20 0h5m-40 2.5h5m185 5.1h25m10 0h5m-210 15.2h10m30 0h5m40 0h5m75 0h5m5 0h5m85 5.1h10m-60 15.3h5m-125 2.5h5m5 0h5m60 0h10m10 0h5m-321 5.1h5m10 0h10m221 5.1h5m35 33h40m-331 2.5h5m30 0h15m5 0h5m361 0h5m-345 2.6h10m200 0h35m-351 7.6h5m326 43.2h5m70 0h5m5 0h5"/><path stroke="#4c5ac6" stroke-width="2.69" d="M960 1877.9h15m15 0h5m5 0h10m25 0h15m75 0h10m45 0h15m30 0h5m5 0h5m-325 2.5h5m30 0h5m80 0h5m-40 2.6h5m20 0h5m5 0h15m5 0h5m40 0h10m15 0h10m5 0h15m-170 2.5h5m170 0h5m-215 2.5h5m185 2.6h10m5 0h5m10 0h5m25 0h5m-285 5.1h5m10 0h10m5 0h5m5 0h10m15 0h5m5 0h5m50 0h20m5 0h5m75 0h5m55 0h5m-305 2.5h5m5 0h75m105 0h5m-180 5.1h5m30 0h10m5 0h10m110 0h10m25 0h10m5 0h20m5 0h5m-140 2.5h10m-135 2.6h25m15 0h5m220 0h55m-315 2.5h5m15 0h10m40 0h10m235 0h5m-320 5.1h15m5 0h5m15 0h5m5 0h15m5 0h10m105 0h20m60 0h5m-275 2.5h25m15 0h10m5 0h10m5 0h15m5 0h20m5 0h5m5 0h5m55 0h5m5 0h5m5 0h15m10 0h5m35 0h10m30 0h5m5 0h5m-325 5.1h20m135 0h10m120 0h5m10 0h25m-170 2.5h5m25 0h10m15 0h10m-90 5.1h5m110 0h25m50 0h5m-100 7.7h15m5 0h10m10 0h5m45 0h10m-240 2.5h35m5 0h5m55 0h10m10 0h10m45 0h5m-406 5.1h10m20 0h10m5 0h10m10 0h15m10 0h10m11 0h15m5 0h5m235 0h10m5 0h20m-376 2.5h5m10 0h10m45 0h5m-105 2.6h30m5 0h30m51 0h15m145 0h10m5 0h5m5 0h5m5 0h5m75 0h15m5 0h10m-401 2.5h15m101 0h5m-121 2.5h5m5 0h35m-60 2.6h15m65 0h5m10 0h5m6 0h5m5 0h5m-46 2.5h20m-100 2.6h5m10 0h5m10 0h5m5 0h15m15 0h20m21 0h5m5 0h15m140 0h5m115 0h5m20 0h15m15 0h5m5 0h5m-411 2.5h5m51 0h10m-121 2.5h5m10 0h5m5 0h5m86 0h20m-111 2.6h5m5 0h5m96 0h5m-141 2.5h40m10 0h20m35 0h21m5 0h10m245 0h10m5 0h5m-381 2.6h10m10 0h5m5 0h5m20 0h5m20 0h31m-76 2.5h5m10 0h5m5 0h5m41 0h5m190 0h5m10 0h20m-276 2.5h5m-90 2.6h141m85 0h25m5 0h5m5 0h15m85 0h10m20 0h5m-401 2.5h35m5 0h30m15 0h5m5 0h46m130 0h20m115 0h40m5 0h5m5 0h5m-466 2.6h85m5 0h26m10 0h15m-126 2.5h5m5 0h5m15 0h50m5 0h21m-116 2.6h5m10 0h15m76 0h15m-126 2.5h10m5 0h20m10 0h60m6 0h15m5 0h10m110 0h5m-256 10.2h10m5 0h15m20 0h15m15 0h5m5 0h10m31 0h5m-136 2.5h10m25 0h5m65 0h6m5 0h25m225 5.1h10m5 5.1h15m-270 2.5h5m280 0h5m10 0h10m-75 7.6h10m25 0h5m-125 2.6h5m-261 2.5h5m301 0h5m-5 5.1h15m5 0h10m50 0h10m5 0h5m5 0h10"/><path stroke="#486ed0" stroke-width="2.69" d="M915 1877.9h15m5 0h25m15 0h15m5 0h5m10 0h25m160 0h10m5 0h15m-305 2.5h30m5 0h5m45 0h10m5 0h15m5 0h10m55 0h20m5 0h5m65 0h20m15 0h5m-325 2.6h5m5 0h35m5 0h5m10 0h20m5 0h10m35 0h5m5 0h15m5 0h15m40 0h5m15 0h35m10 0h5m20 0h5m-315 2.5h5m15 0h10m15 0h20m10 0h10m145 0h15m5 0h5m60 0h10m-315 2.5h5m25 0h5m5 0h20m5 0h10m130 0h5m45 0h5m15 0h5m30 0h5m-315 2.6h5m30 0h10m15 0h10m10 0h10m10 0h5m70 0h15m10 0h5m5 0h5m20 0h10m5 0h25m5 0h30m-125 2.5h5m10 0h10m10 0h10m-210 2.6h5m20 0h5m5 0h5m5 0h5m75 0h5m5 0h20m25 0h10m10 0h10m5 0h5m15 0h5m15 0h15m5 0h15m-235 2.5h5m10 0h10m75 0h5m5 0h25m20 0h5m15 0h5m-265 5.1h15m5 0h10m10 0h10m10 0h5m10 0h10m55 0h15m5 0h5m10 0h10m70 0h5m-200 2.5h10m5 0h50m150 0h20m15 0h5m-290 2.6h15m5 0h10m15 0h15m5 0h15m15 0h5m70 0h20m5 0h5m95 0h5m-325 2.5h5m5 0h15m10 0h40m10 0h5m5 0h5m50 0h5m110 0h55m-305 2.5h5m55 0h5m-80 2.6h5m15 0h5m10 0h10m5 0h5m15 0h5m55 0h25m20 0h5m5 0h5m20 0h10m55 0h5m10 0h5m5 0h15m5 0h5m-290 2.5h5m10 0h5m30 0h5m30 0h5m5 0h5m10 0h10m10 0h5m10 0h5m35 0h10m5 0h20m5 0h10m10 0h15m5 0h10m5 0h5m-406 5.1h10m96 0h5m5 0h40m5 0h5m20 0h20m20 0h15m20 0h10m80 0h20m-280 2.5h10m15 0h5m10 0h20m70 0h20m5 0h10m25 0h15m10 0h45m-346 5.1h5m5 0h5m25 0h5m106 0h10m10 0h5m10 0h5m5 0h5m5 0h5m95 0h20m25 0h50m-135 5.1h10m-135 2.6h10m10 0h15m40 0h5m45 0h30m5 0h5m30 0h10m5 0h45m-180 2.5h10m75 0h40m5 0h15m-411 5.1h20m50 0h10m10 0h11m15 0h5m5 0h5m85 0h5m5 0h10m65 0h15m35 0h10m10 0h5m20 0h10m10 0h10m5 0h25m-466 2.5h30m5 0h10m10 0h45m5 0h6m5 0h20m-106 2.6h5m30 0h51m15 0h10m125 0h10m20 0h5m5 0h5m5 0h10m35 0h30m15 0h5m10 0h30m-451 2.5h20m15 0h101m100 0h10m-246 2.5h20m5 0h5m35 0h76m210 0h5m-356 2.6h5m15 0h65m5 0h10m5 0h6m5 0h5m5 0h15m-141 2.5h15m5 0h5m5 0h50m20 0h41m-136 2.6h10m5 0h10m5 0h5m15 0h15m20 0h21m5 0h5m15 0h5m140 0h25m10 0h5m20 0h5m20 0h30m5 0h20m15 0h15m5 0h5m-461 2.5h10m5 0h40m5 0h51m10 0h20m160 0h5m15 0h10m-326 2.5h10m5 0h5m5 0h86m20 0h5m310 0h5m-456 2.6h25m5 0h5m5 0h30m5 0h61m-96 2.5h10m20 0h35m21 0h5m130 0h5m5 0h5m95 0h15m10 0h5m-401 2.6h25m10 0h10m5 0h5m5 0h20m5 0h20m31 0h5m90 0h35m25 0h10m-301 2.5h60m5 0h10m5 0h5m5 0h41m5 0h5m165 0h5m20 0h10m55 0h5m-401 2.5h35m10 0h5m5 0h30m5 0h51m95 0h25m170 0h10m20 0h5m-215 2.6h5m5 0h5m15 0h20m10 0h15m50 0h20m5 0h5m35 0h10m-220 2.5h40m20 0h15m5 0h15m10 0h10m100 0h5m-366 2.6h5m271 0h15m5 0h5m55 0h5m5 0h10m-461 2.5h15m5 0h5m5 0h15m50 0h5m21 0h20m100 0h5m5 0h25m115 0h15m50 0h10m-466 2.6h5m5 0h10m15 0h60m5 0h11m15 0h15m-106 2.5h10m60 0h6m15 0h5m105 0h15m5 0h25m5 0h5m10 0h20m25 0h10m20 0h25m5 0h5m5 0h10m10 0h10m10 0h10m-466 2.5h45m10 0h5m10 0h71m205 0h5m-351 2.6h30m15 0h15m30 0h21m20 0h5m130 0h5m-271 2.5h10m5 0h126m145 0h5m-281 2.6h5m15 0h20m15 0h15m5 0h5m10 0h31m5 0h5m185 0h5m5 0h5m-331 2.5h25m5 0h65m6 0h5m115 0h5m-231 5.1h10m5 0h5m10 0h55m10 0h16m10 0h10m215 0h5m20 0h25m-30 2.5h5m20 0h5m-316 2.6h10m5 0h11m230 0h10m10 0h20m15 0h10m-406 2.5h65m5 0h56m5 0h10m135 0h20m15 0h5m5 0h20m10 0h10m5 0h15m20 0h10m5 0h10m10 0h20m-441 2.5h5m15 0h5m10 0h5m15 0h5m51 0h5m-126 2.6h40m5 0h15m5 0h5m5 0h5m5 0h41m50 0h15m35 0h15m-231 2.5h15m10 0h5m10 0h5m311 0h15m5 0h5m5 0h5m-406 2.6h15m40 0h5m5 0h20m10 0h5m181 0h30m10 0h5m80 0h5m-411 2.5h20m5 0h116m25 0h10m10 0h5m55 0h5m30 0h5m20 0h20m5 0h30m5 0h35m20 0h25m-446 2.5h15m15 0h5m10 0h5m5 0h5m56 0h5m160 0h5m25 0h5m10 0h5m5 0h5m-321 2.6h45m5 0h71m20 0h5m190 0h5m80 0h25m-441 2.5h15m40 0h5m5 0h5m5 0h5m16 0h15"/><path stroke="#3ca0dc" stroke-width="2.69" d="M774 1877.9h40m20 0h20m10 0h5m10 0h6m5 0h5m5 0h15m140 0h5m10 0h5m5 0h10m45 0h15m-240 2.5h5m135 0h5m10 0h5m10 0h20m35 0h10m5 0h30m-396 2.6h5m5 0h35m5 0h15m10 0h5m10 0h5m6 0h5m15 0h10m100 2.5h5m10 0h5m5 0h35m5 0h5m20 0h10m80 0h10m5 0h10m-275 2.5h5m80 0h5m35 0h5m25 0h10m5 0h5m15 0h35m5 0h5m35 0h5m-175 2.6h10m15 0h20m-155 2.5h15m60 0h10m15 0h10m20 0h30m75 0h10m-406 2.6h5m10 0h15m20 0h15m46 0h30m130 0h5m50 0h5m85 0h5m-421 2.5h5m20 0h10m5 0h10m5 0h25m15 0h5m5 0h21m170 0h10m110 0h5m5 0h35m-315 2.5h5m5 0h10m5 0h5m5 0h5m5 0h45m10 0h30m5 0h40m5 0h10m5 0h20m10 0h5m15 0h5m10 0h10m25 0h5m5 0h15m-426 2.6h15m25 0h5m5 0h5m131 0h5m15 0h15m5 0h10m130 0h25m-275 2.5h5m5 0h10m100 0h10m5 0h10m10 0h30m5 0h10m5 0h15m5 0h25m-401 2.6h5m10 0h20m5 0h10m5 0h15m15 0h5m31 0h15m160 0h5m5 0h10m50 0h5m5 0h5m-381 2.5h5m70 0h20m26 0h5m120 0h5m20 0h5m45 0h5m10 0h10m10 0h15m10 0h20m-265 2.5h5m30 0h10m5 0h10m50 0h15m5 0h10m5 0h5m5 0h10m10 0h10m30 0h25m5 0h20m55 0h5m-466 2.6h10m10 0h121m165 0h5m55 0h5m5 0h10m5 0h5m-396 2.5h35m15 0h10m5 0h15m10 0h15m6 0h30m-86 2.6h30m15 0h41m10 0h5m15 0h20m5 0h5m5 0h20m180 0h5m20 0h5m5 0h5m5 0h5m-456 2.5h5m5 0h5m10 0h5m50 0h5m5 0h5m5 0h5m11 0h5m240 0h35m-396 2.5h30m15 0h5m5 0h86m85 0h5m5 0h5m5 0h5m5 0h5m10 0h5m135 0h10m5 0h5m5 0h5m5 0h5m5 0h5m-461 2.6h116m5 0h5m5 0h10m90 0h5m10 0h10m5 0h5m5 0h5m10 0h85m25 0h5m5 0h35m-300 2.5h15m5 0h20m15 0h5m80 0h10m10 0h15m5 0h5m5 0h5m10 0h15m-361 2.6h25m10 0h5m5 0h15m5 0h5m5 0h5m5 0h15m5 0h36m45 0h5m10 0h5m10 0h10m20 0h5m15 0h10m30 0h15m5 0h5m5 0h5m25 0h5m10 0h5m5 0h5m5 0h5m10 0h5m5 0h10m-436 2.5h25m15 0h15m5 0h25m5 0h31m5 0h10m95 0h5m10 0h10m5 0h10m10 0h20m15 0h10m30 0h5m5 0h5m40 0h5m35 0h15m-466 2.6h5m45 0h5m5 0h5m10 0h20m41 0h5m10 0h20m5 0h10m75 0h5m-266 2.5h5m10 0h55m30 0h21m5 0h10m20 0h5m15 0h10m25 0h15m65 0h5m15 0h5m145 0h5m-466 2.5h60m20 0h5m5 0h10m16 0h25m25 0h10m10 0h5m10 0h5m5 0h15m50 0h25m10 0h10m15 0h5m20 0h30m10 0h5m40 0h10m-280 2.6h10m10 0h15m5 0h10m45 0h5m50 0h5m15 0h10m-125 2.5h20m40 0h10m-135 2.6h10m15 0h30m105 0h20m-160 2.5h10m75 0h15m30 0h5m5 0h5m10 0h10m5 0h5m5 0h10m65 0h25m-255 2.5h15m20 0h5m5 0h5m5 0h10m5 0h10m5 0h30m10 0h5m30 0h15m15 0h5m-185 2.6h30m5 0h20m5 0h20m5 0h5m5 0h20m5 0h5m10 0h5m65 0h5m15 0h5m-290 2.5h5m20 0h5m40 0h5m40 0h5m15 0h5m-130 2.6h30m5 0h10m35 0h5m-100 2.5h5m5 0h5m5 0h40m10 0h15m5 0h5m90 0h5m10 0h5m5 0h5m5 0h5m5 0h5m10 0h5m20 0h5m-290 2.5h15m15 0h5m5 0h15m20 0h30m5 0h5m20 0h5m5 0h10m10 0h15m10 0h5m25 0h10m10 0h10m20 0h5m5 0h10m-150 2.6h5m5 0h65m-165 2.5h15m5 0h20m5 0h10m40 0h5m20 0h5m5 0h5m5 0h5m10 0h10m50 0h5m15 0h15m5 0h10m-245 2.6h15m75 0h5m10 0h10m5 0h5m5 0h80m5 0h15m5 0h20m-325 2.5h10m20 0h5m5 0h5m5 0h5m10 0h10m5 0h5m50 0h10m10 0h5m105 0h10m5 0h20m5 0h5m10 0h5m-290 2.5h5m10 0h5m85 0h45m30 0h10m10 0h10m30 0h5m25 0h5m-280 2.6h20m10 0h5m200 0h20m30 0h10m-270 2.5h10m5 0h10m160 0h10m-200 2.6h10m15 0h10m20 0h20m5 0h5m5 0h25m5 0h15m65 0h5m15 0h20m-275 2.5h10m10 0h5m20 0h15m70 0h30m5 0h10m15 0h15m55 0h25m5 0h5m-235 2.6h25m5 0h5m5 0h5m65 0h10m5 0h15m10 0h15m5 0h5m5 0h5m5 0h20m10 0h5m15 0h10m-320 2.5h10m10 0h10m30 0h20m100 0h5m35 0h5m-215 2.5h5m10 0h10m20 0h5m10 0h5m20 0h5m160 0h10m5 0h5m5 0h5m5 0h25m-260 2.6h25m5 0h15m45 0h15m15 0h5m5 0h5m55 0h10m20 0h20m10 0h10m-240 2.5h10m5 0h10m5 0h15m5 0h10m55 0h5m15 0h10m10 0h10m5 0h10m35 0h5m-285 2.6h5m35 0h25m5 0h10m10 0h20m90 0h10m5 0h30m5 0h5m20 0h20m-295 2.5h5m30 0h10m5 0h5m50 0h15m10 0h20m5 0h20m5 0h10m10 0h5m5 0h95m-461 2.5h5m20 0h5m5 0h10m201 0h5m35 0h5m65 0h5m15 0h5m15 0h20m15 0h5m5 0h5m5 0h10m-275 2.6h5m10 0h5m15 0h25m5 0h5m5 0h10m10 0h50m70 0h25m30 0h5m-441 2.5h10m151 0h10m25 0h5m55 0h5m5 0h5m5 0h5m110 0h5m-240 2.6h10m25 0h5m5 0h10m20 0h5m5 0h10m40 0h5m85 0h5m5 0h5m10 0h35m-325 2.5h5m5 0h5m25 0h10m20 0h20m10 0h35m-160 2.5h5m20 0h5m10 0h5m5 0h15m10 0h30m50 0h5m5 0h5m5 0h10m5 0h5m5 0h15m5 0h5m35 0h5m25 0h5m20 0h5m5 0h20m-320 2.6h5m15 0h5m30 0h5m75 0h20m5 0h5m10 0h10m20 0h5m70 0h20m5 0h15m-320 2.5h10m65 0h15m95 0h35m55 0h5m10 0h5m10 0h15m-320 2.6h10m15 0h10m5 0h10m15 0h10m115 0h10m80 0h15m15 0h10m-315 2.5h5m55 0h5m5 0h15m5 0h5m30 0h5m130 0h10m-275 2.5h45m5 0h20m10 0h5m20 0h10m15 0h5m20 0h10m55 0h30m5 0h15m5 0h5m-280 2.6h15m15 0h45m75 0h10m5 0h10m65 0h15m-240 2.5h15m5 0h15m5 0h25m5 0h25m5 0h20m15 0h5m15 0h5m5 0h5m15 0h5m5 0h20m35 0h5m10 0h25m15 0h5"/><path stroke="#40b4d4" stroke-width="2.69" d="M814 1877.9h20m20 0h10m5 0h10m6 0h5m5 0h5m160 0h10m-296 2.5h10m30 0h10m5 0h5m5 0h25m5 0h10m6 0h25m235 0h5m-376 2.6h10m5 0h5m35 0h5m15 0h10m5 0h10m5 0h6m5 0h15m-131 2.5h95m5 0h5m11 0h25m170 0h15m-321 2.5h10m5 0h5m5 0h5m35 0h20m5 0h16m5 0h10m10 0h5m85 0h30m5 0h15m5 0h15m5 0h20m-316 2.6h45m20 0h25m21 0h5m5 0h5m160 0h5m20 0h10m-326 2.5h5m20 0h91m10 0h5m5 0h5m90 0h5m10 0h15m10 0h20m30 0h5m110 0h10m10 0h5m-456 2.6h10m15 0h20m15 0h46m115 0h5m5 0h20m5 0h10m-266 2.5h20m10 0h5m10 0h5m25 0h15m5 0h5m21 0h15m-141 2.5h5m5 0h5m10 0h10m10 0h66m5 0h10m5 0h10m135 0h5m40 0h5m10 0h5m20 0h10m25 0h10m10 0h5m5 0h15m5 0h5m-451 2.6h40m15 0h25m5 0h5m5 0h46m290 0h35m-466 2.5h5m5 0h40m20 0h25m10 0h36m165 0h5m30 0h5m10 0h5m-361 2.6h5m5 0h10m20 0h5m10 0h5m15 0h15m5 0h31m180 0h5m-311 2.5h5m5 0h5m5 0h10m5 0h45m20 0h26m5 0h10m190 0h10m10 0h10m-361 2.5h20m15 0h10m5 0h15m15 0h25m6 0h10m10 0h5m155 0h5m85 0h5m25 0h10m20 0h20m-451 2.6h10m341 0h5m-331 2.5h15m10 0h5m15 0h10m15 0h6m-111 2.6h55m30 0h15m91 0h5m100 0h10m5 0h10m90 0h20m5 0h5m5 0h5m5 0h10m-436 5h15m186 0h5m15 0h5m-130 2.6h5m45 0h5m10 0h5m20 0h10m40 0h5m5 0h10m85 0h25m5 0h5m35 0h25m-310 2.5h5m175 0h10m-321 2.6h10m5 0h5m15 0h5m5 0h5m5 0h5m15 0h5m36 0h30m5 0h10m5 0h10m5 0h10m10 0h20m5 0h15m65 0h5m10 0h20m5 0h10m5 0h5m5 0h5m5 0h10m5 0h5m10 0h30m-441 2.5h15m45 0h5m31 0h5m10 0h5m10 0h10m15 0h30m15 0h5m30 0h5m110 0h10m10 0h10m5 0h5m5 0h20m5 0h10m-310 2.6h10m0 2.5h5m5 0h15m10 0h5m10 0h10m105 0h10m-266 2.5h20m20 0h16m40 0h10m10 0h10m5 0h10m5 0h5m60 0h5m25 0h10m15 0h10m5 0h20m45 0h15m15 0h10m10 0h5m-320 2.6h5m5 0h10m25 0h10m135 0h15m-170 2.5h55m20 0h40m10 0h15m5 0h5m25 0h5m50 0h5m10 0h15m-290 2.6h5m5 0h10m10 0h15m155 0h5m5 0h5m-215 2.5h40m10 0h30m60 0h10m10 0h10m5 0h5m5 0h5m70 0h35m-300 2.5h10m15 0h45m65 0h5m10 0h5m110 0h5m45 0h5m-300 2.6h60m55 0h5m20 0h5m5 0h5m-170 2.5h15m5 0h20m5 0h5m5 0h15m5 0h10m5 0h5m5 0h10m15 0h5m5 0h15m5 0h10m10 0h15m10 0h10m5 0h60m15 0h30m-315 2.6h10m5 0h5m-30 2.5h15m5 0h5m5 0h5m65 0h5m15 0h15m85 0h5m55 0h5m5 0h35m-310 2.5h15m5 0h5m145 0h5m5 0h10m5 0h10m10 0h10m10 0h15m-230 2.6h5m20 0h5m10 0h15m5 0h15m25 0h5m75 0h5m20 0h5m5 0h20m20 0h5m5 0h10m-300 2.5h20m10 0h10m15 0h5m115 0h5m25 0h5m50 0h15m30 0h10m-315 2.6h20m25 0h5m5 0h5m115 0h5m5 0h5m-190 2.5h20m5 0h5m5 0h5m5 0h10m10 0h5m5 0h10m205 0h5m5 0h10m-310 2.5h25m10 0h5m5 0h10m5 0h15m100 0h30m10 0h5m15 0h15m-260 2.6h30m-30 2.5h25m5 0h25m25 0h5m-85 2.6h20m10 0h20m-45 2.5h10m10 0h10m5 0h20m115 0h5m120 0h5m-290 2.6h25m5 0h10m5 0h15m25 0h5m5 0h5m65 0h5m10 0h5m40 0h5m40 0h10m5 0h15m-315 2.5h5m10 0h10m-25 2.5h15m5 0h10m10 0h20m5 0h10m5 0h20m5 0h10m5 0h25m5 0h10m5 0h5m105 0h5m5 0h5m5 0h5m-275 2.6h5m20 0h15m70 0h20m15 0h5m5 0h5m5 0h5m5 0h30m15 0h10m50 0h10m-285 2.5h10m145 0h15m5 0h15m10 0h10m10 0h5m10 0h5m5 0h25m5 0h20m-325 2.6h20m5 0h35m45 0h5m30 0h10m20 0h5m55 0h5m-235 2.5h20m5 0h30m85 0h10m75 0h5m-230 2.5h5m20 0h10m40 0h15m15 0h5m5 0h5m35 0h15m15 0h35m10 0h10m5 0h15m20 0h5m-280 2.6h30m10 0h5m5 0h10m5 0h15m50 0h10m-130 2.5h5m10 0h15m10 0h25m5 0h15m5 0h5m10 0h20m5 0h5m5 0h5m5 0h5m95 0h10m5 0h5m20 0h20m-315 2.6h30m10 0h25m5 0h5m50 0h20m5 0h5m5 0h5m-170 2.5h5m80 0h10m-95 2.5h10m5 0h5m15 0h10m30 0h5m15 0h5m5 0h15m20 0h5m10 0h5m5 0h5m15 0h5m5 0h20m5 0h10m5 0h15m5 0h5m5 0h15m-130 2.6h5m25 0h20m5 0h5m10 0h40m35 0h5m15 0h5m-195 2.5h5m10 0h5m25 0h5m100 0h10m5 0h5m20 0h5m-265 2.6h5m20 0h40m5 0h5m95 0h5m20 0h10m-195 5h10m5 0h15m15 0h15m120 0h5m25 0h20m-200 2.6h20m10 0h5m-55 2.5h5m50 0h15m5 0h15m5 0h5m50 0h35"/><path stroke="#54c3bc" stroke-width="2.69" d="M784 1880.4h30m10 0h5m5 0h5m25 0h5m10 0h6m-16 5.1h5m5 0h11m-116 2.5h5m10 0h5m5 0h5m5 0h35m20 0h5m16 0h5m10 0h10m140 0h5m40 0h5m-326 2.6h5m45 0h20m25 0h21m5 0h5m5 0h10m-136 2.5h20m91 0h10m5 0h5m90 0h5m175 0h30m10 0h10m5 0h5m-235 2.6h5m20 0h5m-256 5h5m5 0h10m10 0h10m66 0h5m10 0h5m290 0h5m-421 5.1h5m40 0h20m25 0h10m196 0h5m-291 5.1h5m10 0h5m-15 2.5h15m10 0h5m15 0h15m25 0h6m10 0h10m5 0h5m265 0h5m10 0h5m5 0h10m-210 7.7h10m25 0h30m10 0h5m10 0h20m15 0h5m-205 7.6h20m5 0h10m5 0h5m5 0h10m-45 5.1h5m-35 2.5h5m15 0h15m30 0h15m140 0h5m15 0h10m10 0h5m30 0h5m-300 5.1h10m40 0h10m-60 2.5h15m80 0h25m5 0h5m150 0h15m25 0h5m-320 2.6h5m10 0h15m-10 2.5h10m140 0h5m5 0h25m5 0h20m20 0h10m5 0h10m15 0h20m5 0h5m-325 2.6h5m5 0h5m195 0h5m-215 2.5h5m150 0h10m-155 2.5h15m245 0h45m5 0h5m-325 2.6h20m-20 2.5h5m50 0h5m15 0h5m20 0h5m10 0h15m40 0h10m15 0h10m10 0h5m60 0h15m-295 2.6h10m10 0h5m240 2.5h15m-75 2.5h5m-210 2.6h35m5 0h20m5 0h10m15 0h5m15 0h20m90 0h20m5 0h5m20 0h20m5 0h5m10 0h15m-325 2.5h10m20 0h10m-40 2.6h10m20 0h25m5 0h5m30 2.5h40m-135 2.5h10m30 0h5m20 0h5m190 0h5m-240 5.1h5m-10 2.6h10m-30 2.5h5m-5 2.6h15m25 0h5m10 0h5m80 0h5m25 0h10m-65 5h5m25 0h5m10 0h5m5 0h15m50 0h5m5 0h15m-255 2.6h20m5 0h20m125 0h5m50 0h15m-240 2.5h25m10 0h20m5 0h20m185 0h5m-140 2.6h5m10 0h20m5 0h10m-180 5h20m10 0h5m5 0h30m15 0h15m15 0h10m5 0h15m20 0h15m-185 2.6h5m30 0h10m-45 2.5h15m5 0h10m70 0h5m5 0h10m50 0h15m100 0h20m-300 2.6h5m145 0h5m5 0h5m10 0h5m-100 5h15m5 0h5m15 0h5m90 0h5m30 0h5m-45 2.6h10m-135 2.5h40m5 0h10m5 0h25m5 0h5m-60 2.6h5m90 0h10m5 0h20m-155 5h5m195 0h25m-240 2.6h15m20 0h10"/><path stroke="#7dc891" stroke-width="2.69" d="M1200 1913.4h5m-205 7.7h5m10 0h25m75 0h15m-215 7.6h15m45 0h5m-60 7.6h5m75 7.6h10m25 0h5m-120 5.1h20m210 0h20m60 0h5m-190 22.9h5m0 22.9h5m5 0h25m50 5h15m5 0h5m15 0h5m-265 2.6h5m-5 2.5h5m55 0h5m-25 7.6h5m85 0h5m-135 7.7h5"/><path stroke="#b4cd5a" stroke-width="2.69" d="M915 1949h5"/></g>
<rect x="774.2" y="1876.6" width="466.3" height="167.7" fill="none" stroke="#111" stroke-width="1.2"/>
<path d="M829.5,1876.6v4M829.5,2044.3v-4M884.8,1876.6v4M884.8,2044.3v-4M940.1,1876.6v4M940.1,2044.3v-4M995.4,1876.6v4M995.4,2044.3v-4M1050.7,1876.6v4M1050.7,2044.3v-4M1106,1876.6v4M1106,2044.3v-4M1161.3,1876.6v4M1161.3,2044.3v-4M1216.6,1876.6v4M1216.6,2044.3v-4" stroke="#111" stroke-width="1"/>
<path d="M774.2,1900.6h4M1240.5,1900.6h-4M774.2,1927.3h4M1240.5,1927.3h-4M774.2,1953.7h4M1240.5,1953.7h-4M774.2,1980.2h4M1240.5,1980.2h-4M774.2,2006.9h4M1240.5,2006.9h-4M774.2,2033.6h4M1240.5,2033.6h-4" stroke="#111" stroke-width="1"/>
<text x="769" y="1932.6" font-size="15" text-anchor="end">20</text>
<text x="769" y="1985.5" font-size="15" text-anchor="end">40</text>
<text x="769" y="2038.9" font-size="15" text-anchor="end">60</text>
<text x="765.4" y="2013.5" font-size="15" text-anchor="end">neurons</text>
<rect x="1258.8" y="1944.7" width="12.7" height="47.6" fill="url(#parula)" stroke="#333" stroke-width="0.8"/>
<text x="1275.8" y="1957" font-size="12">8</text>
<text x="1275.8" y="1975" font-size="12">zscore</text>
<text x="1272.8" y="1992" font-size="12">-4</text>
<text x="788" y="2064" font-size="15">time (s)</text>
<text x="888.6" y="2064" font-size="15" text-anchor="middle">100</text>
<text x="998" y="2064" font-size="15" text-anchor="middle">200</text>
<text x="1109.2" y="2064" font-size="15" text-anchor="middle">300</text>
<text x="1217.6" y="2064" font-size="15" text-anchor="middle">400</text>
<rect x="765.4" y="2079.6" width="497.1" height="67.7" fill="none" stroke="#111" stroke-width="1.2"/>
<text x="749.6" y="2087" font-size="15">1</text>
<text x="746" y="2154" font-size="15">0</text>
<text x="696" y="2095.5" font-size="15" text-anchor="middle">forward</text>
<text x="693.2" y="2115.5" font-size="15" text-anchor="middle">simulation accuracy</text>
<text x="695.3" y="2134" font-size="15" text-anchor="middle">(1-norm. mse)</text>
<path d="M787.0 2081.4l2.5 0 2.5 0 2.5-0.3 2.5 0.2 2.5-0.2 2.5-0.1 2.5 0.4 2.5-0.4 2.5 0.1 2.5 0.3 2.5 0.3 2.5-0.7 2.5 0.2 2.5-0.2 2.5 0.2 2.5 0 2.5 0 2.5-0.2 2.5 0.1 2.5 0.3 2.5-0.4 2.5 0.2 2.5 0.1 2.5-0.2 2.5-0.1 2.5 0 2.5 0.1 2.5 0 2.5 0.1 2.5 0 2.5-0.1 2.5 0 2.5 0.3 2.5 0 2.5-0.2 2.5-0.2 2.5 0.2 2.5 0 2.5-0.2 2.5 0 2.5 0.1 2.5 0.1 2.5 0.2 2.5-0.1 2.5-0.2 2.5 0.1 2.5-0.1 2.5-0.1 2.5 0.2 2.5 0.2 2.5 0 2.5-0.3 2.5 0.2 2.5-0.1 2.5 0.2 2.5 1.8 2.5-0.7 2.5-1.3 2.5-0.1 2.5 0 2.5 0.2 2.5 0.5 2.5 1.4 2.5-0.8 2.5-1.1 2.5 0 2.5 0 2.5-0.3 2.5 0.3 2.5-0.3 2.5 0.2 2.5 0 2.5 0.3 2.5-0.3 2.5 0 2.5-0.1 2.5 0.4 2.5-0.4 2.5 0 2.5 0.2 2.5 0.3 2.5-0.5 2.5 0.1 2.5 0.5 2.5 2.4 2.5-2 2.5-0.8 2.5-0.2 2.5 0.2 2.5-0.2 2.5 0 2.5 0 2.5 0.1 2.5 0.3 2.5-0.1 2.5-0.1 2.5-0.1 2.5-0.1 2.5 0 2.5 0.7 2.5 1.2 2.5-1 2.5-0.8 2.5 0.1 2.5-0.2 2.5 0.1 2.5 0.1 2.5 0 2.5-0.2 2.5 0.3 2.5-0.4 2.5 0.2 2.5 0.1 2.5-0.2 2.5 0.4 2.5 0.2 2.5 0.8 2.5-0.5 2.5-0.8 2.5 0 2.5-0.1 2.5 0 2.5 0 2.5 0.1 2.5 0 2.5 0.3 2.5-0.4 2.5 0.2 2.5-0.3 2.5 0.4 2.5-0.3 2.5 0.1 2.5 0.1 2.5 0 2.5-0.3 2.5 0.1 2.5 0 2.5 0 2.5 0.3 2.5 0 2.5-0.4 2.5 0.3 2.5-0.2 2.5 1 2.5 1.4 2.5-0.6 2.5-1.3 2.5-0.4 2.5-0.1 2.5 0.1 2.5 0 2.5-0.1 2.5 0.2 2.5-0.2 2.5 0 2.5 0 2.5-0.1 2.5 0.2 2.5 0.1 2.5-0.3 2.5 0.2 2.5 0 2.5 0 2.5 0 2.5 0.2 2.5-0.1 2.5-0.2 2.5 0.4 2.5 1.5 2.5-1 2.5-0.9 2.5 0.2 2.5 0 2.5-0.2 2.5 0 2.5 2 2.5-0.5 2.5-1.4 2.5 0.1 2.5-0.1" stroke="#111" stroke-width="1.3" fill="none" stroke-linejoin="round" />
<text x="790.8" y="2168" font-size="15">time (s)</text>
<text x="890.8" y="2168" font-size="15" text-anchor="middle">100</text>
<text x="1000.8" y="2168" font-size="15" text-anchor="middle">200</text>
<text x="1109.2" y="2168" font-size="15" text-anchor="middle">300</text>
<text x="1216" y="2168" font-size="15" text-anchor="middle">400</text>
<text x="47.2" y="2243.5" font-size="34" font-weight="bold">m</text>
<circle cx="225.9" cy="2229" r="7.7" fill="none" stroke="#111" stroke-width="1.3"/>
<path d="M229.9,2222.4L238.9,2209.6M230.5,2211.8L238.9,2209.6L241,2217.3" fill="none" stroke="#111" stroke-width="1.3"/>
<text x="243.2" y="2229.5" font-size="20" fill="#e8a030" textLength="15" lengthAdjust="spacingAndGlyphs">In</text>
<path d="M244.9,2237L250.5,2238.8L256.1,2237L250.5,2249.7z" fill="#111"/>
<text x="290.8" y="2222" font-size="18" textLength="199.4" lengthAdjust="spacingAndGlyphs">PCs of dynamical system</text>
<text x="290.8" y="2244.5" font-size="18" textLength="200.4" lengthAdjust="spacingAndGlyphs">mouse 5 | OVX | oil + E|P</text>
<path fill="#6cb33f" d="M294.9 2255.1h8.5v16.2h-8.5zM305.8 2255.1h5.4v16.2h-5.4z"/>
<path fill="#93c96c" d="M316.5 2255.1h1.0v16.2h-1.0zM320.9 2255.1h1.0v16.2h-1.0zM323.2 2255.1h1.0v16.2h-1.0zM390.4 2255.1h1.0v16.2h-1.0zM404.7 2255.1h1.0v16.2h-1.0zM408.1 2255.1h1.0v16.2h-1.0zM416.5 2255.1h1.0v16.2h-1.0zM425.5 2255.1h1.2v16.2h-1.2zM428.4 2255.1h1.0v16.2h-1.0zM444.3 2255.1h1.0v16.2h-1.0zM474.9 2255.1h1.0v16.2h-1.0zM521.7 2255.1h1.0v16.2h-1.0zM541.3 2255.1h1.0v16.2h-1.0zM543.7 2255.1h1.0v16.2h-1.0zM562.3 2255.1h1.0v16.2h-1.0zM569.8 2255.1h1.0v16.2h-1.0zM571.8 2255.1h1.0v16.2h-1.0z"/>
<path fill="#bfe0a0" d="M352.8 2255.1h1.0v16.2h-1.0z"/>
<path fill="#7b35a8" d="M311.2 2271.3h1.4v15.9h-1.4zM317.0 2271.3h1.4v15.9h-1.4zM325.5 2271.3h6.1v15.9h-6.1zM354.3 2271.3h5.1v15.9h-5.1zM370.5 2271.3h1.4v15.9h-1.4zM392.6 2271.3h1.4v15.9h-1.4zM406.1 2271.3h1.4v15.9h-1.4zM409.5 2271.3h1.4v15.9h-1.4zM418.0 2271.3h1.4v15.9h-1.4zM424.8 2271.3h1.4v15.9h-1.4zM431.6 2271.3h1.4v15.9h-1.4zM446.1 2271.3h1.4v15.9h-1.4zM475.7 2271.3h1.4v15.9h-1.4zM523.1 2271.3h1.4v15.9h-1.4zM541.8 2271.3h1.4v15.9h-1.4zM563.8 2271.3h1.4v15.9h-1.4zM569.6 2271.3h1.4v15.9h-1.4z"/>
<path fill="#e04b1e" d="M332.3 2287.2h6.7v14.5h-6.7zM373.0 2287.2h9.1v14.5h-9.1zM448.6 2287.2h9.1v14.5h-9.1zM478.1 2287.2h11.1v14.5h-11.1zM564.5 2287.2h3.4v14.5h-3.4z"/>
<line x1="161.1" y1="2271.3" x2="591.3" y2="2271.3" stroke="#c8c8c8" stroke-width="1" />
<line x1="161.1" y1="2287.2" x2="591.3" y2="2287.2" stroke="#c8c8c8" stroke-width="1" />
<rect x="161.1" y="2255.1" width="430.2" height="46.6" fill="none" stroke="#111" stroke-width="1.2"/>
<path d="M211.9,2255.1v3M211.9,2301.7v-3M262.8,2255.1v3M262.8,2301.7v-3M313.6,2255.1v3M313.6,2301.7v-3M364.5,2255.1v3M364.5,2301.7v-3M415.4,2255.1v3M415.4,2301.7v-3M466.2,2255.1v3M466.2,2301.7v-3M517.1,2255.1v3M517.1,2301.7v-3M568,2255.1v3M568,2301.7v-3" stroke="#111" stroke-width="1"/>
<path d="M161.1,2279.3h4M591.3,2279.3h-4" stroke="#111" stroke-width="1"/>
<text x="153.2" y="2266.5" font-size="18" text-anchor="end" fill="#6fb56a" textLength="86.6" lengthAdjust="spacingAndGlyphs">male sniff</text>
<text x="152.2" y="2284" font-size="18" text-anchor="end" fill="#7232a2">mount</text>
<text x="152.2" y="2302" font-size="18" text-anchor="end" fill="#d0552e" textLength="108.4" lengthAdjust="spacingAndGlyphs">intromission</text>
<line x1="154.5" y1="2261" x2="159" y2="2261" stroke="#6fb56a" stroke-width="1.2" />
<line x1="154.5" y1="2279" x2="159" y2="2279" stroke="#7232a2" stroke-width="1.2" />
<line x1="154.5" y1="2296.5" x2="159" y2="2296.5" stroke="#d0552e" stroke-width="1.2" />
<path fill="#d9eecb" d="M294.9 2311.8h8.5v77.7h-8.5zM305.8 2311.8h5.4v77.7h-5.4zM316.2 2311.8h1.6v77.7h-1.6zM320.6 2311.8h1.6v77.7h-1.6zM322.9 2311.8h1.6v77.7h-1.6zM352.5 2311.8h1.6v77.7h-1.6zM390.1 2311.8h1.6v77.7h-1.6zM404.4 2311.8h1.6v77.7h-1.6zM407.8 2311.8h1.6v77.7h-1.6zM416.2 2311.8h1.6v77.7h-1.6zM425.3 2311.8h1.6v77.7h-1.6zM428.1 2311.8h1.6v77.7h-1.6zM444.0 2311.8h1.6v77.7h-1.6zM474.6 2311.8h1.6v77.7h-1.6zM521.4 2311.8h1.6v77.7h-1.6zM541.0 2311.8h1.6v77.7h-1.6zM543.4 2311.8h1.6v77.7h-1.6zM562.0 2311.8h1.6v77.7h-1.6zM569.5 2311.8h1.6v77.7h-1.6zM571.5 2311.8h1.6v77.7h-1.6z"/>
<path fill="#dccfe9" d="M311.1 2311.8h1.6v77.7h-1.6zM316.9 2311.8h1.6v77.7h-1.6zM325.5 2311.8h6.1v77.7h-6.1zM354.3 2311.8h5.1v77.7h-5.1zM370.4 2311.8h1.6v77.7h-1.6zM392.5 2311.8h1.6v77.7h-1.6zM406.0 2311.8h1.6v77.7h-1.6zM409.4 2311.8h1.6v77.7h-1.6zM417.9 2311.8h1.6v77.7h-1.6zM424.7 2311.8h1.6v77.7h-1.6zM431.5 2311.8h1.6v77.7h-1.6zM446.0 2311.8h1.6v77.7h-1.6zM475.6 2311.8h1.6v77.7h-1.6zM523.0 2311.8h1.6v77.7h-1.6zM541.7 2311.8h1.6v77.7h-1.6zM563.7 2311.8h1.6v77.7h-1.6zM569.5 2311.8h1.6v77.7h-1.6z"/>
<path fill="#ebc7bb" d="M332.3 2311.8h6.7v77.7h-6.7zM373.0 2311.8h9.1v77.7h-9.1zM448.6 2311.8h9.1v77.7h-9.1zM478.1 2311.8h11.1v77.7h-11.1zM564.5 2311.8h3.4v77.7h-3.4z"/>
<path d="M162.4 2385.7l2 0.1 1.9-0.4 1.9-0.9 2-0.3 1.7 1.1 1.7 0.1 1.7 1.3 1.7 0.6 1.7 0.7 1.7 0.2 1.7 0.4 1.7 0.2 1.7-0.6 1.6 0.2 1.7 0.2 1.7 0.3 1.7 0.5 1.7 0 1.7-0.2 1.7-0.6 1.7-0.2 1.6-3.2 1.7-0.3 1.7-1.7 1.7 0 1.7 0.7 1.7 0.7 1.7 0.6 1.7 0 1.7 0.4 1.7 1.1 1.6 1.4 1.7 0.7 1.7 0.5 1.7-0.5 1.7 0.1 1.7-2.6 1.7-0.5 1.7-0.5 1.7-0.7 1.7 0 1.7 0 1.7 0.2 1.6-0.7 1.7-0.4 1.7-0.5 1.7 0.2 1.7 0.3 1.7 1.2 1.7 0.8 1.7 0.6 1.7-0.6 1.7-1.3 1.7-1.2 1.6-1.2 1.7-0.3 1.7-0.6 1.7 0.9 1.7 2.3 1.7 1.9 1.7 0.6 1.7 0 1.7-1.2 1.6 0.6 1.7-0.7 1.7-0.7 1.7 0.7 1.7-0.4 1.7-1.2 1.7-0.1 1.7-0.3 1.7-0.6 1.7-0.2 1.7 0.8 1.7 0.7 1.7-6.3 1.7-5.5 1.7-23.8 1.6-23.4 1.7-1.2 1.7-2.4 1.7-1.5 1.7 0 1.7 0.3 1.7-1.7 1.7-0.3 1.7 0 1.7-1 1.7-2.1 1.6-2.2 1.7-0.6 1.7 0.1 1.7 0.8 1.7 0.7 1.7 0.7 1.7-1.4 1.7 0 1.7-1.3 1.7-0.2 1.7 0.6 1.7 0.3 1.6 1.4 1.7 0.7 1.7 0.5 1.7 0.8 1.7 1.1 1.7 3.5 1.7 2.2 1.7 1.9 1.7 0.1 1.7-1 1.7-1.4 1.6-2.7 1.7-2.9 1.7-0.1 1.7 1.1 1.7 1.5 1.7 2.1 1.7 1.5 1.7-0.4 1.7-0.8 1.7-1.3 1.6-1.4 1.7-2.1 1.7-0.8 1.7 1.1 1.7 0.3 1.7 0.6 1.7 1.5 1.7 0.5 1.7-0.1 1.7 0.8 1.7 0.8 1.6 2.1 1.7 1.7 1.7 1 1.7-0.1 1.7 0.6 1.7 1.8 1.7 1.5 1.7 1.3 1.7 0.4 1.7 0.9 1.7-2.3 1.6-4.3 1.7-4.2 1.7-1.3 1.7-0.6 1.7 0.8 1.7 0.3 1.7 0.9 1.7 1.3 1.7 0.3 1.7 0.4 1.7 1.1 1.7 1.4 1.7 1.1 1.6 0.8 1.7 1.3 1.7 0.7 1.7 0.5 1.7-1 1.7-2.1 1.6-3.2 1.7-1.8 1.7-1.4 1.7-0.2 1.7-0.7 1.7-0.6 1.7 0 1.7-0.1 1.7 0.4 1.7 1.8 1.6 2.3 1.7 1.6 1.7 1.4 1.7 1.1 1.7-0.2 1.7 0.3 1.7 0.3 1.7 0 1.7 0.5 1.7-0.2 1.7 0.3 1.7 0.5 1.7 0 1.6 0.4 1.7 0.9 1.7-0.1 1.7 1.5 1.7 0.3 1.7 1.2 1.7 1.8 1.7 1.6 1.7 1 1.7 2.2 1.7 4 1.7 3.2 1.7 0.7 1.7 0.4 1.7 0.7 1.6 0.9 1.7 0.3 1.7 0.3 1.7 0.2 1.7 1 1.7-0.5 1.6 0.9 1.7 1.6 1.7 0.4 1.7-0.2 1.7-3.8 1.7-5.2 1.7-5.7 1.7-3.1 1.7 0.1 1.7 0.5 1.6 1 1.7-0.5 1.7 0.7 1.7 0.4 1.7 0.7 1.7 0.8 1.7 0.3 1.7 0.5 1.7 1 1.7 0.2 1.7 0.3 1.7 0 1.7 0.1 1.6 0.3 1.7 0.1 1.7 0.4 1.7 0.1 1.7-0.6 1.7 0.9 1.7 1.6 1.7 1.5 1.7 0.9 1.7-1.2 1.7-1.8 1.6-2.5 1.7-0.5 1.7 1.2 1.7 2.1 1.7 1.9 1.7 0.9 1.7 0 1.7-2.2 1.7-0.7 1.7 1.3 1.7 0.6 1.7 0.7 1.7 1.4" stroke="#111" stroke-width="1.2" fill="none" stroke-linejoin="round" />
<rect x="162.4" y="2311.8" width="431.6" height="77.7" fill="none" stroke="#111" stroke-width="1.2"/>
<path d="M162.4,2350h4M594,2350h-4" stroke="#111" stroke-width="1"/>
<path d="M211.9,2311.8v3M211.9,2389.5v-3M262.8,2311.8v3M262.8,2389.5v-3M313.6,2311.8v3M313.6,2389.5v-3M364.5,2311.8v3M364.5,2389.5v-3M415.4,2311.8v3M415.4,2389.5v-3M466.2,2311.8v3M466.2,2389.5v-3M517.1,2311.8v3M517.1,2389.5v-3M568,2311.8v3M568,2389.5v-3" stroke="#111" stroke-width="1"/>
<text x="146" y="2329" font-size="15">8</text>
<text x="132.3" y="2394" font-size="15">-10</text>
<text x="108" y="2360.5" font-size="15"><tspan dy="0" font-size="18">PC</tspan><tspan dy="5" font-size="12">1</tspan></text>
<path fill="#d9eecb" d="M294.9 2405.4h8.5v77.1h-8.5zM305.8 2405.4h5.4v77.1h-5.4zM316.2 2405.4h1.6v77.1h-1.6zM320.6 2405.4h1.6v77.1h-1.6zM322.9 2405.4h1.6v77.1h-1.6zM352.5 2405.4h1.6v77.1h-1.6zM390.1 2405.4h1.6v77.1h-1.6zM404.4 2405.4h1.6v77.1h-1.6zM407.8 2405.4h1.6v77.1h-1.6zM416.2 2405.4h1.6v77.1h-1.6zM425.3 2405.4h1.6v77.1h-1.6zM428.1 2405.4h1.6v77.1h-1.6zM444.0 2405.4h1.6v77.1h-1.6zM474.6 2405.4h1.6v77.1h-1.6zM521.4 2405.4h1.6v77.1h-1.6zM541.0 2405.4h1.6v77.1h-1.6zM543.4 2405.4h1.6v77.1h-1.6zM562.0 2405.4h1.6v77.1h-1.6zM569.5 2405.4h1.6v77.1h-1.6zM571.5 2405.4h1.6v77.1h-1.6z"/>
<path fill="#dccfe9" d="M311.1 2405.4h1.6v77.1h-1.6zM316.9 2405.4h1.6v77.1h-1.6zM325.5 2405.4h6.1v77.1h-6.1zM354.3 2405.4h5.1v77.1h-5.1zM370.4 2405.4h1.6v77.1h-1.6zM392.5 2405.4h1.6v77.1h-1.6zM406.0 2405.4h1.6v77.1h-1.6zM409.4 2405.4h1.6v77.1h-1.6zM417.9 2405.4h1.6v77.1h-1.6zM424.7 2405.4h1.6v77.1h-1.6zM431.5 2405.4h1.6v77.1h-1.6zM446.0 2405.4h1.6v77.1h-1.6zM475.6 2405.4h1.6v77.1h-1.6zM523.0 2405.4h1.6v77.1h-1.6zM541.7 2405.4h1.6v77.1h-1.6zM563.7 2405.4h1.6v77.1h-1.6zM569.5 2405.4h1.6v77.1h-1.6z"/>
<path fill="#ebc7bb" d="M332.3 2405.4h6.7v77.1h-6.7zM373.0 2405.4h9.1v77.1h-9.1zM448.6 2405.4h9.1v77.1h-9.1zM478.1 2405.4h11.1v77.1h-11.1zM564.5 2405.4h3.4v77.1h-3.4z"/>
<path d="M162.4 2467.5l2-0.5 1.9-0.3 1.9-0.8 2-1.1 1.7 2.9 1.7 4 1.7 2.7 1.7 1.1 1.7 2.7 1.6 2.3 1.7 1.9 1.7 1.1 1.7-0.9 1.7-2.9 1.7-0.7 1.7-1.2 1.7-2 1.7-2.8 1.7-1 1.7 0.8 1.7 1 1.7-0.1 1.7-1 1.6-1.7 1.7-1.4 1.7 0.2 1.7 1.5 1.7 1.1 1.7 0 1.7-0.3 1.7 0.1 1.6-0.9 1.7-0.7 1.7 0.3 1.7-0.1 1.7-2.2 1.7-1.5 1.7-0.8 1.7-0.6 1.7 1 1.7 1.7 1.7 2.6 1.7-0.7 1.8-0.5 1.9-2.8 1.9-2.9 1.8-0.7 2 0.9 1.9 2.4 1.9 1.5 2 0.5 1.7-1 1.7-1.6 1.6-1.8 1.7-1.4 1.7 1.8 1.7 2.9 1.7 1.3 1.7 0.8 1.7 2.2 1.7 2 1.7 0.8 1.7 0 1.6-0.5 1.7-0.3 1.7-2 1.7-2.7 1.7-1.9 1.7 0.4 1.7-1.6 1.7-2.8 1.7-0.1 1.7-9.6 1.7-9 1.7-3.1 1.7-3.1 1.7 9.5 1.6 10.1 1.7 5.8 1.7 6.8 1.7 0.7 1.7 0.3 1.7 0.7 1.7-1.2 1.7-2 1.7-1.2 1.7-0.5 1.7-0.5 1.6-1.1 1.7-0.3 1.7-0.3 1.7-0.2 1.7-0.9 1.7-1.8 1.7-1.2 1.7-1.1 1.7 1.2 1.7 1.3 1.7-2.7 1.6-4.6 1.7-4.7 1.7-2.8 1.7-0.4 1.7-3.1 1.7-2.8 1.7-0.8 1.7-1.6 1.7-3.2 1.6-2.8 1.7-0.9 1.7 0.4 1.7 1.9 1.7 1.3 1.7 7.2 1.7 7.8 1.7-2 1.7-4.2 1.7-4.3 1.7-2.2 1.7 1.5 1.7 2.4 1.6 2.8 1.7 2 1.7 1.6 1.7-0.1 1.7-0.8 1.7-1.7 1.7-1.9 1.6-1.5 1.7-1.4 1.7-0.6 1.7 0.6 1.9-0.1 1.8 2.4 1.9 1.1 1.9 1 2-2 1.9-2.9 2-3.7 1.9-0.9 1.7-0.2 1.7 0 1.6-0.1 1.7-1 1.7 0.1 1.7-0.5 1.7-0.9 1.7-0.9 1.7-1.4 1.7-0.3 1.7-0.6 1.7 0.5 1.7-0.1 1.6 0.4 1.7 0 1.7-0.1 1.7-0.1 1.7-0.8 1.7-2.5 1.6-1.8 1.7-1.7 1.7-1.4 1.7-0.2 1.7 1.9 1.7 3.4 1.7 1.6 1.7 2 1.7 0.3 1.7-0.7 1.7-0.5 1.7-1.5 1.7-0.3 1.7-0.5 1.7-0.4 1.7 1.3 1.6 1 1.7 1.4 1.7 0.3 1.7 0.6 1.7-1.2 1.7-1.3 1.7-1.1 1.7-0.8 1.7 1.1 1.6 2.3 1.7 1.1 1.7-1.2 1.7-2.8 1.7-3.5 1.7-4.4 1.7-3.6 1.7-2.3 1.7-2 1.7 0.9 1.7 1.3 1.7 1.5 1.7 0.6 1.7-0.3 1.7-0.8 1.6-2.1 1.7-2.2 1.7-0.3 1.7 1 1.7 0.4 1.7 0.5 1.6 1.5 1.7 1.1 1.7 1.3 1.7-0.1 1.7 0.9 1.7 2.7 1.7 2.2 1.7 0.1 1.7-0.4 1.7-3 1.7-2.5 1.7-1.5 1.7-1.3 1.7-2 1.6-1.8 1.7-1.5 1.7-0.8 1.7 1.5 1.7 5 1.7 5 1.7 1.8 1.7-2.7 1.6-4.7 1.7-2.7 1.7-0.5 1.7-2.2 1.7-2.3 1.7 0.2 1.7 1 1.7 4.4 1.7 5.8 1.7 4.5 1.7 1.4 1.7 1.1 1.6 3.7 1.7 3.3 1.7 1.3 1.7-4 1.7-8 1.7-7.6 1.7-3.2 1.7 0.3 1.7 0.9 1.7-0.1 1.7 1.1 2.2-2.4 2.2-2.2" stroke="#111" stroke-width="1.2" fill="none" stroke-linejoin="round" />
<rect x="162.4" y="2405.4" width="431.6" height="77.1" fill="none" stroke="#111" stroke-width="1.2"/>
<path d="M162.4,2444.3h4M594,2444.3h-4" stroke="#111" stroke-width="1"/>
<path d="M211.9,2405.4v3M211.9,2482.5v-3M262.8,2405.4v3M262.8,2482.5v-3M313.6,2405.4v3M313.6,2482.5v-3M364.5,2405.4v3M364.5,2482.5v-3M415.4,2405.4v3M415.4,2482.5v-3M466.2,2405.4v3M466.2,2482.5v-3M517.1,2405.4v3M517.1,2482.5v-3M568,2405.4v3M568,2482.5v-3" stroke="#111" stroke-width="1"/>
<text x="146" y="2422" font-size="15">5</text>
<text x="141" y="2489" font-size="15">-5</text>
<text x="108" y="2453" font-size="15"><tspan dy="0" font-size="18">PC</tspan><tspan dy="5" font-size="12">2</tspan></text>
<text x="168.8" y="2502.5" font-size="15">time (s)</text>
<text x="263.6" y="2502.5" font-size="15" text-anchor="middle">100</text>
<text x="363.8" y="2502.5" font-size="15" text-anchor="middle">200</text>
<text x="465" y="2502.5" font-size="15" text-anchor="middle">300</text>
<text x="569" y="2502.5" font-size="15" text-anchor="middle">400</text>
<text x="636.3" y="2243.2" font-size="34" font-weight="bold">n</text>
<text x="683.7" y="2224" font-size="18" textLength="236.7" lengthAdjust="spacingAndGlyphs">flow field of dynamical system</text>
<text x="683.7" y="2245.5" font-size="18">with line attractor</text>
<path d="M689.6 2270.9l2.0-2.0M689.8 2279.0l1.7-1.5M689.9 2287.2l1.3-1.0M690.1 2295.3l1.0-0.5M690.6 2302.9v1M690.6 2311.3v1M690.6 2319.6v1M690.6 2327.5l0.0 2.0M690.6 2335.2l0.0 3.3M690.6 2343.0l0.0 4.5M690.6 2350.7l0.0 5.8M690.6 2358.4l0.0 7.1M690.6 2366.2l0.0 8.4M690.5 2374.4l0.2 8.8M690.2 2383.0l0.7 8.3M690.0 2391.6l1.2 7.8M689.8 2400.2l1.7 7.3M689.5 2408.8l2.2 6.8M689.3 2417.4l2.6 6.4M689.1 2426.0l3.0 5.9M689.0 2434.5l3.2 5.6M688.9 2443.1l3.4 5.3M688.8 2451.6l3.5 5.0M688.8 2460.1l3.7 4.7M688.7 2468.7l3.8 4.3M688.6 2477.2l4.0 4.0M697.9 2270.6l2.1-1.3M698.0 2278.7l1.9-0.9M698.1 2286.9l1.7-0.5M698.2 2295.1l1.5-0.1M698.3 2303.2l1.3 0.3M698.4 2311.4l1.0 0.7M698.5 2319.6l0.8 1.1M698.6 2327.5l0.8 1.9M698.6 2335.5l0.7 2.8M698.6 2343.4l0.7 3.8M698.6 2351.3l0.6 4.7M698.7 2359.2l0.6 5.6M698.7 2367.1l0.5 6.6M698.6 2375.3l0.7 7.0M698.4 2383.7l1.1 6.8M698.2 2392.2l1.6 6.6M698.0 2400.6l2.0 6.5M697.8 2409.1l2.4 6.3M697.6 2417.5l2.8 6.1M697.4 2426.0l3.2 5.9M697.3 2434.5l3.3 5.6M697.2 2443.1l3.4 5.3M697.2 2451.6l3.6 5.0M697.1 2460.1l3.7 4.7M697.0 2468.7l3.9 4.3M697.0 2477.2l4.0 4.0M706.2 2270.1l2.3-0.5M706.2 2278.4l2.2-0.2M706.2 2286.6l2.1 0.1M706.3 2294.8l2.1 0.4M706.3 2303.0l2.0 0.8M706.4 2311.2l1.9 1.1M706.4 2319.4l1.8 1.4M706.5 2327.6l1.7 1.8M706.5 2335.7l1.6 2.3M706.5 2343.9l1.5 2.8M706.6 2352.0l1.4 3.3M706.6 2360.1l1.3 3.8M706.7 2368.2l1.3 4.2M706.6 2376.4l1.4 4.6M706.5 2384.7l1.7 4.9M706.3 2392.9l2.0 5.1M706.1 2401.2l2.4 5.3M706.0 2409.4l2.7 5.6M705.8 2417.7l3.0 5.8M705.7 2426.0l3.3 5.9M705.6 2434.5l3.4 5.6M705.5 2443.1l3.5 5.3M705.5 2451.6l3.7 5.0M705.4 2460.1l3.8 4.7M705.4 2468.7l3.9 4.3M705.3 2477.2l4.0 4.0M714.4 2269.7l2.5 0.4M714.4 2278.0l2.5 0.6M714.4 2286.2l2.6 0.8M714.4 2294.5l2.6 1.0M714.3 2302.8l2.7 1.2M714.3 2311.0l2.8 1.4M714.3 2319.3l2.8 1.7M714.3 2327.6l2.7 1.7M714.4 2336.0l2.6 1.8M714.5 2344.3l2.4 1.8M714.5 2352.7l2.3 1.8M714.6 2361.0l2.1 1.9M714.7 2369.4l2.0 1.9M714.7 2377.6l2.0 2.3M714.5 2385.7l2.3 2.9M714.4 2393.7l2.5 3.6M714.3 2401.7l2.8 4.2M714.2 2409.8l3.0 4.9M714.0 2417.8l3.3 5.5M713.9 2426.0l3.5 5.9M713.9 2434.5l3.6 5.6M713.8 2443.1l3.7 5.3M713.8 2451.6l3.7 5.0M713.8 2460.1l3.8 4.7M713.7 2468.7l3.9 4.3M713.7 2477.2l4.0 4.0M722.7 2269.3l2.6 1.2M722.6 2277.6l2.8 1.3M722.5 2285.9l3.0 1.4M722.4 2294.2l3.2 1.6M722.3 2302.5l3.4 1.7M722.2 2310.9l3.6 1.8M722.1 2319.2l3.8 1.9M722.2 2327.7l3.7 1.6M722.3 2336.3l3.5 1.2M722.4 2344.8l3.3 0.8M722.5 2353.4l3.1 0.4M722.6 2362.0l2.9 0.0M722.7 2370.6l2.7-0.4M722.7 2378.8l2.6-0.1M722.6 2386.6l2.8 1.0M722.5 2394.5l3.0 2.0M722.5 2402.3l3.2 3.1M722.4 2410.2l3.3 4.1M722.3 2418.0l3.5 5.2M722.2 2426.0l3.7 5.9M722.2 2434.5l3.7 5.6M722.1 2443.1l3.8 5.3M722.1 2451.6l3.8 5.0M722.1 2460.1l3.9 4.7M722.1 2468.7l3.9 4.3M722.0 2477.2l4.0 4.0M731.0 2268.9l2.8 2.1M730.8 2277.2l3.2 2.1M730.7 2285.6l3.5 2.1M730.5 2294.0l3.8 2.1M730.3 2302.3l4.1 2.2M730.2 2310.7l4.5 2.2M730.0 2319.0l4.8 2.2M730.1 2327.7l4.7 1.6M730.2 2336.5l4.4 0.7M730.3 2345.3l4.1-0.2M730.4 2354.1l3.9-1.0M730.6 2362.9l3.6-1.9M730.7 2371.7l3.4-2.7M730.7 2379.9l3.3-2.4M730.7 2387.6l3.4-1.0M730.7 2395.2l3.5 0.5M730.6 2402.9l3.6 2.0M730.6 2410.5l3.6 3.4M730.5 2418.2l3.7 4.9M730.5 2426.0l3.8 5.9M730.5 2434.5l3.8 5.6M730.5 2443.1l3.9 5.3M730.4 2451.6l3.9 5.0M730.4 2460.1l3.9 4.7M730.4 2468.7l4.0 4.3M730.4 2477.2l4.0 4.0M739.3 2268.5l3.0 2.9M739.0 2276.9l3.5 2.8M738.8 2285.3l3.9 2.8M738.6 2293.7l4.4 2.7M738.3 2302.1l4.9 2.6M738.1 2310.5l5.3 2.6M737.9 2318.9l5.8 2.5M737.9 2327.8l5.6 1.5M738.1 2336.8l5.3 0.2M738.2 2345.8l5.0-1.1M738.4 2354.8l4.7-2.4M738.6 2363.9l4.4-3.7M738.7 2372.9l4.1-5.1M738.8 2381.1l3.9-4.8M738.8 2388.6l3.9-2.9M738.8 2396.0l3.9-1.0M738.8 2403.4l4.0 0.8M738.8 2410.9l4.0 2.7M738.8 2418.3l4.0 4.6M738.8 2426.0l4.0 5.9M738.8 2434.5l4.0 5.6M738.8 2443.1l4.0 5.3M738.8 2451.6l4.0 5.0M738.8 2460.1l4.0 4.7M738.8 2468.7l4.0 4.3M738.8 2477.2l4.0 4.0M747.5 2268.1l3.2 3.6M747.3 2276.5l3.6 3.5M747.1 2285.0l4.0 3.4M746.9 2293.4l4.5 3.2M746.7 2301.8l4.9 3.1M746.4 2310.3l5.3 3.0M746.2 2318.7l5.8 2.9M746.3 2327.6l5.6 1.8M746.5 2336.7l5.2 0.3M746.7 2345.8l4.8-1.1M746.9 2354.9l4.5-2.6M747.1 2364.0l4.1-4.0M747.2 2373.1l3.7-5.4M747.3 2381.3l3.5-5.2M747.3 2388.8l3.5-3.3M747.3 2396.2l3.5-1.4M747.3 2403.6l3.5 0.5M747.3 2411.0l3.5 2.4M747.3 2418.5l3.5 4.2M747.4 2426.3l3.4 5.4M747.6 2435.1l2.9 4.5M747.6 2443.6l2.9 4.3M747.5 2451.8l3.3 4.7M747.3 2460.0l3.5 4.9M747.3 2468.5l3.5 4.7M747.3 2477.0l3.5 4.5M755.8 2267.8l3.3 4.3M755.6 2276.2l3.7 4.1M755.4 2284.7l4.1 4.0M755.2 2293.1l4.5 3.8M755.0 2301.6l4.8 3.6M754.9 2310.0l5.2 3.5M754.7 2318.5l5.6 3.3M754.8 2327.4l5.4 2.1M755.0 2336.6l4.9 0.6M755.2 2345.7l4.5-0.9M755.4 2354.9l4.1-2.5M755.6 2364.0l3.7-4.0M755.8 2373.1l3.2-5.6M755.9 2381.4l3.0-5.4M755.9 2388.9l3.0-3.5M755.9 2396.3l3.0-1.7M755.9 2403.8l3.0 0.2M755.9 2411.2l3.0 2.1M756.1 2418.9l2.7 3.4M756.5 2427.3l1.9 3.3M756.8 2436.1l1.4 2.4M756.8 2444.6l1.4 2.3M756.6 2452.6l1.8 3.0M756.2 2460.3l2.5 4.2M755.9 2468.3l3.0 5.0M755.9 2476.7l3.0 5.0M764.1 2267.4l3.5 5.0M763.9 2275.9l3.8 4.8M763.8 2284.4l4.1 4.6M763.6 2292.8l4.5 4.4M763.4 2301.3l4.8 4.2M763.3 2309.8l5.1 4.0M763.1 2318.2l5.4 3.8M763.3 2327.3l5.1 2.5M763.5 2336.5l4.7 0.8M763.7 2345.6l4.2-0.8M764.0 2354.8l3.7-2.4M764.2 2364.0l3.2-4.0M764.4 2373.2l2.8-5.7M764.6 2381.5l2.5-5.6M764.6 2389.0l2.5-3.7M764.6 2396.4l2.5-1.9M764.6 2403.9l2.5-0.1M764.7 2411.4l2.3 1.6M765.0 2419.5l1.6 2.3M765.4 2428.1l0.9 1.8M765.8 2436.8v1M765.8 2445.2v1M765.4 2453.3l0.8 1.7M765.0 2460.8l1.6 3.4M764.6 2468.2l2.5 5.3M764.6 2476.5l2.5 5.5M772.3 2267.1l3.7 5.6M772.2 2275.6l3.9 5.4M772.1 2284.1l4.2 5.2M771.9 2292.6l4.5 4.9M771.8 2301.0l4.7 4.7M771.7 2309.5l5.0 4.4M771.5 2318.0l5.3 4.2M771.7 2327.1l4.9 2.8M772.0 2336.3l4.4 1.1M772.2 2345.6l3.9-0.6M772.5 2354.8l3.3-2.3M772.8 2364.0l2.8-4.1M773.0 2373.3l2.3-5.8M773.2 2381.6l2.0-5.8M773.2 2389.1l2.0-3.9M773.2 2396.5l2.0-2.1M773.2 2404.0l1.9-0.3M773.5 2411.7l1.3 1.0M773.8 2420.0l0.8 1.3M774.2 2428.5v1M774.2 2436.8v1M774.2 2445.2v1M774.0 2453.5l0.4 1.1M773.6 2460.9l1.1 3.2M773.2 2468.2l1.9 5.3M773.2 2476.2l2.0 6.0M780.6 2266.7l3.8 6.3M780.5 2275.3l4.1 6.0M780.4 2283.8l4.3 5.8M780.3 2292.3l4.5 5.5M780.2 2300.8l4.7 5.2M780.1 2309.3l4.9 4.9M780.0 2317.8l5.1 4.6M780.2 2326.9l4.7 3.2M780.5 2336.2l4.1 1.4M780.8 2345.5l3.6-0.5M781.1 2354.8l3.0-2.3M781.3 2364.0l2.4-4.1M781.6 2373.3l1.8-5.9M781.8 2381.7l1.5-5.9M781.8 2389.2l1.5-4.2M781.8 2396.6l1.5-2.3M782.0 2404.1l1.0-0.4M782.5 2411.7v1M782.5 2420.1v1M782.5 2428.5v1M782.5 2436.8v1M782.5 2445.2v1M782.3 2453.1l0.5 2.0M782.0 2460.5l1.0 3.8M781.8 2467.8l1.5 6.1M781.8 2476.0l1.5 6.5M788.9 2266.4l4.0 7.0M788.8 2274.9l4.2 6.7M788.7 2283.5l4.3 6.3M788.7 2292.0l4.5 6.0M788.6 2300.5l4.6 5.7M788.5 2309.1l4.8 5.4M788.4 2317.6l5.0 5.1M788.6 2326.7l4.5 3.5M789.0 2336.1l3.9 1.6M789.3 2345.4l3.2-0.3M789.6 2354.7l2.6-2.2M789.9 2364.1l2.0-4.1M790.2 2373.4l1.3-6.0M790.4 2381.8l1.0-6.1M790.4 2389.3l1.0-4.3M790.5 2396.4l0.7-1.9M790.9 2403.4v1M790.9 2411.7v1M790.9 2420.1v1M790.9 2428.5v1M790.9 2436.8v1M790.7 2444.9l0.3 1.7M790.6 2452.4l0.6 3.4M790.5 2459.8l0.9 5.3M790.4 2467.6l1.0 6.5M790.4 2475.7l1.0 7.0M797.2 2266.2l4.2 7.4M797.1 2274.7l4.3 7.1M797.1 2283.2l4.3 6.9M797.1 2291.7l4.4 6.6M797.0 2300.2l4.5 6.3M797.0 2308.7l4.6 6.0M796.9 2317.3l4.6 5.7M797.2 2326.4l4.2 4.3M797.5 2335.6l3.6 2.5M797.8 2344.9l3.0 0.7M798.1 2354.2l2.4-1.1M798.4 2363.5l1.7-2.9M798.7 2372.7l1.1-4.7M798.8 2381.1l0.8-4.8M798.9 2388.3l0.6-2.4M799.3 2395.0v1M799.3 2403.4v1M799.3 2411.7v1M799.3 2420.1v1M799.3 2428.5v1M799.1 2436.6l0.3 1.6M799.0 2444.1l0.5 3.2M798.9 2451.5l0.7 5.2M798.8 2459.2l0.8 6.5M798.8 2467.4l0.8 6.9M798.8 2475.5l0.8 7.3M805.4 2266.0l4.3 7.8M805.4 2274.5l4.3 7.6M805.4 2283.0l4.3 7.4M805.5 2291.5l4.3 7.1M805.5 2299.9l4.3 6.9M805.5 2308.4l4.3 6.7M805.5 2316.9l4.3 6.4M805.7 2326.0l3.9 5.1M806.0 2335.2l3.3 3.4M806.3 2344.4l2.7 1.7M806.6 2353.6l2.1-0.0M806.8 2362.9l1.5-1.7M807.1 2372.1l1.0-3.4M807.4 2380.1l0.5-2.7M807.5 2387.6l0.3-1.0M807.6 2395.0v1M807.6 2403.4v1M807.6 2411.7v1M807.6 2420.1v1M807.5 2428.2l0.2 1.5M807.4 2435.7l0.4 3.2M807.3 2443.2l0.5 5.1M807.3 2450.8l0.7 6.6M807.3 2459.0l0.7 6.9M807.3 2467.2l0.7 7.3M807.3 2475.4l0.7 7.7M813.7 2265.8l4.5 8.3M813.8 2274.2l4.4 8.1M813.8 2282.7l4.3 7.9M813.8 2291.2l4.3 7.7M813.9 2299.6l4.2 7.5M813.9 2308.1l4.1 7.3M814.0 2316.6l4.0 7.1M814.2 2325.6l3.6 5.8M814.5 2334.8l3.0 4.2M814.8 2343.9l2.4 2.6M815.0 2353.1l1.9 1.1M815.3 2362.3l1.3-0.5M815.7 2371.2l0.6-1.7M815.8 2379.3l0.3-1.2M816.0 2386.6v1M816.0 2395.0v1M816.0 2403.4v1M816.0 2411.7v1M815.9 2420.0l0.1 1.2M815.8 2427.4l0.3 3.2M815.8 2434.8l0.4 5.1M815.7 2442.3l0.5 6.7M815.7 2450.6l0.5 7.1M815.7 2458.8l0.5 7.4M815.7 2467.0l0.5 7.7M815.7 2475.2l0.5 8.0M822.0 2265.6l4.7 8.7M822.1 2274.0l4.5 8.5M822.2 2282.5l4.3 8.4M822.2 2290.9l4.2 8.2M822.3 2299.4l4.0 8.1M822.4 2307.8l3.8 7.9M822.5 2316.3l3.7 7.8M822.7 2325.2l3.2 6.6M823.0 2334.3l2.7 5.1M823.2 2343.4l2.2 3.6M823.5 2352.6l1.6 2.1M823.9 2361.7l0.9 0.5M824.3 2369.9v1M824.3 2378.2v1M824.3 2386.6v1M824.3 2395.0v1M824.3 2403.4v1M824.3 2411.7v1M824.3 2419.2l0.2 2.8M824.2 2426.4l0.2 5.2M824.2 2433.8l0.3 7.0M824.2 2442.1l0.3 7.3M824.2 2450.3l0.3 7.6M824.2 2458.5l0.3 7.8M824.2 2466.8l0.3 8.1M824.2 2475.0l0.3 8.3M830.3 2265.3l4.8 9.1M830.4 2273.8l4.6 9.0M830.5 2282.2l4.3 8.9M830.6 2290.6l4.1 8.8M830.8 2299.1l3.9 8.7M830.9 2307.5l3.6 8.5M831.0 2315.9l3.4 8.4M831.2 2324.8l2.9 7.3M831.5 2333.9l2.4 6.0M831.7 2342.9l1.9 4.6M832.1 2352.2l1.2 2.8M832.4 2361.5l0.5 1.1M832.7 2369.9v1M832.7 2378.2v1M832.7 2386.6v1M832.7 2395.0v1M832.7 2403.4v1M832.7 2411.0l0.1 2.4M832.6 2418.2l0.1 4.8M832.6 2425.2l0.2 7.4M832.6 2433.5l0.2 7.7M832.6 2441.8l0.2 7.9M832.6 2450.0l0.2 8.1M832.6 2458.3l0.2 8.3M832.6 2466.6l0.2 8.5M832.6 2474.9l0.2 8.7M838.6 2265.2l4.9 9.5M838.8 2273.6l4.6 9.4M838.9 2282.0l4.3 9.3M839.1 2290.4l4.0 9.3M839.2 2298.8l3.6 9.2M839.4 2307.2l3.3 9.1M839.5 2315.6l3.0 9.0M839.8 2324.5l2.6 8.0M840.0 2333.5l2.1 6.8M840.3 2342.8l1.4 4.9M840.7 2352.3l0.7 2.6M840.9 2361.5l0.2 1.0M841.1 2369.9v1M841.1 2378.2v1M841.1 2386.6v1M841.1 2395.0v1M841.1 2402.8l0.0 2.2M841.1 2410.1l0.0 4.3M841.1 2417.1l0.0 7.1M841.1 2424.9l0.0 8.1M841.1 2433.2l0.0 8.2M841.1 2441.5l0.0 8.4M841.1 2449.8l0.0 8.5M841.1 2458.1l0.0 8.7M841.1 2466.4l0.0 8.8M841.1 2474.7l0.0 9.0M847.4 2265.2l4.0 9.4M847.5 2273.6l3.8 9.3M847.6 2282.0l3.5 9.3M847.8 2290.4l3.3 9.2M847.9 2298.8l3.0 9.1M848.0 2307.2l2.7 9.1M848.2 2315.6l2.5 9.0M848.3 2324.4l2.1 8.2M848.6 2333.6l1.6 6.5M849.0 2343.3l0.9 3.9M849.2 2352.7l0.4 1.8M849.4 2361.5v1M849.4 2369.9v1M849.4 2378.2v1M849.4 2386.6v1M849.4 2394.5l0.0 2.0M849.4 2401.9l0.0 3.9M849.4 2409.1l0.0 6.3M849.4 2416.8l0.0 7.5M849.4 2424.9l0.0 8.2M849.4 2433.2l0.0 8.3M849.4 2441.5l0.0 8.5M849.4 2449.8l0.0 8.6M849.4 2458.1l0.0 8.7M849.4 2466.4l0.0 8.9M849.4 2474.7l0.0 9.0M856.2 2265.2l3.2 9.3M856.3 2273.6l3.0 9.3M856.4 2282.0l2.8 9.2M856.5 2290.4l2.6 9.2M856.6 2298.8l2.4 9.1M856.7 2307.2l2.2 9.1M856.8 2315.6l2.0 9.0M857.0 2324.6l1.6 7.9M857.3 2334.4l0.9 5.0M857.6 2343.9l0.4 2.6M857.8 2353.1v1M857.8 2361.5v1M857.8 2369.9v1M857.8 2378.2v1M857.8 2386.2l0.0 1.9M857.8 2393.6l0.0 3.7M857.8 2400.9l0.0 5.9M857.8 2408.7l0.0 7.1M857.8 2416.7l0.0 7.8M857.8 2424.8l0.0 8.4M857.8 2433.1l0.0 8.5M857.8 2441.4l0.0 8.6M857.8 2449.7l0.0 8.7M857.8 2458.1l0.0 8.8M857.8 2466.4l0.0 8.9M857.8 2474.7l0.0 9.0M865.0 2265.3l2.3 9.2M865.0 2273.7l2.2 9.2M865.1 2282.1l2.0 9.2M865.2 2290.5l1.9 9.1M865.3 2298.8l1.7 9.1M865.3 2307.2l1.6 9.0M865.4 2315.8l1.4 8.7M865.7 2325.5l0.9 5.9M865.9 2335.2l0.4 3.3M866.1 2344.7l0.1 1.1M866.1 2353.1v1M866.1 2361.5v1M866.1 2369.9v1M866.1 2377.8l0.0 1.9M866.1 2385.2l0.0 3.8M866.1 2392.5l0.0 5.9M866.1 2400.3l0.0 7.1M866.1 2408.4l0.0 7.6M866.1 2416.5l0.0 8.1M866.1 2424.7l0.0 8.5M866.1 2433.0l0.0 8.6M866.1 2441.4l0.0 8.7M866.1 2449.7l0.0 8.8M866.1 2458.0l0.0 8.8M866.1 2466.4l0.0 8.9M866.1 2474.7l0.0 9.0M873.7 2265.3l1.5 9.1M873.8 2273.7l1.4 9.1M873.8 2282.1l1.3 9.1M873.9 2290.5l1.2 9.1M873.9 2298.9l1.1 9.1M874.0 2307.2l1.0 9.0M874.1 2316.8l0.7 6.7M874.3 2326.6l0.4 3.9M874.4 2336.2l0.1 1.4M874.5 2344.7v1M874.5 2353.1v1M874.5 2361.5v1M874.5 2369.3l0.0 2.2M874.5 2376.7l0.0 4.1M874.5 2384.0l0.0 6.2M874.5 2391.8l0.0 7.4M874.5 2400.0l0.0 7.8M874.5 2408.2l0.0 8.1M874.5 2416.4l0.0 8.4M874.5 2424.6l0.0 8.7M874.5 2433.0l0.0 8.8M874.5 2441.3l0.0 8.8M874.5 2449.7l0.0 8.9M874.5 2458.0l0.0 8.9M874.5 2466.4l0.0 9.0M874.5 2474.7l0.0 9.0M882.5 2265.4l0.7 9.1M882.5 2273.7l0.6 9.1M882.6 2282.1l0.6 9.0M882.6 2290.5l0.5 9.0M882.6 2298.9l0.5 9.0M882.6 2307.3l0.4 9.0M882.7 2317.3l0.3 5.7M882.8 2327.3l0.1 2.5M882.8 2336.4v1M882.8 2344.7v1M882.8 2353.1v1M882.8 2360.8l0.0 2.4M882.8 2368.1l0.0 4.6M882.8 2375.3l0.0 6.8M882.8 2383.0l0.0 8.2M882.8 2391.3l0.0 8.3M882.8 2399.6l0.0 8.5M882.8 2407.9l0.0 8.6M882.8 2416.2l0.0 8.8M882.8 2424.5l0.0 8.9M882.8 2432.9l0.0 8.9M882.8 2441.3l0.0 8.9M882.8 2449.6l0.0 8.9M882.8 2458.0l0.0 9.0M882.8 2466.3l0.0 9.0M882.8 2474.7l0.0 9.0M891.2 2265.4l0.0 9.0M891.2 2273.8l0.0 9.0M891.2 2282.1l0.0 9.0M891.2 2290.5l0.0 9.0M891.2 2298.9l0.0 9.0M891.2 2307.3l0.0 9.0M891.2 2317.1l0.0 6.1M891.2 2327.0l0.0 3.1M891.2 2336.4v1M891.2 2344.7v1M891.2 2352.4l0.0 2.4M891.2 2359.5l0.0 4.9M891.2 2366.7l0.0 7.4M891.2 2374.2l0.0 9.0M891.2 2382.6l0.0 9.0M891.2 2391.0l0.0 9.0M891.2 2399.4l0.0 9.0M891.2 2407.7l0.0 9.0M891.2 2416.1l0.0 9.0M891.2 2424.5l0.0 9.0M891.2 2432.8l0.0 9.0M891.2 2441.2l0.0 9.0M891.2 2449.6l0.0 9.0M891.2 2458.0l0.0 9.0M891.2 2466.3l0.0 9.0M891.2 2474.7l0.0 9.0" stroke="#5aa2d6" stroke-width="1.25" fill="none"/>
<rect x="681.6" y="2257.9" width="218.6" height="233.3" fill="none" stroke="#111" stroke-width="1.2"/>
<rect x="737.4" y="2375.55" width="183.3" height="32" rx="16" fill="none" stroke="#b52a2e" stroke-width="1.6" transform="rotate(-41.8 829.05 2391.55)"/>
<text x="666.5" y="2298" font-size="15">6</text>
<text x="666.5" y="2388" font-size="15">0</text>
<text x="668.7" y="2455" font-size="15" transform="rotate(-90 668.7 2455)"><tspan dy="0" font-size="17">PC</tspan><tspan dy="6" font-size="11">1</tspan></text>
<text x="677" y="2512" font-size="15">-5</text>
<text x="707.9" y="2512.6" font-size="15"><tspan dy="0" font-size="17">PC</tspan><tspan dy="6" font-size="11">2</tspan></text>
<text x="778.6" y="2512" font-size="15">0</text>
<text x="864.6" y="2512" font-size="15">5</text>
<text x="950.6" y="2243.7" font-size="34" font-weight="bold">o</text>
<text x="990.8" y="2224" font-size="18" textLength="238.8" lengthAdjust="spacingAndGlyphs">flow field with neural trajectory</text>
<text x="990.8" y="2245.5" font-size="18">and behavior of male</text>
<path d="M981.3 2268.8l2.0-2.0M981.5 2277.0l1.7-1.5M981.6 2285.3l1.4-1.0M981.8 2293.5l1.0-0.6M982.3 2301.2v1M982.3 2309.7v1M982.3 2318.2v1M982.3 2326.1l0.0 2.0M982.3 2334.0l0.0 3.3M982.3 2341.8l0.0 4.5M982.3 2349.7l0.0 5.8M982.3 2357.5l0.0 7.1M982.3 2365.3l0.0 8.4M982.2 2373.6l0.2 8.8M981.9 2382.3l0.7 8.3M981.7 2391.0l1.2 7.8M981.5 2399.8l1.7 7.3M981.2 2408.5l2.2 6.8M981.0 2417.2l2.6 6.4M980.8 2425.9l3.0 5.9M980.7 2434.5l3.2 5.6M980.6 2443.2l3.4 5.3M980.5 2451.8l3.5 5.0M980.5 2460.4l3.7 4.6M980.4 2469.1l3.8 4.3M980.3 2477.7l4.0 4.0M989.7 2268.5l2.1-1.3M989.8 2276.7l1.9-0.9M989.9 2285.0l1.7-0.5M990.0 2293.3l1.5-0.1M990.1 2301.6l1.3 0.3M990.2 2309.8l1.0 0.7M990.3 2318.1l0.8 1.1M990.4 2326.2l0.7 1.9M990.4 2334.2l0.7 2.8M990.4 2342.2l0.7 3.8M990.4 2350.2l0.6 4.7M990.5 2358.2l0.6 5.7M990.5 2366.2l0.5 6.6M990.4 2374.5l0.7 7.0M990.2 2383.1l1.1 6.8M990.0 2391.6l1.6 6.6M989.8 2400.2l2.0 6.5M989.6 2408.7l2.4 6.3M989.4 2417.3l2.8 6.1M989.2 2425.9l3.2 5.9M989.1 2434.5l3.3 5.6M989.0 2443.2l3.4 5.3M989.0 2451.8l3.6 5.0M988.9 2460.4l3.7 4.6M988.8 2469.1l3.9 4.3M988.8 2477.7l4.0 4.0M998.1 2268.0l2.3-0.5M998.1 2276.4l2.2-0.2M998.1 2284.7l2.1 0.1M998.2 2293.0l2.1 0.4M998.2 2301.3l2.0 0.8M998.3 2309.6l1.9 1.1M998.3 2318.0l1.8 1.4M998.4 2326.2l1.7 1.8M998.4 2334.5l1.6 2.3M998.5 2342.7l1.5 2.8M998.5 2350.9l1.4 3.3M998.5 2359.1l1.3 3.8M998.6 2367.4l1.2 4.3M998.5 2375.7l1.4 4.6M998.4 2384.0l1.7 4.9M998.2 2392.4l2.0 5.1M998.0 2400.7l2.4 5.3M997.9 2409.1l2.7 5.6M997.7 2417.5l3.0 5.8M997.6 2425.9l3.3 5.9M997.5 2434.5l3.4 5.6M997.4 2443.2l3.5 5.3M997.4 2451.8l3.7 5.0M997.3 2460.4l3.8 4.6M997.3 2469.1l3.9 4.3M997.2 2477.7l4.0 4.0M1006.4 2267.6l2.5 0.4M1006.4 2276.0l2.5 0.6M1006.4 2284.4l2.6 0.8M1006.4 2292.7l2.6 1.0M1006.3 2301.1l2.7 1.2M1006.3 2309.5l2.7 1.4M1006.3 2317.8l2.8 1.7M1006.3 2326.3l2.7 1.7M1006.4 2334.7l2.6 1.8M1006.5 2343.2l2.4 1.8M1006.5 2351.6l2.3 1.9M1006.6 2360.1l2.1 1.9M1006.7 2368.5l2.0 1.9M1006.7 2376.8l2.0 2.3M1006.5 2385.0l2.3 2.9M1006.4 2393.2l2.5 3.6M1006.3 2401.3l2.8 4.2M1006.2 2409.5l3.0 4.9M1006.0 2417.6l3.3 5.5M1005.9 2425.9l3.5 5.9M1005.9 2434.5l3.6 5.6M1005.8 2443.2l3.7 5.3M1005.8 2451.8l3.7 5.0M1005.8 2460.4l3.8 4.6M1005.7 2469.1l3.9 4.3M1005.7 2477.7l4.0 4.0M1014.8 2267.2l2.6 1.2M1014.7 2275.6l2.8 1.3M1014.6 2284.0l3.0 1.4M1014.5 2292.4l3.2 1.6M1014.4 2300.9l3.4 1.7M1014.3 2309.3l3.6 1.8M1014.2 2317.7l3.8 1.9M1014.3 2326.3l3.7 1.6M1014.4 2335.0l3.5 1.2M1014.5 2343.7l3.3 0.8M1014.6 2352.3l3.1 0.4M1014.7 2361.0l2.9 0.0M1014.8 2369.7l2.7-0.4M1014.8 2378.0l2.6-0.1M1014.7 2386.0l2.8 1.0M1014.6 2393.9l3.0 2.0M1014.6 2401.9l3.2 3.1M1014.5 2409.8l3.3 4.1M1014.4 2417.8l3.5 5.2M1014.3 2425.9l3.7 5.9M1014.3 2434.5l3.7 5.6M1014.2 2443.2l3.8 5.3M1014.2 2451.8l3.8 5.0M1014.2 2460.4l3.9 4.6M1014.2 2469.1l3.9 4.3M1014.1 2477.7l4.0 4.0M1023.2 2266.8l2.8 2.0M1023.0 2275.2l3.1 2.1M1022.9 2283.7l3.5 2.1M1022.7 2292.2l3.8 2.1M1022.5 2300.6l4.1 2.2M1022.4 2309.1l4.5 2.2M1022.2 2317.6l4.8 2.2M1022.3 2326.4l4.7 1.6M1022.4 2335.3l4.4 0.7M1022.5 2344.2l4.1-0.1M1022.7 2353.1l3.9-1.0M1022.8 2362.0l3.6-1.9M1022.9 2370.9l3.4-2.7M1023.0 2379.2l3.3-2.4M1022.9 2386.9l3.4-1.0M1022.9 2394.7l3.5 0.5M1022.8 2402.4l3.6 2.0M1022.8 2410.2l3.6 3.4M1022.7 2417.9l3.7 4.9M1022.7 2425.9l3.8 5.9M1022.7 2434.5l3.8 5.6M1022.7 2443.2l3.9 5.3M1022.6 2451.8l3.9 5.0M1022.6 2460.4l3.9 4.6M1022.6 2469.1l4.0 4.3M1022.6 2477.7l4.0 4.0M1031.6 2266.4l3.0 2.9M1031.3 2274.9l3.5 2.8M1031.1 2283.4l3.9 2.8M1030.9 2291.9l4.4 2.7M1030.6 2300.4l4.8 2.6M1030.4 2308.9l5.3 2.6M1030.2 2317.4l5.8 2.5M1030.2 2326.4l5.6 1.5M1030.4 2335.5l5.3 0.2M1030.5 2344.6l5.0-1.1M1030.7 2353.8l4.7-2.4M1030.9 2362.9l4.4-3.7M1031.0 2372.0l4.1-5.0M1031.1 2380.4l3.9-4.8M1031.1 2387.9l3.9-2.9M1031.1 2395.5l3.9-1.0M1031.1 2403.0l4.0 0.8M1031.1 2410.5l4.0 2.7M1031.1 2418.1l4.0 4.6M1031.1 2425.9l4.0 5.9M1031.1 2434.5l4.0 5.6M1031.1 2443.2l4.0 5.3M1031.1 2451.8l4.0 5.0M1031.1 2460.4l4.0 4.6M1031.1 2469.1l4.0 4.3M1031.1 2477.7l4.0 4.0M1039.9 2266.0l3.2 3.6M1039.7 2274.5l3.6 3.5M1039.5 2283.1l4.0 3.4M1039.3 2291.6l4.5 3.2M1039.1 2300.1l4.9 3.1M1038.9 2308.7l5.3 3.0M1038.6 2317.2l5.7 2.9M1038.7 2326.2l5.6 1.8M1038.9 2335.4l5.2 0.3M1039.1 2344.6l4.8-1.1M1039.3 2353.8l4.5-2.5M1039.5 2363.0l4.1-4.0M1039.6 2372.2l3.7-5.4M1039.7 2380.6l3.6-5.2M1039.7 2388.1l3.6-3.3M1039.7 2395.6l3.6-1.4M1039.7 2403.2l3.6 0.5M1039.7 2410.7l3.6 2.4M1039.7 2418.2l3.6 4.3M1039.8 2426.2l3.4 5.4M1040.0 2435.1l3.0 4.5M1040.0 2443.6l2.9 4.3M1039.9 2451.9l3.3 4.7M1039.7 2460.3l3.6 4.9M1039.7 2468.9l3.6 4.7M1039.7 2477.5l3.6 4.5M1048.3 2265.7l3.3 4.3M1048.1 2274.2l3.7 4.1M1047.9 2282.8l4.1 4.0M1047.7 2291.3l4.5 3.8M1047.5 2299.9l4.8 3.6M1047.4 2308.4l5.2 3.5M1047.2 2317.0l5.6 3.3M1047.3 2326.1l5.4 2.1M1047.5 2335.3l4.9 0.6M1047.7 2344.6l4.5-0.9M1047.9 2353.8l4.1-2.5M1048.1 2363.0l3.7-4.0M1048.3 2372.3l3.3-5.6M1048.4 2380.7l3.0-5.4M1048.4 2388.2l3.0-3.5M1048.4 2395.8l3.0-1.7M1048.4 2403.3l3.0 0.2M1048.4 2410.9l3.0 2.1M1048.6 2418.6l2.7 3.5M1049.0 2427.2l1.9 3.3M1049.3 2436.1l1.4 2.4M1049.3 2444.6l1.4 2.3M1049.1 2452.7l1.8 3.1M1048.7 2460.6l2.5 4.3M1048.4 2468.7l3.0 5.0M1048.4 2477.2l3.0 5.0M1056.7 2265.3l3.5 5.0M1056.5 2273.9l3.8 4.8M1056.4 2282.5l4.1 4.6M1056.2 2291.0l4.5 4.4M1056.0 2299.6l4.8 4.2M1055.9 2308.2l5.1 4.0M1055.7 2316.8l5.4 3.8M1055.9 2325.9l5.1 2.5M1056.1 2335.2l4.7 0.9M1056.3 2344.5l4.2-0.8M1056.6 2353.8l3.7-2.4M1056.8 2363.1l3.2-4.0M1057.0 2372.3l2.8-5.7M1057.2 2380.8l2.5-5.6M1057.2 2388.3l2.5-3.7M1057.2 2395.9l2.5-1.9M1057.2 2403.4l2.5-0.1M1057.3 2411.1l2.3 1.6M1057.6 2419.2l1.6 2.3M1058.0 2427.9l0.9 1.8M1058.4 2436.8v1M1058.4 2445.3v1M1058.0 2453.4l0.8 1.7M1057.6 2461.0l1.6 3.4M1057.2 2468.6l2.5 5.3M1057.2 2477.0l2.5 5.5M1065.1 2265.0l3.7 5.6M1064.9 2273.6l3.9 5.4M1064.8 2282.2l4.2 5.2M1064.6 2290.8l4.5 4.9M1064.5 2299.4l4.7 4.7M1064.4 2308.0l5.0 4.4M1064.2 2316.6l5.3 4.2M1064.4 2325.7l4.9 2.8M1064.7 2335.1l4.4 1.1M1064.9 2344.4l3.9-0.6M1065.2 2353.7l3.3-2.3M1065.5 2363.1l2.8-4.1M1065.7 2372.4l2.3-5.8M1065.9 2380.9l2.0-5.8M1065.9 2388.4l2.0-3.9M1065.9 2396.0l2.0-2.1M1065.9 2403.6l1.9-0.3M1066.2 2411.4l1.3 1.0M1066.5 2419.7l0.8 1.3M1066.9 2428.3v1M1066.9 2436.8v1M1066.9 2445.3v1M1066.7 2453.7l0.4 1.1M1066.3 2461.2l1.2 3.2M1065.9 2468.5l1.9 5.4M1065.9 2476.7l2.0 6.0M1073.4 2264.6l3.8 6.3M1073.3 2273.3l4.0 6.0M1073.2 2281.9l4.3 5.8M1073.1 2290.5l4.5 5.5M1073.0 2299.1l4.7 5.2M1072.9 2307.7l4.9 4.9M1072.8 2316.3l5.1 4.6M1073.0 2325.5l4.7 3.2M1073.3 2334.9l4.1 1.4M1073.6 2344.3l3.6-0.5M1073.9 2353.7l3.0-2.3M1074.1 2363.1l2.4-4.1M1074.4 2372.5l1.8-5.9M1074.6 2381.0l1.5-5.9M1074.6 2388.5l1.5-4.2M1074.6 2396.1l1.5-2.3M1074.8 2403.6l1.0-0.4M1075.3 2411.4v1M1075.3 2419.9v1M1075.3 2428.3v1M1075.3 2436.8v1M1075.3 2445.3v1M1075.1 2453.3l0.5 2.0M1074.8 2460.8l1.0 3.9M1074.6 2468.2l1.5 6.1M1074.6 2476.5l1.5 6.5M1081.8 2264.3l4.0 7.0M1081.7 2272.9l4.2 6.7M1081.6 2281.6l4.3 6.4M1081.6 2290.2l4.5 6.0M1081.5 2298.8l4.6 5.7M1081.4 2307.5l4.8 5.4M1081.3 2316.1l5.0 5.1M1081.5 2325.4l4.5 3.5M1081.9 2334.8l3.9 1.6M1082.2 2344.2l3.2-0.3M1082.5 2353.7l2.6-2.2M1082.8 2363.1l2.0-4.1M1083.1 2372.5l1.3-6.0M1083.3 2381.0l1.0-6.1M1083.3 2388.6l1.0-4.3M1083.4 2395.9l0.7-1.9M1083.8 2402.9v1M1083.8 2411.4v1M1083.8 2419.9v1M1083.8 2428.3v1M1083.8 2436.8v1M1083.6 2445.0l0.3 1.7M1083.5 2452.6l0.6 3.4M1083.4 2460.1l0.9 5.3M1083.3 2468.0l1.0 6.5M1083.3 2476.2l1.0 7.0M1090.2 2264.1l4.2 7.4M1090.1 2272.7l4.3 7.1M1090.1 2281.3l4.3 6.9M1090.1 2289.9l4.4 6.6M1090.0 2298.6l4.5 6.3M1090.0 2307.2l4.6 6.0M1089.9 2315.8l4.6 5.7M1090.2 2325.0l4.2 4.3M1090.5 2334.4l3.6 2.5M1090.8 2343.7l3.0 0.7M1091.1 2353.1l2.4-1.1M1091.4 2362.5l1.7-2.9M1091.7 2371.9l1.1-4.7M1091.8 2380.4l0.8-4.8M1092.0 2387.6l0.6-2.4M1092.3 2394.4v1M1092.3 2402.9v1M1092.3 2411.4v1M1092.3 2419.9v1M1092.3 2428.3v1M1092.1 2436.5l0.3 1.6M1092.0 2444.2l0.5 3.3M1091.9 2451.7l0.7 5.2M1091.8 2459.5l0.8 6.5M1091.8 2467.8l0.8 6.9M1091.8 2476.0l0.8 7.3M1098.5 2263.9l4.3 7.8M1098.5 2272.5l4.3 7.6M1098.5 2281.1l4.3 7.4M1098.6 2289.7l4.3 7.1M1098.6 2298.3l4.3 6.9M1098.6 2306.9l4.3 6.7M1098.6 2315.4l4.3 6.4M1098.8 2324.6l3.9 5.1M1099.1 2333.9l3.3 3.4M1099.4 2343.2l2.7 1.7M1099.7 2352.6l2.1-0.0M1099.9 2361.9l1.5-1.7M1100.2 2371.2l1.0-3.4M1100.5 2379.3l0.5-2.7M1100.6 2387.0l0.3-1.0M1100.7 2394.4v1M1100.7 2402.9v1M1100.7 2411.4v1M1100.7 2419.9v1M1100.6 2428.1l0.2 1.5M1100.5 2435.7l0.4 3.2M1100.4 2443.2l0.5 5.1M1100.4 2451.0l0.7 6.6M1100.4 2459.3l0.7 6.9M1100.4 2467.6l0.7 7.3M1100.4 2475.9l0.7 7.7M1106.9 2263.7l4.5 8.3M1107.0 2272.2l4.4 8.1M1107.0 2280.8l4.3 7.9M1107.0 2289.4l4.3 7.7M1107.1 2298.0l4.2 7.5M1107.1 2306.5l4.1 7.3M1107.2 2315.1l4.0 7.1M1107.4 2324.2l3.6 5.8M1107.7 2333.5l3.0 4.2M1108.0 2342.8l2.4 2.6M1108.2 2352.0l1.9 1.1M1108.5 2361.3l1.3-0.5M1108.9 2370.4l0.6-1.7M1109.0 2378.6l0.3-1.2M1109.2 2386.0v1M1109.2 2394.4v1M1109.2 2402.9v1M1109.2 2411.4v1M1109.1 2419.8l0.1 1.2M1109.0 2427.2l0.3 3.2M1109.0 2434.8l0.4 5.1M1108.9 2442.4l0.5 6.7M1108.9 2450.7l0.5 7.1M1108.9 2459.1l0.5 7.4M1108.9 2467.4l0.5 7.7M1108.9 2475.7l0.5 8.0M1115.3 2263.5l4.7 8.7M1115.4 2272.0l4.5 8.5M1115.5 2280.6l4.3 8.4M1115.5 2289.1l4.2 8.2M1115.6 2297.7l4.0 8.1M1115.7 2306.2l3.8 7.9M1115.8 2314.8l3.7 7.8M1116.0 2323.8l3.2 6.6M1116.3 2333.1l2.7 5.1M1116.5 2342.3l2.2 3.6M1116.8 2351.5l1.6 2.1M1117.2 2360.8l0.9 0.6M1117.6 2369.0v1M1117.6 2377.5v1M1117.6 2386.0v1M1117.6 2394.4v1M1117.6 2402.9v1M1117.6 2411.4v1M1117.6 2419.0l0.2 2.8M1117.5 2426.2l0.2 5.2M1117.5 2433.8l0.3 7.0M1117.5 2442.1l0.3 7.3M1117.5 2450.5l0.3 7.6M1117.5 2458.8l0.3 7.8M1117.5 2467.2l0.3 8.1M1117.5 2475.5l0.3 8.4M1123.7 2263.2l4.8 9.1M1123.8 2271.8l4.6 9.0M1123.9 2280.3l4.3 8.9M1124.0 2288.8l4.1 8.8M1124.2 2297.4l3.9 8.7M1124.3 2305.9l3.6 8.5M1124.4 2314.4l3.4 8.4M1124.6 2323.5l2.9 7.4M1124.9 2332.6l2.4 6.0M1125.1 2341.8l1.9 4.6M1125.5 2351.2l1.2 2.8M1125.8 2360.5l0.5 1.1M1126.1 2369.0v1M1126.1 2377.5v1M1126.1 2386.0v1M1126.1 2394.4v1M1126.1 2402.9v1M1126.1 2410.7l0.1 2.5M1126.0 2418.0l0.1 4.8M1126.0 2425.1l0.1 7.5M1126.0 2433.5l0.1 7.7M1126.0 2441.9l0.1 7.9M1126.0 2450.2l0.1 8.1M1126.0 2458.6l0.1 8.3M1126.0 2467.0l0.1 8.5M1126.0 2475.4l0.1 8.7M1132.1 2263.1l4.9 9.5M1132.3 2271.6l4.6 9.4M1132.4 2280.1l4.3 9.3M1132.6 2288.6l4.0 9.3M1132.7 2297.1l3.6 9.2M1132.9 2305.6l3.3 9.1M1133.0 2314.1l3.0 9.0M1133.3 2323.1l2.6 8.0M1133.5 2332.2l2.1 6.8M1133.8 2341.6l1.4 4.9M1134.2 2351.3l0.7 2.6M1134.4 2360.5l0.2 1.0M1134.5 2369.0v1M1134.5 2377.5v1M1134.5 2386.0v1M1134.5 2394.4v1M1134.5 2402.3l0.0 2.2M1134.5 2409.7l0.0 4.4M1134.5 2416.8l0.0 7.1M1134.5 2424.8l0.0 8.1M1134.5 2433.2l0.0 8.2M1134.5 2441.6l0.0 8.4M1134.5 2450.0l0.0 8.5M1134.5 2458.4l0.0 8.7M1134.5 2466.8l0.0 8.8M1134.5 2475.2l0.0 9.0M1141.0 2263.1l4.0 9.4M1141.1 2271.6l3.8 9.3M1141.2 2280.1l3.5 9.3M1141.4 2288.6l3.3 9.2M1141.5 2297.1l3.0 9.1M1141.6 2305.6l2.7 9.1M1141.8 2314.1l2.5 9.0M1141.9 2323.0l2.1 8.2M1142.2 2332.3l1.6 6.5M1142.6 2342.1l0.9 3.9M1142.8 2351.6l0.4 1.8M1143.0 2360.5v1M1143.0 2369.0v1M1143.0 2377.5v1M1143.0 2386.0v1M1143.0 2394.0l0.0 2.0M1143.0 2401.5l0.0 3.9M1143.0 2408.7l0.0 6.3M1143.0 2416.6l0.0 7.5M1143.0 2424.7l0.0 8.2M1143.0 2433.1l0.0 8.4M1143.0 2441.6l0.0 8.5M1143.0 2450.0l0.0 8.6M1143.0 2458.4l0.0 8.7M1143.0 2466.8l0.0 8.9M1143.0 2475.2l0.0 9.0M1149.9 2263.1l3.2 9.3M1150.0 2271.6l3.0 9.3M1150.1 2280.1l2.8 9.2M1150.2 2288.6l2.6 9.2M1150.3 2297.1l2.4 9.1M1150.4 2305.6l2.2 9.1M1150.5 2314.1l2.0 9.0M1150.7 2323.2l1.6 7.9M1151.0 2333.1l0.9 5.0M1151.3 2342.8l0.4 2.6M1151.5 2352.1v1M1151.5 2360.5v1M1151.5 2369.0v1M1151.5 2377.5v1M1151.5 2385.5l0.0 1.9M1151.5 2393.1l0.0 3.7M1151.5 2400.4l0.0 6.0M1151.5 2408.3l0.0 7.1M1151.5 2416.5l0.0 7.8M1151.5 2424.7l0.0 8.4M1151.5 2433.1l0.0 8.5M1151.5 2441.5l0.0 8.6M1151.5 2449.9l0.0 8.7M1151.5 2458.4l0.0 8.8M1151.5 2466.8l0.0 8.9M1151.5 2475.2l0.0 9.0M1158.8 2263.2l2.3 9.2M1158.8 2271.7l2.2 9.2M1158.9 2280.2l2.0 9.2M1159.0 2288.7l1.9 9.1M1159.1 2297.2l1.7 9.1M1159.1 2305.7l1.6 9.0M1159.2 2314.3l1.4 8.7M1159.5 2324.2l0.9 5.9M1159.7 2334.0l0.4 3.3M1159.9 2343.6l0.1 1.0M1159.9 2352.1v1M1159.9 2360.5v1M1159.9 2369.0v1M1159.9 2377.0l0.0 2.0M1159.9 2384.6l0.0 3.8M1159.9 2392.0l0.0 5.9M1159.9 2399.9l0.0 7.1M1159.9 2408.1l0.0 7.6M1159.9 2416.3l0.0 8.1M1159.9 2424.6l0.0 8.5M1159.9 2433.0l0.0 8.6M1159.9 2441.4l0.0 8.7M1159.9 2449.9l0.0 8.8M1159.9 2458.3l0.0 8.8M1159.9 2466.8l0.0 8.9M1159.9 2475.2l0.0 9.0M1167.6 2263.2l1.5 9.1M1167.7 2271.7l1.4 9.1M1167.7 2280.2l1.3 9.1M1167.8 2288.7l1.2 9.1M1167.8 2297.2l1.1 9.1M1167.9 2305.7l1.0 9.0M1168.0 2315.3l0.7 6.7M1168.2 2325.2l0.4 3.9M1168.3 2334.9l0.1 1.4M1168.4 2343.6v1M1168.4 2352.1v1M1168.4 2360.5v1M1168.4 2368.4l0.0 2.2M1168.4 2375.9l0.0 4.1M1168.4 2383.3l0.0 6.2M1168.4 2391.2l0.0 7.4M1168.4 2399.5l0.0 7.8M1168.4 2407.8l0.0 8.1M1168.4 2416.1l0.0 8.4M1168.4 2424.5l0.0 8.7M1168.4 2432.9l0.0 8.8M1168.4 2441.4l0.0 8.8M1168.4 2449.8l0.0 8.9M1168.4 2458.3l0.0 8.9M1168.4 2466.7l0.0 9.0M1168.4 2475.2l0.0 9.0M1176.5 2263.3l0.6 9.1M1176.5 2271.7l0.6 9.1M1176.6 2280.2l0.6 9.0M1176.6 2288.7l0.5 9.0M1176.6 2297.2l0.5 9.0M1176.6 2305.7l0.4 9.0M1176.7 2315.8l0.3 5.8M1176.8 2325.9l0.1 2.5M1176.8 2335.1v1M1176.8 2343.6v1M1176.8 2352.1v1M1176.8 2359.8l0.0 2.5M1176.8 2367.2l0.0 4.6M1176.8 2374.6l0.0 6.8M1176.8 2382.4l0.0 8.2M1176.8 2390.8l0.0 8.3M1176.8 2399.2l0.0 8.5M1176.8 2407.6l0.0 8.6M1176.8 2416.0l0.0 8.8M1176.8 2424.4l0.0 8.9M1176.8 2432.9l0.0 8.9M1176.8 2441.3l0.0 8.9M1176.8 2449.8l0.0 8.9M1176.8 2458.3l0.0 9.0M1176.8 2466.7l0.0 9.0M1176.8 2475.2l0.0 9.0M1185.3 2263.3l0.0 9.0M1185.3 2271.8l0.0 9.0M1185.3 2280.3l0.0 9.0M1185.3 2288.7l0.0 9.0M1185.3 2297.2l0.0 9.0M1185.3 2305.7l0.0 9.0M1185.3 2315.6l0.0 6.1M1185.3 2325.6l0.0 3.1M1185.3 2335.1v1M1185.3 2343.6v1M1185.3 2351.3l0.0 2.4M1185.3 2358.6l0.0 4.9M1185.3 2365.8l0.0 7.4M1185.3 2373.5l0.0 9.0M1185.3 2382.0l0.0 9.0M1185.3 2390.4l0.0 9.0M1185.3 2398.9l0.0 9.0M1185.3 2407.4l0.0 9.0M1185.3 2415.9l0.0 9.0M1185.3 2424.3l0.0 9.0M1185.3 2432.8l0.0 9.0M1185.3 2441.3l0.0 9.0M1185.3 2449.8l0.0 9.0M1185.3 2458.2l0.0 9.0M1185.3 2466.7l0.0 9.0M1185.3 2475.2l0.0 9.0" stroke="#5aa2d6" stroke-width="1.25" fill="none"/>
<rect x="973.3" y="2255.8" width="221" height="235.9" fill="none" stroke="#111" stroke-width="1.2"/>
<line x1="1057.2" y1="2459.7" x2="1198" y2="2329" stroke="#111" stroke-width="2.6" stroke-dasharray="2.2 2.4"/>
<path d="M987.9,2301.6C989.9,2301.3 996,2300.4 1000,2300C1004,2299.6 1009.7,2299.3 1011.6,2299.2" stroke="#111" stroke-width="1.3" fill="none" stroke-linejoin="round"/>
<path d="M1014.8,2309.2C1013.5,2309.8 1005.2,2312.2 1007.2,2312.8C1009.2,2313.5 1025.7,2314.3 1026.7,2313C1027.8,2311.7 1016.4,2306.3 1013.3,2305C1010.3,2303.7 1009.3,2304.1 1008.3,2304.9C1007.4,2305.8 1006.3,2308.9 1007.6,2309.9C1008.8,2311 1012.8,2311.7 1015.8,2311.2C1018.7,2310.6 1026.1,2307.3 1025.3,2306.5C1024.5,2305.7 1013.9,2306 1011,2306.5C1008.1,2307 1007.6,2309.8 1007.7,2309.5C1007.8,2309.2 1008.1,2304.8 1011.6,2304.5C1015,2304.1 1025.3,2306 1028.3,2307.4C1031.3,2308.8 1030.6,2313.1 1029.7,2312.8C1028.8,2312.5 1026.1,2306.7 1022.9,2305.5C1019.7,2304.3 1010.3,2305 1010.5,2305.5C1010.8,2305.9 1022.3,2307.7 1024.7,2308.1" stroke="#111" stroke-width="1.1" fill="none" stroke-linejoin="round"/>
<path d="M1031.7,2313.8C1034.4,2313.5 1043.2,2312 1048.1,2312C1052.9,2312 1056.2,2311.1 1060.8,2313.8C1065.3,2316.5 1071.5,2323.2 1075.4,2328.4C1079.4,2333.6 1082.5,2339.6 1084.5,2344.8C1086.5,2350 1087.6,2353 1087.3,2359.4C1087,2365.8 1085.6,2375.2 1082.7,2383.1C1079.8,2391 1075.5,2399.8 1070,2406.8C1064.5,2413.8 1053.2,2422.1 1049.9,2425.1" stroke="#111" stroke-width="1.3" fill="none" stroke-linejoin="round"/>
<path d="M1049.9,2425.1C1047.5,2426.6 1041.7,2431.9 1035.3,2434.2C1028.9,2436.5 1015.5,2438 1011.6,2438.8" stroke="#3a9a3a" stroke-width="1.1" fill="none" stroke-linejoin="round"/>
<path d="M1011.6,2438.8C1013.7,2439.6 1021.7,2441 1024.4,2443.3C1027.1,2445.6 1025.3,2451.2 1028,2452.4C1030.7,2453.6 1038.7,2450.9 1040.8,2450.6" stroke="#111" stroke-width="1.1" fill="none" stroke-linejoin="round"/>
<path d="M1040.8,2450.6C1043.5,2450.6 1051.4,2452.4 1057.2,2450.6C1063,2448.8 1070.3,2442.8 1075.4,2439.7C1080.5,2436.6 1085.9,2433.3 1088,2432" stroke="#c0282e" stroke-width="1.1" fill="none" stroke-linejoin="round"/>
<path d="M1035,2455C1038.3,2453.8 1049.2,2450.5 1055,2448C1060.8,2445.5 1065,2442.7 1070,2440C1075,2437.3 1081.3,2434 1085,2432C1088.7,2430 1090.8,2428.7 1092,2428" stroke="#7b35a8" stroke-width="1.1" fill="none" stroke-linejoin="round"/>
<path d="M1082.8,2425.7C1086.4,2424.9 1102.9,2421.9 1104.7,2421.2C1106.6,2420.5 1095.1,2420.7 1094.1,2421.7C1093.1,2422.8 1098.5,2425.5 1098.8,2427.3C1099,2429.1 1095.5,2433.6 1095.4,2432.6C1095.2,2431.5 1098.7,2422.2 1097.9,2421.2C1097,2420.1 1090.2,2426.8 1090.1,2426.4C1090.1,2426 1095.9,2419.6 1097.6,2419C1099.3,2418.4 1100.1,2423.4 1100.4,2423C1100.7,2422.7 1099.7,2417.7 1099.5,2416.6" stroke="#111" stroke-width="1.1" fill="none" stroke-linejoin="round"/>
<path d="M1098,2420C1099.2,2421.3 1103.3,2429.7 1105,2428C1106.7,2426.3 1106.8,2414.7 1108,2410C1109.2,2405.3 1110.8,2403 1112,2400C1113.2,2397 1114.5,2393.3 1115,2392" stroke="#c0282e" stroke-width="1.1" fill="none" stroke-linejoin="round"/>
<path d="M1120.1,2384.1C1121.8,2383.9 1128.5,2383 1130.3,2383C1132.2,2382.9 1131.4,2384.8 1131.1,2383.7C1130.8,2382.5 1131.5,2377.3 1128.6,2376.3C1125.8,2375.3 1112.4,2378.4 1114,2377.6C1115.5,2376.9 1136.6,2370.9 1138.1,2371.7C1139.5,2372.4 1124,2380.2 1122.7,2382C1121.3,2383.7 1126.9,2380 1129.9,2382.3C1132.9,2384.5 1140.7,2396.4 1140.8,2395.4C1140.9,2394.4 1130.4,2376.6 1130.5,2376.3C1130.6,2375.9 1142.1,2390.7 1141.5,2393.2C1140.9,2395.8 1126.7,2391.3 1126.7,2391.7C1126.8,2392.2 1139.3,2395.1 1141.8,2395.7" stroke="#111" stroke-width="1.1" fill="none" stroke-linejoin="round"/>
<path d="M1110,2390C1112.5,2390.3 1120,2392.7 1125,2392C1130,2391.3 1135.8,2385.5 1140,2386C1144.2,2386.5 1148.3,2393.5 1150,2395" stroke="#c0282e" stroke-width="1.1" fill="none" stroke-linejoin="round"/>
<path d="M1118,2400C1120,2399.3 1126.3,2397.3 1130,2396C1133.7,2394.7 1138.3,2392.7 1140,2392" stroke="#3a9a3a" stroke-width="1.0" fill="none" stroke-linejoin="round"/>
<circle cx="1152" cy="2379.5" r="3" fill="#111"/>
<text x="1019.8" y="2295.6" font-size="18">t</text>
<text x="1025.2" y="2302.9" font-size="13">0</text>
<text x="1163.9" y="2382.8" font-size="18">t</text>
<text x="1169.3" y="2389.5" font-size="13">440</text>
<text x="979.7" y="2484.4" font-size="20" textLength="110.3" lengthAdjust="spacingAndGlyphs">line attractor</text>
<line x1="1091.8" y1="2472.5" x2="1086" y2="2458.1" stroke="#111" stroke-width="1.5"/>
<path d="M1082.7,2449.7L1091,2458.2L1085.6,2456.9L1082.6,2461.6z" fill="#111"/>
<text x="955.8" y="2290" font-size="15">6</text>
<text x="955.8" y="2388" font-size="15">0</text>
<text x="960.5" y="2463" font-size="15" transform="rotate(-90 960.5 2463)"><tspan dy="0" font-size="17">PC</tspan><tspan dy="6" font-size="11">1</tspan></text>
<text x="961" y="2512" font-size="15">-5</text>
<text x="991" y="2512.6" font-size="15"><tspan dy="0" font-size="17">PC</tspan><tspan dy="6" font-size="11">2</tspan></text>
<text x="1069" y="2512" font-size="15">0</text>
<text x="1153" y="2512" font-size="15">5</text></svg></body></html>
